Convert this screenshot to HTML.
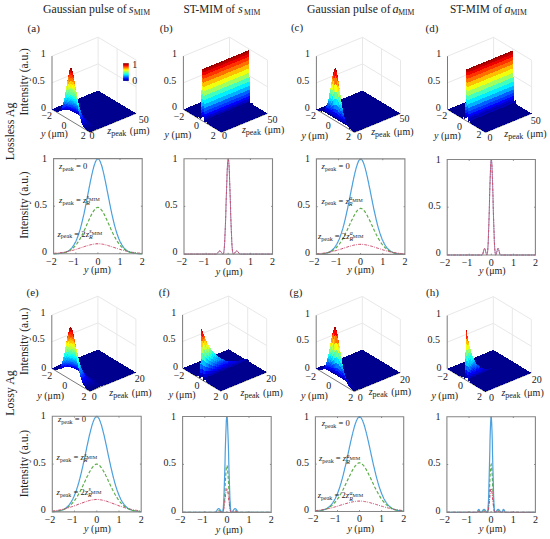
<!DOCTYPE html><html><head><meta charset="utf-8"><style>html,body{margin:0;padding:0;background:#fff}svg{display:block}</style></head><body><svg xmlns="http://www.w3.org/2000/svg" width="550" height="539" viewBox="0 0 550 539" font-family='"Liberation Serif", serif' fill="#222"><rect width="550" height="539" fill="#fff"/><defs><filter id="bl" x="-5%" y="-5%" width="110%" height="110%"><feGaussianBlur stdDeviation="0.4"/></filter></defs><path d="M52 82.8L98.1 63.9" stroke="#e8e8e8" stroke-width="1.0" fill="none"/><path d="M98.1 63.9L136.1 86.8" stroke="#e8e8e8" stroke-width="1.0" fill="none"/><path d="M52 56.1L98.1 37.2" stroke="#e8e8e8" stroke-width="1.0" fill="none"/><path d="M98.1 37.2L136.1 60.1" stroke="#e8e8e8" stroke-width="1.0" fill="none"/><path d="M98.1 90.5L98.1 37.2" stroke="#e8e8e8" stroke-width="1.0" fill="none"/><path d="M117.1 102L117.1 48.7" stroke="#e8e8e8" stroke-width="1.0" fill="none"/><path d="M136.1 113.4L136.1 60.1" stroke="#e8e8e8" stroke-width="1.0" fill="none"/><path d="M52 109.4L52 56.1" stroke="#7a7a7a" stroke-width="1.0" fill="none"/><path d="M52 109.4L90 132.3" stroke="#7a7a7a" stroke-width="1.0" fill="none"/><path d="M90 132.3L136.1 113.4" stroke="#7a7a7a" stroke-width="1.0" fill="none"/><g shape-rendering="crispEdges" filter="url(#bl)" transform="translate(.013 .017)"><path fill="#00008f" d="M63.1 104.9 101.1 127.8 136.1 113.4 98.1 90.5Z"/><path fill="#00008f" d="M63.1 104.7l1.9 1.2 2.8 1.6.7.5.7.4.8.4 1.4.8.7.5 2.8 1.6.8.5 2.1 1.2.7.5 2.1 1.2.8.5 2.1 1.2.7.5 1.4.8.7.5.8.4.7.5 1.4.8.7.5 1.4.8.7.5.8.4.7.5 1.4.8.7.5 1.4.8.7.5.8.4.7.5 1.9 1.1-.3.1-1.9-1.2-1.4-.8-.8-.5-.7-.4-.7-.5-1.4-.8-.7-.5-.7-.4-.7-.5-.8-.4-.7-.4-.7-.5-.7-.4-.7-.5-1.4-.8-.7-.5-.8-.4-.7-.4-.7-.5-1.4-.8-.7-.5-1.4-.8-.8-.5-2.1-1.2-.7-.5-2.1-1.2-.8-.4-.7-.5-3.5-2-.7-.5-.8-.4-2.8-1.6-.7-.5-1.9-1.1zM62.8 104.8l1.9 1.1.7.5 2.8 1.6.8.4.7.5 3.5 2 .7.5.8.4 2.1 1.2.7.5 2.1 1.2.8.5 1.4.8.7.5 1.4.8.7.5.7.4.8.4.7.5 1.4.8.7.5.7.4.7.5.7.4.8.4.7.5.7.4.7.5 1.4.8.7.5.7.4.8.5 1.4.8 1.9 1.2-.3.1-1.9-1.2-.7-.4-.7-.5-1.4-.8-.8-.5-.7-.4-.7-.5-.7-.4-.7-.5-.7-.4-.7-.5-.7-.4-.8-.4-.7-.5-.7-.4-.7-.5-.7-.4-.7-.5-1.4-.8-.8-.5-1.4-.8-.7-.5-2.1-1.2-.7-.5-.8-.4-2.1-1.2-.7-.5-2.1-1.2-.8-.4-1.4-.8-.7-.5-2.8-1.6-.8-.4-.7-.4-.7-.5-.7-.4-1.9-1.1zM62.5 104.9l1.9 1.1.7.4.7.5.7.4.8.4 2.8 1.6.7.5 1.4.8.8.4 2.1 1.2.7.5 2.1 1.2.8.4.7.5 2.1 1.2.7.5 1.4.8.8.5 1.4.8.7.5.7.4.7.5.7.4.7.5.8.4.7.4.7.5.7.4.7.5.7.4.7.5.7.4.8.5 1.4.8.7.5.7.4 1.9 1.2-.3.1-1.9-1.2-.7-.4-.7-.5-.7-.4-.7-.5-.7-.4-.7-.5-.8-.4-.7-.5-.7-.4-.7-.5-.7-.4-.7-.5-.7-.4-.7-.5-.8-.4-.7-.5-1.4-.8-.7-.5-.7-.4-.7-.5-.7-.4-.8-.4-.7-.5-2.1-1.2-.7-.5-1.4-.8-.8-.4-1.4-.8-.7-.5-2.8-1.6-.8-.4-3.5-2-.7-.5-.7-.4-.8-.4-.7-.4-1.9-1.1zM62.2 105l1.9 1.1.7.4.8.4.7.4.7.5 3.5 2 .8.4 2.8 1.6.7.5 1.4.8.8.4 1.4.8.7.5 2.1 1.2.7.5.8.4.7.4.7.5.7.4.7.5 1.4.8.7.5.8.4.7.5.7.4.7.5.7.4.7.5.7.4.7.5.8.4.7.5.7.4.7.5.7.4.7.5.7.4 1.9 1.2-.2.1-1.9-1.2-.8-.5-.7-.4-.7-.5-.7-.4-.7-.5-.7-.4-.7-.5-.7-.4-.8-.5-.7-.4-.7-.5-.7-.4-1.4-1-.7-.4-.7-.5-.8-.4-.7-.5-1.4-.8-.7-.5-.7-.4-.7-.5-.7-.4-.8-.4-.7-.4-.7-.5-3.5-2-.8-.4-1.4-.8-.7-.5-2.8-1.6-.8-.4-4.9-2.8-1.9-1.1zM62 105.1l1.9 1.1 4.9 2.8.8.4 2.8 1.6.7.5 1.4.8.8.4 3.5 2 .7.5.7.4-.2-.1-.7-.4-.8-.4-3.5-2-.7-.5-.7-.4-.8-.4-.7-.3-4.2-2.4-.8-.4-3.5-2-1.9-1.1z"/><path fill="#00009f" d="M81 116l.7.4-.3 0-.7-.4-.7-.5z"/><path fill="#00008f" d="M81.7 116.4l.7.5.7.4.7.5 1.4.8.7.5.8.4.7.5.7.4 1.4 1 .7.4.7.5.7.4.8.5.7.4.7.5.7.4.7.5.7.4.7.5.7.4.8.5 1.9 1.2-.3.1-1.9-1.2-.7-.5-.7-.4-.8-.5-.7-.5-.7-.4-.7-.5-.7-.4-1.4-1-.7-.4-.8-.5-.7-.4-1.4-1-.7-.4-.7-.5-.7-.4-.7-.5-.8-.4-.7-.5-.7-.4-.7-.5-.7-.4zM61.7 105.2l1.9 1.1 3.5 2 .8.4 4.2 2.4.7.3.8.4.7.4-.3 0-2.1-1.2-.8-.3-4.9-2.8-.8-.4-2.1-1.2-1.9-1z"/><path fill="#00009f" d="M74.3 112.2l.7.5 3.5 2 .8.4.7.4.7.5 1.4.8.7.5.7.4.7.5.8.4.7.5.7.4.7.5-.3-.1-.7-.4-.7-.5-.7-.4-1.4-1-.8-.4-.7-.4-.7-.5-1.4-.8-.7-.5-1.4-.8-.8-.4-2.8-1.6z"/><path fill="#00008f" d="M87.1 120l.7.4 1.4 1 .7.4.8.5.7.4 1.4 1 .7.4.7.5.7.4.7.5.8.5.7.4.7.5 1.9 1.2-.3.1-1.9-1.2-1.4-1-.7-.4-.7-.5-.8-.5-.7-.4-1.4-1-.7-.4-2.1-1.5-.8-.4-1.4-1zM61.4 105.3l1.9 1 2.1 1.2.8.4 4.9 2.8-.2-.1-.7-.3-.8-.4-2.1-1.2-.7-.3-2.1-1.2-.8-.4-.7-.4-1.9-1z"/><path fill="#00009f" d="M71.1 110.7l.8.3 4.9 2.8.8.4 1.4.8.7.5 1.4.8.7.5.7.4.8.4 1.4 1 .7.4.7.5.7.4 1.4 1 .8.4.7.5-.3 0-1.4-1-.7-.4-.8-.5-1.4-1-.7-.4-1.4-1-.7-.4-.7-.5-.8-.4-.7-.4-.7-.5-3.5-2-.8-.4-1.4-.8-.7-.3-2.1-1.2z"/><path fill="#00008f" d="M89.7 121.8l1.4 1 .7.4 1.4 1 .7.4.8.5.7.5.7.4 1.4 1 1.9 1.2-.3.1-1.9-1.3-.7-.4-1.4-1-.7-.4-1.4-1-.8-.5-.7-.5-.7-.4-1.4-1zM61.1 105.4l1.9 1 .7.4.8.4 2.1 1.2.7.3 2.1 1.2-.2 0-.7-.4-.8-.4-.7-.3-1.4-.8-.7-.3-2.1-1.2-1.9-1z"/><path fill="#00009f" d="M69.4 109.9l.8.4.7.3 2.1 1.2.7.3 1.4.8.8.4 3.5 2 .7.5.7.4.8.4.7.5.7.4 1.4 1 .7.4 1.4 1 .8.5.7.4 2.8 2-.3 0-4.9-3.5-.8-.5-.7-.5-.7-.4-1.4-1-.7-.4-.7-.5-.7-.4-.8-.4-4.9-2.8-.8-.3-1.4-.8-.7-.3-1.4-.8-.7-.3z"/><path fill="#00008f" d="M90.8 122.8l.7.4.7.5.8.5 1.4 1 .7.4 1.4 1 .7.4 1.9 1.3-.2.1-1.9-1.3-.8-.5-.7-.4-4.2-3-.8-.4zM60.9 105.5l1.9 1 2.1 1.2.7.3 1.4.8.7.3-.2.1-.8-.4-.7-.4-.7-.3-1.4-.8-.7-.3-.7-.4-1.9-1z"/><path fill="#00009f" d="M67.7 109.1l.8.4.7.4.7.3 1.4.8.7.3 1.4.8.8.3 2.1 1.2-.3-.2-.7-.4-.7-.3-1.4-.8-.8-.3-.7-.4-.7-.3-.7-.4-1.4-.6-.7-.4-.7-.3z"/><path fill="#0000af" d="M76 113.4l2.1 1.2.8.4 1.4.8.7.5.7.4 1.4 1 .3.2-1.4-1-.7-.4-.7-.5-.7-.4-.8-.4-2.8-1.6z"/><path fill="#00009f" d="M83.4 117.9l.7.4.7.5.8.5 4.9 3.5.8.4.7.5-.3.1-.7-.6-.7-.5-.8-.5-4.9-3.5-.8-.5-.7-.5z"/><path fill="#00008f" d="M92 123.7l3.5 2.5.7.4.8.5 1.9 1.3-.3.1-1.9-1.3-.7-.5-.8-.5-.7-.5-.7-.4-2.1-1.5zM60.6 105.6l1.9 1 .7.4.7.3 1.4.8.7.3.7.4-.2 0-.7-.3-.8-.4-.7-.3-.7-.4-.7-.3-.7-.4-1.9-1z"/><path fill="#00009f" d="M66.7 108.8l.8.4.7.3.7.4 1.4.6.7.4.7.3.7.4.8.3-.3-.1-.7-.3-.7-.4-.8-.3-1.4-.6-.7-.4-1.4-.6-.7-.4z"/><path fill="#0000af" d="M72.9 111.8l.7.3.7.4.7.3.7.4.7.3.8.4 2.1 1.2.7.5.7.4 1.4 1 .8.5 2.8 2 .3.2-1.4-1-.8-.5-2.1-1.5-.7-.4-.7-.5-1.4-.8-.8-.4-2.8-1.6-.7-.3-1.4-.8z"/><path fill="#00009f" d="M86 119.7l3.5 2.5.8.5.7.5.7.6.7.5-.3 0-.7-.5-.7-.6-1.4-1-.7-.6-.8-.5-.7-.5-.7-.6-.7-.5z"/><path fill="#00008f" d="M92.4 124.3l1.4 1 .7.4.7.5.8.5.7.5 1.9 1.3-.3.1-1.9-1.3-2.1-1.5-.8-.5-1.4-1zM60.3 105.7l1.9 1 .7.4.7.3.7.4.7.3.8.4-.3 0-.7-.3-.7-.4-.8-.3-.7-.4-.7-.3-1.9-1z"/><path fill="#00009f" d="M65.8 108.5l.7.3.7.4 1.4.6.7.4 1.4.6.8.3-.3-.1-1.4-.6-.8-.3-2.1-.9-.7-.4-.7-.3z"/><path fill="#0000af" d="M71.2 111l2.8 1.2.7.4.8.3.7.3 1.4.8.3.3-.7-.4-.8-.4-.7-.3-.7-.4-.7-.3-.7-.4-1.4-.6-.7-.4z"/><path fill="#0000bf" d="M77.6 114l2.1 1.2.7.5.3.3-.7-.4-.7-.5-1.4-.8z"/><path fill="#0000af" d="M80.4 115.7l.8.5 2.8 2 .7.6.7.5.7.6.8.5.2.2-.7-.6-3.5-2.5-.8-.5-1.4-1z"/><path fill="#00009f" d="M87.1 120.6l.7.5.8.5.7.6 1.4 1 .7.6 1.4 1-.2 0-.8-.5-.7-.5-.7-.6-.7-.5-.7-.6-.7-.5-1.4-1.2z"/><path fill="#00008f" d="M92.8 124.8l.7.5.8.5 2.1 1.5 1.9 1.3-.3.1-1.9-1.3-2.8-2-.7-.6zM60 105.8l1.9 1 .7.3.7.4.8.3.7.4-.3 0-1.4-.6-.7-.4-.8-.3-1.9-1z"/><path fill="#00009f" d="M64.8 108.2l1.4.6.7.4 2.1.9.8.3-.3-.1-1.4-.6-.8-.2-2.1-.9-.7-.4z"/><path fill="#0000af" d="M69.5 110.3l.7.3.7.2 2.1.9.8.3.2.2-4.2-1.8z"/><path fill="#0000bf" d="M73.8 112l.7.2.7.4 1.4.6 2.1 1.2.8.4 2.8 2 1.4 1.2.3.2-2.8-2-.8-.5-.7-.5-3.5-2-.7-.3-.8-.3-.7-.4z"/><path fill="#0000af" d="M84 118.2l.7.6.7.5.7.6.8.5 1.4 1.2-.3-.1-2.8-2.4-.8-.6-.7-.5z"/><path fill="#00009f" d="M88.3 121.6l.7.5.7.6.7.5.7.6.7.5.8.5.7.6-.3 0-.7-.5-.7-.6-.7-.5-.8-.6-.7-.6-.7-.5-.7-.6z"/><path fill="#00008f" d="M93.3 125.4l2.8 2 1.9 1.3-.3.1-1.9-1.3-1.4-1-.7-.6-.7-.5zM59.7 105.9l1.9 1 .8.3.7.4 1.4.6-.3.1-1.4-.6-.7-.4-.7-.3-1.9-1z"/><path fill="#00009f" d="M64.5 108.2l.7.4 2.1.9.8.2.7.3-.3 0-1.4-.6-.7-.2-.8-.3-1.4-.6z"/><path fill="#0000af" d="M68.5 110l1.4.4.7.3.7.2.3.2-.7-.3-.7-.2-1.4-.6z"/><path fill="#0000bf" d="M71.3 110.9l.8.2.7.3.7.2 2.1.9.3.4-.7-.3-.7-.4-.7-.2-.8-.3-1.4-.6z"/><path fill="#0000cf" d="M75.6 112.5l1.4.6.8.4 1.4.8 1.4 1 .7.6.3.4-2.1-1.5-.8-.4-2.1-1.2-.7-.3z"/><path fill="#0000bf" d="M81.3 115.9l.7.6.7.5.8.6.7.6.7.7.7.6.3.2-.7-.6-.8-.6-.7-.5-1.4-1.2-.7-.5z"/><path fill="#0000af" d="M85.9 119.7l2.8 2.4-.3-.1-.7-.6-.7-.7-1.4-1.2z"/><path fill="#00009f" d="M88.7 122.1l.7.5.7.6.8.6.7.5.7.6.7.5-.3.1-.7-.6-.7-.5-2.1-1.8-.8-.6z"/><path fill="#00008f" d="M93 125.4l.7.5.7.6 1.4 1 1.9 1.3-.2.1-1.9-1.3-.7-.5-.8-.5-.7-.6-.7-.5zM59.5 106l1.9 1 .7.3.7.4.7.3-.3.1-.7-.3-.7-.4-.7-.3-1.9-1z"/><path fill="#00009f" d="M63.5 108l2.1.9.8.3.7.2.7.3-.3 0-.7-.3-.7-.2-.7-.3-.7-.2-.8-.3-.7-.3z"/><path fill="#0000af" d="M67.5 109.7l2.1.6.8.2.2.2-.7-.3-1.4-.4-.7-.3z"/><path fill="#0000bf" d="M70.4 110.5l.7.2.7.1 1.4.4.3.4-.7-.2-.7-.3-.8-.2-.7-.2z"/><path fill="#0000cf" d="M73.2 111.2l.7.3.7.2.7.3.8.2.7.4.2.5-3.5-1.5z"/><path fill="#0000df" d="M76.8 112.6l.7.3.7.4 1.4 1 .3.5-.7-.5-1.4-.8-.8-.4z"/><path fill="#0000cf" d="M79.6 114.3l.7.5.7.6.8.6.7.6 1 1-.8-.6-.7-.5-1.4-1.2-.7-.5z"/><path fill="#0000bf" d="M83.2 117.3l.7.6.7.7.7.6.7.7.3.2-1.4-1.2-.7-.7-.7-.6z"/><path fill="#0000af" d="M86.3 120.1l.7.6.7.7.7.6.8.6-.3-.1-.7-.6-.7-.7-.8-.6-.7-.7z"/><path fill="#00009f" d="M89.2 122.6l2.1 1.8.7.5.7.6.7.5-.2.1-.8-.6-.7-.5-2.1-1.8-.7-.7z"/><path fill="#00008f" d="M93.4 126l.7.6.8.5.7.5 1.9 1.3-.3.1-1.9-1.3-1.4-1-.7-.6zM59.2 106.1l1.9 1 .7.3.7.4.7.3-.2.1-.8-.3-.7-.3-.7-.4-1.9-.9z"/><path fill="#00009f" d="M63.2 108.1l.7.3.8.3.7.2.7.3.7.2-.3 0-1.4-.4-.7-.3-.7-.2-.7-.3z"/><path fill="#0000af" d="M66.5 109.4l1.4.4.8.1.7.2.2.2-2.1-.6-.7-.3z"/><path fill="#0000bf" d="M69.4 110.1l.7.1.7.2.7.1.3.3-.7-.1-.7-.2-.8-.2z"/><path fill="#0000cf" d="M71.5 110.5l.7.2.7.1.7.2.3.5-.7-.3-1.4-.4z"/><path fill="#0000df" d="M73.6 111l.8.2 1.4.4.7.3.7.4.7.3 1.4 1 .8.6.7.6.7.7.7.6.3.5-.7-.6-.8-.6-.7-.6-2.1-1.5-.7-.4-.7-.3-.7-.4-.8-.2-.7-.3-.7-.2z"/><path fill="#0000cf" d="M82.2 116.1l2.1 2.1.3.4-.7-.7-.7-.6-.7-.7z"/><path fill="#0000bf" d="M84.6 118.6l.7.6.5.5-.8-.7-.7-.8z"/><path fill="#0000af" d="M86.7 120.6l.8.6.7.7.7.6.7.7-.3 0z"/><path fill="#00009f" d="M89.6 123.2l2.1 1.8.7.5.8.6-.3.1-1.4-1.2-.8-.6-1.4-1.2z"/><path fill="#00008f" d="M93.2 126.1l.7.6 1.4 1 1.9 1.3-.3.2-1.9-1.4-1.4-1-.7-.6zM58.9 106.3l1.9.9.7.4.7.3.8.3-.3.1-1.4-.6-.8-.4-1.9-.9z"/><path fill="#00009f" d="M63 108.2l.7.3.7.2.7.3.7.2-.3 0-1.4-.4-.7-.3-.7-.2z"/><path fill="#0000af" d="M65.8 109.2l2.1.6.8.1-.3-.1-1.4-.2-.8-.2-.7-.2z"/><path fill="#0000bf" d="M68.4 109.8l1.4.2.3.2-.7-.1-.7-.2z"/><path fill="#0000cf" d="M69.8 110l.7.1.7 0 .7.1.3.5-.7-.2-.7-.1-.7-.2z"/><path fill="#0000df" d="M71.9 110.2l.8.1 1.4.2.3.7-.8-.2-.7-.2-.7-.1z"/><path fill="#0000ef" d="M74.1 110.5l1.4.4 1.4.6.7.4.8.4 2.1 1.8.7.7.3.7-.7-.7-.7-.6-.8-.6-1.4-1-.7-.3-.7-.4-.7-.3-1.4-.4z"/><path fill="#0000df" d="M81.2 114.8l.7.8.7.7.7.8.3.4-1.4-1.4-.7-.6z"/><path fill="#0000cf" d="M83.3 117.1l.8.8.7.8 1 1-.8-.7-.7-.8-.7-.7z"/><path fill="#0000bf" d="M87.2 121.1l-.3-.1-1.4-1.6z"/><path fill="#0000af" d="M87.2 121.1l2.1 2.1.7.6-.2 0-.8-.7-2.1-2.1z"/><path fill="#00009f" d="M90 123.8l.7.6.8.6 1.4 1.2-.3.1-2.1-1.8-.7-.7z"/><path fill="#00008f" d="M92.9 126.2l.7.6 1.4 1 1.9 1.4-.3.1-1.9-1.3-.7-.6-.7-.5-.7-.6zM58.6 106.4l1.9.9.8.4 1.4.6-.3.1-2.1-.9-1.9-1z"/><path fill="#00009f" d="M62.7 108.3l.7.2.7.3 1.4.4-.3.1-1.4-.4-.7-.3-.7-.2z"/><path fill="#0000af" d="M65.5 109.2l.7.2.8.2.7.1-.3-.1-1.4-.2-.8-.1z"/><path fill="#0000bf" d="M67.4 109.6l.7.1.7 0 .3.2-1.4-.2z"/><path fill="#0000cf" d="M68.8 109.7l1.4 0 .3.4-1.4-.2z"/><path fill="#0000df" d="M70.2 109.7l1.5 0 .7.1.3.5-.8-.1-.7-.1-.7 0z"/><path fill="#0000ef" d="M72.4 109.8l.7 0 .7.1.3.6-1.4-.2z"/><path fill="#0000ff" d="M73.8 109.9l1.4.2.7.2.7.3.3.9-1.4-.6-1.4-.4z"/><path fill="#0010ff" d="M76.6 110.6l.8.4.7.5.3.8-.8-.4-.7-.4z"/><path fill="#0000ff" d="M78.1 111.5l.7.5 2.1 2.1.3.7-.7-.7-2.1-1.8z"/><path fill="#0000ef" d="M80.9 114.1l.7.8.7.9.3.5-.7-.7-.7-.8z"/><path fill="#0000df" d="M82.3 115.8l.8.8.7.9.7.8.3.4-.7-.8-.8-.8-.7-.8z"/><path fill="#0000cf" d="M84.8 118.7l.7.7.7.8-.3-.2-.7-.8-.7-.9z"/><path fill="#0000bf" d="M86.2 120.2l.7.8.7.7-.3-.1-1.4-1.6z"/><path fill="#0000af" d="M87.6 121.7l1.4 1.4.8.7-.3.1-.7-.8-.8-.7-.7-.8z"/><path fill="#00009f" d="M89.8 123.8l.7.7 2.1 1.8-.3.1-1.4-1.2-.7-.7-.7-.6z"/><path fill="#00008f" d="M92.6 126.3l.7.6.7.5.7.6 1.9 1.3-.2.1-1.9-1.3-.8-.5-1.4-1.2zM58.4 106.5l1.9 1 2.1.9-.3.1-2.1-.9-1.9-.9z"/><path fill="#00009f" d="M62.4 108.4l.7.2.7.3 1.4.4-.2 0-.7-.2-.8-.1-.7-.2-.7-.3z"/><path fill="#0000af" d="M65.2 109.3l.8.1.7.1-.3 0-1.4-.2z"/><path fill="#0000bf" d="M68.5 109.5l.3.2-.7 0-1.4-.2z"/><path fill="#0000cf" d="M68.5 109.5l.7 0 .3.2-.7 0z"/><path fill="#0000df" d="M69.2 109.5l.8-.1.7-.1.2.4-1.4 0z"/><path fill="#0000ef" d="M70.7 109.3l1.4-.2.3.7-.7-.1-.8 0z"/><path fill="#0000ff" d="M72.1 109.1l1.4 0 .3.8-.7-.1-.7 0z"/><path fill="#0010ff" d="M73.5 109.1l.7 0 .7.1.8.2.2.9-.7-.2-1.4-.2z"/><path fill="#0020ff" d="M75.7 109.4l.7.2.7.4.7.5.7.6.3.9-1.4-1-.8-.4-.7-.3z"/><path fill="#0010ff" d="M78.5 111.1l1.4 1.4.7.9.3.7-2.1-2.1z"/><path fill="#0000ff" d="M80.6 113.4l.8.8.7 1 .2.6-.7-.9-.7-.8z"/><path fill="#0000ef" d="M82.1 115.2l1.4 1.8.3.5-.7-.9-.8-.8z"/><path fill="#0000df" d="M83.8 117.5l.7.8.7.9-.3-.3-.7-.9-.7-1z"/><path fill="#0000cf" d="M85.2 119.2l.7.8-.3-.2-.7-.9z"/><path fill="#0000bf" d="M85.9 120l2.1 2.4-.2 0-.7-.9-.8-.8-.7-.9z"/><path fill="#0000af" d="M88 122.4l.8.7.7.8-.3 0-.7-.8-.7-.7z"/><path fill="#00009f" d="M89.5 123.9l.7.6.7.7 1.4 1.2-.3.1-1.4-1.2-1.4-1.4z"/><path fill="#00008f" d="M92.3 126.4l1.4 1.2.8.5 1.9 1.3-.3.2-1.9-1.4-.7-.5-.7-.6-.8-.6zM58.1 106.7l1.9.9 2.1.9-.3.1-.7-.2-1.4-.6-1.9-1z"/><path fill="#00009f" d="M62.1 108.5l.7.3.7.2.8.1.7.2-.3.1-.7-.2-.7-.1-.7-.2-.8-.3z"/><path fill="#0000af" d="M65 109.3l1.4.2-.3 0-.7-.1-.7 0z"/><path fill="#0000bf" d="M66.8 109.5l.7-.1.3.1z"/><path fill="#0000cf" d="M67.5 109.4l.8-.1.7-.1.2.3-1.4 0z"/><path fill="#0000df" d="M69 109.2l.7-.2.3.4-.8.1z"/><path fill="#0000ef" d="M69.7 109l.7-.2.7-.1.3.5-1.4.2z"/><path fill="#0000ff" d="M71.1 108.7l.7-.2.3.6-.7.1z"/><path fill="#0010ff" d="M71.8 108.5l.7-.2.7-.1.3.9-1.4 0z"/><path fill="#0020ff" d="M73.2 108.2l.8-.1.7.1.2 1-.7-.1-.7 0z"/><path fill="#0030ff" d="M74.7 108.2l.7.1.7.2.7.3.7.5 1.4 1.4.3 1.1-.7-.7-.7-.6-.7-.5-.7-.4-.7-.2-.8-.2z"/><path fill="#0020ff" d="M78.9 110.7l.8.9.7.9.2.9-.7-.9-.7-.7z"/><path fill="#0010ff" d="M80.4 112.5l1.4 2 .3.7-.7-1-.8-.8z"/><path fill="#0000ff" d="M81.8 114.5l.7 1 .3.6-.7-.9z"/><path fill="#0000ef" d="M82.5 115.5l.7 1.1.7 1 .3.4-.7-1-.7-.9z"/><path fill="#0000df" d="M84.2 118l.7.9-.3-.3-.7-1z"/><path fill="#0000cf" d="M84.9 118.9l1.4 1.8-.2-.1-.7-1-.8-1z"/><path fill="#0000bf" d="M86.3 120.7l.8.8.7.9-.3-.1-.7-.8-.7-.9z"/><path fill="#0000af" d="M87.8 122.4l.7.7.7.8-.3.1-.7-.8-.7-.9z"/><path fill="#00009f" d="M89.2 123.9l1.4 1.4 1.4 1.2-.2.2-.7-.7-.8-.6-1.4-1.4z"/><path fill="#00008f" d="M92 126.5l.8.6.7.6.7.5 1.9 1.4-.3.1-1.9-1.3-.7-.6-.7-.5-.7-.6zM57.8 106.8l1.9 1 1.4.6.7.2-.2.2-.7-.3-.8-.3-.7-.3-1.9-1z"/><path fill="#00009f" d="M61.8 108.6l.8.3.7.2.7.1-.3.1-.7-.1-1.4-.4z"/><path fill="#0000af" d="M64 109.2l.7.2.7 0 .7.1-1 0-1.4-.2z"/><path fill="#0000bf" d="M65.8 109.5l.8-.1.2.1z"/><path fill="#0000cf" d="M66.6 109.4l.7-.1.7-.2.3.2-.8.1-.7.1z"/><path fill="#0000df" d="M68 109.1l.7-.2.3.3-.7.1z"/><path fill="#0000ef" d="M68.7 108.9l1.4-.6.3.5-1.4.4z"/><path fill="#0000ff" d="M70.1 108.3l.7-.3.3.7-.7.1z"/><path fill="#0010ff" d="M70.8 108l.7-.3.3.8-.7.2z"/><path fill="#0020ff" d="M71.5 107.7l.8-.2.2.8-.7.2z"/><path fill="#0030ff" d="M72.3 107.5l.7-.3.7-.1.3 1-.8.1-.7.1z"/><path fill="#0040ff" d="M73.7 107.1l.7-.1.7 0 .3 1.3-1.4-.2z"/><path fill="#0050ff" d="M75.1 107l.7.2.7.3.7.6.8.7.2 1.2-.7-.7-.7-.5-.7-.3-.7-.2z"/><path fill="#0040ff" d="M78 108.8l.7.8.7.9.3 1.1-.8-.9-.7-.7z"/><path fill="#0030ff" d="M79.4 110.5l.7 1 .7 1.1.3.9-.7-1-.7-.9z"/><path fill="#0020ff" d="M80.8 112.6l.7 1.2.3.7-.7-1z"/><path fill="#0010ff" d="M81.5 113.8l.7 1.1.3.6-.7-1z"/><path fill="#0000ff" d="M82.2 114.9l.7 1.2.3.5-.7-1.1z"/><path fill="#0000ef" d="M82.9 116.1l.8 1.1.7 1.1.2.3-1.4-2z"/><path fill="#0000df" d="M84.6 118.6l.8 1-.3-.2-.7-1.1z"/><path fill="#0000cf" d="M85.4 119.6l.7 1 .7.9-.3-.1-1.4-2z"/><path fill="#0000bf" d="M86.8 121.5l.7.8-.3 0-.7-.9z"/><path fill="#0000af" d="M87.5 122.3l.7.9.7.8.7.7-.2.1-.8-.8-.7-.8-.7-.9z"/><path fill="#00009f" d="M89.6 124.7l.7.7.8.6.7.7-.3.1-.7-.6-1.4-1.4z"/><path fill="#00008f" d="M91.8 126.7l.7.6.7.5.7.6 1.9 1.3-.3.1-1.9-1.3-.7-.5-1.4-1.2zM57.5 106.9l1.9 1 .7.3.8.3.7.3-.3.1-.7-.2-.7-.3-.7-.4-1.9-.9z"/><path fill="#00009f" d="M61.6 108.8l1.4.4.7.1-.3.1-.7-.1-1.4-.4z"/><path fill="#0000af" d="M63.7 109.3l1.4.2-1 0-.7-.1z"/><path fill="#0000bf" d="M65.6 109.5l.7-.2.3.1-.8.1z"/><path fill="#0000cf" d="M66.3 109.3l.7-.2.3.2-.7.1z"/><path fill="#0000df" d="M67 109.1l.7-.2.7-.3.3.3-1.4.4z"/><path fill="#0000ef" d="M68.4 108.6l.7-.4.3.4-.7.3z"/><path fill="#0000ff" d="M69.1 108.2l.7-.4.3.5-.7.3z"/><path fill="#0010ff" d="M69.8 107.8l.8-.4.2.6-.7.3z"/><path fill="#0020ff" d="M70.6 107.4l.7-.4.2.7-.7.3z"/><path fill="#0030ff" d="M71.3 107l.7-.4.3.9-.8.2z"/><path fill="#0040ff" d="M72 106.6l.7-.4.3 1-.7.3z"/><path fill="#0050ff" d="M72.7 106.2l.7-.3.7-.2.3 1.3-1.4.2z"/><path fill="#0060ff" d="M74.1 105.7l.7 0 .7.1.3 1.4-.7-.2-.7 0z"/><path fill="#0070ff" d="M75.5 105.8l.8.3.7.5.2 1.5-.7-.6-.7-.3z"/><path fill="#0060ff" d="M77 106.6l.7.8.7.9.3 1.3-.7-.8-.8-.7z"/><path fill="#0050ff" d="M78.4 108.3l.7 1 .7 1.2.3 1-.7-1-.7-.9z"/><path fill="#0040ff" d="M79.8 110.5l.7 1.2.3.9-.7-1.1z"/><path fill="#0030ff" d="M80.5 111.7l.7 1.3.3.8-.7-1.2z"/><path fill="#0020ff" d="M81.2 113l.8 1.3.2.6-.7-1.1z"/><path fill="#0010ff" d="M82 114.3l.7 1.2.2.6-.7-1.2z"/><path fill="#0000ff" d="M82.7 115.5l.7 1.3.3.4-.8-1.1z"/><path fill="#0000ef" d="M83.7 117.2l.7 1.1-.3-.3-.7-1.2z"/><path fill="#0000df" d="M84.4 118.3l.7 1.1.7 1-.3-.1-.7-1.1-.7-1.2z"/><path fill="#0000cf" d="M85.8 120.4l.7 1-.3 0-.7-1.1z"/><path fill="#0000bf" d="M86.5 121.4l1.4 1.8-.2.1-.8-1-.7-.9z"/><path fill="#0000af" d="M87.9 123.2l.7.8.8.8-.3.1-1.4-1.6z"/><path fill="#00009f" d="M89.4 124.8l1.4 1.4.7.6-.3.1-.7-.6-1.4-1.4z"/><path fill="#00008f" d="M91.5 126.8l1.4 1.2.7.5 1.9 1.3-.2.2-1.9-1.3-.8-.6-1.4-1.2zM57.3 107.1l1.9.9.7.4.7.3.7.2-.3.2-2.1-.9-1.9-1z"/><path fill="#00009f" d="M61.3 108.9l1.4.4.7.1-.2.2-.8-.2-.7-.1-.7-.2z"/><path fill="#0000af" d="M63.4 109.4l.7.1.8 0-.3.1-1.4 0z"/><path fill="#0000bf" d="M64.6 109.6l.7-.1.7-.2.3 0-.7.2-.7 0z"/><path fill="#0000cf" d="M66 109.3l.7-.3.3.1-.7.2z"/><path fill="#0000df" d="M66.7 109l.7-.3.3.2-.7.2z"/><path fill="#0000ef" d="M67.4 108.7l.7-.4.3.3-.7.3z"/><path fill="#0000ff" d="M68.1 108.3l.8-.5.2.4-.7.4z"/><path fill="#0010ff" d="M68.9 107.8l.7-.5.2.5-.7.4z"/><path fill="#0020ff" d="M69.6 107.3l.7-.6.3.7-.8.4z"/><path fill="#0030ff" d="M70.3 106.7l.7-.6.3.9-.7.4z"/><path fill="#0040ff" d="M71 106.1l.7-.5.3 1-.7.4z"/><path fill="#0050ff" d="M71.7 105.6l.7-.5.3 1.1-.7.4z"/><path fill="#0060ff" d="M72.4 105.1l.7-.5.3 1.3-.7.3z"/><path fill="#0070ff" d="M73.1 104.6l.7-.3.3 1.4-.7.2z"/><path fill="#0080ff" d="M73.8 104.3l.8-.1.7 0 .2 1.6-.7-.1-.7 0z"/><path fill="#008fff" d="M75.3 104.2l.7.3.7.6.3 1.5-.7-.5-.8-.3z"/><path fill="#0080ff" d="M76.7 105.1l.7.8.7 1 .3 1.4-.7-.9-.7-.8z"/><path fill="#0070ff" d="M78.1 106.9l.7 1.2.3 1.2-.7-1z"/><path fill="#0060ff" d="M78.8 108.1l.7 1.3.3 1.1-.7-1.2z"/><path fill="#0050ff" d="M79.5 109.4l.8 1.3.2 1-.7-1.2z"/><path fill="#0040ff" d="M80.3 110.7l.7 1.4.2.9-.7-1.3z"/><path fill="#0030ff" d="M81 112.1l.7 1.5.3.7-.8-1.3z"/><path fill="#0020ff" d="M81.7 113.6l.7 1.4.3.5-.7-1.2z"/><path fill="#0010ff" d="M82.7 115.5l.7 1.3-.3-.4-.7-1.4z"/><path fill="#0000ff" d="M83.4 116.8l.7 1.2-.3-.3-.7-1.3z"/><path fill="#0000ef" d="M84.1 118l.7 1.2-.3-.2-.7-1.3z"/><path fill="#0000df" d="M84.8 119.2l.7 1.1-.3-.1-.7-1.2z"/><path fill="#0000cf" d="M85.5 120.3l.7 1.1-.2-.1-.8-1.1z"/><path fill="#0000bf" d="M86.2 121.4l.7.9.8 1-.3 0-1.4-2z"/><path fill="#0000af" d="M87.7 123.3l1.4 1.6-.3.1-.7-.8-.7-.9z"/><path fill="#00009f" d="M89.1 124.9l1.4 1.4.7.6-.3.2-.7-.6-.7-.7-.7-.8z"/><path fill="#00008f" d="M91.2 126.9l1.4 1.2.8.6 1.9 1.3-.3.1-1.9-1.3-.7-.5-.7-.6-.8-.6zM57 107.2l1.9 1 2.1.9.7.2-.2.1-.8-.2-.7-.2-.7-.3-.7-.4-1.9-.9z"/><path fill="#00009f" d="M61.7 109.3l.7.1.8.2-.3.1-.7-.1-.7-.2z"/><path fill="#0000af" d="M63.2 109.6l1.1 0-.7.1-.7 0z"/><path fill="#0000bf" d="M64.3 109.6l.7-.1.7-.2.3 0-.7.2-.7.1z"/><path fill="#0000cf" d="M65.7 109.3l.7-.4.3.1-.7.3z"/><path fill="#0000df" d="M66.4 108.9l.8-.4.2.2-.7.3z"/><path fill="#0000ef" d="M67.2 108.5l.7-.5.2.3-.7.4z"/><path fill="#0000ff" d="M67.9 108l.7-.6.3.4-.8.5z"/><path fill="#0020ff" d="M68.6 107.4l.7-.7.3.6-.7.5z"/><path fill="#0030ff" d="M69.3 106.7l.7-.7.3.7-.7.6z"/><path fill="#0040ff" d="M70 106l.7-.8.3.9-.7.6z"/><path fill="#0050ff" d="M70.7 105.2l.7-.7.3 1.1-.7.5z"/><path fill="#0070ff" d="M71.4 104.5l.7-.7.3 1.3-.7.5z"/><path fill="#0080ff" d="M72.1 103.8l.8-.5.2 1.3-.7.5z"/><path fill="#008fff" d="M72.9 103.3l.7-.5.2 1.5-.7.3z"/><path fill="#009fff" d="M73.6 102.8l.7-.2.7-.1.3 1.7-.7 0-.8.1z"/><path fill="#00afff" d="M75 102.5l.7.3.7.6.3 1.7-.7-.6-.7-.3z"/><path fill="#009fff" d="M76.4 103.4l.7.9.7 1.1.3 1.5-.7-1-.7-.8z"/><path fill="#008fff" d="M77.8 105.4l.8 1.3.2 1.4-.7-1.2z"/><path fill="#0080ff" d="M78.6 106.7l.7 1.4.2 1.3-.7-1.3z"/><path fill="#0070ff" d="M79.3 108.1l.7 1.6.3 1-.8-1.3z"/><path fill="#0050ff" d="M80 109.7l.7 1.5.3.9-.7-1.4z"/><path fill="#0040ff" d="M80.7 111.2l.7 1.6.3.8-.7-1.5z"/><path fill="#0030ff" d="M81.4 112.8l.7 1.6-.4-.8z"/><path fill="#0020ff" d="M83.1 116.4l-.3-.5-.7-1.5z"/><path fill="#0000ff" d="M83.1 116.4l.7 1.3-.3-.3-.7-1.5z"/><path fill="#0000ef" d="M83.8 117.7l.7 1.3-.2-.2-.8-1.4z"/><path fill="#0000df" d="M84.5 119l.7 1.2-.2-.1-.7-1.3z"/><path fill="#0000cf" d="M85.2 120.2l.8 1.1-.3 0-.7-1.2z"/><path fill="#0000bf" d="M86 121.3l1.4 2-.3.1-.7-1-.7-1.1z"/><path fill="#0000af" d="M87.4 123.3l.7.9.7.8-.3.1-.7-.8-.7-.9z"/><path fill="#00009f" d="M88.8 125l.7.8.7.7-.2.1-.8-.7-.7-.8z"/><path fill="#00008f" d="M90.2 126.5l.7.6.8.6.7.6.7.5 1.9 1.3-.3.2-1.9-1.4-.7-.5-2.1-1.8zM56.7 107.4l1.9.9.7.4.7.3.7.2.8.2-.3.2-.7-.2-.7-.3-.8-.3-.7-.3-1.9-1z"/><path fill="#00009f" d="M61.5 109.4l.7.2.7.1-.3.1-1.4-.2z"/><path fill="#0000af" d="M62.9 109.7l.7 0 .7-.1-.3.1-.7.1-.7 0z"/><path fill="#0000bf" d="M64 109.7l.7-.2.3 0-.7.1z"/><path fill="#0000cf" d="M64.7 109.5l.8-.3.7-.4.2.1-.7.4-.7.2z"/><path fill="#0000df" d="M66.2 108.8l.7-.5.3.2-.8.4z"/><path fill="#0000ff" d="M66.9 108.3l.7-.6.3.3-.7.5z"/><path fill="#0010ff" d="M67.6 107.7l.7-.8.3.5-.7.6z"/><path fill="#0020ff" d="M68.3 106.9l.7-.8.3.6-.7.7z"/><path fill="#0040ff" d="M69 106.1l.7-.9.3.8-.7.7z"/><path fill="#0050ff" d="M69.7 105.2l.7-.9.3.9-.7.8z"/><path fill="#0070ff" d="M70.4 104.3l.8-.9.2 1.1-.7.7z"/><path fill="#0080ff" d="M71.2 103.4l.7-.9.2 1.3-.7.7z"/><path fill="#009fff" d="M71.9 102.5l.7-.7.3 1.5-.8.5z"/><path fill="#00afff" d="M72.6 101.8l.7-.6.3 1.6-.7.5z"/><path fill="#00bfff" d="M73.3 101.2l.7-.4.3 1.8-.7.2z"/><path fill="#00cfff" d="M74 100.8l.7-.1.7.2.7.6.8 1 .2 1.8-.7-.9-.7-.6-.7-.3-.7.1z"/><path fill="#00bfff" d="M76.9 102.5l.7 1.2.2 1.7-.7-1.1z"/><path fill="#00afff" d="M77.6 103.7l.7 1.5.3 1.5-.8-1.3z"/><path fill="#009fff" d="M78.3 105.2l.7 1.6.3 1.3-.7-1.4z"/><path fill="#0080ff" d="M79 106.8l.7 1.7.3 1.2-.7-1.6z"/><path fill="#0070ff" d="M79.7 108.5l.7 1.8.3.9-.7-1.5z"/><path fill="#0050ff" d="M80.4 110.3l.7 1.8.3.7-.7-1.6z"/><path fill="#0040ff" d="M81.4 112.8l.7 1.6-.3-.6-.7-1.7z"/><path fill="#0020ff" d="M82.1 114.4l.7 1.5-.2-.4-.8-1.7z"/><path fill="#0010ff" d="M82.8 115.9l.7 1.5-.2-.3-.7-1.6z"/><path fill="#0000ff" d="M83.5 117.4l.8 1.4-.3-.2-.7-1.5z"/><path fill="#0000df" d="M84.3 118.8l.7 1.3-.3-.1-.7-1.4z"/><path fill="#0000cf" d="M85 120.1l.7 1.2.7 1.1-.3 0-.7-1.1-.7-1.3z"/><path fill="#0000bf" d="M86.4 122.4l.7 1-.3.1-.7-1.1z"/><path fill="#0000af" d="M87.1 123.4l.7.9.7.8-.2.2-.8-.9-.7-.9z"/><path fill="#00009f" d="M88.5 125.1l.7.8.8.7-.3.1-1.4-1.4z"/><path fill="#00008f" d="M90 126.6l2.1 1.8.7.5 1.9 1.4-.3.1-1.9-1.3-.7-.5-1.4-1.2-.7-.7zM56.4 107.5l1.9 1 .7.3.8.3.7.3.7.2-.3.1-.7-.2-1.4-.6-.8-.3-1.9-1z"/><path fill="#00009f" d="M61.2 109.6l1.4.2-.3.1-.7 0-.7-.2z"/><path fill="#0000af" d="M62.6 109.8l.7 0 .7-.1-.3.1-.7.1-.7 0z"/><path fill="#0000bf" d="M64 109.7l.7-.2-.2.1-.8.2z"/><path fill="#0000cf" d="M64.5 109.6l.7-.4.3 0-.8.3z"/><path fill="#0000df" d="M65.2 109.2l.7-.5.3.1-.7.4z"/><path fill="#0000ef" d="M65.9 108.7l.7-.6.3.2-.7.5z"/><path fill="#0000ff" d="M66.6 108.1l.7-.8.3.4-.7.6z"/><path fill="#0010ff" d="M67.3 107.3l.7-.8.3.4-.7.8z"/><path fill="#0030ff" d="M68 106.5l.7-1 .3.6-.7.8z"/><path fill="#0050ff" d="M68.7 105.5l.7-1.1.3.8-.7.9z"/><path fill="#0060ff" d="M69.4 104.4l.8-1.1.2 1-.7.9z"/><path fill="#0080ff" d="M70.2 103.3l.7-1.1.3 1.2-.8.9z"/><path fill="#009fff" d="M70.9 102.2l.7-1.1.3 1.4-.7.9z"/><path fill="#00afff" d="M71.6 101.1l.7-.9.3 1.6-.7.7z"/><path fill="#00cfff" d="M72.3 100.2l.7-.8.3 1.8-.7.6z"/><path fill="#00dfff" d="M73 99.4l.7-.5.3 1.9-.7.4z"/><path fill="#00efff" d="M73.7 98.9l.7-.2.7.2.8.6.7 1.1.3 1.9-.8-1-.7-.6-.7-.2-.7.1z"/><path fill="#00dfff" d="M76.6 100.6l.7 1.4.3 1.7-.7-1.2z"/><path fill="#00cfff" d="M77.3 102l.7 1.6.3 1.6-.7-1.5z"/><path fill="#00afff" d="M78 103.6l.7 1.8.3 1.4-.7-1.6z"/><path fill="#009fff" d="M78.7 105.4l.7 1.9.3 1.2-.7-1.7z"/><path fill="#0080ff" d="M79.4 107.3l.7 2 .3 1-.7-1.8z"/><path fill="#0060ff" d="M80.1 109.3l.7 2 .3.8-.7-1.8z"/><path fill="#0050ff" d="M80.8 111.3l.8 1.9.2.6-.7-1.7z"/><path fill="#0030ff" d="M81.8 113.8l.8 1.7-.3-.5-.7-1.8z"/><path fill="#0010ff" d="M82.6 115.5l.7 1.6-.3-.3-.7-1.8z"/><path fill="#0000ff" d="M83.3 117.1l.7 1.5-.3-.2-.7-1.6z"/><path fill="#0000ef" d="M84 118.6l.7 1.4-.3-.1-.7-1.5z"/><path fill="#0000df" d="M84.7 120l.7 1.3-.3-.1-.7-1.3z"/><path fill="#0000cf" d="M85.4 121.3l.7 1.1-.3.1-.7-1.3z"/><path fill="#0000bf" d="M86.1 122.4l.7 1.1-.3 0-.7-1z"/><path fill="#0000af" d="M86.8 123.5l.7.9.8.9-.3.1-.7-.9-.8-1z"/><path fill="#00009f" d="M88.3 125.3l1.4 1.4-.3.2-.7-.7-.7-.8z"/><path fill="#00008f" d="M89.7 126.7l.7.7 1.4 1.2.7.5 1.9 1.3-.3.1-1.9-1.3-.7-.5-2.1-1.8zM56.1 107.6l1.9 1 .8.3 1.4.6.7.2-.3.2-.7-.2-1.4-.6-.7-.4-1.9-1z"/><path fill="#00009f" d="M60.9 109.7l.7.2.7 0-.3.2-1.4-.2z"/><path fill="#0000af" d="M62.3 109.9l.7 0 .7-.1-.2.1-.7.1-.8.1z"/><path fill="#0000bf" d="M63.5 109.9l.7-.3.3 0-.8.2z"/><path fill="#0000cf" d="M64.2 109.6l.7-.4.3 0-.7.4z"/><path fill="#0000df" d="M64.9 109.2l.7-.6.3.1-.7.5z"/><path fill="#0000ef" d="M65.6 108.6l.7-.7.3.2-.7.6z"/><path fill="#0010ff" d="M66.3 107.9l.7-.9.3.3-.7.8z"/><path fill="#0020ff" d="M67 107l.7-1 .3.5-.7.8z"/><path fill="#0040ff" d="M67.7 106l.8-1.2.2.7-.7 1z"/><path fill="#0060ff" d="M68.5 104.8l.7-1.2.2.8-.7 1.1z"/><path fill="#0080ff" d="M69.2 103.6l.7-1.3.3 1-.8 1.1z"/><path fill="#009fff" d="M69.9 102.3l.7-1.4.3 1.3-.7 1.1z"/><path fill="#00bfff" d="M70.6 100.9l.7-1.3.3 1.5-.7 1.1z"/><path fill="#00cfff" d="M71.3 99.6l.7-1.1.3 1.7-.7.9z"/><path fill="#00efff" d="M72 98.5l.7-1 .3 1.9-.7.8z"/><path fill="#00ffff" d="M72.7 97.5l.7-.6.3 2-.7.5z"/><path fill="#10ffef" d="M73.4 96.9l.8-.3.2 2.1-.7.2z"/><path fill="#20ffdf" d="M74.2 96.6l.7.1.7.7.3 2.1-.8-.6-.7-.2z"/><path fill="#10ffef" d="M75.6 97.4l.7 1.2.3 2-.7-1.1z"/><path fill="#00ffff" d="M76.3 98.6l.7 1.5.3 1.9-.7-1.4z"/><path fill="#00efff" d="M77 100.1l.7 1.8.3 1.7-.7-1.6z"/><path fill="#00cfff" d="M77.7 101.9l.7 2 .3 1.5-.7-1.8z"/><path fill="#00bfff" d="M78.4 103.9l.7 2.2.3 1.2-.7-1.9z"/><path fill="#009fff" d="M79.1 106.1l.8 2.2.2 1-.7-2z"/><path fill="#0080ff" d="M79.9 108.3l.7 2.1.2.9-.7-2z"/><path fill="#0060ff" d="M80.6 110.4l.7 2.2.3.6-.8-1.9z"/><path fill="#0040ff" d="M81.6 113.2l.7 1.8-.3-.4-.7-2z"/><path fill="#0020ff" d="M82.3 115l.7 1.8-.3-.3-.7-1.9z"/><path fill="#0010ff" d="M83 116.8l.7 1.6-.3-.2-.7-1.7z"/><path fill="#0000ef" d="M83.7 118.4l.7 1.5-.3-.1-.7-1.6z"/><path fill="#0000df" d="M84.4 119.9l.7 1.3-.3 0-.7-1.4z"/><path fill="#0000cf" d="M85.1 121.2l.7 1.3-.2 0-.8-1.3z"/><path fill="#0000bf" d="M85.8 122.5l.7 1-.2.1-.7-1.1z"/><path fill="#0000af" d="M86.5 123.5l.8 1 .7.9-.3.1-.7-.9-.7-1z"/><path fill="#00009f" d="M88 125.4l.7.8.7.7-.3.1-.7-.7-.7-.8z"/><path fill="#00008f" d="M89.4 126.9l2.1 1.8.7.5 1.9 1.3-.2.1-1.9-1.2-.7-.6-.8-.5-.7-.6-.7-.7zM55.9 107.7l1.9 1 .7.4 1.4.6.7.2-.3.1-.7-.2-2.1-.9-1.9-1z"/><path fill="#00009f" d="M60.6 109.9l1.4.2-.2.1-.7 0-.8-.2z"/><path fill="#0000af" d="M62 110.1l.8-.1.7-.1-.3.1-.7.2-.7 0z"/><path fill="#0000bf" d="M63.2 110l.7-.3.3-.1-.7.3z"/><path fill="#0000cf" d="M63.9 109.7l.7-.5.3 0-.7.4z"/><path fill="#0000df" d="M64.6 109.2l.7-.6.3 0-.7.6z"/><path fill="#0000ef" d="M65.3 108.6l.7-.9.3.2-.7.7z"/><path fill="#0010ff" d="M66 107.7l.8-1 .2.3-.7.9z"/><path fill="#0030ff" d="M66.8 106.7l.7-1.2.2.5-.7 1z"/><path fill="#0050ff" d="M67.5 105.5l.7-1.3.3.6-.8 1.2z"/><path fill="#0070ff" d="M68.2 104.2l.7-1.5.3.9-.7 1.2z"/><path fill="#008fff" d="M68.9 102.7l.7-1.5.3 1.1-.7 1.3z"/><path fill="#00afff" d="M69.6 101.2l.7-1.6.3 1.3-.7 1.4z"/><path fill="#00cfff" d="M70.3 99.6l.7-1.5.3 1.5-.7 1.3z"/><path fill="#00efff" d="M71 98.1l.7-1.4.3 1.8-.7 1.1z"/><path fill="#10ffef" d="M71.7 96.7l.8-1.1.2 1.9-.7 1z"/><path fill="#30ffcf" d="M72.5 95.6l.7-.9.2 2.2-.7.6z"/><path fill="#40ffbf" d="M73.2 94.7l.7-.4.3 2.3-.8.3z"/><path fill="#50ffaf" d="M73.9 94.3l.7.1.7.8.3 2.2-.7-.7-.7-.1z"/><path fill="#40ffbf" d="M75.3 95.2l.7 1.2.3 2.2-.7-1.2z"/><path fill="#30ffcf" d="M76 96.4l.7 1.7.3 2-.7-1.5z"/><path fill="#10ffef" d="M76.7 98.1l.7 2.1.3 1.7-.7-1.8z"/><path fill="#00efff" d="M77.4 100.2l.8 2.2.2 1.5-.7-2z"/><path fill="#00cfff" d="M78.2 102.4l.7 2.4.2 1.3-.7-2.2z"/><path fill="#00afff" d="M78.9 104.8l.7 2.4.3 1.1-.8-2.2z"/><path fill="#008fff" d="M79.9 108.3l.7 2.1-.3-.8-.7-2.4z"/><path fill="#0070ff" d="M80.6 110.4l.7 2.2-.3-.7-.7-2.3z"/><path fill="#0050ff" d="M81.3 112.6l.7 2-.3-.5-.7-2.2z"/><path fill="#0030ff" d="M82 114.6l.7 1.9-.3-.3-.7-2.1z"/><path fill="#0010ff" d="M82.7 116.5l.7 1.7-.3-.2-.7-1.8z"/><path fill="#0000ef" d="M83.4 118.2l.7 1.6-.2-.1-.8-1.7z"/><path fill="#0000df" d="M84.1 119.8l.7 1.4-.2 0-.7-1.5z"/><path fill="#0000cf" d="M84.8 121.2l.8 1.3-.3.1-.7-1.4z"/><path fill="#0000bf" d="M85.6 122.5l.7 1.1-.3.1-.7-1.1z"/><path fill="#0000af" d="M86.3 123.6l.7 1 .7.9-.3.2-.7-.9-.7-1.1z"/><path fill="#00009f" d="M87.7 125.5l.7.8.7.7-.3.2-.7-.7-.7-.8z"/><path fill="#00008f" d="M89.1 127l.7.7.7.6.8.5.7.6 1.9 1.2-.3.2-1.9-1.3-.7-.5-1.4-1.2-.8-.6zM55.6 107.9l1.9 1 2.1.9.7.2-.2.2-.7-.3-.8-.2-.7-.3-.7-.4-1.9-1z"/><path fill="#00009f" d="M60.3 110l.8.2.7 0-.3.1-.7 0-.7-.1z"/><path fill="#0000af" d="M61.8 110.2l.7 0 .7-.2-.3.1-.7.2-.7 0z"/><path fill="#0000bf" d="M62.9 110.1l.7-.4.3 0-.7.3z"/><path fill="#0000cf" d="M63.6 109.7l.7-.5.3 0-.7.5z"/><path fill="#0000df" d="M64.3 109.2l.8-.7.2.1-.7.6z"/><path fill="#0000ff" d="M65.1 108.5l.7-.9.2.1-.7.9z"/><path fill="#0010ff" d="M65.8 107.6l.7-1.2.3.3-.8 1z"/><path fill="#0030ff" d="M66.5 106.4l.7-1.3.3.4-.7 1.2z"/><path fill="#0050ff" d="M67.2 105.1l.7-1.5.3.6-.7 1.3z"/><path fill="#0080ff" d="M67.9 103.6l.7-1.7.3.8-.7 1.5z"/><path fill="#009fff" d="M68.6 101.9l.7-1.8.3 1.1-.7 1.5z"/><path fill="#00cfff" d="M69.3 100.1l.7-1.8.3 1.3-.7 1.6z"/><path fill="#00efff" d="M70 98.3l.8-1.8.2 1.6-.7 1.5z"/><path fill="#20ffdf" d="M70.8 96.5l.7-1.6.2 1.8-.7 1.4z"/><path fill="#40ffbf" d="M71.5 94.9l.7-1.4.3 2.1-.8 1.1z"/><path fill="#60ff9f" d="M72.2 93.5l.7-1 .3 2.2-.7.9z"/><path fill="#70ff8f" d="M72.9 92.5l.7-.6.3 2.4-.7.4z"/><path fill="#80ff80" d="M73.6 91.9l.7.1.7.8.3 2.4-.7-.8-.7-.1z"/><path fill="#70ff8f" d="M75 92.8l.7 1.4.3 2.2-.7-1.2z"/><path fill="#60ff9f" d="M75.7 94.2l.8 1.9.2 2-.7-1.7z"/><path fill="#40ffbf" d="M76.5 96.1l.7 2.2.2 1.9-.7-2.1z"/><path fill="#20ffdf" d="M77.2 98.3l.7 2.5.3 1.6-.8-2.2z"/><path fill="#00efff" d="M77.9 100.8l.7 2.6.3 1.4-.7-2.4z"/><path fill="#00cfff" d="M78.6 103.4l.7 2.7.3 1.1-.7-2.4z"/><path fill="#009fff" d="M79.6 107.2l.7 2.4-.3-.9-.7-2.6z"/><path fill="#0080ff" d="M80.3 109.6l.7 2.3-.3-.6-.7-2.6z"/><path fill="#0050ff" d="M81 111.9l.7 2.2-.3-.4-.7-2.4z"/><path fill="#0030ff" d="M81.7 114.1l.7 2.1-.2-.3-.8-2.2z"/><path fill="#0010ff" d="M82.4 116.2l.7 1.8-.2-.1-.7-2z"/><path fill="#0000ff" d="M83.1 118l.8 1.7-.3 0-.7-1.8z"/><path fill="#0000df" d="M83.9 119.7l.7 1.5-.3 0-.7-1.5z"/><path fill="#0000cf" d="M84.6 121.2l.7 1.4-.3 0-.7-1.4z"/><path fill="#0000bf" d="M85.3 122.6l.7 1.1-.3.1-.7-1.2z"/><path fill="#0000af" d="M86 123.7l.7 1.1.7.9-.3.1-.7-.9-.7-1.1z"/><path fill="#00009f" d="M87.4 125.7l.7.8.7.7-.2.1-1.5-1.5z"/><path fill="#00008f" d="M88.8 127.2l.8.6 1.4 1.2.7.5 1.9 1.3-.3.1-1.9-1.3-1.4-1-.7-.6-.7-.7zM55.3 108l1.9 1 .7.4.7.3.8.2.7.3-.3.1-.7-.2-1.4-.6-.8-.4-1.9-1z"/><path fill="#00009f" d="M60.1 110.2l.7.1 1.4 0-.3.1-.7.1-1.4-.2z"/><path fill="#0000af" d="M62.2 110.3l.7-.2-.3.1-.7.2z"/><path fill="#0000bf" d="M62.6 110.2l1-.5-.7.4z"/><path fill="#0000cf" d="M63.4 109.8l.7-.6.2 0-.7.5z"/><path fill="#0000df" d="M64.1 109.2l.7-.8.3.1-.8.7z"/><path fill="#0000ff" d="M64.8 108.4l.7-1 .3.2-.7.9z"/><path fill="#0020ff" d="M65.5 107.4l.7-1.3.3.3-.7 1.2z"/><path fill="#0040ff" d="M66.2 106.1l.7-1.5.3.5-.7 1.3z"/><path fill="#0060ff" d="M66.9 104.6l.7-1.7.3.7-.7 1.5z"/><path fill="#008fff" d="M67.6 102.9l.7-1.9.3.9-.7 1.7z"/><path fill="#00bfff" d="M68.3 101l.8-2 .2 1.1-.7 1.8z"/><path fill="#00dfff" d="M69.1 99l.7-2.1.2 1.4-.7 1.8z"/><path fill="#10ffef" d="M69.8 96.9l.7-2 .3 1.6-.8 1.8z"/><path fill="#40ffbf" d="M70.5 94.9l.7-1.9.3 1.9-.7 1.6z"/><path fill="#60ff9f" d="M71.2 93l.7-1.6.3 2.1-.7 1.4z"/><path fill="#80ff80" d="M71.9 91.4l.7-1.2.3 2.3-.7 1z"/><path fill="#9fff60" d="M72.6 90.2l.7-.7.3 2.4-.7.6z"/><path fill="#afff50" d="M73.3 89.5l.7 0 .8.9.2 2.4-.7-.8-.7-.1z"/><path fill="#9fff60" d="M74.8 90.4l.7 1.5.2 2.3-.7-1.4z"/><path fill="#80ff80" d="M75.5 91.9l.7 2.1.3 2.1-.8-1.9z"/><path fill="#60ff9f" d="M76.2 94l.7 2.4.3 1.9-.7-2.2z"/><path fill="#40ffbf" d="M76.9 96.4l.7 2.8.3 1.6-.7-2.5z"/><path fill="#10ffef" d="M77.6 99.2l.7 2.8.3 1.4-.7-2.6z"/><path fill="#00dfff" d="M78.3 102l.7 3 .3 1.1-.7-2.7z"/><path fill="#00bfff" d="M79.3 106.1l.7 2.6-.3-.8-.7-2.9z"/><path fill="#008fff" d="M80 108.7l.7 2.6-.2-.7-.8-2.7z"/><path fill="#0060ff" d="M80.7 111.3l.7 2.4-.2-.5-.7-2.6z"/><path fill="#0040ff" d="M81.4 113.7l.8 2.2-.3-.3-.7-2.4z"/><path fill="#0020ff" d="M82.2 115.9l.7 2-.3-.2-.7-2.1z"/><path fill="#0000ff" d="M82.9 117.9l.7 1.8-.3-.1-.7-1.9z"/><path fill="#0000df" d="M83.6 119.7l.7 1.5-.3 0-.7-1.6z"/><path fill="#0000cf" d="M84.3 121.2l.7 1.4-.3.1-.7-1.5z"/><path fill="#0000bf" d="M85 122.6l.7 1.2-.3.1-.7-1.2z"/><path fill="#0000af" d="M85.7 123.8l.7 1.1-.2.1-.8-1.1z"/><path fill="#00009f" d="M86.4 124.9l.7.9 1.5 1.5-.3.2-.7-.7-1.4-1.8z"/><path fill="#00008f" d="M88.6 127.3l.7.7.7.6 1.4 1 1.9 1.3-.3.1-1.9-1.3-1.4-1-1.4-1.2zM55 108.1l1.9 1 .8.4 1.4.6.7.2-.3.1-.7-.2-2.1-.9-1.9-1.1z"/><path fill="#00009f" d="M59.8 110.3l1.4.2.7-.1-.2.1-.8.1-.7 0-.7-.2z"/><path fill="#0000af" d="M61.9 110.4l.7-.2-.2.1-.7.2z"/><path fill="#0000bf" d="M62.4 110.3l.7-.4.3-.1z"/><path fill="#0000cf" d="M63.1 109.9l.7-.7.3 0-.7.6z"/><path fill="#0000ef" d="M63.8 109.2l.7-.9.3.1-.7.8z"/><path fill="#0000ff" d="M64.5 108.3l.7-1.1.3.2-.7 1z"/><path fill="#0020ff" d="M65.2 107.2l.7-1.4.3.3-.7 1.3z"/><path fill="#0040ff" d="M65.9 105.8l.7-1.7.3.5-.7 1.5z"/><path fill="#0070ff" d="M66.6 104.1l.8-1.9.2.7-.7 1.7z"/><path fill="#009fff" d="M67.4 102.2l.7-2.1.2.9-.7 1.9z"/><path fill="#00cfff" d="M68.1 100.1l.7-2.3.3 1.2-.8 2z"/><path fill="#00ffff" d="M68.8 97.8l.7-2.3.3 1.4-.7 2.1z"/><path fill="#30ffcf" d="M69.5 95.5l.7-2.3.3 1.7-.7 2z"/><path fill="#60ff9f" d="M70.2 93.2l.7-2.2.3 2-.7 1.9z"/><path fill="#8fff70" d="M70.9 91l.7-1.8.3 2.2-.7 1.6z"/><path fill="#afff50" d="M71.6 89.2l.7-1.4.3 2.4-.7 1.2z"/><path fill="#cfff30" d="M72.3 87.8l.8-.8.2 2.5-.7.7z"/><path fill="#dfff20" d="M73.1 87l.7-.1.7.9.3 2.6-.8-.9-.7 0z"/><path fill="#cfff30" d="M74.5 87.8l.7 1.7.3 2.4-.7-1.5z"/><path fill="#afff50" d="M75.2 89.5l.7 2.3.3 2.2-.7-2.1z"/><path fill="#8fff70" d="M75.9 91.8l.7 2.7.3 1.9-.7-2.4z"/><path fill="#60ff9f" d="M76.6 94.5l.7 3 .3 1.7-.7-2.8z"/><path fill="#30ffcf" d="M77.3 97.5l.7 3.1.3 1.4-.7-2.8z"/><path fill="#00ffff" d="M78 100.6l.8 3.2.2 1.2-.7-3z"/><path fill="#00cfff" d="M78.8 103.8l.7 3.2.2.9-.7-2.9z"/><path fill="#009fff" d="M79.7 107.9l.8 2.7-.3-.6-.7-3z"/><path fill="#0070ff" d="M80.5 110.6l.7 2.6-.3-.5-.7-2.7z"/><path fill="#0040ff" d="M81.2 113.2l.7 2.4-.3-.3-.7-2.6z"/><path fill="#0020ff" d="M81.9 115.6l.7 2.1-.3-.2-.7-2.2z"/><path fill="#0000ff" d="M82.6 117.7l.7 1.9-.3-.1-.7-2z"/><path fill="#0000ef" d="M83.3 119.6l.7 1.6-.3 0-.7-1.7z"/><path fill="#0000cf" d="M84 121.2l.7 1.5-.2 0-.8-1.5z"/><path fill="#0000bf" d="M84.7 122.7l.7 1.2-.2.1-.7-1.3z"/><path fill="#0000af" d="M85.4 123.9l.8 1.1-.3.1-.7-1.1z"/><path fill="#00009f" d="M86.2 125l1.4 1.8.7.7-.3.1-.7-.7-.7-.8-.7-1z"/><path fill="#00008f" d="M88.3 127.5l1.4 1.2 1.4 1 1.9 1.3-.2.1-1.9-1.2-.7-.5-.8-.6-1.4-1.2zM54.8 108.2l1.9 1.1 2.1.9.7.2-.3.2-.7-.3-.7-.2-.7-.4-.7-.3-1.9-1.1z"/><path fill="#00009f" d="M59.5 110.4l.7.2.7 0 .8-.1-.3.1-.7.1-.7 0-.8-.1z"/><path fill="#0000af" d="M61.7 110.5l.7-.2-.3.1-.7.2z"/><path fill="#0000bf" d="M62.1 110.4l.7-.5.3 0-.7.4z"/><path fill="#0000cf" d="M62.8 109.9l.7-.7.3 0-.7.7z"/><path fill="#0000ef" d="M63.5 109.2l.7-.9.3 0-.7.9z"/><path fill="#0010ff" d="M64.2 108.3l.7-1.3.3.2-.7 1.1z"/><path fill="#0030ff" d="M64.9 107l.8-1.5.2.3-.7 1.4z"/><path fill="#0050ff" d="M65.7 105.5l.7-1.8.2.4-.7 1.7z"/><path fill="#0080ff" d="M66.4 103.7l.7-2.1.3.6-.8 1.9z"/><path fill="#00afff" d="M67.1 101.6l.7-2.4.3.9-.7 2.1z"/><path fill="#00dfff" d="M67.8 99.2l.7-2.5.3 1.1-.7 2.3z"/><path fill="#20ffdf" d="M68.5 96.7l.7-2.6.3 1.4-.7 2.3z"/><path fill="#50ffaf" d="M69.2 94.1l.7-2.6.3 1.7-.7 2.3z"/><path fill="#80ff80" d="M69.9 91.5l.7-2.4.3 1.9-.7 2.2z"/><path fill="#bfff40" d="M70.6 89.1l.8-2.1.2 2.2-.7 1.8z"/><path fill="#dfff20" d="M71.4 87l.7-1.6.2 2.4-.7 1.4z"/><path fill="#ffff00" d="M72.1 85.4l.7-1 .3 2.6-.8.8z"/><path fill="#ffef00" d="M72.8 84.4l.7-.1.7 1 .3 2.5-.7-.9-.7.1z"/><path fill="#ffff00" d="M74.2 85.3l.7 1.8.3 2.4-.7-1.7z"/><path fill="#dfff20" d="M74.9 87.1l.7 2.5.3 2.2-.7-2.3z"/><path fill="#bfff40" d="M75.6 89.6l.7 2.9.3 2-.7-2.7z"/><path fill="#80ff80" d="M76.3 92.5l.8 3.3.2 1.7-.7-3z"/><path fill="#50ffaf" d="M77.1 95.8l.7 3.4.2 1.4-.7-3.1z"/><path fill="#20ffdf" d="M77.8 99.2l.7 3.5.3 1.1-.8-3.2z"/><path fill="#00dfff" d="M78.8 103.8l.7 3.2-.3-.9-.7-3.4z"/><path fill="#00afff" d="M79.5 107l.7 3-.3-.7-.7-3.2z"/><path fill="#0080ff" d="M80.2 110l.7 2.7-.3-.4-.7-3z"/><path fill="#0050ff" d="M80.9 112.7l.7 2.6-.3-.4-.7-2.6z"/><path fill="#0030ff" d="M81.6 115.3l.7 2.2-.3-.2-.7-2.4z"/><path fill="#0010ff" d="M82.3 117.5l.7 2-.2-.1-.8-2.1z"/><path fill="#0000ef" d="M83 119.5l.7 1.7-.2 0-.7-1.8z"/><path fill="#0000cf" d="M83.7 121.2l.8 1.5-.3.1-.7-1.6z"/><path fill="#0000bf" d="M84.5 122.7l.7 1.3-.3.1-.7-1.3z"/><path fill="#0000af" d="M85.2 124l.7 1.1-.3.1-.7-1.1z"/><path fill="#00009f" d="M85.9 125.1l.7 1 .7.8.7.7-.3.1-.7-.7-.7-.8-.7-1z"/><path fill="#00008f" d="M88 127.6l1.4 1.2.8.6.7.5 1.9 1.2-.3.1-1.9-1.2-1.4-1-.7-.6-.8-.7zM54.5 108.3l1.9 1.1.7.3.7.4.7.2.7.3.8.1-.3.1-.7-.1-.7-.2-.8-.3-.7-.3-.7-.4-1.9-1z"/><path fill="#00009f" d="M60 110.7l.7 0 .7-.1-.3.1-.7.1-.7 0z"/><path fill="#0000af" d="M61.1 110.7l.7-.3.3 0-.7.2z"/><path fill="#0000bf" d="M61.8 110.4l.7-.5.3 0-.7.5z"/><path fill="#0000cf" d="M62.5 109.9l.7-.7.3 0-.7.7z"/><path fill="#0000ef" d="M63.2 109.2l.8-1 .2.1-.7.9z"/><path fill="#0010ff" d="M64 108.2l.7-1.4.2.2-.7 1.3z"/><path fill="#0030ff" d="M64.7 106.8l.7-1.6.3.3-.8 1.5z"/><path fill="#0060ff" d="M65.4 105.2l.7-2 .3.5-.7 1.8z"/><path fill="#008fff" d="M66.1 103.2l.7-2.3.3.7-.7 2.1z"/><path fill="#00bfff" d="M66.8 100.9l.7-2.6.3.9-.7 2.4z"/><path fill="#00ffff" d="M67.5 98.3l.7-2.8.3 1.2-.7 2.5z"/><path fill="#30ffcf" d="M68.2 95.5l.7-2.9.3 1.5-.7 2.6z"/><path fill="#70ff8f" d="M68.9 92.6l.8-2.8.2 1.7-.7 2.6z"/><path fill="#afff50" d="M69.7 89.8l.7-2.7.2 2-.7 2.4z"/><path fill="#dfff20" d="M70.4 87.1l.7-2.3.3 2.2-.8 2.1z"/><path fill="#ffef00" d="M71.1 84.8l.7-1.8.3 2.4-.7 1.6z"/><path fill="#ffcf00" d="M71.8 83l.7-1.1.3 2.5-.7 1z"/><path fill="#ffbf00" d="M72.5 81.9l.7-.2.7 1.1.3 2.5-.7-1-.7.1z"/><path fill="#ffcf00" d="M73.9 82.8l.7 1.9.3 2.4-.7-1.8z"/><path fill="#ffef00" d="M74.6 84.7l.8 2.7.2 2.2-.7-2.5z"/><path fill="#dfff20" d="M75.4 87.4l.7 3.2.2 1.9-.7-2.9z"/><path fill="#afff50" d="M76.1 90.6l.7 3.5.3 1.7-.8-3.3z"/><path fill="#70ff8f" d="M76.8 94.1l.7 3.7.3 1.4-.7-3.4z"/><path fill="#30ffcf" d="M77.8 99.2l.7 3.5-.3-1.2-.7-3.7z"/><path fill="#00ffff" d="M78.5 102.7l.7 3.4-.3-.9-.7-3.7z"/><path fill="#00bfff" d="M79.2 106.1l.7 3.2-.3-.7-.7-3.4z"/><path fill="#008fff" d="M79.9 109.3l.7 3-.3-.5-.7-3.2z"/><path fill="#0060ff" d="M80.6 112.3l.7 2.6-.2-.3-.8-2.8z"/><path fill="#0030ff" d="M81.3 114.9l.7 2.4-.2-.2-.7-2.5z"/><path fill="#0010ff" d="M82 117.3l.8 2.1-.3-.1-.7-2.2z"/><path fill="#0000ef" d="M82.8 119.4l.7 1.8-.3 0-.7-1.9z"/><path fill="#0000cf" d="M83.5 121.2l.7 1.6-.3 0-.7-1.6z"/><path fill="#0000bf" d="M84.2 122.8l.7 1.3-.3.1-.7-1.4z"/><path fill="#0000af" d="M84.9 124.1l.7 1.1-.3.1-.7-1.1z"/><path fill="#00009f" d="M85.6 125.2l.7 1 .7.8-.2.1-.8-.8-.7-1z"/><path fill="#00008f" d="M87 127l.7.7.8.7.7.6 1.4 1 1.9 1.2-.3.2-1.9-1.3-1.4-1-1.4-1.2-.7-.8zM54.2 108.5l1.9 1 .7.4.7.3.8.3.7.2.7.1-.3.1-.7-.1-.7-.2-.7-.3-.8-.3-.7-.4-1.9-1z"/><path fill="#00009f" d="M59.7 110.8l.7 0 .7-.1-.3.1-.7.1-.7 0z"/><path fill="#0000af" d="M60.8 110.8l.7-.3.3-.1-.7.3z"/><path fill="#0000bf" d="M61.5 110.5l.7-.5.3-.1-.7.5z"/><path fill="#0000df" d="M62.2 110l.8-.8.2 0-.7.7z"/><path fill="#0000ef" d="M63 109.2l.7-1.1.3.1-.8 1z"/><path fill="#0010ff" d="M63.7 108.1l.7-1.4.3.1-.7 1.4z"/><path fill="#0040ff" d="M64.4 106.7l.7-1.8.3.3-.7 1.6z"/><path fill="#0060ff" d="M65.1 104.9l.7-2.2.3.5-.7 2z"/><path fill="#009fff" d="M65.8 102.7l.7-2.5.3.7-.7 2.3z"/><path fill="#00cfff" d="M66.5 100.2l.7-2.8.3.9-.7 2.6z"/><path fill="#10ffef" d="M67.2 97.4l.7-3 .3 1.1-.7 2.8z"/><path fill="#50ffaf" d="M67.9 94.4l.8-3.1.2 1.3-.7 2.9z"/><path fill="#8fff70" d="M68.7 91.3l.7-3.2.3 1.7-.8 2.8z"/><path fill="#cfff30" d="M69.4 88.1l.7-2.9.3 1.9-.7 2.7z"/><path fill="#ffef00" d="M70.1 85.2l.7-2.6.3 2.2-.7 2.3z"/><path fill="#ffbf00" d="M70.8 82.6l.7-2 .3 2.4-.7 1.8z"/><path fill="#ff9f00" d="M71.5 80.6l.7-1.2.3 2.5-.7 1.1z"/><path fill="#ff8000" d="M72.2 79.4l.7-.2.7 1.1.3 2.5-.7-1.1-.7.2z"/><path fill="#ff9f00" d="M73.6 80.3l.8 2 .2 2.4-.7-1.9z"/><path fill="#ffbf00" d="M74.4 82.3l.7 2.9.3 2.2-.8-2.7z"/><path fill="#ffef00" d="M75.1 85.2l.7 3.4.3 2-.7-3.2z"/><path fill="#cfff30" d="M75.8 88.6l.7 3.8.3 1.7-.7-3.5z"/><path fill="#8fff70" d="M76.8 94.1l.7 3.7-.3-1.4-.7-4z"/><path fill="#50ffaf" d="M77.5 97.8l.7 3.7-.3-1.1-.7-4z"/><path fill="#10ffef" d="M78.2 101.5l.7 3.7-.3-.9-.7-3.9z"/><path fill="#00cfff" d="M78.9 105.2l.7 3.4-.3-.6-.7-3.7z"/><path fill="#009fff" d="M79.6 108.6l.7 3.2-.2-.5-.8-3.3z"/><path fill="#0060ff" d="M80.3 111.8l.8 2.8-.3-.3-.7-3z"/><path fill="#0040ff" d="M81.1 114.6l.7 2.5-.3-.1-.7-2.7z"/><path fill="#0010ff" d="M81.8 117.1l.7 2.2-.3-.1-.7-2.2z"/><path fill="#0000ef" d="M82.5 119.3l.7 1.9-.3 0-.7-2z"/><path fill="#0000df" d="M83.2 121.2l.7 1.6-.3.1-.7-1.7z"/><path fill="#0000bf" d="M83.9 122.8l.7 1.4-.3 0-.7-1.3z"/><path fill="#0000af" d="M84.6 124.2l.7 1.1-.3.1-.7-1.2z"/><path fill="#00009f" d="M85.3 125.3l.7 1 .8.8-.3.1-.7-.8-.8-1z"/><path fill="#00008f" d="M86.8 127.1l.7.8 1.4 1.2 1.4 1 1.9 1.3-.3.1-1.9-1.3-1.4-1-1.4-1.2-.7-.8zM53.9 108.6l1.9 1 .7.4.8.3.7.3.7.2.7.1-.3.1-.7-.1-.7-.2-1.4-.6-.7-.4-1.9-1z"/><path fill="#00009f" d="M59.4 110.9l.7 0-.3.1-.7 0z"/><path fill="#0000af" d="M60.1 110.9l.7-.1.7-.3-.2.1-.8.3-.7.1z"/><path fill="#0000bf" d="M61.3 110.6l.7-.6.2 0-.7.5z"/><path fill="#0000df" d="M62 110l.7-.8.3 0-.8.8z"/><path fill="#0000ef" d="M62.7 109.2l.7-1.2.3.1-.7 1.1z"/><path fill="#0010ff" d="M63.4 108l.7-1.5.3.2-.7 1.4z"/><path fill="#0040ff" d="M64.1 106.5l.7-1.9.3.3-.7 1.8z"/><path fill="#0070ff" d="M64.8 104.6l.7-2.3.3.4-.7 2.2z"/><path fill="#009fff" d="M65.5 102.3l.7-2.7.3.6-.7 2.5z"/><path fill="#00dfff" d="M66.2 99.6l.8-3 .2.8-.7 2.8z"/><path fill="#20ffdf" d="M67 96.6l.7-3.3.2 1.1-.7 3z"/><path fill="#70ff8f" d="M67.7 93.3l.7-3.4.3 1.4-.8 3.1z"/><path fill="#afff50" d="M68.4 89.9l.7-3.4.3 1.6-.7 3.2z"/><path fill="#efff10" d="M69.1 86.5l.7-3.2.3 1.9-.7 2.9z"/><path fill="#ffcf00" d="M69.8 83.3l.7-2.8.3 2.1-.7 2.6z"/><path fill="#ff8f00" d="M70.5 80.5l.7-2.1.3 2.2-.7 2z"/><path fill="#ff7000" d="M71.2 78.4l.7-1.4.3 2.4-.7 1.2z"/><path fill="#ff5000" d="M71.9 77l.8-.3.7 1.2.2 2.4-.7-1.1-.7.2z"/><path fill="#ff7000" d="M73.4 77.9l.7 2.2.3 2.2-.8-2z"/><path fill="#ff8f00" d="M74.1 80.1l.7 3 .3 2.1-.7-2.9z"/><path fill="#ffcf00" d="M74.8 83.1l.7 3.7.3 1.8-.7-3.4z"/><path fill="#efff10" d="M75.5 86.8l.7 4 .3 1.6-.7-3.8z"/><path fill="#afff50" d="M76.5 92.4l.7 4-.3-1.3-.7-4.3z"/><path fill="#70ff8f" d="M77.2 96.4l.7 4-.3-1.1-.7-4.2z"/><path fill="#20ffdf" d="M77.9 100.4l.7 3.9-.2-.9-.8-4.1z"/><path fill="#00dfff" d="M78.6 104.3l.7 3.7-.2-.7-.7-3.9z"/><path fill="#009fff" d="M79.3 108l.8 3.3-.3-.5-.7-3.5z"/><path fill="#0070ff" d="M80.1 111.3l.7 3-.3-.3-.7-3.2z"/><path fill="#0040ff" d="M80.8 114.3l.7 2.7-.3-.2-.7-2.8z"/><path fill="#0010ff" d="M81.5 117l.7 2.2-.3 0-.7-2.4z"/><path fill="#0000ef" d="M82.2 119.2l.7 2-.3 0-.7-2z"/><path fill="#0000df" d="M82.9 121.2l.7 1.7-.3 0-.7-1.7z"/><path fill="#0000bf" d="M83.6 122.9l.7 1.3-.2.1-.8-1.4z"/><path fill="#0000af" d="M84.3 124.2l.7 1.2.8 1-.3.1-.7-1-.7-1.2z"/><path fill="#00009f" d="M85.8 126.4l.7.8-.3.2-.7-.9z"/><path fill="#00008f" d="M86.5 127.2l.7.8 1.4 1.2 1.4 1 1.9 1.3-.2.1-1.9-1.2-.8-.5-2.1-1.8-.7-.7zM53.7 108.7l1.9 1 .7.4 1.4.6.7.2.7.1-.3.1-.7-.1-.7-.2-2.1-.9-1.9-1.1z"/><path fill="#00009f" d="M59.1 111l.7 0-.2.1-.8 0z"/><path fill="#0000af" d="M59.6 111.1l.7-.1.7-.4.3 0-.8.3-.7.1z"/><path fill="#0000bf" d="M61 110.6l.7-.6.3 0-.7.6z"/><path fill="#0000df" d="M61.7 110l.7-.9.3.1-.7.8z"/><path fill="#0000ff" d="M62.4 109.1l.7-1.2.3.1-.7 1.2z"/><path fill="#0020ff" d="M63.1 107.9l.7-1.6.3.2-.7 1.5z"/><path fill="#0040ff" d="M63.8 106.3l.7-2 .3.3-.7 1.9z"/><path fill="#0080ff" d="M64.5 104.3l.8-2.5.2.5-.7 2.3z"/><path fill="#00afff" d="M65.3 101.8l.7-2.8.2.6-.7 2.7z"/><path fill="#00efff" d="M66 99l.7-3.2.3.8-.8 3z"/><path fill="#40ffbf" d="M66.7 95.8l.7-3.5.3 1-.7 3.3z"/><path fill="#80ff80" d="M67.4 92.3l.7-3.7.3 1.3-.7 3.4z"/><path fill="#cfff30" d="M68.1 88.6l.7-3.6.3 1.5-.7 3.4z"/><path fill="#ffdf00" d="M68.8 85l.7-3.4.3 1.7-.7 3.2z"/><path fill="#ff9f00" d="M69.5 81.6l.7-3 .3 1.9-.7 2.8z"/><path fill="#ff7000" d="M70.2 78.6l.8-2.4.2 2.2-.7 2.1z"/><path fill="#ff4000" d="M71 76.2l.7-1.5.2 2.3-.7 1.4z"/><path fill="#ff2000" d="M71.7 74.7l.7-.3.7 1.2.3 2.3-.7-1.2-.8.3z"/><path fill="#ff4000" d="M73.1 75.6l.7 2.3.3 2.2-.7-2.2z"/><path fill="#ff7000" d="M73.8 77.9l.7 3.3.3 1.9-.7-3z"/><path fill="#ff9f00" d="M74.5 81.2l.7 3.8.3 1.8-.7-3.7z"/><path fill="#ffdf00" d="M75.5 86.8l.7 4-.3-1.5-.7-4.3z"/><path fill="#cfff30" d="M76.2 90.8l.7 4.3-.2-1.3-.8-4.5z"/><path fill="#80ff80" d="M76.9 95.1l.7 4.2-.2-1-.7-4.5z"/><path fill="#40ffbf" d="M77.6 99.3l.8 4.1-.3-.8-.7-4.3z"/><path fill="#00efff" d="M78.4 103.4l.7 3.9-.3-.6-.7-4.1z"/><path fill="#00afff" d="M79.1 107.3l.7 3.5-.3-.4-.7-3.7z"/><path fill="#0080ff" d="M79.8 110.8l.7 3.2-.3-.3-.7-3.3z"/><path fill="#0040ff" d="M80.5 114l.7 2.8-.3-.2-.7-2.9z"/><path fill="#0020ff" d="M81.2 116.8l.7 2.4-.3-.1-.7-2.5z"/><path fill="#0000ff" d="M81.9 119.2l.7 2-.2-.1-.8-2z"/><path fill="#0000df" d="M82.6 121.2l.7 1.7-.2 0-.7-1.8z"/><path fill="#0000bf" d="M83.3 122.9l.8 1.4-.3.1-.7-1.5z"/><path fill="#0000af" d="M84.1 124.3l.7 1.2.7 1-.3.1-.7-1-.7-1.2z"/><path fill="#00009f" d="M85.5 126.5l.7.9-.3.1-.7-.9z"/><path fill="#00008f" d="M86.2 127.4l.7.7 2.1 1.8.8.5 1.9 1.2-.3.1-1.9-1.2-.7-.5-.7-.6-.8-.5-1.4-1.4zM53.4 108.8l1.9 1.1 2.1.9.7.2.7.1-.2.1-.7-.1-.8-.2-.7-.2-.7-.4-.7-.3-1.9-1.1z"/><path fill="#00009f" d="M58.8 111.1l.8 0-.3.1-.7 0z"/><path fill="#0000af" d="M59.3 111.2l.7-.1.7-.4.3-.1-.7.4-.7.1z"/><path fill="#0000cf" d="M60.7 110.7l.7-.7.3 0-.7.6z"/><path fill="#0000df" d="M61.4 110l.7-.9.3 0-.7.9z"/><path fill="#0000ff" d="M62.1 109.1l.7-1.3.3.1-.7 1.2z"/><path fill="#0020ff" d="M62.8 107.8l.8-1.7.2.2-.7 1.6z"/><path fill="#0050ff" d="M63.6 106.1l.7-2.1.2.3-.7 2z"/><path fill="#0080ff" d="M64.3 104l.7-2.6.3.4-.8 2.5z"/><path fill="#00bfff" d="M65 101.4l.7-3 .3.6-.7 2.8z"/><path fill="#00ffff" d="M65.7 98.4l.7-3.4.3.8-.7 3.2z"/><path fill="#50ffaf" d="M66.4 95l.7-3.7.3 1-.7 3.5z"/><path fill="#9fff60" d="M67.1 91.3l.7-3.8.3 1.1-.7 3.7z"/><path fill="#efff10" d="M67.8 87.5l.7-3.9.3 1.4-.7 3.6z"/><path fill="#ffbf00" d="M68.5 83.6l.8-3.6.2 1.6-.7 3.4z"/><path fill="#ff8000" d="M69.3 80l.7-3.2.2 1.8-.7 3z"/><path fill="#ff4000" d="M70 76.8l.7-2.5.3 1.9-.8 2.4z"/><path fill="#ff1000" d="M70.7 74.3l.7-1.6.3 2-.7 1.5z"/><path fill="#ff0000" d="M71.4 72.7l.7-.4.7 1.2.3 2.1-.7-1.2-.7.3z"/><path fill="#ff1000" d="M72.8 73.5l.7 2.5.3 1.9-.7-2.3z"/><path fill="#ff4000" d="M73.5 76l.7 3.4.3 1.8-.7-3.3z"/><path fill="#ff8000" d="M74.2 79.4l.8 4 .2 1.6-.7-3.8z"/><path fill="#ffbf00" d="M75 83.4l.7 4.5.2 1.4-.7-4.3z"/><path fill="#efff10" d="M75.9 89.3l.8 4.5-.3-1.2-.7-4.7z"/><path fill="#9fff60" d="M76.7 93.8l.7 4.5-.3-1-.7-4.7z"/><path fill="#50ffaf" d="M77.4 98.3l.7 4.3-.3-.7-.7-4.6z"/><path fill="#00ffff" d="M78.1 102.6l.7 4.1-.3-.6-.7-4.2z"/><path fill="#00bfff" d="M78.8 106.7l.7 3.7-.3-.4-.7-3.9z"/><path fill="#0080ff" d="M79.5 110.4l.7 3.3-.3-.3-.7-3.4z"/><path fill="#0050ff" d="M80.2 113.7l.7 2.9-.2-.2-.8-3z"/><path fill="#0020ff" d="M80.9 116.6l.7 2.5-.2-.1-.7-2.6z"/><path fill="#0000ff" d="M81.6 119.1l.8 2-.3 0-.7-2.1z"/><path fill="#0000df" d="M82.4 121.1l.7 1.8-.3 0-.7-1.8z"/><path fill="#0000cf" d="M83.1 122.9l.7 1.5-.3 0-.7-1.5z"/><path fill="#0000af" d="M83.8 124.4l.7 1.2.7 1-.3.1-.7-1-.7-1.3z"/><path fill="#00009f" d="M85.2 126.6l.7.9-.3.1-.7-.9z"/><path fill="#00008f" d="M85.9 127.5l1.4 1.4.8.5.7.6.7.5 1.9 1.2-.3.1-1.9-1.2-.7-.5-.7-.6-.7-.5-.7-.7-.8-.7zM53.1 108.9l1.9 1.1.7.3.7.4.7.2.8.2-.3.1-1.4-.4-.8-.4-.7-.3-1.9-1.1z"/><path fill="#00009f" d="M57.9 111.1l.7.1.7 0-.3.1-.7 0-.7-.1z"/><path fill="#0000af" d="M59 111.3l.7-.2.7-.4.3 0-.7.4-.7.1z"/><path fill="#0000cf" d="M60.4 110.7l.7-.6.3-.1-.7.7z"/><path fill="#0000df" d="M61.1 110.1l.8-1 .2 0-.7.9z"/><path fill="#0000ff" d="M61.9 109.1l.7-1.4.2.1-.7 1.3z"/><path fill="#0020ff" d="M62.6 107.7l.7-1.8.3.2-.8 1.7z"/><path fill="#0050ff" d="M63.3 105.9l.7-2.2.3.3-.7 2.1z"/><path fill="#008fff" d="M64 103.7l.7-2.7.3.4-.7 2.6z"/><path fill="#00cfff" d="M64.7 101l.7-3.1.3.5-.7 3z"/><path fill="#10ffef" d="M65.4 97.9l.7-3.6.3.7-.7 3.4z"/><path fill="#60ff9f" d="M66.1 94.3l.7-3.8.3.8-.7 3.7z"/><path fill="#afff50" d="M66.8 90.5l.8-4.1.2 1.1-.7 3.8z"/><path fill="#ffff00" d="M67.6 86.4l.7-4 .2 1.2-.7 3.9z"/><path fill="#ffaf00" d="M68.3 82.4l.7-3.8.3 1.4-.8 3.6z"/><path fill="#ff6000" d="M69 78.6l.7-3.4.3 1.6-.7 3.2z"/><path fill="#ff2000" d="M69.7 75.2l.7-2.6.3 1.7-.7 2.5z"/><path fill="#ef0000" d="M70.4 72.6l.7-1.7.3 1.8-.7 1.6z"/><path fill="#cf0000" d="M71.1 70.9l.7-.4.7 1.2.3 1.8-.7-1.2-.7.4z"/><path fill="#ef0000" d="M72.5 71.7l.8 2.6.2 1.7-.7-2.5z"/><path fill="#ff2000" d="M73.3 74.3l.7 3.5.2 1.6-.7-3.4z"/><path fill="#ff6000" d="M74 77.8l.7 4.2.3 1.4-.8-4z"/><path fill="#ffaf00" d="M75 83.4l.7 4.5-.3-1.2-.7-4.7z"/><path fill="#ffff00" d="M75.7 87.9l.7 4.7-.3-1-.7-4.9z"/><path fill="#afff50" d="M76.4 92.6l.7 4.7-.3-.8-.7-4.9z"/><path fill="#60ff9f" d="M77.1 97.3l.7 4.6-.3-.7-.7-4.7z"/><path fill="#10ffef" d="M77.8 101.9l.7 4.2-.3-.5-.7-4.4z"/><path fill="#00cfff" d="M78.5 106.1l.7 3.9-.2-.4-.8-4z"/><path fill="#008fff" d="M79.2 110l.7 3.4-.2-.2-.7-3.6z"/><path fill="#0050ff" d="M79.9 113.4l.8 3-.3-.2-.7-3z"/><path fill="#0020ff" d="M80.7 116.4l.7 2.6-.3-.1-.7-2.7z"/><path fill="#0000ff" d="M81.4 119l.7 2.1-.3 0-.7-2.2z"/><path fill="#0000df" d="M82.1 121.1l.7 1.8-.3 0-.7-1.8z"/><path fill="#0000cf" d="M82.8 122.9l.7 1.5-.3.1-.7-1.6z"/><path fill="#0000af" d="M83.5 124.4l.7 1.3.7 1-.2.1-.8-1.1-.7-1.2z"/><path fill="#00009f" d="M84.9 126.7l.7.9.8.7-.3.1-.7-.7-.7-.9z"/><path fill="#00008f" d="M86.4 128.3l.7.7.7.5.7.6.7.5 1.9 1.2-.3.1-1.9-1.2-1.4-1-.7-.6-.7-.7zM52.8 109l1.9 1.1.7.3.8.4 1.4.4-.3.1-1.4-.4-.7-.3-.7-.4-1.9-1.1z"/><path fill="#00009f" d="M57.6 111.2l.7.1.7 0-.3.1-.7 0-.7-.1z"/><path fill="#0000af" d="M59 111.3l.7-.2-.3.1-.7.2z"/><path fill="#0000bf" d="M59.4 111.2l1-.5-.7.4z"/><path fill="#0000cf" d="M60.2 110.8l.7-.7.2 0-.7.6z"/><path fill="#0000df" d="M60.9 110.1l.7-1 .3 0-.8 1z"/><path fill="#0000ff" d="M61.6 109.1l.7-1.5.3.1-.7 1.4z"/><path fill="#0030ff" d="M62.3 107.6l.7-1.8.3.1-.7 1.8z"/><path fill="#0060ff" d="M63 105.8l.7-2.3.3.2-.7 2.2z"/><path fill="#008fff" d="M63.7 103.5l.7-2.8.3.3-.7 2.7z"/><path fill="#00cfff" d="M64.4 100.7l.7-3.2.3.4-.7 3.1z"/><path fill="#20ffdf" d="M65.1 97.5l.8-3.7.2.5-.7 3.6z"/><path fill="#70ff8f" d="M65.9 93.8l.7-4 .2.7-.7 3.8z"/><path fill="#bfff40" d="M66.6 89.8l.7-4.2.3.8-.8 4.1z"/><path fill="#ffdf00" d="M67.3 85.6l.7-4.2.3 1-.7 4z"/><path fill="#ff8f00" d="M68 81.4l.7-3.9.3 1.1-.7 3.8z"/><path fill="#ff4000" d="M68.7 77.5l.7-3.6.3 1.3-.7 3.4z"/><path fill="#ff0000" d="M69.4 73.9l.7-2.7.3 1.4-.7 2.6z"/><path fill="#cf0000" d="M70.1 71.2l.7-1.8.3 1.5-.7 1.7z"/><path fill="#af0000" d="M70.8 69.4l.8-.4.7 1.3.2 1.4-.7-1.2-.7.4z"/><path fill="#cf0000" d="M72.3 70.3l.7 2.6.3 1.4-.8-2.6z"/><path fill="#ff0000" d="M73.3 74.3l.7 3.5-.3-1.3-.7-3.6z"/><path fill="#ff4000" d="M74 77.8l.7 4.2-.3-1.1-.7-4.4z"/><path fill="#ff8f00" d="M74.7 82l.7 4.7-.3-1-.7-4.8z"/><path fill="#ffdf00" d="M75.4 86.7l.7 4.9-.3-.8-.7-5.1z"/><path fill="#bfff40" d="M76.1 91.6l.7 4.9-.3-.7-.7-5z"/><path fill="#70ff8f" d="M76.8 96.5l.7 4.7-.2-.5-.8-4.9z"/><path fill="#20ffdf" d="M77.5 101.2l.7 4.4-.2-.4-.7-4.5z"/><path fill="#00cfff" d="M78.2 105.6l.8 4-.3-.3-.7-4.1z"/><path fill="#008fff" d="M79 109.6l.7 3.6-.3-.2-.7-3.7z"/><path fill="#0060ff" d="M79.7 113.2l.7 3-.3-.1-.7-3.1z"/><path fill="#0030ff" d="M80.4 116.2l.7 2.7-.3-.1-.7-2.7z"/><path fill="#0000ff" d="M81.1 118.9l.7 2.2-.3 0-.7-2.3z"/><path fill="#0000df" d="M81.8 121.1l.7 1.8-.3.1-.7-1.9z"/><path fill="#0000cf" d="M82.5 122.9l.7 1.6-.2 0-.8-1.5z"/><path fill="#0000bf" d="M83.2 124.5l.7 1.2-.2.1-.7-1.3z"/><path fill="#0000af" d="M83.9 125.7l.8 1.1-.3.1-.7-1.1z"/><path fill="#00009f" d="M84.7 126.8l.7.9.7.7-.3.1-.7-.7-.7-.9z"/><path fill="#00008f" d="M86.1 128.4l.7.7.7.6 1.4 1 1.9 1.2-.2.1-1.9-1.2-.8-.5-.7-.5-.7-.6-.7-.7zM52.6 109.1l1.9 1.1.7.4.7.3 1.4.4-.3.1-.7-.1-1.4-.6-.7-.4-1.9-1z"/><path fill="#00009f" d="M57.3 111.3l.7.1.7 0-.2.1-.8 0-.7-.1z"/><path fill="#0000af" d="M58.7 111.4l.7-.2-.2.1-.7.2z"/><path fill="#0000bf" d="M59.2 111.3l.7-.5.3 0z"/><path fill="#0000cf" d="M59.9 110.8l.7-.7.3 0-.7.7z"/><path fill="#0000df" d="M60.6 110.1l.7-1 .3 0-.7 1z"/><path fill="#0000ff" d="M61.3 109.1l.7-1.5.3 0-.7 1.5z"/><path fill="#0030ff" d="M62 107.6l.7-1.9.3.1-.7 1.8z"/><path fill="#0060ff" d="M62.7 105.7l.7-2.3.3.1-.7 2.3z"/><path fill="#008fff" d="M63.4 103.4l.8-2.9.2.2-.7 2.8z"/><path fill="#00dfff" d="M64.2 100.5l.7-3.3.2.3-.7 3.2z"/><path fill="#20ffdf" d="M64.9 97.2l.7-3.8.3.4-.8 3.7z"/><path fill="#80ff80" d="M65.6 93.4l.7-4.1.3.5-.7 4z"/><path fill="#cfff30" d="M66.3 89.3l.7-4.3.3.6-.7 4.2z"/><path fill="#ffcf00" d="M67 85l.7-4.3.3.7-.7 4.2z"/><path fill="#ff8000" d="M67.7 80.7l.7-4 .3.8-.7 3.9z"/><path fill="#ff3000" d="M68.4 76.7l.7-3.6.3.8-.7 3.6z"/><path fill="#df0000" d="M69.1 73.1l.8-2.9.2 1-.7 2.7z"/><path fill="#af0000" d="M69.9 70.2l.7-1.8.2 1-.7 1.8z"/><path fill="#8f0000" d="M70.6 68.4l.7-.4.7 1.3.3 1-.7-1.3-.8.4z"/><path fill="#af0000" d="M72.3 70.3l.7 2.6-.3-1-.7-2.6z"/><path fill="#df0000" d="M73 72.9l.7 3.6-.3-.9-.7-3.7z"/><path fill="#ff3000" d="M73.7 76.5l.7 4.4-.3-.8-.7-4.5z"/><path fill="#ff8000" d="M74.4 80.9l.7 4.8-.3-.7-.7-4.9z"/><path fill="#ffcf00" d="M75.1 85.7l.7 5.1-.2-.6-.8-5.2z"/><path fill="#cfff30" d="M75.8 90.8l.7 5-.2-.5-.7-5.1z"/><path fill="#80ff80" d="M76.5 95.8l.8 4.9-.3-.4-.7-5z"/><path fill="#20ffdf" d="M77.3 100.7l.7 4.5-.3-.3-.7-4.6z"/><path fill="#00dfff" d="M78 105.2l.7 4.1-.3-.2-.7-4.2z"/><path fill="#008fff" d="M78.7 109.3l.7 3.7-.3-.2-.7-3.7z"/><path fill="#0060ff" d="M79.4 113l.7 3.1-.3-.1-.7-3.2z"/><path fill="#0030ff" d="M80.1 116.1l.7 2.7-.3 0-.7-2.8z"/><path fill="#0000ff" d="M80.8 118.8l.7 2.3-.2 0-.8-2.3z"/><path fill="#0000df" d="M81.5 121.1l.7 1.9-.2 0-.7-1.9z"/><path fill="#0000cf" d="M82.2 123l.8 1.5-.3.1-.7-1.6z"/><path fill="#0000bf" d="M83 124.5l.7 1.3-.3.1-.7-1.3z"/><path fill="#0000af" d="M83.7 125.8l.7 1.1-.3.1-.7-1.1z"/><path fill="#00009f" d="M84.4 126.9l.7.9.7.7-.3.1-.7-.7-.7-.9z"/><path fill="#00008f" d="M85.8 128.5l.7.7.7.6.7.5.8.5 1.9 1.2-.3.2-1.9-1.3-1.4-1-.8-.6-.7-.7zM52.3 109.3l1.9 1 .7.4 1.4.6.7.1-.2.2-.8-.2-1.4-.6-.7-.4-1.9-1z"/><path fill="#00009f" d="M57 111.4l.7.1.8 0-.3.1-1.4 0z"/><path fill="#0000af" d="M58.5 111.5l.7-.2-.3.1-.7.2z"/><path fill="#0000bf" d="M58.9 111.4l.7-.5.3-.1-.7.5z"/><path fill="#0000cf" d="M59.6 110.9l.7-.7.3-.1-.7.7z"/><path fill="#0000df" d="M60.3 110.2l.7-1.1.3 0-.7 1z"/><path fill="#0000ff" d="M61 109.1l.7-1.4.3-.1-.7 1.5z"/><path fill="#0030ff" d="M61.7 107.7l.7-1.9.3-.1-.7 1.9z"/><path fill="#0060ff" d="M62.4 105.8l.8-2.4.2 0-.7 2.3z"/><path fill="#009fff" d="M63.2 103.4l.7-2.9.3 0-.8 2.9z"/><path fill="#00dfff" d="M63.9 100.5l.7-3.4.3.1-.7 3.3z"/><path fill="#30ffcf" d="M64.6 97.1l.7-3.8.3.1-.7 3.8z"/><path fill="#80ff80" d="M65.3 93.3l.7-4.1.3.1-.7 4.1z"/><path fill="#dfff20" d="M66 89.2l.7-4.4.3.2-.7 4.3z"/><path fill="#ffcf00" d="M66.7 84.8l.7-4.3.3.2-.7 4.3z"/><path fill="#ff7000" d="M67.4 80.5l.8-4.1.2.3-.7 4z"/><path fill="#ff2000" d="M68.2 76.4l.7-3.7.2.4-.7 3.6z"/><path fill="#df0000" d="M68.9 72.7l.7-2.9.3.4-.8 2.9z"/><path fill="#9f0000" d="M69.6 69.8l.7-1.8.3.4-.7 1.8z"/><path fill="#800000" d="M70.3 68l.7-.4.7 1.3.3.4-.7-1.3-.7.4z"/><path fill="#9f0000" d="M72 69.3l.7 2.6-.3-.3-.7-2.7z"/><path fill="#df0000" d="M72.7 71.9l.7 3.7-.3-.3-.7-3.7z"/><path fill="#ff2000" d="M73.4 75.6l.7 4.5-.3-.3-.7-4.5z"/><path fill="#ff7000" d="M74.1 80.1l.7 4.9-.2-.2-.8-5z"/><path fill="#ffcf00" d="M74.8 85l.8 5.2-.3-.2-.7-5.2z"/><path fill="#dfff20" d="M75.6 90.2l.7 5.1-.3-.1-.7-5.2z"/><path fill="#80ff80" d="M76.3 95.3l.7 5-.3-.1-.7-5z"/><path fill="#30ffcf" d="M77 100.3l.7 4.6-.3-.1-.7-4.6z"/><path fill="#00dfff" d="M77.7 104.9l.7 4.2-.3 0-.7-4.3z"/><path fill="#009fff" d="M78.4 109.1l.7 3.7-.3 0-.7-3.7z"/><path fill="#0060ff" d="M79.1 112.8l.7 3.2-.2.1-.8-3.3z"/><path fill="#0030ff" d="M79.8 116l.7 2.8-.2 0-.7-2.7z"/><path fill="#0000ff" d="M80.5 118.8l.8 2.3-.3.1-.7-2.4z"/><path fill="#0000df" d="M81.3 121.1l.7 1.9-.3.1-.7-1.9z"/><path fill="#0000cf" d="M82 123l.7 1.6-.3.1-.7-1.6z"/><path fill="#0000bf" d="M82.7 124.6l.7 1.3-.3.1-.7-1.3z"/><path fill="#0000af" d="M83.4 125.9l.7 1.1-.3.1-.7-1.1z"/><path fill="#00009f" d="M84.1 127l.7.9.7.7-.3.1-.7-.7-.7-.9z"/><path fill="#00008f" d="M85.5 128.6l.7.7.8.6 1.4 1 1.9 1.3-.3.1-1.9-1.3-1.4-1-.7-.6-.8-.7z"/></g><path d="M183.4 82.8L229.5 63.9" stroke="#e8e8e8" stroke-width="1.0" fill="none"/><path d="M229.5 63.9L267.5 86.8" stroke="#e8e8e8" stroke-width="1.0" fill="none"/><path d="M183.4 56.1L229.5 37.2" stroke="#e8e8e8" stroke-width="1.0" fill="none"/><path d="M229.5 37.2L267.5 60.1" stroke="#e8e8e8" stroke-width="1.0" fill="none"/><path d="M229.5 90.5L229.5 37.2" stroke="#e8e8e8" stroke-width="1.0" fill="none"/><path d="M248.5 102L248.5 48.7" stroke="#e8e8e8" stroke-width="1.0" fill="none"/><path d="M267.5 113.4L267.5 60.1" stroke="#e8e8e8" stroke-width="1.0" fill="none"/><path d="M183.4 109.4L183.4 56.1" stroke="#7a7a7a" stroke-width="1.0" fill="none"/><path d="M183.4 109.4L221.4 132.3" stroke="#7a7a7a" stroke-width="1.0" fill="none"/><path d="M221.4 132.3L267.5 113.4" stroke="#7a7a7a" stroke-width="1.0" fill="none"/><g shape-rendering="crispEdges" filter="url(#bl)" transform="translate(.013 .017)"><path fill="#00008f" d="M229.5 90.5l12.3 7.4.7.4.6.4.7.1.6-.7.7.1.6 1.4.6 1 .1 0 .2-.4.1-.9-46.1 18.9-.1.9-.2.4-.1 0-.6-1-.6-1.4-.7-.1-.6.7-.7-.1-1.2-.8-12.4-7.4z"/><path fill="#0000af" d="M200.6 118.2l.1-1.2 46.1-18.9-.1 1.2z"/><path fill="#0000cf" d="M200.7 117l.1-1.8 46.1-18.9-.1 1.8z"/><path fill="#0000ff" d="M200.8 115.2l.1-2.3 46.1-18.9-.1 2.3z"/><path fill="#0030ff" d="M200.9 112.9l.1-2.8 46.1-18.9-.1 2.8z"/><path fill="#0060ff" d="M201 110.1l.1-3.3 46.1-18.9-.1 3.3z"/><path fill="#00afff" d="M201.1 106.8l.1-3.6 46.1-18.9-.1 3.6z"/><path fill="#00efff" d="M201.2 103.2l.1-4.1 46.1-18.9-.1 4.1z"/><path fill="#40ffbf" d="M201.3 99.1l.1-4.2 46.1-18.9-.1 4.2z"/><path fill="#9fff60" d="M201.4 94.9l.1-4.3 46.1-18.9-.1 4.3z"/><path fill="#efff10" d="M201.5 90.6l.1-4.3 46.1-18.9-.1 4.3z"/><path fill="#ffbf00" d="M201.6 86.3l.2-4.1 46.1-18.9-.2 4.1z"/><path fill="#ff7000" d="M201.8 82.2l.1-3.8 46.1-18.9-.1 3.8z"/><path fill="#ff3000" d="M201.9 78.4l.1-3.3 46.1-18.9-.1 3.3z"/><path fill="#ef0000" d="M202 75.1l.1-2.7 46.1-18.9-.1 2.7z"/><path fill="#bf0000" d="M202.1 72.4l.1-2 46.1-18.9-.1 2z"/><path fill="#9f0000" d="M202.2 70.4l.1-1.2 46.1-18.9-.1 1.2z"/><path fill="#8f0000" d="M248.4 50.3l.1-.3.1.5-46.1 18.9-.1-.5-.1.3z"/><path fill="#9f0000" d="M248.6 50.5l.1 1.3-46.1 18.9-.1-1.3z"/><path fill="#bf0000" d="M248.7 51.8l.1 2.1-46.1 18.9-.1-2.1z"/><path fill="#ef0000" d="M248.8 53.9l.1 2.8-46.1 18.9-.1-2.8z"/><path fill="#ff3000" d="M248.9 56.7l.1 3.5-46.1 18.9-.1-3.5z"/><path fill="#ff7000" d="M249 60.2l.1 3.8-46.1 18.9-.1-3.8z"/><path fill="#ffbf00" d="M249.1 64l.2 4.3-46.1 18.9-.2-4.3z"/><path fill="#efff10" d="M249.3 68.3l.1 4.4-46.1 18.9-.1-4.4z"/><path fill="#9fff60" d="M249.4 72.7l.1 4.5-46.1 18.9-.1-4.5z"/><path fill="#40ffbf" d="M249.5 77.2l.1 4.3-46.1 18.9-.1-4.3z"/><path fill="#00efff" d="M249.6 81.5l.1 4.2-46.1 18.9-.1-4.2z"/><path fill="#00afff" d="M249.7 85.7l.1 3.8-46.1 18.9-.1-3.8z"/><path fill="#0060ff" d="M249.8 89.5l.1 3.4-46.1 18.9-.1-3.4z"/><path fill="#0030ff" d="M249.9 92.9l.1 2.9-46.1 18.9-.1-2.9z"/><path fill="#0000ff" d="M250 95.8l.1 2.4-46.1 18.9-.1-2.4z"/><path fill="#0000cf" d="M250.1 98.2l.1 2-46.1 18.9-.1-2z"/><path fill="#0000af" d="M250.2 100.2l.1 1.4-46.1 18.9-.1-1.4z"/><path fill="#00008f" d="M250.3 101.6l.1.9.2.5.1.3.3-.1.4-.3.3-.4.3-.1-46.1 18.9-.3.1-.3.4-.4.3-.3.1-.1-.3-.2-.5-.1-.9z"/><path fill="#00009f" d="M252 102.4l.4.3-46.1 18.9-.4-.3z"/><path fill="#00008f" d="M252.4 102.7l.3.6.4.9.3.6.4.3.3.2.4.2.3.2.4.3 12.3 7.4-46.1 18.9-12.4-7.4-.3-.3-.3-.2-.4-.2-.3-.2-.4-.3-.3-.6-.4-.9-.3-.6z"/></g><path d="M316.4 82.8L362.5 63.9" stroke="#e8e8e8" stroke-width="1.0" fill="none"/><path d="M362.5 63.9L400.5 86.8" stroke="#e8e8e8" stroke-width="1.0" fill="none"/><path d="M316.4 56.2L362.5 37.3" stroke="#e8e8e8" stroke-width="1.0" fill="none"/><path d="M362.5 37.3L400.5 60.2" stroke="#e8e8e8" stroke-width="1.0" fill="none"/><path d="M362.5 90.6L362.5 37.3" stroke="#e8e8e8" stroke-width="1.0" fill="none"/><path d="M381.5 102.1L381.5 48.8" stroke="#e8e8e8" stroke-width="1.0" fill="none"/><path d="M400.5 113.5L400.5 60.2" stroke="#e8e8e8" stroke-width="1.0" fill="none"/><path d="M316.4 109.5L316.4 56.2" stroke="#7a7a7a" stroke-width="1.0" fill="none"/><path d="M316.4 109.5L354.4 132.4" stroke="#7a7a7a" stroke-width="1.0" fill="none"/><path d="M354.4 132.4L400.5 113.5" stroke="#7a7a7a" stroke-width="1.0" fill="none"/><g shape-rendering="crispEdges" filter="url(#bl)" transform="translate(.013 .017)"><path fill="#00008f" d="M318.6 108.6 356.6 131.5 400.5 113.5 362.5 90.6Z"/><path fill="#00008f" d="M318.6 108.5l1.9 1.1.7.5 2.8 1.6.7.5.7.4.8.4.7.4.7.5 2.8 1.6.7.5.8.4 1.4.8.7.5 2.1 1.2.7.5.8.4.7.4.7.5 1.4.8.7.5 1.4.8.8.5 1.4.8.7.5 1.4.8.7.5.7.4.8.4.7.5.7.4.7.5 1.4.8.7.5.7.4.8.4 1.9 1.2-.2 0-1.9-1.2-.7-.4-.7-.5-.7-.4-.8-.5-1.4-.8-.7-.5-.7-.4-.7-.5-.7-.4-.7-.5-.8-.4-.7-.5-1.4-.8-.7-.5-.7-.4-.7-.5-.7-.4-.8-.4-.7-.5-1.4-.8-.7-.5-1.4-.8-.7-.5-.8-.4-2.1-1.2-.7-.5-2.1-1.2-.8-.4-1.4-.8-.7-.5-2.8-1.6-.8-.4-.7-.4-.7-.5-1.4-.8-1.9-1.1zM318.2 108.5l1.9 1.1.8.4 4.9 2.8.8.4 4.9 2.8.8.4 4.2 2.4.7.5.8.4.7.4.7.5.7.4.7.5.7.4.7.5.7.4.8.5.7.4 1.4 1 .7.4 1.4 1 .7.4.8.5.7.4 1.4 1 .7.4.7.5.7.4.7.5 1.9 1.2.2 0-1.9-1.2-.7-.4-.7-.5-.7-.4-.8-.5-1.4-.8-.7-.5-.7-.4-.7-.5-.7-.4-.7-.5-.8-.4-.7-.5-1.4-.8-.7-.5-.7-.4-.7-.5-.7-.4-.8-.4-.7-.5-1.4-.8-.7-.5-1.4-.8-.7-.5-.8-.4-2.1-1.2-.7-.5-2.1-1.2-.8-.4-1.4-.8-.7-.5-2.8-1.6-.8-.4-.7-.4-.7-.5-1.4-.8-1.9-1.1zM318.1 108.5l1.9 1 2.8 1.6.8.3 1.4.8.7.3 1.4.8.7.3.2.4-1.4-.8-.8-.4-4.9-2.8-.8-.4-1.9-1.1z"/><path fill="#00009f" d="M327.8 113.6l.7.4.8.4.7.3 1.4.8.7.3 2.1 1.2.8.4 2.1 1.2.7.5.7.4.7.5.7.4.8.5 1.4 1 .7.4 2.8 2 .8.5.1.3-.7-.4-1.4-1-.7-.4-.8-.5-.7-.4-.7-.5-.7-.4-.7-.5-.7-.4-.7-.5-.7-.4-.8-.4-.7-.5-4.2-2.4-.8-.4-3.5-2z"/><path fill="#00008f" d="M346.4 124.8l4.2 3 .7.4.8.5 2.1 1.5 1.9 1.2.1 0-1.9-1.2-.7-.5-.7-.4-.7-.5-.7-.4-1.4-1-.7-.4-.8-.5-.7-.4-1.4-1zM318.1 108.5l1.9 1 2.8 1.6.8.3.7.4-.2-.2-.7-.3-.7-.4-.7-.3-.7-.4-.8-.3-.7-.4-1.9-1z"/><path fill="#00009f" d="M324.1 111.6l2.1.9.8.4 3.5 1.5.2.7-.7-.4-.7-.3-.8-.4-.7-.4-.7-.3-1.4-.8-.7-.3-.7-.4z"/><path fill="#0000af" d="M330.5 114.4l1.4.6.8.3.7.4.7.3.7.4.7.3.7.4.7.5.7.4.8.5.7.4.7.5.7.6 1.4 1 .7.6.7.5.2.7-.7-.5-.7-.4-1.4-1-.8-.5-.7-.4-.7-.5-.7-.4-.7-.5-2.1-1.2-.8-.4-2.1-1.2-.7-.3-.7-.4z"/><path fill="#00009f" d="M343.3 122.1l.8.6.7.5.7.6.7.5.7.6.7.5.7.6.7.5.8.5.1.3-3.5-2.5-.8-.5-2.1-1.5z"/><path fill="#00008f" d="M349.9 127.3l.7.5.7.4.8.5 2.1 1.5 1.9 1.2-.2 0-1.9-1.3-3.5-2.5-.7-.6zM317.9 108.5l1.9 1 .7.4.8.3.7.4.7.3-.2-.1-2.8-1.2-1.9-1z"/><path fill="#00009f" d="M322.5 110.8l.7.3.8.3.7.2.7.3.7.2.1.4-2.8-1.2-.7-.4z"/><path fill="#0000af" d="M326.1 112.1l2.8.8.8.2.1 1-2.8-1.2-.8-.4z"/><path fill="#0000bf" d="M329.7 113.1l1.4.4.7.3 1.4.4.7.3.2 1.5-.7-.3-.7-.4-.8-.3-2.1-.9z"/><path fill="#0000cf" d="M333.9 114.5l.7.3.8.3 2.1 1.2.7.5.7.6.7.5.2 1.5-.7-.5-.7-.4-.8-.5-.7-.4-.7-.5-.7-.4-.7-.3-.7-.4z"/><path fill="#0000bf" d="M339.6 117.9l.7.6.8.6.7.7.7.6.7.7.7.6.2 1-.8-.6-.7-.5-.7-.6-1.4-1-.7-.6z"/><path fill="#0000af" d="M343.9 121.7l.7.7.7.6.7.7.8.7.7.6.1.4-.7-.5-.7-.6-.7-.5-.7-.6-.7-.5z"/><path fill="#00009f" d="M347.5 125l3.5 3 .2.1-.7-.5-.7-.6-.8-.5-.7-.5-.7-.6z"/><path fill="#00008f" d="M351.2 128.1l2.8 2 1.9 1.3-.1.1-1.9-1.3-.7-.6-.7-.5-.8-.5-.7-.6zM317.8 108.6l1.9 1 2.1.9-.1 0-.7-.2-.8-.3-.7-.4-1.9-.9z"/><path fill="#00009f" d="M321.7 110.5l.7.3 2.1.6.2.2-.7-.2-.8-.3-1.4-.6z"/><path fill="#0000af" d="M324.5 111.4l.7.1.7.2.8.1.1.5-1.4-.4-.7-.3z"/><path fill="#0000bf" d="M326.7 111.8l.7 0 .7.1.7 0 .1 1-2.1-.6z"/><path fill="#0000cf" d="M328.8 111.9l.7 0 .7.1.7 0 .2 1.5-1.4-.4-.8-.2z"/><path fill="#0000df" d="M330.9 112l.7 0 .8.1.7 0 .1 2.1-1.4-.4-.7-.3z"/><path fill="#0000ef" d="M333.1 112.1l.7.2.7.1.7.3.7.2.7.4.7.5.8.6.7.6 1.4 1.4.1 2.1-.7-.6-.7-.5-.7-.6-.7-.5-2.1-1.2-.8-.3-1.4-.6z"/><path fill="#0000df" d="M340.2 116.4l2.1 2.4.2 1.6-.7-.6-.7-.7-.8-.6z"/><path fill="#0000cf" d="M342.3 118.8l.7.9.8.8.7.9.1 1-.7-.7-.7-.6-.7-.7z"/><path fill="#0000bf" d="M344.5 121.4l2.1 2.4.2.6-.8-.7-.7-.7-.7-.6z"/><path fill="#0000af" d="M346.6 123.8l.7.7.7.8.9.9-2.1-1.8z"/><path fill="#00009f" d="M348.9 126.2l2.8 2.4-.1 0-.7-.6-.7-.7-.7-.6-.8-.7z"/><path fill="#00008f" d="M351.7 128.6l.8.5.7.5.7.6 1.9 1.3-.2.1-1.9-1.4-.7-.5-.7-.6-.7-.5zM317.6 108.7l1.9.9.7.4.8.3.7.2-.2.1-.7-.2-1.4-.6-1.9-1z"/><path fill="#00009f" d="M321.7 110.5l.7.3 1.4.4-.1-.1-.8-.1-1.4-.4z"/><path fill="#0000af" d="M323.7 111.1l1.4.2.7-.1.1.5-.7-.2-.7-.1-.7-.2z"/><path fill="#0000bf" d="M325.8 111.2l.7 0 .7-.1.2.7-.7 0-.8-.1z"/><path fill="#0000cf" d="M327.2 111.1l.7-.2.2 1-.7-.1z"/><path fill="#0000df" d="M327.9 110.9l.7-.2.8-.2.1 1.4-1.4 0z"/><path fill="#0000ef" d="M329.4 110.5l.7-.3.7-.2.1 2-.7 0-.7-.1z"/><path fill="#0000ff" d="M330.8 110l.7-.3.1 2.3-.7 0z"/><path fill="#0010ff" d="M331.5 109.7l1.4-.4.2 2.8-.7 0-.8-.1z"/><path fill="#0020ff" d="M332.9 109.3l1.4-.2.2 3.3-.7-.1-.7-.2z"/><path fill="#0030ff" d="M334.3 109.1l.8.1.7.2.7.3.7.5.7.7.7.8.2 3.3-.7-.6-.8-.6-.7-.5-.7-.4-.7-.2-.7-.3z"/><path fill="#0020ff" d="M338.6 111.7l.7.9.7 1 .2 2.8-1.4-1.4z"/><path fill="#0010ff" d="M340 113.6l.8 1.1.7 1 .1 2.3-1.4-1.6z"/><path fill="#0000ff" d="M341.5 115.7l.7 1.2.1 1.9-.7-.8z"/><path fill="#0000ef" d="M342.2 116.9l1.4 2.2.2 1.4-.8-.8-.7-.9z"/><path fill="#0000df" d="M343.6 119.1l.7 1.1.7 1 .2 1-.7-.8-.7-.9z"/><path fill="#0000cf" d="M345 121.2l.7 1 .2.8-.7-.8z"/><path fill="#0000bf" d="M345.7 122.2l.8 1 .7.9.1.4-.7-.7-.7-.8z"/><path fill="#0000af" d="M347.2 124.1l.7.9 1.4 1.6.2.1-.8-.7-.7-.7-.7-.8z"/><path fill="#00009f" d="M349.5 126.7l.7.6.7.7.7.6-.2 0-.7-.6-1.4-1.4z"/><path fill="#00008f" d="M351.6 128.6l.7.5.7.6.7.5 1.9 1.4-.1.1-1.9-1.3-1.4-1.2-.8-.6zM317.5 108.8l1.9 1 1.4.6.7.2-.1.1-.8-.2-1.4-.6-1.9-.9z"/><path fill="#00009f" d="M321.5 110.6l1.4.4.8.1-.9 0-1.4-.4z"/><path fill="#0000af" d="M323.5 111.1l.7.1.7-.1.2.2-1.4-.2z"/><path fill="#0000bf" d="M324.9 111.1l1.4-.4.2.5-.7 0-.7.1z"/><path fill="#0000cf" d="M326.3 110.7l.8-.3.1.7-.7.1z"/><path fill="#0000df" d="M327.1 110.4l.7-.5.1 1-.7.2z"/><path fill="#0000ef" d="M327.8 109.9l.7-.5.1 1.3-.7.2z"/><path fill="#0000ff" d="M328.5 109.4l.7-.5.2 1.6-.8.2z"/><path fill="#0010ff" d="M329.2 108.9l.7-.7.2 2-.7.3z"/><path fill="#0020ff" d="M329.9 108.2l.7-.6.2 2.4-.7.2z"/><path fill="#0030ff" d="M330.6 107.6l.7-.7.2 2.8-.7.3z"/><path fill="#0040ff" d="M331.3 106.9l.7-.6.2 3.2-.7.2z"/><path fill="#0050ff" d="M332 106.3l.8-.6.1 3.6-.7.2z"/><path fill="#0060ff" d="M332.8 105.7l.7-.5.1 4-.7.1z"/><path fill="#0070ff" d="M333.5 105.2l.7-.4.1 4.3-.7.1z"/><path fill="#0080ff" d="M334.2 104.8l.7-.2.7 0 .7.3.7.6.7.8.8 1.1.1 4.3-.7-.8-.7-.7-.7-.5-.7-.3-.7-.2-.8-.1z"/><path fill="#0070ff" d="M338.5 107.4l.7 1.2.1 4-.7-.9z"/><path fill="#0060ff" d="M339.2 108.6l.7 1.4.1 3.6-.7-1z"/><path fill="#0050ff" d="M339.9 110l.7 1.4.2 3.3-.8-1.1z"/><path fill="#0040ff" d="M340.6 111.4l.7 1.5.2 2.8-.7-1z"/><path fill="#0030ff" d="M341.3 112.9l.7 1.6.2 2.4-.7-1.2z"/><path fill="#0020ff" d="M342 114.5l.7 1.5.2 2-.7-1.1z"/><path fill="#0010ff" d="M342.7 116l.7 1.5.2 1.6-.7-1.1z"/><path fill="#0000ff" d="M343.4 117.5l.8 1.4.1 1.3-.7-1.1z"/><path fill="#0000ef" d="M344.2 118.9l.7 1.3.1 1-.7-1z"/><path fill="#0000df" d="M344.9 120.2l.7 1.3.1.7-.7-1z"/><path fill="#0000cf" d="M345.6 121.5l.7 1.2.2.5-.8-1z"/><path fill="#0000bf" d="M346.3 122.7l.7 1.1.7 1 .2.2-1.4-1.8z"/><path fill="#0000af" d="M347.9 125l1.4 1.6-.2 0-.7-.8-.7-1z"/><path fill="#00009f" d="M349.3 126.6l1.4 1.4.7.6-.1.2-2.2-2.2z"/><path fill="#00008f" d="M351.4 128.6l.8.6 1.4 1.2 1.9 1.3-.2.2-1.9-1.4-.7-.5-1.4-1.2zM317.3 109l1.9.9 1.4.6.8.2-.2.2-.7-.2-1.4-.6-1.9-1z"/><path fill="#00009f" d="M321.4 110.7l1.4.4.7 0-.2.1-.7 0-.7-.1-.7-.2z"/><path fill="#0000af" d="M323.3 111.2l.8 0 .7-.2.1.1-.7.1-.7-.1z"/><path fill="#0000bf" d="M324.8 111l.7-.3.1.2-.7.2z"/><path fill="#0000cf" d="M325.5 110.7l.7-.4.1.4-.7.2z"/><path fill="#0000df" d="M326.2 110.3l.7-.6.2.7-.8.3z"/><path fill="#0000ef" d="M326.9 109.7l.7-.7.2.9-.7.5z"/><path fill="#0000ff" d="M327.6 109l.7-.9.2 1.3-.7.5z"/><path fill="#0020ff" d="M328.3 108.1l.7-1 .2 1.8-.7.5z"/><path fill="#0030ff" d="M329 107.1l.8-1 .1 2.1-.7.7z"/><path fill="#0050ff" d="M329.8 106.1l.7-1.2.1 2.7-.7.6z"/><path fill="#0060ff" d="M330.5 104.9l.7-1.2.1 3.2-.7.7z"/><path fill="#0080ff" d="M331.2 103.7l.7-1.2.1 3.8-.7.6z"/><path fill="#009fff" d="M331.9 102.5l.7-1.2.2 4.4-.8.6z"/><path fill="#00afff" d="M332.6 101.3l.7-1 .2 4.9-.7.5z"/><path fill="#00cfff" d="M333.3 100.3l.7-.8.2 5.3-.7.4z"/><path fill="#00dfff" d="M334 99.5l.7-.6.8-.3.1 6-.7 0-.7.2z"/><path fill="#00efff" d="M335.5 98.6l.7.2.7.7.1 6-.7-.6-.7-.3z"/><path fill="#00dfff" d="M336.9 99.5l.7 1.1.7 1.4.2 5.4-.8-1.1-.7-.8z"/><path fill="#00cfff" d="M338.3 102l.7 1.7.2 4.9-.7-1.2z"/><path fill="#00afff" d="M339 103.7l.7 1.9.2 4.4-.7-1.4z"/><path fill="#009fff" d="M339.7 105.6l.7 2 .2 3.8-.7-1.4z"/><path fill="#0080ff" d="M340.4 107.6l.8 2.1.1 3.2-.7-1.5z"/><path fill="#0060ff" d="M341.2 109.7l.7 2.1.1 2.7-.7-1.6z"/><path fill="#0050ff" d="M341.9 111.8l.7 2 .1 2.2-.7-1.5z"/><path fill="#0030ff" d="M342.6 113.8l.7 1.9.1 1.8-.7-1.5z"/><path fill="#0020ff" d="M343.3 115.7l.7 1.9.2 1.3-.8-1.4z"/><path fill="#0000ff" d="M344 117.6l.7 1.7.2.9-.7-1.3z"/><path fill="#0000ef" d="M344.7 119.3l.7 1.6.2.6-.7-1.3z"/><path fill="#0000df" d="M345.4 120.9l.9 1.8-.7-1.2z"/><path fill="#0000cf" d="M346.1 122.3l.8 1.3.1.2-.7-1.1z"/><path fill="#0000bf" d="M346.9 123.6l.7 1.1.1.1-.7-1z"/><path fill="#0000af" d="M347.7 124.8l.7 1 .7.8-.1.1-.7-.9-.7-1.1z"/><path fill="#00009f" d="M349.1 126.6l2.2 2.2-.2.1-.7-.6-1.4-1.6z"/><path fill="#00008f" d="M351.3 128.8l1.4 1.2.7.5 1.9 1.4-.1.1-1.9-1.3-.7-.6-.8-.5-.7-.7zM317.2 109.1l1.9 1 1.4.6 1.4.4-.1.1-.7-.2-.8-.2-1.4-.6-1.9-1z"/><path fill="#00009f" d="M321.9 111.1l.7.1.7 0-.1.1-.7 0-.7-.1z"/><path fill="#0000af" d="M323.3 111.2l.6 0-.7.1z"/><path fill="#0000bf" d="M323.9 111.2l.7-.3.7-.4.2.2-.7.3-.7.2z"/><path fill="#0000cf" d="M325.3 110.5l.7-.6.2.4-.7.4z"/><path fill="#0000ef" d="M326 109.9l.8-.8.1.6-.7.6z"/><path fill="#0000ff" d="M326.8 109.1l.7-1 .1.9-.7.7z"/><path fill="#0020ff" d="M327.5 108.1l.7-1.3.1 1.3-.7.9z"/><path fill="#0040ff" d="M328.2 106.8l.7-1.4.1 1.7-.7 1z"/><path fill="#0060ff" d="M328.9 105.4l.7-1.7.2 2.4-.8 1z"/><path fill="#0080ff" d="M329.6 103.7l.7-1.8.2 3-.7 1.2z"/><path fill="#009fff" d="M330.3 101.9l.7-1.8.2 3.6-.7 1.2z"/><path fill="#00cfff" d="M331 100.1l.7-1.9.2 4.3-.7 1.2z"/><path fill="#00efff" d="M331.7 98.2l.8-1.9.1 5-.7 1.2z"/><path fill="#10ffef" d="M332.5 96.3l.7-1.6.1 5.6-.7 1z"/><path fill="#30ffcf" d="M333.2 94.7l.7-1.5.1 6.3-.7.8z"/><path fill="#50ffaf" d="M333.9 93.2l.7-1 .1 6.7-.7.6z"/><path fill="#60ff9f" d="M334.6 92.2l.7-.6.2 7-.8.3z"/><path fill="#70ff8f" d="M335.3 91.6l.7 0 .7.9.2 7-.7-.7-.7-.2z"/><path fill="#60ff9f" d="M336.7 92.5l.7 1.4.2 6.7-.7-1.1z"/><path fill="#50ffaf" d="M337.4 93.9l.8 1.9.1 6.2-.7-1.4z"/><path fill="#30ffcf" d="M338.2 95.8l.7 2.3.1 5.6-.7-1.7z"/><path fill="#10ffef" d="M338.9 98.1l.7 2.5.1 5-.7-1.9z"/><path fill="#00efff" d="M339.6 100.6l.7 2.7.1 4.3-.7-2z"/><path fill="#00cfff" d="M340.3 103.3l.7 2.8.2 3.6-.8-2.1z"/><path fill="#009fff" d="M341 106.1l.7 2.7.2 3-.7-2.1z"/><path fill="#0080ff" d="M341.7 108.8l.7 2.7.2 2.3-.7-2z"/><path fill="#0060ff" d="M342.4 111.5l.7 2.5.2 1.7-.7-1.9z"/><path fill="#0040ff" d="M343.1 114l.8 2.3.1 1.3-.7-1.9z"/><path fill="#0020ff" d="M343.9 116.3l.7 2.1.1.9-.7-1.7z"/><path fill="#0000ff" d="M344.6 118.4l.7 1.8.1.7-.7-1.6z"/><path fill="#0000ef" d="M345.3 120.2l.7 1.7.1.4-.7-1.4z"/><path fill="#0000cf" d="M346 121.9l.7 1.5.2.2-.8-1.3z"/><path fill="#0000bf" d="M346.9 123.6l1.4 2.2-.2 0-.7-1.1-.7-1.3z"/><path fill="#0000af" d="M348.3 125.8l.7.9-.2.1-.7-1z"/><path fill="#00009f" d="M349 126.7l1.4 1.6-.1.1-.7-.8-.8-.8z"/><path fill="#00008f" d="M350.4 128.3l.7.6.7.7.8.5.7.6 1.9 1.3-.2.1-1.9-1.3-.7-.5-1.4-1.2-.7-.7zM317 109.2l1.9 1 1.4.6.8.2.7.2-.2.1-.7-.1-2.1-.9-1.9-1z"/><path fill="#00009f" d="M321.8 111.2l.7.1.7 0-.2.1-.7 0-.7-.1z"/><path fill="#0000af" d="M323.2 111.3l.7-.1-.2 0-.7.2z"/><path fill="#0000bf" d="M323.7 111.2l.8-.3.1 0-.7.3z"/><path fill="#0000cf" d="M324.5 110.9l.7-.6.1.2-.7.4z"/><path fill="#0000df" d="M325.2 110.3l.7-.8.1.4-.7.6z"/><path fill="#0000ef" d="M325.9 109.5l.7-1 .2.6-.8.8z"/><path fill="#0010ff" d="M326.6 108.5l.7-1.4.2 1-.7 1z"/><path fill="#0030ff" d="M327.3 107.1l.7-1.6.2 1.3-.7 1.3z"/><path fill="#0060ff" d="M328 105.5l.7-1.9.2 1.8-.7 1.4z"/><path fill="#0080ff" d="M328.7 103.6l.7-2.2.2 2.3-.7 1.7z"/><path fill="#00afff" d="M329.4 101.4l.8-2.5.1 3-.7 1.8z"/><path fill="#00dfff" d="M330.2 98.9l.7-2.6.1 3.8-.7 1.8z"/><path fill="#20ffdf" d="M330.9 96.3l.7-2.6.1 4.5-.7 1.9z"/><path fill="#50ffaf" d="M331.6 93.7l.7-2.6.2 5.2-.8 1.9z"/><path fill="#80ff80" d="M332.3 91.1l.7-2.5.2 6.1-.7 1.6z"/><path fill="#afff50" d="M333 88.6l.7-2 .2 6.6-.7 1.5z"/><path fill="#cfff30" d="M333.7 86.6l.7-1.6.2 7.2-.7 1z"/><path fill="#efff10" d="M334.4 85l.7-1 .2 7.6-.7.6z"/><path fill="#ffff00" d="M335.1 84l.8-.1.7 1 .1 7.6-.7-.9-.7 0z"/><path fill="#efff10" d="M336.6 84.9l.7 1.8.1 7.2-.7-1.4z"/><path fill="#cfff30" d="M337.3 86.7l.7 2.4.2 6.7-.8-1.9z"/><path fill="#afff50" d="M338 89.1l.7 3 .2 6-.7-2.3z"/><path fill="#80ff80" d="M338.7 92.1l.7 3.3.2 5.2-.7-2.5z"/><path fill="#50ffaf" d="M339.4 95.4l.7 3.4.2 4.5-.7-2.7z"/><path fill="#20ffdf" d="M340.1 98.8l.7 3.5.2 3.8-.7-2.8z"/><path fill="#00dfff" d="M340.8 102.3l.8 3.5.1 3-.7-2.7z"/><path fill="#00afff" d="M341.6 105.8l.7 3.3.1 2.4-.7-2.7z"/><path fill="#0080ff" d="M342.3 109.1l.7 3 .1 1.9-.7-2.5z"/><path fill="#0060ff" d="M343 112.1l.7 2.8.2 1.4-.8-2.3z"/><path fill="#0030ff" d="M343.7 114.9l.7 2.5.2 1-.7-2.1z"/><path fill="#0010ff" d="M344.4 117.4l.7 2.2.2.6-.7-1.8z"/><path fill="#0000ef" d="M345.3 120.2l.7 1.7-.2-.3-.7-2z"/><path fill="#0000df" d="M346 121.9l.7 1.5-.2-.2-.7-1.6z"/><path fill="#0000cf" d="M346.7 123.4l.7 1.3-.1-.1-.8-1.4z"/><path fill="#0000bf" d="M347.4 124.7l.7 1.1-.1 0-.7-1.2z"/><path fill="#0000af" d="M348.1 125.8l.7 1-.1.1-.7-1.1z"/><path fill="#00009f" d="M348.8 126.8l.8.8.7.8-.2.1-1.4-1.6z"/><path fill="#00008f" d="M350.3 128.4l.7.7 1.4 1.2.7.5 1.9 1.3-.1.1-1.9-1.3-.8-.5-1.4-1.2-.7-.7zM316.9 109.3l1.9 1 2.1.9.7.1-.1.1-.8-.2-.7-.2-1.4-.6-1.9-1.1z"/><path fill="#00009f" d="M321.6 111.3l.7.1.6 0-.7.1-.7-.1z"/><path fill="#0000af" d="M322.9 111.4l.7-.2.1 0-.7.2z"/><path fill="#0000bf" d="M323.6 111.2l.7-.4.2.1-.8.3z"/><path fill="#0000cf" d="M324.3 110.8l.7-.7.2.2-.7.6z"/><path fill="#0000df" d="M325 110.1l.7-1 .2.4-.7.8z"/><path fill="#0000ff" d="M325.7 109.1l.7-1.2.2.6-.7 1z"/><path fill="#0020ff" d="M326.4 107.9l.8-1.7.1.9-.7 1.4z"/><path fill="#0050ff" d="M327.2 106.2l.7-2 .1 1.3-.7 1.6z"/><path fill="#0080ff" d="M327.9 104.2l.7-2.4.1 1.8-.7 1.9z"/><path fill="#00afff" d="M328.6 101.8l.7-2.7.1 2.3-.7 2.2z"/><path fill="#00dfff" d="M329.3 99.1l.7-3.1.2 2.9-.8 2.5z"/><path fill="#20ffdf" d="M330 96l.7-3.3.2 3.6-.7 2.6z"/><path fill="#70ff8f" d="M330.7 92.7l.7-3.4.2 4.4-.7 2.6z"/><path fill="#afff50" d="M331.4 89.3l.7-3.3.2 5.1-.7 2.6z"/><path fill="#efff10" d="M332.1 86l.8-3.1.1 5.7-.7 2.5z"/><path fill="#ffdf00" d="M332.9 82.9l.7-2.8.1 6.5-.7 2z"/><path fill="#ffaf00" d="M333.6 80.1l.7-2.1.1 7-.7 1.6z"/><path fill="#ff8000" d="M334.3 78l.7-1.3.1 7.3-.7 1z"/><path fill="#ff7000" d="M335 76.7l.7-.3.7 1.1.2 7.4-.7-1-.8.1z"/><path fill="#ff8000" d="M336.4 77.5l.7 2.2.2 7-.7-1.8z"/><path fill="#ffaf00" d="M337.1 79.7l.7 3 .2 6.4-.7-2.4z"/><path fill="#ffdf00" d="M337.8 82.7l.8 3.6.1 5.8-.7-3z"/><path fill="#efff10" d="M338.6 86.3l.7 4 .1 5.1-.7-3.3z"/><path fill="#afff50" d="M339.3 90.3l.7 4.2.1 4.3-.7-3.4z"/><path fill="#70ff8f" d="M340 94.5l.7 4.2.1 3.6-.7-3.5z"/><path fill="#20ffdf" d="M340.7 98.7l.7 4.2.2 2.9-.8-3.5z"/><path fill="#00dfff" d="M341.4 102.9l.7 3.9.2 2.3-.7-3.3z"/><path fill="#00afff" d="M342.1 106.8l.7 3.6.2 1.7-.7-3z"/><path fill="#0080ff" d="M342.8 110.4l.7 3.2.2 1.3-.7-2.8z"/><path fill="#0050ff" d="M343.5 113.6l.8 2.9.1.9-.7-2.5z"/><path fill="#0020ff" d="M344.3 116.5l.7 2.5.1.6-.7-2.2z"/><path fill="#0000ff" d="M345 119l.7 2.2.1.4-.7-2z"/><path fill="#0000df" d="M345.7 121.2l.7 1.8.1.2-.7-1.6z"/><path fill="#0000cf" d="M346.5 123.2l.8 1.4-.2-.1-.7-1.5z"/><path fill="#0000bf" d="M347.3 124.6l.7 1.2-.2 0-.7-1.3z"/><path fill="#0000af" d="M348 125.8l.7 1.1-.2 0-.7-1.1z"/><path fill="#00009f" d="M348.7 126.9l1.4 1.6-.1.1-.8-.8-.7-.9z"/><path fill="#00008f" d="M350.1 128.5l.7.7 1.4 1.2.8.5 1.9 1.3-.2 0-1.9-1.2-.7-.6-.7-.5-.7-.6-.7-.7zM316.7 109.3l1.9 1.1 1.4.6.7.2.8.2-.2 0-.7-.1-.7-.2-.7-.3-.7-.4-1.9-1z"/><path fill="#00009f" d="M321.3 111.4l.7.1.7-.1.2 0-.7.1-.7-.1z"/><path fill="#0000af" d="M322.7 111.4l.7-.3.2.1-.7.2z"/><path fill="#0000bf" d="M323.4 111.1l.8-.5.1.2-.7.4z"/><path fill="#0000cf" d="M324.2 110.6l.7-.8.1.3-.7.7z"/><path fill="#0000ef" d="M324.9 109.8l.7-1.1.1.4-.7 1z"/><path fill="#0010ff" d="M325.6 108.7l.7-1.4.1.6-.7 1.2z"/><path fill="#0030ff" d="M326.3 107.3l.7-1.9.2.8-.8 1.7z"/><path fill="#0060ff" d="M327 105.4l.7-2.3.2 1.1-.7 2z"/><path fill="#008fff" d="M327.7 103.1l.7-2.8.2 1.5-.7 2.4z"/><path fill="#00cfff" d="M328.4 100.3l.7-3.2.2 2-.7 2.7z"/><path fill="#10ffef" d="M329.1 97.1l.8-3.5.1 2.4-.7 3.1z"/><path fill="#60ff9f" d="M329.9 93.6l.7-3.8.1 2.9-.7 3.3z"/><path fill="#afff50" d="M330.6 89.8l.7-4 .1 3.5-.7 3.4z"/><path fill="#ffff00" d="M331.3 85.8l.7-3.9.1 4.1-.7 3.3z"/><path fill="#ffaf00" d="M332 81.9l.7-3.7.2 4.7-.8 3.1z"/><path fill="#ff7000" d="M332.7 78.2l.7-3.3.2 5.2-.7 2.8z"/><path fill="#ff3000" d="M333.4 74.9l.7-2.5.2 5.6-.7 2.1z"/><path fill="#ff1000" d="M334.1 72.4l.7-1.6.2 5.9-.7 1.3z"/><path fill="#ef0000" d="M334.8 70.8l.8-.4.7 1.3.1 5.8-.7-1.1-.7.3z"/><path fill="#ff1000" d="M336.3 71.7l.7 2.4.1 5.6-.7-2.2z"/><path fill="#ff3000" d="M337 74.1l.7 3.4.1 5.2-.7-3z"/><path fill="#ff7000" d="M337.7 77.5l.7 4.1.2 4.7-.8-3.6z"/><path fill="#ffaf00" d="M338.4 81.6l.7 4.6.2 4.1-.7-4z"/><path fill="#ffff00" d="M339.1 86.2l.7 4.8.2 3.5-.7-4.2z"/><path fill="#afff50" d="M339.8 91l.7 4.8.2 2.9-.7-4.2z"/><path fill="#60ff9f" d="M340.5 95.8l.8 4.6.1 2.5-.7-4.2z"/><path fill="#10ffef" d="M341.3 100.4l.7 4.5.1 1.9-.7-3.9z"/><path fill="#00cfff" d="M342 104.9l.7 4 .1 1.5-.7-3.6z"/><path fill="#008fff" d="M342.7 108.9l.7 3.6.1 1.1-.7-3.2z"/><path fill="#0060ff" d="M343.4 112.5l.7 3.2.2.8-.8-2.9z"/><path fill="#0030ff" d="M344.3 116.5l.7 2.5-.2-.6-.7-2.7z"/><path fill="#0010ff" d="M345 119l.7 2.2-.2-.4-.7-2.4z"/><path fill="#0000ef" d="M345.7 121.2l.7 1.8-.2-.3-.7-1.9z"/><path fill="#0000cf" d="M346.4 123l.7 1.5-.1-.1-.8-1.7z"/><path fill="#0000bf" d="M347.1 124.5l.7 1.3-.1-.1-.7-1.3z"/><path fill="#0000af" d="M347.8 125.8l.7 1.1-.1 0-.7-1.2z"/><path fill="#00009f" d="M348.5 126.9l.7.9.8.8-.2 0-.7-.8-.7-.9z"/><path fill="#00008f" d="M350 128.6l.7.7.7.6.7.5.7.6 1.9 1.2-.1.1-1.9-1.3-.8-.5-1.4-1.2-.7-.7zM316.6 109.4l1.9 1 .7.4.7.3.7.2.7.1-.1.1-.8-.2-.7-.2-1.4-.6-1.9-1z"/><path fill="#00009f" d="M321.3 111.4l.7.1.7-.1-.1 0-.7.1-.7 0z"/><path fill="#0000af" d="M322.6 111.4l.7-.3.1 0-.7.3z"/><path fill="#0000bf" d="M323.3 111.1l.7-.6.2.1-.8.5z"/><path fill="#0000cf" d="M324 110.5l.7-.8.2.1-.7.8z"/><path fill="#0000ef" d="M324.7 109.7l.7-1.2.2.2-.7 1.1z"/><path fill="#0010ff" d="M325.4 108.5l.7-1.5.2.3-.7 1.4z"/><path fill="#0040ff" d="M326.1 107l.7-2.1.2.5-.7 1.9z"/><path fill="#0070ff" d="M326.8 104.9l.8-2.4.1.6-.7 2.3z"/><path fill="#00afff" d="M327.6 102.5l.7-3 .1.8-.7 2.8z"/><path fill="#00efff" d="M328.3 99.5l.7-3.3.1.9-.7 3.2z"/><path fill="#30ffcf" d="M329 96.2l.7-3.8.2 1.2-.8 3.5z"/><path fill="#8fff70" d="M329.7 92.4l.7-4.1.2 1.5-.7 3.8z"/><path fill="#dfff20" d="M330.4 88.3l.7-4.2.2 1.7-.7 4z"/><path fill="#ffcf00" d="M331.1 84.1l.7-4.2.2 2-.7 3.9z"/><path fill="#ff7000" d="M331.8 79.9l.7-3.9.2 2.2-.7 3.7z"/><path fill="#ff3000" d="M332.5 76l.8-3.5.1 2.4-.7 3.3z"/><path fill="#ef0000" d="M333.3 72.5l.7-2.7.1 2.6-.7 2.5z"/><path fill="#af0000" d="M334 69.8l.7-1.7.1 2.7-.7 1.6z"/><path fill="#9f0000" d="M334.7 68.1l.7-.5.7 1.3.2 2.8-.7-1.3-.8.4z"/><path fill="#af0000" d="M336.1 68.9l.7 2.6.2 2.6-.7-2.4z"/><path fill="#ef0000" d="M336.8 71.5l.7 3.6.2 2.4-.7-3.4z"/><path fill="#ff3000" d="M337.5 75.1l.7 4.3.2 2.2-.7-4.1z"/><path fill="#ff7000" d="M338.2 79.4l.8 4.8.1 2-.7-4.6z"/><path fill="#ffcf00" d="M339 84.2l.7 5.1.1 1.7-.7-4.8z"/><path fill="#dfff20" d="M339.7 89.3l.7 5 .1 1.5-.7-4.8z"/><path fill="#8fff70" d="M340.4 94.3l.7 5 .2 1.1-.8-4.6z"/><path fill="#30ffcf" d="M341.3 100.4l.7 4.5-.2-1-.7-4.6z"/><path fill="#00efff" d="M342 104.9l.7 4-.2-.8-.7-4.2z"/><path fill="#00afff" d="M342.7 108.9l.7 3.6-.2-.6-.7-3.8z"/><path fill="#0070ff" d="M343.4 112.5l.7 3.2-.1-.4-.8-3.4z"/><path fill="#0040ff" d="M344.1 115.7l.7 2.7-.1-.3z"/><path fill="#0010ff" d="M344.8 118.4l.7 2.4-.1-.3-.7-2.4z"/><path fill="#0000ef" d="M345.5 120.8l.7 1.9-.1-.1z"/><path fill="#0000cf" d="M346.2 122.7l.8 1.7-.2-.1-.7-1.7z"/><path fill="#0000bf" d="M347 124.4l.7 1.3-.2 0-.7-1.4z"/><path fill="#0000af" d="M347.7 125.7l.7 1.2-.2-.1-.7-1.1z"/><path fill="#00009f" d="M348.4 126.9l.7.9.7.8-.2.1-.7-.9-.7-1z"/><path fill="#00008f" d="M349.8 128.6l.7.7 1.4 1.2.8.5 1.9 1.3-.2.1-1.9-1.3-.7-.5-1.4-1.2-.8-.7z"/></g><path d="M447.5 82.8L493.6 63.9" stroke="#e8e8e8" stroke-width="1.0" fill="none"/><path d="M493.6 63.9L531.6 86.8" stroke="#e8e8e8" stroke-width="1.0" fill="none"/><path d="M447.5 56.2L493.6 37.3" stroke="#e8e8e8" stroke-width="1.0" fill="none"/><path d="M493.6 37.3L531.6 60.2" stroke="#e8e8e8" stroke-width="1.0" fill="none"/><path d="M493.6 90.6L493.6 37.3" stroke="#e8e8e8" stroke-width="1.0" fill="none"/><path d="M512.6 102.1L512.6 48.8" stroke="#e8e8e8" stroke-width="1.0" fill="none"/><path d="M531.6 113.5L531.6 60.2" stroke="#e8e8e8" stroke-width="1.0" fill="none"/><path d="M447.5 109.5L447.5 56.2" stroke="#7a7a7a" stroke-width="1.0" fill="none"/><path d="M447.5 109.5L485.5 132.4" stroke="#7a7a7a" stroke-width="1.0" fill="none"/><path d="M485.5 132.4L531.6 113.5" stroke="#7a7a7a" stroke-width="1.0" fill="none"/><g shape-rendering="crispEdges" filter="url(#bl)" transform="translate(.013 .017)"><path fill="#00008f" d="M493.6 90.6l12.4 7.4.6.5 2.1 1.2.6-2.2-46.1 18.9-.6 2.2-2.1-1.2-.7-.5-12.3-7.4z"/><path fill="#0000bf" d="M509.3 97.5l.7.3-46.1 18.9-.7-.3z"/><path fill="#00008f" d="M510 97.8l.7 3.1.1-.1.1-.4.1-.8-46.1 18.9-.1.8-.1.4-.1.1-.7-3.1z"/><path fill="#0000af" d="M464.9 118.5l.1-1.3 46.1-18.9-.1 1.3z"/><path fill="#0000cf" d="M465 117.2l.1-1.8 46.1-18.9-.1 1.8z"/><path fill="#0000ff" d="M465.1 115.4l.1-2.3 46.1-18.9-.1 2.3z"/><path fill="#0030ff" d="M465.2 113.1l.1-2.8 46.1-18.9-.1 2.8z"/><path fill="#0060ff" d="M465.3 110.3l.1-3.3 46.1-18.9-.1 3.3z"/><path fill="#00afff" d="M465.4 107l.1-3.7 46.1-18.9-.1 3.7z"/><path fill="#00efff" d="M465.5 103.3l.1-4 46-18.9 0 4z"/><path fill="#40ffbf" d="M465.6 99.3l0-4.2 46.1-18.9-.1 4.2z"/><path fill="#9fff60" d="M465.6 95.1l.1-4.4 46.1-18.9-.1 4.4z"/><path fill="#efff10" d="M465.7 90.7l.1-4.3 46.1-18.9-.1 4.3z"/><path fill="#ffbf00" d="M465.8 86.4l.1-4.1 46.1-18.9-.1 4.1z"/><path fill="#ff7000" d="M465.9 82.3l.1-3.8 46.1-18.9-.1 3.8z"/><path fill="#ff3000" d="M466 78.5l.1-3.3 46.1-18.9-.1 3.3z"/><path fill="#ef0000" d="M466.1 75.2l.1-2.7 46.1-18.9-.1 2.7z"/><path fill="#bf0000" d="M466.2 72.5l.1-1.9 46.1-18.9-.1 1.9z"/><path fill="#9f0000" d="M466.3 70.6l.1-1.2 46.1-18.9-.1 1.2z"/><path fill="#8f0000" d="M512.5 50.5l.1-.4.1.5-46.1 18.9-.1-.5-.1.4z"/><path fill="#9f0000" d="M512.7 50.6l.1 1.3-46.1 18.9-.1-1.3z"/><path fill="#bf0000" d="M512.8 51.9l.1 2.1-46.1 18.9-.1-2.1z"/><path fill="#ef0000" d="M512.9 54l.1 2.8-46.1 18.9-.1-2.8z"/><path fill="#ff3000" d="M513 56.8l.1 3.4-46.1 18.9-.1-3.4z"/><path fill="#ff7000" d="M513.1 60.2l.1 3.9-46.1 18.9-.1-3.9z"/><path fill="#ffbf00" d="M513.2 64.1l.1 4.2-46.1 18.9-.1-4.2z"/><path fill="#efff10" d="M513.3 68.3l.1 4.4-46.1 18.9-.1-4.4z"/><path fill="#9fff60" d="M513.4 72.7l.1 4.5-46.1 18.9-.1-4.5z"/><path fill="#40ffbf" d="M513.5 77.2l.1 4.4-46.2 18.9 0-4.4z"/><path fill="#00efff" d="M513.6 81.6l0 4.1-46.1 18.9-.1-4.1z"/><path fill="#00afff" d="M513.6 85.7l.1 3.8-46.1 18.9-.1-3.8z"/><path fill="#0060ff" d="M513.7 89.5l.1 3.4-46.1 18.9-.1-3.4z"/><path fill="#0030ff" d="M513.8 92.9l.1 2.9-46.1 18.9-.1-2.9z"/><path fill="#0000ff" d="M513.9 95.8l.1 2.4-46.1 18.9-.1-2.4z"/><path fill="#0000cf" d="M514 98.2l.1 1.9-46.1 18.9-.1-1.9z"/><path fill="#0000af" d="M514.1 100.1l.1 1.4-46.1 18.9-.1-1.4z"/><path fill="#00008f" d="M514.2 101.5l.1 1 .1.5.1.2.4-.8-46.1 18.9-.4.8-.1-.2-.1-.5-.1-1z"/><path fill="#0000af" d="M468.8 121.3l.3-1.7 46.1-18.9-.3 1.7z"/><path fill="#0000bf" d="M515.2 100.7l.4-.4.4 1.7-46.1 18.9-.4-1.7-.4.4z"/><path fill="#00008f" d="M516 102l.3 2 .4.5.4.2.3.3.8.4.3.2.4.2.3.3 12.4 7.4-46.1 18.9-12.3-7.4-.4-.3-.4-.2-.3-.2-.8-.4-.3-.3-.4-.2-.4-.5-.3-2z"/></g><path d="M51.8 341.8L97.9 322.9" stroke="#e8e8e8" stroke-width="1.0" fill="none"/><path d="M97.9 322.9L135.9 345.8" stroke="#e8e8e8" stroke-width="1.0" fill="none"/><path d="M51.8 315.1L97.9 296.2" stroke="#e8e8e8" stroke-width="1.0" fill="none"/><path d="M97.9 296.2L135.9 319.1" stroke="#e8e8e8" stroke-width="1.0" fill="none"/><path d="M97.9 349.5L97.9 296.2" stroke="#e8e8e8" stroke-width="1.0" fill="none"/><path d="M116.9 360.9L116.9 307.6" stroke="#e8e8e8" stroke-width="1.0" fill="none"/><path d="M135.9 372.4L135.9 319.1" stroke="#e8e8e8" stroke-width="1.0" fill="none"/><path d="M51.8 368.4L51.8 315.1" stroke="#7a7a7a" stroke-width="1.0" fill="none"/><path d="M51.8 368.4L89.8 391.3" stroke="#7a7a7a" stroke-width="1.0" fill="none"/><path d="M89.8 391.3L135.9 372.4" stroke="#7a7a7a" stroke-width="1.0" fill="none"/><g shape-rendering="crispEdges" filter="url(#bl)" transform="translate(.013 .017)"><path fill="#00008f" d="M66 362.6 104 385.5 135.9 372.4 97.9 349.5Z"/><path fill="#00008f" d="M66 362.3l1.9 1.1 3.5 2 .8.4 1.4.8.7.5 2.8 1.6.8.4.7.4.7.5 2.8 1.6.7.5.8.4 1.4.8.7.5 1.4.8.7.5.7.4.8.4.7.5.7.4.7.5.7.4.7.5 1.4.8.8.5.7.4.7.5.7.4.7.5.7.4.7.5.7.4.8.5.7.4.7.5 1.9 1.2-.4.1-1.9-1.2-.7-.5-.7-.4-.7-.5-.7-.4-.7-.5-.7-.4-.8-.5-.7-.4-1.4-1-.7-.4-.7-.5-1.4-.8-.8-.5-.7-.4-.7-.5-.7-.4-.7-.5-1.4-.8-.7-.5-.8-.4-.7-.4-.7-.5-2.1-1.2-.7-.5-.7-.4-.8-.4-2.8-1.6-.7-.5-1.4-.8-.8-.4-4.9-2.8-.8-.4-.7-.4-1.9-1.1zM65.6 362.4l1.9 1.1.7.4.8.4 4.9 2.8.8.4 1.4.8.7.5 2.8 1.6-.3 0-2.1-1.2-.8-.4-4.9-2.8-.8-.4-3.5-2-1.9-1.1z"/><path fill="#00009f" d="M79.6 370.4l.8.4.7.4.7.5 2.1 1.2.7.5.7.4.8.4.7.5 1.4.8.7.5.7.4-.3 0-.7-.4-.8-.5-1.4-.8-.7-.5-1.4-.8-.7-.5-.7-.4-.8-.4-.7-.4-.7-.5-1.4-.8z"/><path fill="#00008f" d="M89.6 376.4l.7.5.7.4.8.5 1.4.8.7.5.7.4 1.4 1 .7.4.8.5.7.4.7.5.7.4.7.5.7.4.7.5 1.9 1.2-.3.1-1.9-1.2-1.4-1-.8-.4-.7-.5-.7-.4-.7-.5-.7-.4-1.4-1-.7-.4-.8-.5-.7-.4-.7-.5-.7-.4-.7-.5-.7-.4-.7-.5zM65.3 362.5l1.9 1.1 3.5 2 .8.4 3.5 2-.3 0-1.4-.8-.8-.4-4.9-2.8-.8-.4-1.9-1z"/><path fill="#00009f" d="M75 368l1.4.8.8.4 3.5 2 .7.5.7.4.8.4.7.4.7.5 1.4.8.7.5 1.4.8.8.5.7.4.7.5.7.4.7.5.7.4.7.5.7.4-.3.1-1.4-1-.7-.4-.7-.5-.8-.4-.7-.5-.7-.4-.7-.5-.7-.4-.7-.5-1.4-.8-.8-.5-2.1-1.2-.7-.5-2.1-1.2-.8-.4-3.5-2z"/><path fill="#00008f" d="M93.5 379.1l.8.5.7.4 1.4 1 .7.4.7.5.7.4.7.5.8.4 1.4 1 1.9 1.2-.4.1-1.9-1.2-1.4-1-.7-.4-1.4-1-.7-.4-.7-.5-.8-.4-1.4-1-.7-.4zM64.9 362.6l1.9 1 .8.4 4.9 2.8-.3 0-.7-.3-1.4-.8-.8-.4-2.8-1.6-1.9-1z"/><path fill="#00009f" d="M72.5 366.8l.8.4 4.9 2.8.8.4 2.1 1.2.7.5 2.1 1.2.8.5 1.4.8.7.5.7.4.7.5.7.4.7.5.8.4.7.5.7.4 1.4 1 .7.4 1.4 1-.3 0-1.4-1-.7-.4-.8-.5-.7-.5-.7-.4-.7-.5-.7-.4-1.4-1-.7-.4-.8-.5-.7-.4-.7-.5-1.4-.8-.7-.5-1.4-.8-.8-.4-4.9-2.8-.8-.4-2.8-1.6z"/><path fill="#00008f" d="M95.3 380.6l.8.4.7.5.7.4 1.4 1 .7.4 1.4 1 1.9 1.2-.3.1-1.9-1.3-.7-.4-1.4-1-.8-.4-1.4-1-.7-.4-.7-.5zM64.6 362.7l1.9 1 2.8 1.6.8.4.7.4-.4 0-.7-.4-.7-.3-2.1-1.2-.8-.4-1.9-1z"/><path fill="#00009f" d="M70.8 366.1l.7.4.7.3 2.8 1.6.8.4 4.9 2.8.8.4 1.4.8.7.5 1.4.8.7.5.7.4.8.5.7.4 1.4 1 .7.4.7.5.7.4.7.5.8.5.7.4 2.1 1.5.7.4-.3.1-.7-.5-.8-.5-.7-.5-.7-.4-2.8-2-.7-.4-.8-.5-.7-.5-.7-.4-.7-.5-.7-.4-.7-.5-.7-.4-.7-.5-.8-.4-1.4-.8-.7-.5-2.8-1.6-.8-.4-.7-.4-.7-.3-2.8-1.6-.7-.3-.8-.4-1.4-.8z"/><path fill="#00008f" d="M96.4 381.5l1.4 1 .8.4 1.4 1 .7.4 1.9 1.3-.4.1-1.9-1.3-.7-.4-2.1-1.5-.7-.4-.7-.5zM64.2 362.8l1.9 1 .8.4 2.1 1.2-.3 0-.8-.4-.7-.3-1.4-.8-1.9-1z"/><path fill="#00009f" d="M69 365.4l.7.3 2.1 1.2.8.4.7.3 2.8 1.6.7.3.7.4.8.4 2.8 1.6.7.5-.3-.2-1.4-.8-.8-.4-.7-.4-.7-.3-2.8-1.6-.7-.3-.8-.4-.7-.4-.7-.3-1.4-.8-.7-.3-1.4-.8z"/><path fill="#0000af" d="M81.8 372.4l1.4.8.8.4.7.5-.4-.1-.7-.5-1.4-.8-.7-.5z"/><path fill="#00009f" d="M84.7 374.1l.7.4.7.5.7.4.7.5.7.4.7.5.8.5.7.4 2.8 2 .7.4.7.5.8.5 1.4 1 .7.4-.3.1-.8-.5-2.8-2-.7-.4-1.4-1-.8-.5-2.1-1.5-.7-.4-1.4-1-.7-.4-.8-.5-.7-.4z"/><path fill="#00008f" d="M97.5 382.5l2.1 1.5.7.4 1.9 1.3-.3.1-1.9-1.3-.7-.4-2.1-1.5zM63.9 362.9l1.9 1 1.4.8.7.3-.3.1-.7-.3-1.4-.8-1.9-1z"/><path fill="#00009f" d="M67.9 365l.8.4 1.4.8.7.3 1.4.8.7.3.7.4.8.4.7.3 1.4.8-.4-.1-.7-.4-.7-.3-.7-.4-.7-.3-.7-.4-.7-.3-.7-.4-.8-.4-.7-.3-.7-.4-.7-.3-.7-.4z"/><path fill="#0000af" d="M76.5 369.5l1.4.8.7.3.7.4.8.4 1.4.8.7.5 1.4.8.7.5.7.4.8.5.7.4 1.4 1 .7.4.7.5-.3-.1-.7-.5-.8-.4-2.1-1.5-.7-.4-.7-.5-.7-.4-.7-.5-.8-.4-4.2-2.4-.7-.3-.8-.4z"/><path fill="#00009f" d="M89.3 377.2l1.4 1 .8.5 1.4 1 .7.4 2.8 2 .8.5.7.5-.4 0-.7-.4-1.4-1-.7-.6-.7-.5-.8-.5-4.2-3z"/><path fill="#00008f" d="M97.9 383.1l1.4 1 .7.4 1.9 1.3-.3.1-1.9-1.3-.8-.5-1.4-1zM63.6 363l1.9 1 1.4.8-.4 0-.7-.3-.7-.4-1.9-1z"/><path fill="#00009f" d="M66.9 364.8l.7.3.7.4.7.3.7.4.7.3.8.4.7.4.7.3.7.4.7.3-.3 0-.8-.4-.7-.3-.7-.4-1.4-.6-.7-.4-.7-.3-.7-.4-.8-.3-.7-.4z"/><path fill="#0000af" d="M74 368.3l.7.4.7.3.7.4.8.4.7.3 4.2 2.4.8.4.7.5.7.4.7.5.7.4 2.1 1.5.8.4 2.8 2-.3 0-.8-.5-.7-.6-3.5-2.5-.7-.4-.8-.5-.7-.5-.7-.4-.7-.5-2.8-1.6-.8-.4-.7-.3-.7-.4-.7-.3-.7-.4-.7-.3-.7-.4-.7-.3z"/><path fill="#00009f" d="M91.1 378.6l2.1 1.5.8.5.7.5.7.6 1.4 1 .7.4.7.5-.3.1-1.4-1-.8-.5-1.4-1-.7-.6-2.8-2z"/><path fill="#00008f" d="M98.2 383.6l.7.5.8.5 1.9 1.3-.4.1-1.9-1.3-1.4-1zM63.2 363.1l1.9 1 .7.4-.3.1-.7-.4-1.9-.9z"/><path fill="#00009f" d="M65.8 364.5l.7.3.7.4.8.3.7.4.7.3.7.4 1.4.6.7.4-.3-.1-2.1-.9-.8-.3-.7-.4-1.4-.6-.7-.4-.7-.3z"/><path fill="#0000af" d="M72.2 367.6l.7.3.8.4.7.3.7.4.7.3.7.4.7.3.7.4.7.3.4.2-.7-.4-.7-.3-.7-.4-1.4-.6-.8-.4-2.1-.9-.7-.4z"/><path fill="#0000bf" d="M79 370.9l1.4.8.8.4 1.4.8 1.4 1 .7.4.4.3-.8-.5-.7-.5-.7-.4-.7-.5-2.8-1.6z"/><path fill="#0000af" d="M85.1 374.6l.7.4 3.5 2.5.7.6.8.5 1.4 1-.4 0-.7-.6-1.4-1-.7-.6-2.1-1.5-.8-.6-1.4-1z"/><path fill="#00009f" d="M92.2 379.6l1.4 1 .7.6 1.4 1 .8.5 2.1 1.5-.3.1-.8-.5-1.4-1-.7-.6-1.4-1-.7-.6-.7-.5-.8-.5z"/><path fill="#00008f" d="M98.6 384.2l.7.5 1.9 1.3-.3.2-1.9-1.4-.7-.5zM62.9 363.3l1.9.9-.4.1-1.9-.9z"/><path fill="#00009f" d="M64.8 364.2l.7.4.7.3.7.4 1.4.6.7.4.8.3.7.3-.4 0-2.8-1.2-.7-.4-.8-.3-.7-.3-.7-.4z"/><path fill="#0000af" d="M70.5 366.9l1.4.6.7.4 2.1.9.8.4.7.3-.4-.2-3.5-1.5-.8-.3-1.4-.6z"/><path fill="#0000bf" d="M75.8 369.3l.7.3.7.4.8.3.7.4.7.3 2.1 1.2.7.5.7.4.8.5 2.8 2 .7.6.4.2-.7-.5-.8-.6-1.4-1-.7-.4-1.4-1-1.4-.8-.8-.4-2.1-1.2-.7-.3-.7-.4-.7-.3z"/><path fill="#0000af" d="M87.6 376.4l1.4 1 .7.6 1.4 1 .7.6.8.5.7.5-.4 0-.7-.5-.7-.6-.7-.5-1.4-1.2-.8-.5-.7-.6-.7-.5z"/><path fill="#00009f" d="M93.3 380.6l.7.6 1.4 1 .7.6 1.4 1 .8.5.7.5-.4.1-2.1-1.5-.7-.6-.7-.5-.8-.6-.7-.5-.7-.6z"/><path fill="#00008f" d="M99 384.8l1.9 1.4-.4.1-1.9-1.4zM62.5 363.4l1.9.9-.3.1-1.9-.9z"/><path fill="#00009f" d="M64.4 364.3l.7.4.7.3.8.3.7.4 2.1.9-.3 0-.8-.3-3.5-1.5-.7-.4z"/><path fill="#0000af" d="M69.4 366.6l2.1.9.8.3 1.4.6-.4-.2-.7-.2-1.4-.6-.7-.2-1.4-.6z"/><path fill="#0000bf" d="M73.3 368.2l.7.3.8.3 3.5 1.5.4.4-.7-.4-.8-.3-.7-.4-2.8-1.2z"/><path fill="#0000cf" d="M78.3 370.3l1.4.8.8.4 1.4.8 2.1 1.5.4.3-.7-.5-.8-.5-.7-.4-.7-.5-2.1-1.2-.7-.3z"/><path fill="#0000bf" d="M84.4 374.1l2.1 1.5.7.6.7.5.7.6.8.5-.4-.1-1.4-1.2-.7-.5-.7-.6-.8-.6-1.4-1z"/><path fill="#0000af" d="M89.4 377.8l1.4 1.2.7.5.7.6.7.5.7.6-.3 0-1.4-1.2-.8-.5-2.1-1.8z"/><path fill="#00009f" d="M93.6 381.2l.7.5.8.6.7.5.7.6 2.1 1.5-.3.2-.7-.6-.8-.5-.7-.6-.7-.5-.7-.6-.7-.5-.7-.6z"/><path fill="#00008f" d="M98.6 384.9l1.9 1.4-.3.1-1.9-1.3zM62.2 363.5l1.9.9-.4.2-1.9-.9z"/><path fill="#00009f" d="M64.1 364.4l.7.4 3.5 1.5-.3 0-.7-.2-2.1-.9-.8-.3-.7-.3z"/><path fill="#0000af" d="M68.3 366.3l.8.3 1.4.6.7.2.7.3-.3-.1-.7-.2-.8-.3-.7-.2-1.4-.6z"/><path fill="#0000bf" d="M71.6 367.6l.7.2.7.3.7.2.7.3.7.2.4.3-.7-.3-.8-.3-.7-.3-.7-.2-.7-.3z"/><path fill="#0000cf" d="M75.1 368.8l.7.3.8.3 2.1.9 2.8 1.6.8.5 1.4 1 .7.6.7.5 1.4 1.2.4.3-.7-.6-.8-.6-3.5-2.5-1.4-.8-.8-.4-1.4-.8-2.8-1.2z"/><path fill="#0000bf" d="M86.9 376l.7.5 2.8 2.4-.3-.1-.7-.7-1.4-1.2-.8-.6-.7-.6z"/><path fill="#0000af" d="M90.4 378.9l.7.6.8.5 2.1 1.8-.3 0-.8-.6-2.8-2.4z"/><path fill="#00009f" d="M94 381.8l.7.5.7.6.7.5.7.6.8.5.7.6-.4.1-.7-.6-.7-.5-.7-.6-.7-.5-1.4-1.2z"/><path fill="#00008f" d="M98.3 385.1l1.9 1.3-.4.2-1.9-1.4zM61.8 363.7l1.9.9-.3.1-1.9-.9z"/><path fill="#00009f" d="M63.7 364.6l.7.3.8.3 2.1.9.7.2-.3.1-.8-.3-.7-.2-2.8-1.2z"/><path fill="#0000af" d="M68 366.3l1.4.6.7.2.8.3-.4-.1-.7-.2-.7-.3-1.4-.4z"/><path fill="#0000bf" d="M70.5 367.3l2.1.6.8.2.3.2-.7-.2-.7-.3-1.4-.4z"/><path fill="#0000cf" d="M73.4 368.1l1.4.4.7.3.7.2.7.3.4.4-.7-.3-.8-.3-.7-.3-.7-.2-.7-.3z"/><path fill="#0000df" d="M76.9 369.3l1.4.6.8.3 2.1 1.2.7.5.7.6.7.5.7.6.4.4-.7-.6-1.4-1-.8-.5-2.8-1.6-1.4-.6z"/><path fill="#0000cf" d="M84 373.6l.8.6 1.4 1.2.7.7.7.6.4.2-.8-.6-2.1-1.8-.7-.5z"/><path fill="#0000bf" d="M88 376.9l1.4 1.2.7.7.7.6-.3-.1-.8-.6-.7-.7-.7-.6-.7-.7z"/><path fill="#0000af" d="M90.8 379.4l2.1 1.8.8.6-.4 0-1.4-1.2-.7-.7-.7-.6z"/><path fill="#00009f" d="M93.7 381.8l1.4 1.2.7.5.7.6.7.5.7.6-.3.1-.7-.5-.7-.6-.8-.6-2.1-1.8z"/><path fill="#00008f" d="M97.9 385.2l1.9 1.4-.3.1-1.9-1.4zM61.5 363.8l1.9.9-.4.1-1.9-.8z"/><path fill="#00009f" d="M63.4 364.7l2.8 1.2.7.2-.3.1-.7-.2-1.4-.6-.8-.3-.7-.3z"/><path fill="#0000af" d="M66.9 366.1l.8.3 1.4.4.7.3-.4-.1-2.8-.8z"/><path fill="#0000bf" d="M70.2 367.2l.7.2.7.1.7.2.3.2-2.8-.8z"/><path fill="#0000cf" d="M72.3 367.7l.7.2.7.1.7.2.4.3-1.4-.4-.8-.2z"/><path fill="#0000df" d="M74.4 368.2l.7.2.8.2.7.2 1.4.6.3.5-2.1-.9-.7-.2-.7-.3z"/><path fill="#0000ef" d="M78 369.4l1.4.6.7.4.7.5.8.5.7.6.3.5-.7-.6-.7-.5-2.1-1.2-.8-.3z"/><path fill="#0000df" d="M82.3 372l.7.5.7.6.7.7.7.6.7.7.4.3-1.4-1.2-.8-.6-.7-.6-.7-.5z"/><path fill="#0000cf" d="M86.2 375.4l.7.7.7.6.4.4-.7-.6-.8-.7-.7-.7z"/><path fill="#0000bf" d="M88.3 377.4l.7.6.7.7.8.6.7.6-.4 0z"/><path fill="#0000af" d="M91.2 379.9l.7.7 2.1 1.8-.3.1-.7-.6-.8-.7-.7-.6-.7-.7z"/><path fill="#00009f" d="M94 382.4l1.4 1.2.8.6.7.6.7.5-.4.2-3.5-3z"/><path fill="#00008f" d="M97.6 385.3l1.9 1.4-.4.2-1.9-1.4zM61.1 364l1.9.8-.3.2-1.9-.8z"/><path fill="#00009f" d="M63 364.8l.7.3.8.3 1.4.6.7.2-.3.1-.8-.2-.7-.3-.7-.2-1.4-.6z"/><path fill="#0000af" d="M66.6 366.2l2.1.6-.3 0-.7-.1-1.4-.4z"/><path fill="#0000bf" d="M68.7 366.8l.7.2.8.2.7.2-.4-.2-1.4-.2-.7-.2z"/><path fill="#0000cf" d="M70.5 367.2l.7.2.8.1.7.1.3.3-1.4-.4-.7-.1z"/><path fill="#0000df" d="M72.7 367.6l1.4.2.7.2.3.4-1.4-.4-.7-.1z"/><path fill="#0000ef" d="M74.8 368l.7.1 1.4.4.8.3.7.3.3.6-2.1-.9-.7-.2-.8-.2z"/><path fill="#0000ff" d="M78.4 369.1l.7.3.7.4 1.4 1 .4.6-.8-.5-.7-.5-.7-.4-.7-.3z"/><path fill="#0000ef" d="M81.2 370.8l1.4 1.2.8.6 1.4 1.4.3.4-.7-.6-.7-.7-.7-.6-.7-.5-.7-.6z"/><path fill="#0000df" d="M84.8 374l1.4 1.4.7.8.4.3-.8-.7-1.4-1.4z"/><path fill="#0000cf" d="M87.3 376.5l.7.6 1.4 1.4-.3-.1-.8-.7-.7-.8-.7-.7z"/><path fill="#0000bf" d="M89.4 378.5l2.1 2.1-.3 0-.7-.7-.7-.8-.7-.7z"/><path fill="#0000af" d="M91.5 380.6l.7.6.8.7.7.6-.4.1-.7-.7-.7-.6-.7-.7z"/><path fill="#00009f" d="M93.7 382.5l3.5 3-.3.1-.7-.6-.7-.5-.7-.7-.8-.6-.7-.6z"/><path fill="#00008f" d="M97.2 385.5l1.9 1.4-.3.2-1.9-1.5zM60.8 364.2l1.9.8-.4.2-1.9-.9z"/><path fill="#00009f" d="M62.7 365l1.4.6.7.2.7.3.8.2-.4.1-.7-.2-.7-.3-.7-.2-.7-.3-.8-.2z"/><path fill="#0000af" d="M66.3 366.3l1.4.4.7.1-.4 0-.7-.1-.7-.2-.7-.1z"/><path fill="#0000bf" d="M68 366.8l.8.1 1.4.2.3.1-1.4-.2-.7-.2z"/><path fill="#0000cf" d="M70.2 367.1l.7.1.7 0 .4.3-.8-.1-.7-.2z"/><path fill="#0000df" d="M71.6 367.2l1.4.2.7 0 .4.4-2.1-.3z"/><path fill="#0000ef" d="M73.7 367.4l.8.1.7.1.3.5-.7-.1-.7-.2z"/><path fill="#0000ff" d="M75.2 367.6l.7.2.7.1.7.2.7.3.4.7-.7-.3-.8-.3-1.4-.4z"/><path fill="#0010ff" d="M78 368.4l.7.3.7.4.8.5.7.5.3.7-1.4-1-.7-.4-.7-.3z"/><path fill="#0000ff" d="M80.9 370.1l.7.6 2.1 2.1.4.5-.7-.7-.8-.6-1.4-1.2z"/><path fill="#0000ef" d="M83.7 372.8l.7.7.7.8-1-1z"/><path fill="#0000df" d="M86.2 375.4l.7.8.7.7-.3-.2-1.4-1.6z"/><path fill="#0000cf" d="M87.6 376.9l.7.8.8.7-.4-.1-1.4-1.6z"/><path fill="#0000bf" d="M89.1 378.4l.7.7.7.8.7.7-.4 0-.7-.8-.7-.7-.7-.8z"/><path fill="#0000af" d="M91.2 380.6l.7.7.7.6.7.7-.3.1-1.4-1.4-.8-.7z"/><path fill="#00009f" d="M93.3 382.6l.7.6.8.6.7.7.7.5.7.6-.4.2-2.1-1.8-.7-.7-.7-.6z"/><path fill="#00008f" d="M96.9 385.6l1.9 1.5-.4.1-1.9-1.4zM60.4 364.3l1.9.9-.3.1-1.9-.8z"/><path fill="#00009f" d="M62.3 365.2l.8.2.7.3.7.2.7.3-.4.1-1.4-.4-1.4-.6z"/><path fill="#0000af" d="M65.2 366.2l.7.2.7.1.7.2-.3 0-1.4-.2-.8-.2z"/><path fill="#0000bf" d="M67.3 366.7l.7.1.8.1.7.1-.4 0-2.1-.3z"/><path fill="#0000cf" d="M70.5 367l.4.2-1.4-.2z"/><path fill="#0000df" d="M70.5 367l1.5 0 .3.3-.7-.1-.7 0z"/><path fill="#0000ef" d="M72 367l1.4 0 .3.4-.7 0-.7-.1z"/><path fill="#0000ff" d="M73.4 367l1.4 0 .7.1.4.7-.7-.2-.7-.1-.8-.1z"/><path fill="#0010ff" d="M75.5 367.1l.7.1.8.2.7.2.3.8-.7-.3-.7-.2-.7-.1z"/><path fill="#0020ff" d="M77.7 367.6l.7.3.7.4 1.4 1 .4.8-.7-.5-.8-.5-.7-.4-.7-.3z"/><path fill="#0010ff" d="M80.5 369.3l1.4 1.4.8.7.3.7-1.4-1.4-.7-.6z"/><path fill="#0000ff" d="M82.7 371.4l1.4 1.6.7.9.3.4-.7-.8-1.4-1.4z"/><path fill="#0000ef" d="M85.1 374.3l.8.8.7.8-.4-.3-.7-.9-.7-.8z"/><path fill="#0000df" d="M86.6 375.9l1.4 1.6-.4-.2-.7-.9-.7-.8z"/><path fill="#0000cf" d="M88 377.5l1.4 1.6-.3-.1-.7-.9-.8-.8z"/><path fill="#0000bf" d="M89.4 379.1l.7.7.7.8.8.7-.4 0-.7-.7-1.4-1.6z"/><path fill="#0000af" d="M91.6 381.3l1.4 1.4.7.6-.4.2-1.4-1.4-.7-.8z"/><path fill="#00009f" d="M93.7 383.3l.7.7 2.1 1.8-.3.1-.7-.5-.7-.7-.7-.6-.8-.6z"/><path fill="#00008f" d="M96.5 385.8l1.9 1.4-.3.2-1.9-1.5zM60.1 364.5l1.9.8-.3.2-1.9-.8z"/><path fill="#00009f" d="M62 365.3l1.4.6 1.4.4-.3.1-2.1-.6-.7-.3z"/><path fill="#0000af" d="M64.8 366.3l.8.2 1.4.2-.4.1-1.4-.2-.7-.2z"/><path fill="#0000bf" d="M67 366.7l1.4.2-.3 0-.7-.1-.8 0z"/><path fill="#0000cf" d="M68.8 366.9l.7-.1.3.2-.7 0-.7-.1z"/><path fill="#0000df" d="M69.5 366.8l.7 0 .7-.1.4.3-1.5 0z"/><path fill="#0000ef" d="M70.9 366.7l.7 0 .7-.1.4.4-1.4 0z"/><path fill="#0000ff" d="M72.3 366.6l.8-.1.7-.1.3.6-1.4 0z"/><path fill="#0010ff" d="M73.8 366.4l1.4 0 .3.7-.7-.1-.7 0z"/><path fill="#0020ff" d="M75.2 366.4l1.4.2.4.8-.8-.2-.7-.1z"/><path fill="#0030ff" d="M76.6 366.6l1.4.4.8.4.7.5.7.6.7.7.3.8-.7-.7-1.4-1-.7-.4-.7-.3-.7-.2z"/><path fill="#0020ff" d="M80.9 369.2l.7.7.7.8.4.7-.8-.7-.7-.7z"/><path fill="#0010ff" d="M82.3 370.7l1.4 1.8.4.5-1.4-1.6z"/><path fill="#0000ff" d="M83.7 372.5l.8.9.7.9.3.4-.7-.8-.7-.9z"/><path fill="#0000ef" d="M85.5 374.7l.7.9.7.8-.3-.2-.7-1-.7-.9z"/><path fill="#0000df" d="M86.9 376.4l.7.9.8.8-.4-.1-1.4-1.8z"/><path fill="#0000cf" d="M88.4 378.1l.7.9.7.8-.4 0-1.4-1.8z"/><path fill="#0000bf" d="M89.8 379.8l.7.8.7.7-.3.1-.7-.8-.8-.8z"/><path fill="#0000af" d="M91.2 381.3l.7.8 1.4 1.4-.3.1-1.4-1.4-.7-.8z"/><path fill="#00009f" d="M93.3 383.5l.8.6.7.6.7.7.7.5-.3.2-.8-.6-1.4-1.2-.7-.7z"/><path fill="#00008f" d="M96.2 385.9l1.9 1.5-.3.2-1.9-1.5zM59.8 364.7l1.9.8-.4.2-1.9-.8z"/><path fill="#00009f" d="M61.7 365.5l.7.3 2.1.6-.3.2-.8-.2-.7-.2-.7-.3-.7-.2z"/><path fill="#0000af" d="M64.5 366.4l.7.2 1.4.2-.3.1-2.1-.3z"/><path fill="#0000bf" d="M66.6 366.8l.8 0 .7.1-1.8 0z"/><path fill="#0000cf" d="M67.7 366.9l1.4-.2.4.1-.7.1z"/><path fill="#0000df" d="M69.1 366.7l.8-.1.3.2-.7 0z"/><path fill="#0000ef" d="M69.9 366.6l.7-.1.7-.2.3.4-.7 0-.7.1z"/><path fill="#0000ff" d="M71.3 366.3l.7-.2.3.5-.7.1z"/><path fill="#0010ff" d="M72 366.1l.7-.1.7-.2.4.6-.7.1-.8.1z"/><path fill="#0020ff" d="M73.4 365.8l1.4-.2.4.8-1.4 0z"/><path fill="#0030ff" d="M74.8 365.6l.8 0 .7.1.3.9-1.4-.2z"/><path fill="#0040ff" d="M76.3 365.7l.7.1.7.2.7.4.7.5.7.6.7.7.4 1-.7-.7-.7-.6-.7-.5-.8-.4-1.4-.4z"/><path fill="#0030ff" d="M80.5 368.2l.8.9.7.8.3.8-.7-.8-.7-.7z"/><path fill="#0020ff" d="M82 369.9l.7 1 .7.9.3.7-1.4-1.8z"/><path fill="#0010ff" d="M83.4 371.8l.7 1 .7 1.1.4.4-.7-.9-.8-.9z"/><path fill="#0000ff" d="M85.2 374.3l.7.9-.4-.3-.7-1z"/><path fill="#0000ef" d="M85.9 375.2l.7 1 .7.9-.3-.2-.8-1-.7-1z"/><path fill="#0000df" d="M87.3 377.1l.7.9-.3-.1-.7-1z"/><path fill="#0000cf" d="M88 378l1.4 1.8-.3-.1-1.4-1.8z"/><path fill="#0000bf" d="M89.4 379.8l.8.8.7.8-.4.1-1.4-1.8z"/><path fill="#0000af" d="M90.9 381.4l.7.8 1.4 1.4-.3.1-.8-.7-.7-.7-.7-.8z"/><path fill="#00009f" d="M93 383.6l.7.7 1.4 1.2.8.6-.4.2-1.4-1.2-1.4-1.4z"/><path fill="#00008f" d="M95.9 386.1l1.9 1.5-.4.2-1.9-1.5zM59.4 364.9l1.9.8.7.2-.3.2-.7-.2-1.9-.9z"/><path fill="#00009f" d="M62 365.9l.7.3.7.2.8.2-.4.1-.7-.1-.7-.2-.7-.3z"/><path fill="#0000af" d="M64.2 366.6l2.1.3-1.1 0-1.4-.2z"/><path fill="#0000bf" d="M67.7 366.9l-.7 0-.7 0z"/><path fill="#0000cf" d="M67.4 366.9l.7-.2.3.1-.7.1z"/><path fill="#0000df" d="M68.1 366.7l.7-.1.7-.2.4.2-.8.1-.7.1z"/><path fill="#0000ef" d="M69.5 366.4l.7-.2.4.3-.7.1z"/><path fill="#0000ff" d="M70.2 366.2l.7-.3.4.4-.7.2z"/><path fill="#0010ff" d="M70.9 365.9l.7-.2.8-.3.3.6-.7.1-.7.2z"/><path fill="#0020ff" d="M72.4 365.4l.7-.2.3.6-.7.2z"/><path fill="#0030ff" d="M73.1 365.2l.7-.2.3.7-.7.1z"/><path fill="#0040ff" d="M73.8 365l.7-.2.7-.1.4.9-.8 0-.7.1z"/><path fill="#0050ff" d="M75.2 364.7l1.4 0 .7.2.4 1.1-.7-.2-1.4-.2z"/><path fill="#0060ff" d="M77.3 364.9l.8.4.7.5.3 1.1-.7-.5-.7-.4z"/><path fill="#0050ff" d="M78.8 365.8l1.4 1.4.7.9.4 1-.8-.9-.7-.7-.7-.6z"/><path fill="#0040ff" d="M80.9 368.1l1.4 2 .4.8-.7-1-.7-.8z"/><path fill="#0030ff" d="M82.3 370.1l.7 1.1.4.6-.7-.9z"/><path fill="#0020ff" d="M83 371.2l.8 1.1.3.5-.7-1z"/><path fill="#0010ff" d="M83.8 372.3l1.4 2.2.3.4-.7-1-.7-1.1z"/><path fill="#0000ff" d="M85.5 374.9l.7 1-.3-.3-.7-1.1z"/><path fill="#0000ef" d="M86.2 375.9l.8 1-.4-.2-.7-1.1z"/><path fill="#0000df" d="M87 376.9l.7 1 .7.9-.4 0-.7-1.1-.7-1z"/><path fill="#0000cf" d="M88.4 378.8l.7.9-.4 0-.7-.9z"/><path fill="#0000bf" d="M89.1 379.7l1.4 1.8-.3 0-.7-.8-.8-1z"/><path fill="#0000af" d="M90.5 381.5l.7.8.7.7.8.7-.4.2-.7-.7-.7-.8-.7-.9z"/><path fill="#00009f" d="M92.7 383.7l1.4 1.4.7.6-.4.2-.7-.6-1.4-1.4z"/><path fill="#00008f" d="M94.8 385.7l.7.6 1.9 1.5-.3.1-1.9-1.4-.8-.6zM59.1 365l1.9.9.7.2-.4.2-.7-.2-1.9-.9z"/><path fill="#00009f" d="M61.7 366.1l.7.3.7.2.7.1-.3.2-.7-.2-.8-.2-.7-.2z"/><path fill="#0000af" d="M63.8 366.7l1.4.2.7 0-.3.1-1.4 0-.7-.1z"/><path fill="#0000bf" d="M65.9 366.9l.8 0-.4.1-.7 0z"/><path fill="#0000cf" d="M66.3 367l.7-.1.7-.2.4 0-.7.2-.7 0z"/><path fill="#0000df" d="M67.7 366.7l.8-.2.3.1-.7.1z"/><path fill="#0000ef" d="M68.5 366.5l.7-.3.3.2-.7.2z"/><path fill="#0000ff" d="M69.2 366.2l.7-.3.7-.4.3.4-.7.3-.7.2z"/><path fill="#0010ff" d="M70.6 365.5l.7-.3.3.5-.7.2z"/><path fill="#0020ff" d="M71.3 365.2l.7-.4.4.6-.8.3z"/><path fill="#0030ff" d="M72 364.8l.7-.3.4.7-.7.2z"/><path fill="#0040ff" d="M72.7 364.5l.7-.4.4.9-.7.2z"/><path fill="#0050ff" d="M73.4 364.1l.8-.2.7-.2.3 1-.7.1-.7.2z"/><path fill="#0060ff" d="M74.9 363.7l.7-.1.3 1.1-.7 0z"/><path fill="#0070ff" d="M75.6 363.6l.7 0 .7.1.7.3.7.6 1.5 1.5.3 1.1-1.4-1.4-.7-.5-.8-.4-.7-.2-.7 0z"/><path fill="#0060ff" d="M79.9 366.1l.7 1 .3 1-.7-.9z"/><path fill="#0050ff" d="M80.6 367.1l1.4 2.2.3.8-1.4-2z"/><path fill="#0040ff" d="M82 369.3l.7 1.2.3.7-.7-1.1z"/><path fill="#0030ff" d="M82.7 370.5l.7 1.2.4.6-.8-1.1z"/><path fill="#0020ff" d="M83.8 372.3l.7 1.1-.4-.5-.7-1.2z"/><path fill="#0010ff" d="M84.5 373.4l.7 1.1-.4-.4-.7-1.2z"/><path fill="#0000ff" d="M85.2 374.5l1.4 2.2-.3-.2-.7-1.2-.8-1.2z"/><path fill="#0000ef" d="M86.6 376.7l.7 1-.3-.1-.7-1.1z"/><path fill="#0000df" d="M87.3 377.7l.7 1.1-.3-.1-.7-1.1z"/><path fill="#0000cf" d="M88 378.8l.7.9.8 1-.4 0-1.4-2z"/><path fill="#0000bf" d="M89.5 380.7l.7.8-.4.1-.7-.9z"/><path fill="#0000af" d="M90.2 381.5l.7.9.7.8.7.7-.3.2-.7-.8-.8-.8-.7-.9z"/><path fill="#00009f" d="M92.3 383.9l1.4 1.4.7.6-.3.2-.7-.7-.7-.6-.7-.7z"/><path fill="#00008f" d="M94.4 385.9l.8.6 1.9 1.4-.4.2-1.9-1.4-.7-.6zM58.7 365.2l1.9.9.7.2-.3.2-.7-.3-1.9-.8z"/><path fill="#00009f" d="M61.3 366.3l.7.2.8.2.7.2-.4.2-2.1-.6z"/><path fill="#0000af" d="M63.5 366.9l.7.1 1.4 0-.3.1-.8.1-.7-.1-.7 0z"/><path fill="#0000bf" d="M65.6 367l.4 0-.7.1z"/><path fill="#0000cf" d="M66 367l.7-.1.7-.3.3.1-.7.2-.7.1z"/><path fill="#0000df" d="M67.4 366.6l.7-.3.4.2-.8.2z"/><path fill="#0000ef" d="M68.1 366.3l.7-.3.4.2-.7.3z"/><path fill="#0000ff" d="M68.8 366l.7-.4.4.3-.7.3z"/><path fill="#0010ff" d="M69.5 365.6l.7-.5.4.4-.7.4z"/><path fill="#0020ff" d="M70.2 365.1l.8-.4.3.5-.7.3z"/><path fill="#0030ff" d="M71 364.7l.7-.5.3.6-.7.4z"/><path fill="#0040ff" d="M71.7 364.2l.7-.5.3.8-.7.3z"/><path fill="#0050ff" d="M72.4 363.7l.7-.5.3.9-.7.4z"/><path fill="#0060ff" d="M73.1 363.2l.7-.3.4 1-.8.2z"/><path fill="#0070ff" d="M73.8 362.9l.7-.3.4 1.1-.7.2z"/><path fill="#0080ff" d="M74.5 362.6l.7-.2.7-.1.4 1.3-.7 0-.7.1z"/><path fill="#008fff" d="M75.9 362.3l.8.1.7.3.7.6.7.7.3 1.3-.7-.7-.7-.6-.7-.3-.7-.1z"/><path fill="#0080ff" d="M78.8 364l.7.9.7 1.1.4 1.1-.7-1-.8-.8z"/><path fill="#0070ff" d="M80.2 366l.7 1.2.4 1-.7-1.1z"/><path fill="#0060ff" d="M80.9 367.2l.7 1.2.4.9-.7-1.1z"/><path fill="#0050ff" d="M81.6 368.4l.8 1.3.3.8-.7-1.2z"/><path fill="#0040ff" d="M82.4 369.7l.7 1.3.3.7-.7-1.2z"/><path fill="#0030ff" d="M83.1 371l.7 1.4.3.5-.7-1.2z"/><path fill="#0020ff" d="M84.1 372.9l.7 1.2-.3-.4-.7-1.3z"/><path fill="#0010ff" d="M84.8 374.1l.8 1.2-.4-.3-.7-1.3z"/><path fill="#0000ff" d="M85.6 375.3l.7 1.2-.4-.2-.7-1.3z"/><path fill="#0000ef" d="M86.3 376.5l.7 1.1-.4-.1-.7-1.2z"/><path fill="#0000df" d="M87 377.6l.7 1.1-.4 0-.7-1.2z"/><path fill="#0000cf" d="M87.7 378.7l1.4 2-.3.1-.7-1-.8-1.1z"/><path fill="#0000bf" d="M89.1 380.7l.7.9-.3.1-.7-.9z"/><path fill="#0000af" d="M89.8 381.6l.7.9.8.8.7.8-.4.1-.7-.7-1.4-1.8z"/><path fill="#00009f" d="M92 384.1l.7.7.7.6.7.7-.3.2-.8-.7-.7-.6-.7-.8z"/><path fill="#00008f" d="M94.1 386.1l.7.6 1.9 1.4-.3.2-1.9-1.5-.7-.5zM58.4 365.4l1.9.8.7.3-.4.2-.7-.3-1.9-.8z"/><path fill="#00009f" d="M61 366.5l2.1.6-.3.1-.7-.1-.8-.2-.7-.2z"/><path fill="#0000af" d="M63.1 367.1l.7 0 .7.1.8-.1-.4.2-1.4 0-.7-.1z"/><path fill="#0000bf" d="M65.3 367.1l.7-.1-.4.1-.7.2z"/><path fill="#0000cf" d="M65.6 367.1l.7-.2.4 0-.7.1z"/><path fill="#0000df" d="M66.3 366.9l.7-.3.8-.4.3.1-1.4.6z"/><path fill="#0000ef" d="M67.8 366.2l.7-.4.3.2-.7.3z"/><path fill="#0000ff" d="M68.5 365.8l.7-.5.3.3-.7.4z"/><path fill="#0020ff" d="M69.2 365.3l.7-.6.3.4-.7.5z"/><path fill="#0030ff" d="M69.9 364.7l.7-.6.4.6-.8.4z"/><path fill="#0040ff" d="M70.6 364.1l.7-.6.4.7-.7.5z"/><path fill="#0050ff" d="M71.3 363.5l.7-.6.4.8-.7.5z"/><path fill="#0060ff" d="M72 362.9l.7-.6.4.9-.7.5z"/><path fill="#0070ff" d="M72.7 362.3l.8-.5.3 1.1-.7.3z"/><path fill="#0080ff" d="M73.5 361.8l.7-.4.3 1.2-.7.3z"/><path fill="#008fff" d="M74.2 361.4l.7-.3.3 1.3-.7.2z"/><path fill="#009fff" d="M74.9 361.1l.7-.2.7.1.4 1.4-.8-.1-.7.1z"/><path fill="#00afff" d="M76.3 361l.7.2.7.6.4 1.5-.7-.6-.7-.3z"/><path fill="#009fff" d="M77.7 361.8l.7.8.8 1 .3 1.3-.7-.9-.7-.7z"/><path fill="#008fff" d="M79.2 363.6l.7 1.2.3 1.2-.7-1.1z"/><path fill="#0080ff" d="M79.9 364.8l.7 1.3.3 1.1-.7-1.2z"/><path fill="#0070ff" d="M80.6 366.1l.7 1.4.3.9-.7-1.2z"/><path fill="#0060ff" d="M81.3 367.5l1.1 2.2-.8-1.3z"/><path fill="#0050ff" d="M82.4 369.7l.7 1.3-.4-.6-.7-1.5z"/><path fill="#0040ff" d="M83.1 371l.7 1.4-.4-.6-.7-1.4z"/><path fill="#0030ff" d="M83.8 372.4l.7 1.3-.4-.4-.7-1.5z"/><path fill="#0020ff" d="M84.5 373.7l.7 1.3-.3-.3-.8-1.4z"/><path fill="#0000ff" d="M85.2 375l.7 1.3-.3-.2-.7-1.4z"/><path fill="#0000ef" d="M85.9 376.3l.7 1.2-.3-.1-.7-1.3z"/><path fill="#0000df" d="M86.6 377.5l.7 1.2.8 1.1-.4 0-1.4-2.4z"/><path fill="#0000cf" d="M88.1 379.8l.7 1-.4.1-.7-1.1z"/><path fill="#0000bf" d="M88.8 380.8l.7.9-.4.2-.7-1z"/><path fill="#0000af" d="M89.5 381.7l1.4 1.8.7.7-.3.2-.7-.8-.8-.8-.7-.9z"/><path fill="#00009f" d="M91.6 384.2l.7.8.7.6.8.7-.4.1-.7-.6-1.4-1.4z"/><path fill="#00008f" d="M93.8 386.3l.7.5 1.9 1.5-.4.2-1.9-1.5-.7-.6zM58 365.6l1.9.8.7.3.7.2-.3.2-.7-.2-.7-.3-1.9-.9z"/><path fill="#00009f" d="M61.3 366.9l.8.2 1.4.2-.4.2-1.4-.2-.7-.2z"/><path fill="#0000af" d="M63.5 367.3l.7 0-.3.2-.8 0z"/><path fill="#0000bf" d="M64.2 367.3l.7 0 .7-.2-.3.1-.7.2-.7.1z"/><path fill="#0000cf" d="M65.3 367.2l.7-.3.3 0-.7.2z"/><path fill="#0000df" d="M66 366.9l.7-.3.3 0-.7.3z"/><path fill="#0000ef" d="M66.7 366.6l.7-.5.4.1-.8.4z"/><path fill="#0000ff" d="M67.4 366.1l.7-.5.4.2-.7.4z"/><path fill="#0010ff" d="M68.1 365.6l.7-.6.4.3-.7.5z"/><path fill="#0020ff" d="M68.8 365l.8-.7.3.4-.7.6z"/><path fill="#0030ff" d="M69.6 364.3l.7-.7.3.5-.7.6z"/><path fill="#0050ff" d="M70.3 363.6l.7-.8.3.7-.7.6z"/><path fill="#0060ff" d="M71 362.8l.7-.8.3.9-.7.6z"/><path fill="#0070ff" d="M71.7 362l.7-.7.3 1-.7.6z"/><path fill="#008fff" d="M72.4 361.3l.7-.7.4 1.2-.8.5z"/><path fill="#009fff" d="M73.1 360.6l.7-.5.4 1.3-.7.4z"/><path fill="#00afff" d="M73.8 360.1l.7-.5.4 1.5-.7.3z"/><path fill="#00bfff" d="M74.5 359.6l.8-.2.7 0 .3 1.6-.7-.1-.7.2z"/><path fill="#00cfff" d="M76 359.4l.7.2.7.6.3 1.6-.7-.6-.7-.2z"/><path fill="#00bfff" d="M77.4 360.2l.7.9.7 1.1.4 1.4-.8-1-.7-.8z"/><path fill="#00afff" d="M78.8 362.2l.7 1.3.4 1.3-.7-1.2z"/><path fill="#009fff" d="M79.5 363.5l.7 1.4.4 1.2-.7-1.3z"/><path fill="#008fff" d="M80.2 364.9l.8 1.5.3 1.1-.7-1.4z"/><path fill="#0070ff" d="M81 366.4l.7 1.6.3.9-.7-1.4z"/><path fill="#0060ff" d="M81.7 368l.7 1.7.3.7-.7-1.5z"/><path fill="#0050ff" d="M82.7 370.4l.7 1.4-.3-.5-.7-1.6z"/><path fill="#0030ff" d="M83.4 371.8l.7 1.5-.3-.4-.7-1.6z"/><path fill="#0020ff" d="M84.1 373.3l.8 1.4-.4-.3-.7-1.5z"/><path fill="#0010ff" d="M84.9 374.7l.7 1.4-.4-.2-.7-1.5z"/><path fill="#0000ff" d="M85.6 376.1l.7 1.3-.4-.1-.7-1.4z"/><path fill="#0000ef" d="M86.3 377.4l.7 1.2-.3 0-.8-1.3z"/><path fill="#0000df" d="M87 378.6l.7 1.2-.3 0-.7-1.2z"/><path fill="#0000cf" d="M87.7 379.8l.7 1.1-.3 0-.7-1.1z"/><path fill="#0000bf" d="M88.4 380.9l.7 1 .7.9-.3.1-.7-.9-.7-1.1z"/><path fill="#0000af" d="M89.8 382.8l.8.8-.4.2-.7-.9z"/><path fill="#00009f" d="M90.6 383.6l.7.8 1.4 1.4-.3.2-.8-.7-.7-.7-.7-.8z"/><path fill="#00008f" d="M92.7 385.8l1.4 1.2 1.9 1.5-.3.1-1.9-1.4-1.4-1.2zM57.7 365.7l1.9.9.7.3.7.2-.3.2-.8-.2-.7-.3-1.9-.9z"/><path fill="#00009f" d="M61 367.1l.7.2 1.4.2-.3.2-1.4-.2-.7-.2z"/><path fill="#0000af" d="M63.1 367.5l.8 0-.4.1-.7.1z"/><path fill="#0000bf" d="M63.9 367.5l.7-.1.7-.2-.4.1-.7.2-.7.1z"/><path fill="#0000cf" d="M64.9 367.3l.7-.3.4-.1-.7.3z"/><path fill="#0000df" d="M65.6 367l.8-.4.3 0-.7.3z"/><path fill="#0000ef" d="M66.4 366.6l.7-.6.3.1-.7.5z"/><path fill="#0000ff" d="M67.1 366l.7-.6.3.2-.7.5z"/><path fill="#0010ff" d="M67.8 365.4l.7-.7.3.3-.7.6z"/><path fill="#0030ff" d="M68.5 364.7l.7-.8.4.4-.8.7z"/><path fill="#0040ff" d="M69.2 363.9l.7-.9.4.6-.7.7z"/><path fill="#0060ff" d="M69.9 363l.7-.9.4.7-.7.8z"/><path fill="#0070ff" d="M70.6 362.1l.7-1 .4.9-.7.8z"/><path fill="#008fff" d="M71.3 361.1l.8-.9.3 1.1-.7.7z"/><path fill="#009fff" d="M72.1 360.2l.7-.8.3 1.2-.7.7z"/><path fill="#00bfff" d="M72.8 359.4l.7-.7.3 1.4-.7.5z"/><path fill="#00cfff" d="M73.5 358.7l.7-.6.3 1.5-.7.5z"/><path fill="#00dfff" d="M74.2 358.1l.7-.3.7-.1.4 1.7-.7 0-.8.2z"/><path fill="#00efff" d="M75.6 357.7l.7.2.7.7.4 1.6-.7-.6-.7-.2z"/><path fill="#00dfff" d="M77 358.6l.8.9.7 1.2.3 1.5-.7-1.1-.7-.9z"/><path fill="#00cfff" d="M78.5 360.7l.7 1.4.3 1.4-.7-1.3z"/><path fill="#00bfff" d="M79.2 362.1l.7 1.6.3 1.2-.7-1.4z"/><path fill="#009fff" d="M79.9 363.7l.7 1.7.4 1-.8-1.5z"/><path fill="#008fff" d="M80.6 365.4l.7 1.7.4.9-.7-1.6z"/><path fill="#0070ff" d="M81.7 368l.7 1.7-.4-.8-.7-1.8z"/><path fill="#0060ff" d="M82.4 369.7l.7 1.6-.4-.6-.7-1.8z"/><path fill="#0040ff" d="M83.1 371.3l.7 1.6-.3-.5-.8-1.7z"/><path fill="#0030ff" d="M83.8 372.9l.7 1.5-.3-.3-.7-1.7z"/><path fill="#0010ff" d="M84.5 374.4l.7 1.5-.3-.2-.7-1.6z"/><path fill="#0000ff" d="M85.2 375.9l.7 1.4-.3-.1-.7-1.5z"/><path fill="#0000ef" d="M85.9 377.3l.8 1.3-.4 0-.7-1.4z"/><path fill="#0000df" d="M86.7 378.6l.7 1.2-.4.1-.7-1.3z"/><path fill="#0000cf" d="M87.4 379.8l.7 1.1-.4.1-.7-1.1z"/><path fill="#0000bf" d="M88.1 380.9l.7 1.1.7.9-.3.2-.8-1-.7-1.1z"/><path fill="#0000af" d="M89.5 382.9l.7.9-.3.2-.7-.9z"/><path fill="#00009f" d="M90.2 383.8l.7.8.7.7.8.7-.4.2-1.4-1.4-.7-.8z"/><path fill="#00008f" d="M92.4 386l1.4 1.2 1.9 1.4-.4.2-1.9-1.4-1.4-1.2zM57.3 365.9l1.9.9.7.3.8.2-.4.2-.7-.2-.7-.3-1.9-.9z"/><path fill="#00009f" d="M60.7 367.3l.7.2 1.4.2-.4.1-.7 0-.7-.1-.7-.2z"/><path fill="#0000af" d="M62.8 367.7l1.4-.2-.3.1-.7.2-.8 0z"/><path fill="#0000bf" d="M64.2 367.5l.7-.2-.3.1-.7.2z"/><path fill="#0000cf" d="M64.6 367.4l.7-.4.3 0-.7.3z"/><path fill="#0000df" d="M65.3 367l.7-.4.4 0-.8.4z"/><path fill="#0000ef" d="M66 366.6l.7-.7.4.1-.7.6z"/><path fill="#0000ff" d="M66.7 365.9l.7-.7.4.2-.7.6z"/><path fill="#0020ff" d="M67.4 365.2l.7-.8.4.3-.7.7z"/><path fill="#0030ff" d="M68.1 364.4l.8-1 .3.5-.7.8z"/><path fill="#0050ff" d="M68.9 363.4l.7-1 .3.6-.7.9z"/><path fill="#0070ff" d="M69.6 362.4l.7-1.1.3.8-.7.9z"/><path fill="#0080ff" d="M70.3 361.3l.7-1.1.3.9-.7 1z"/><path fill="#009fff" d="M71 360.2l.7-1.1.4 1.1-.8.9z"/><path fill="#00bfff" d="M71.7 359.1l.7-1 .4 1.3-.7.8z"/><path fill="#00cfff" d="M72.4 358.1l.7-.9.4 1.5-.7.7z"/><path fill="#00efff" d="M73.1 357.2l.7-.7.4 1.6-.7.6z"/><path fill="#00ffff" d="M73.8 356.5l.8-.4.3 1.7-.7.3z"/><path fill="#10ffef" d="M74.6 356.1l.7-.2.7.2.7.7.7 1 .4 1.7-.8-.9-.7-.7-.7-.2-.7.1z"/><path fill="#00ffff" d="M77.4 357.8l.7 1.3.4 1.6-.7-1.2z"/><path fill="#00efff" d="M78.1 359.1l.7 1.6.4 1.4-.7-1.4z"/><path fill="#00cfff" d="M78.8 360.7l.7 1.7.4 1.3-.7-1.6z"/><path fill="#00bfff" d="M79.5 362.4l.8 1.9.3 1.1-.7-1.7z"/><path fill="#009fff" d="M80.3 364.3l.7 1.9.3.9-.7-1.7z"/><path fill="#0080ff" d="M81.3 367.1l.7 1.8-.3-.7-.7-2z"/><path fill="#0070ff" d="M82 368.9l.7 1.8-.3-.6-.7-1.9z"/><path fill="#0050ff" d="M82.7 370.7l.8 1.7-.4-.4-.7-1.9z"/><path fill="#0030ff" d="M83.5 372.4l.7 1.7-.4-.3-.7-1.8z"/><path fill="#0020ff" d="M84.2 374.1l.7 1.6-.4-.2-.7-1.7z"/><path fill="#0000ff" d="M84.9 375.7l.7 1.5-.4-.1-.7-1.6z"/><path fill="#0000ef" d="M85.6 377.2l.7 1.4-.3 0-.8-1.5z"/><path fill="#0000df" d="M86.3 378.6l.7 1.3-.3 0-.7-1.3z"/><path fill="#0000cf" d="M87 379.9l.7 1.1-.3.1-.7-1.2z"/><path fill="#0000bf" d="M87.7 381l.7 1.1-.3.1-.7-1.1z"/><path fill="#0000af" d="M88.4 382.1l.8 1 .7.9-.4.1-.7-.9-.7-1z"/><path fill="#00009f" d="M89.9 384l.7.8 1.4 1.4-.3.2-.8-.7-.7-.7-.7-.9z"/><path fill="#00008f" d="M92 386.2l1.4 1.2 1.9 1.4-.3.2-1.9-1.4-1.4-1.2zM57 366.1l1.9.9.7.3.7.2-.3.2-.7-.3-.8-.3-1.9-.9z"/><path fill="#00009f" d="M60.3 367.5l.7.2.7.1.7 0-.3.2-.7 0-.7-.2-.7-.1z"/><path fill="#0000af" d="M62.4 367.8l.8 0 .7-.2-.4.2-1.4.2z"/><path fill="#0000bf" d="M63.9 367.6l.7-.2-.4.1-.7.3z"/><path fill="#0000cf" d="M64.2 367.5l.8-.4.3-.1-.7.4z"/><path fill="#0000df" d="M65 367.1l.7-.6.3.1-.7.4z"/><path fill="#0000ef" d="M65.7 366.5l.7-.7.3.1-.7.7z"/><path fill="#0010ff" d="M66.4 365.8l.7-.8.3.2-.7.7z"/><path fill="#0020ff" d="M67.1 365l.7-1 .3.4-.7.8z"/><path fill="#0040ff" d="M67.8 364l.7-1.1.4.5-.8 1z"/><path fill="#0060ff" d="M68.5 362.9l.7-1.1.4.6-.7 1z"/><path fill="#0080ff" d="M69.2 361.8l.7-1.3.4.8-.7 1.1z"/><path fill="#009fff" d="M69.9 360.5l.8-1.3.3 1-.7 1.1z"/><path fill="#00bfff" d="M70.7 359.2l.7-1.3.3 1.2-.7 1.1z"/><path fill="#00cfff" d="M71.4 357.9l.7-1.2.3 1.4-.7 1z"/><path fill="#00efff" d="M72.1 356.7l.7-1 .3 1.5-.7.9z"/><path fill="#10ffef" d="M72.8 355.7l.7-.9.3 1.7-.7.7z"/><path fill="#20ffdf" d="M73.5 354.8l.7-.5.4 1.8-.8.4z"/><path fill="#30ffcf" d="M74.2 354.3l.7-.3.4 1.9-.7.2z"/><path fill="#40ffbf" d="M74.9 354l.7.2.8.7.3 1.9-.7-.7-.7-.2z"/><path fill="#30ffcf" d="M76.4 354.9l.7 1.1.3 1.8-.7-1z"/><path fill="#20ffdf" d="M77.1 356l.7 1.4.3 1.7-.7-1.3z"/><path fill="#10ffef" d="M77.8 357.4l.7 1.7.3 1.6-.7-1.6z"/><path fill="#00efff" d="M78.5 359.1l.7 1.9.3 1.4-.7-1.7z"/><path fill="#00cfff" d="M79.2 361l1.1 3.3-.8-1.9z"/><path fill="#00bfff" d="M80.3 364.3l.7 1.9-.4-1z"/><path fill="#009fff" d="M81 366.2l.7 2-.4-.8-.7-2.2z"/><path fill="#0080ff" d="M81.7 368.2l.7 1.9-.3-.6-.8-2.1z"/><path fill="#0060ff" d="M82.4 370.1l.7 1.9-.3-.5-.7-2z"/><path fill="#0040ff" d="M83.1 372l.7 1.8-.3-.3-.7-2z"/><path fill="#0020ff" d="M83.8 373.8l.7 1.7-.3-.2-.7-1.8z"/><path fill="#0010ff" d="M84.5 375.5l.7 1.6-.3-.1-.7-1.7z"/><path fill="#0000ef" d="M85.2 377.1l.8 1.5-.4 0-.7-1.6z"/><path fill="#0000df" d="M86 378.6l.7 1.3-.4.1-.7-1.4z"/><path fill="#0000cf" d="M86.7 379.9l.7 1.2-.4.1-.7-1.2z"/><path fill="#0000bf" d="M87.4 381.1l.7 1.1-.3.2-.8-1.2z"/><path fill="#0000af" d="M88.1 382.2l.7 1 .7.9-.3.2-.7-.9-.7-1z"/><path fill="#00009f" d="M89.5 384.1l.7.9.7.7.8.7-.4.2-.7-.7-1.4-1.6z"/><path fill="#00008f" d="M91.7 386.4l1.4 1.2 1.9 1.4-.4.1-1.9-1.3-1.4-1.2zM56.6 366.2l1.9.9.8.3.7.3-.4.1-.7-.2-.7-.3-1.9-.9z"/><path fill="#00009f" d="M60 367.7l.7.1.7.2.7 0-.3.2-.8-.1-.7-.1-.7-.2z"/><path fill="#0000af" d="M62.1 368l1.4-.2-.3.1-.7.2-.7.1z"/><path fill="#0000bf" d="M63.2 367.9l.7-.3.3-.1-.7.3z"/><path fill="#0000cf" d="M63.9 367.6l.7-.5.4 0-.8.4z"/><path fill="#0000df" d="M64.6 367.1l.7-.6.4 0-.7.6z"/><path fill="#0000ff" d="M65.3 366.5l.7-.7.4 0-.7.7z"/><path fill="#0010ff" d="M66 365.8l.7-1 .4.2-.7.8z"/><path fill="#0030ff" d="M66.7 364.8l.8-1.1.3.3-.7 1z"/><path fill="#0050ff" d="M67.5 363.7l.7-1.2.3.4-.7 1.1z"/><path fill="#0070ff" d="M68.2 362.5l.7-1.4.3.7-.7 1.1z"/><path fill="#008fff" d="M68.9 361.1l.7-1.4.3.8-.7 1.3z"/><path fill="#00afff" d="M69.6 359.7l.7-1.5.4 1-.8 1.3z"/><path fill="#00cfff" d="M70.3 358.2l.7-1.5.4 1.2-.7 1.3z"/><path fill="#00efff" d="M71 356.7l.7-1.4.4 1.4-.7 1.2z"/><path fill="#10ffef" d="M71.7 355.3l.7-1.2.4 1.6-.7 1z"/><path fill="#30ffcf" d="M72.4 354.1l.8-1 .3 1.7-.7.9z"/><path fill="#40ffbf" d="M73.2 353.1l.7-.8.3 2-.7.5z"/><path fill="#50ffaf" d="M73.9 352.3l.7-.3.3 2-.7.3z"/><path fill="#60ff9f" d="M74.6 352l.7.1.7.7.4 2.1-.8-.7-.7-.2z"/><path fill="#50ffaf" d="M76 352.8l.7 1.2.4 2-.7-1.1z"/><path fill="#40ffbf" d="M76.7 354l.7 1.6.4 1.8-.7-1.4z"/><path fill="#30ffcf" d="M77.4 355.6l.7 1.9.4 1.6-.7-1.7z"/><path fill="#10ffef" d="M78.1 357.5l.8 2.1.3 1.4-.7-1.9z"/><path fill="#00efff" d="M78.9 359.6l.7 2.3.3 1.2-.7-2.1z"/><path fill="#00cfff" d="M79.6 361.9l.7 2.3.3 1-.7-2.1z"/><path fill="#00afff" d="M80.6 365.2l.7 2.2-.3-.9-.7-2.3z"/><path fill="#008fff" d="M81.3 367.4l.8 2.1-.4-.7-.7-2.3z"/><path fill="#0070ff" d="M82.1 369.5l.7 2-.4-.4-.7-2.3z"/><path fill="#0050ff" d="M82.8 371.5l.7 2-.4-.3-.7-2.1z"/><path fill="#0030ff" d="M83.5 373.5l.7 1.8-.4-.2-.7-1.9z"/><path fill="#0010ff" d="M84.2 375.3l.7 1.7-.3-.1-.8-1.8z"/><path fill="#0000ff" d="M84.9 377l.7 1.6-.3 0-.7-1.7z"/><path fill="#0000df" d="M85.6 378.6l.7 1.4-.3 0-.7-1.4z"/><path fill="#0000cf" d="M86.3 380l.7 1.2-.3.1-.7-1.3z"/><path fill="#0000bf" d="M87 381.2l.8 1.2-.4.1-.7-1.2z"/><path fill="#0000af" d="M87.8 382.4l.7 1 .7.9-.4.2-.7-.9-.7-1.1z"/><path fill="#00009f" d="M89.2 384.3l1.4 1.6.7.7-.3.1-.7-.6-.8-.8-.7-.8z"/><path fill="#00008f" d="M91.3 386.6l1.4 1.2 1.9 1.3-.3.2-1.9-1.4-.7-.5-.7-.7zM56.3 366.4l1.9.9.7.3 1.4.4-.3.2-1.4-.4-.8-.3-1.9-.9z"/><path fill="#00009f" d="M60.3 368l.7.1.8.1-.4.1-.7 0-.7-.1z"/><path fill="#0000af" d="M61.8 368.2l.7-.1.7-.2-.4.1-.7.3-.7 0z"/><path fill="#0000bf" d="M62.8 368l.7-.3.4-.1-.7.3z"/><path fill="#0000cf" d="M63.5 367.7l.8-.5.3-.1-.7.5z"/><path fill="#0000ef" d="M64.3 367.2l.7-.7.3 0-.7.6z"/><path fill="#0000ff" d="M65 366.5l.7-.8.3.1-.7.7z"/><path fill="#0020ff" d="M65.7 365.7l.7-1.1.3.2-.7 1z"/><path fill="#0030ff" d="M66.4 364.6l.7-1.2.4.3-.8 1.1z"/><path fill="#0050ff" d="M67.1 363.4l.7-1.4.4.5-.7 1.2z"/><path fill="#0070ff" d="M67.8 362l.7-1.5.4.6-.7 1.4z"/><path fill="#009fff" d="M68.5 360.5l.7-1.7.4.9-.7 1.4z"/><path fill="#00bfff" d="M69.2 358.8l.8-1.7.3 1.1-.7 1.5z"/><path fill="#00efff" d="M70 357.1l.7-1.7.3 1.3-.7 1.5z"/><path fill="#10ffef" d="M70.7 355.4l.7-1.6.3 1.5-.7 1.4z"/><path fill="#30ffcf" d="M71.4 353.8l.7-1.4.3 1.7-.7 1.2z"/><path fill="#50ffaf" d="M72.1 352.4l.7-1.2.4 1.9-.8 1z"/><path fill="#70ff8f" d="M72.8 351.2l.7-.9.4 2-.7.8z"/><path fill="#80ff80" d="M73.5 350.3l.7-.4.4 2.1-.7.3z"/><path fill="#8fff70" d="M74.2 349.9l.7.1.8.7.3 2.1-.7-.7-.7-.1z"/><path fill="#80ff80" d="M75.7 350.7l.7 1.3.3 2-.7-1.2z"/><path fill="#70ff8f" d="M76.4 352l.7 1.8.3 1.8-.7-1.6z"/><path fill="#50ffaf" d="M77.1 353.8l.7 2 .3 1.7-.7-1.9z"/><path fill="#30ffcf" d="M77.8 355.8l.7 2.3.4 1.5-.8-2.1z"/><path fill="#10ffef" d="M78.5 358.1l.7 2.5.4 1.3-.7-2.3z"/><path fill="#00efff" d="M79.6 361.9l.7 2.3-.4-1.1-.7-2.5z"/><path fill="#00bfff" d="M80.3 364.2l.7 2.3-.4-.8-.7-2.6z"/><path fill="#009fff" d="M81 366.5l.7 2.3-.3-.6-.8-2.5z"/><path fill="#0070ff" d="M81.7 368.8l.7 2.3-.3-.5-.7-2.4z"/><path fill="#0050ff" d="M82.4 371.1l.7 2.1-.3-.4-.7-2.2z"/><path fill="#0030ff" d="M83.1 373.2l.7 1.9-.3-.2-.7-2.1z"/><path fill="#0020ff" d="M83.8 375.1l.8 1.8-.4-.1-.7-1.9z"/><path fill="#0000ff" d="M84.6 376.9l.7 1.7-.4-.1-.7-1.7z"/><path fill="#0000ef" d="M85.3 378.6l.7 1.4-.4.1-.7-1.6z"/><path fill="#0000cf" d="M86 380l.7 1.3-.4.1-.7-1.3z"/><path fill="#0000bf" d="M86.7 381.3l.7 1.2-.3.1-.8-1.2z"/><path fill="#0000af" d="M87.4 382.5l.7 1.1.7.9-.3.2-.7-1-.7-1.1z"/><path fill="#00009f" d="M88.8 384.5l.7.8.8.8-.4.1-.7-.7-.7-.8z"/><path fill="#00008f" d="M90.3 386.1l.7.6.7.7.7.5 1.9 1.4-.4.2-1.9-1.4-1.4-1.2-.7-.7zM55.9 366.6l1.9.9.8.3 1.4.4-.4.2-.7-.2-.7-.3-.7-.2-1.9-1z"/><path fill="#00009f" d="M60 368.2l.7.1.7 0-.3.2-.7 0-.8-.1z"/><path fill="#0000af" d="M61.4 368.3l.7 0 .7-.3-.3.2-.7.2-.7.1z"/><path fill="#0000bf" d="M62.5 368.2l.7-.4.3-.1-.7.3z"/><path fill="#0000cf" d="M63.2 367.8l.7-.6.4 0-.8.5z"/><path fill="#0000ef" d="M63.9 367.2l.7-.7.4 0-.7.7z"/><path fill="#0000ff" d="M64.6 366.5l.7-.9.4.1-.7.8z"/><path fill="#0020ff" d="M65.3 365.6l.8-1.2.3.2-.7 1.1z"/><path fill="#0040ff" d="M66.1 364.4l.7-1.4.3.4-.7 1.2z"/><path fill="#0060ff" d="M66.8 363l.7-1.5.3.5-.7 1.4z"/><path fill="#0080ff" d="M67.5 361.5l.7-1.7.3.7-.7 1.5z"/><path fill="#00afff" d="M68.2 359.8l.7-1.9.3.9-.7 1.7z"/><path fill="#00dfff" d="M68.9 357.9l.7-1.9.4 1.1-.8 1.7z"/><path fill="#00ffff" d="M69.6 356l.7-1.9.4 1.3-.7 1.7z"/><path fill="#30ffcf" d="M70.3 354.1l.7-1.8.4 1.5-.7 1.6z"/><path fill="#50ffaf" d="M71 352.3l.8-1.7.3 1.8-.7 1.4z"/><path fill="#80ff80" d="M71.8 350.6l.7-1.4.3 2-.7 1.2z"/><path fill="#8fff70" d="M72.5 349.2l.7-1 .3 2.1-.7.9z"/><path fill="#afff50" d="M73.2 348.2l.7-.5.3 2.2-.7.4z"/><path fill="#bfff40" d="M73.9 347.7l.7 0 .7.8.4 2.2-.8-.7-.7-.1z"/><path fill="#afff50" d="M75.3 348.5l.7 1.4.4 2.1-.7-1.3z"/><path fill="#8fff70" d="M76 349.9l.7 1.9.4 2-.7-1.8z"/><path fill="#80ff80" d="M76.7 351.8l.8 2.3.3 1.7-.7-2z"/><path fill="#50ffaf" d="M77.5 354.1l.7 2.5.3 1.5-.7-2.3z"/><path fill="#30ffcf" d="M78.2 356.6l.7 2.7.3 1.3-.7-2.5z"/><path fill="#00ffff" d="M78.9 359.3l.7 2.7.3 1.1-.7-2.5z"/><path fill="#00dfff" d="M79.9 363.1l.7 2.6-.3-.9-.7-2.8z"/><path fill="#00afff" d="M80.6 365.7l.8 2.5-.4-.7-.7-2.7z"/><path fill="#0080ff" d="M81.4 368.2l.7 2.4-.4-.5-.7-2.6z"/><path fill="#0060ff" d="M82.1 370.6l.7 2.2-.4-.3-.7-2.4z"/><path fill="#0040ff" d="M82.8 372.8l.7 2.1-.3-.2-.8-2.2z"/><path fill="#0020ff" d="M83.5 374.9l.7 1.9-.3-.1-.7-2z"/><path fill="#0000ff" d="M84.2 376.8l.7 1.7-.3 0-.7-1.8z"/><path fill="#0000ef" d="M84.9 378.5l.7 1.6-.3 0-.7-1.6z"/><path fill="#0000cf" d="M85.6 380.1l.7 1.3-.3.1-.7-1.4z"/><path fill="#0000bf" d="M86.3 381.4l.8 1.2-.4.2-.7-1.3z"/><path fill="#0000af" d="M87.1 382.6l.7 1.1.7 1-.4.1-.7-.9-.7-1.1z"/><path fill="#00009f" d="M88.5 384.7l.7.8.7.7-.3.2-.7-.7-.8-.9z"/><path fill="#00008f" d="M89.9 386.2l.7.7 1.4 1.2 1.9 1.4-.3.1-1.9-1.3-1.4-1.2-.7-.7zM55.6 366.7l1.9 1 .7.2.7.3.7.2-.3.1-.7-.1-1.4-.6-1.9-.9z"/><path fill="#00009f" d="M59.6 368.4l.8.1.7 0-.4.2-1.4-.2z"/><path fill="#0000af" d="M61.1 368.5l.7-.1.7-.2-.4.1-1.4.4z"/><path fill="#0000bf" d="M62.1 368.3l.8-.4.3-.1-.7.4z"/><path fill="#0000cf" d="M62.9 367.9l.7-.6.3-.1-.7.6z"/><path fill="#0000ef" d="M63.6 367.3l.7-.8.3 0-.7.7z"/><path fill="#0000ff" d="M64.3 366.5l.7-1.1.3.2-.7.9z"/><path fill="#0020ff" d="M65 365.4l.7-1.2.4.2-.8 1.2z"/><path fill="#0040ff" d="M65.7 364.2l.7-1.5.4.3-.7 1.4z"/><path fill="#0070ff" d="M66.4 362.7l.7-1.7.4.5-.7 1.5z"/><path fill="#008fff" d="M67.1 361l.7-1.9.4.7-.7 1.7z"/><path fill="#00bfff" d="M67.8 359.1l.8-2.1.3.9-.7 1.9z"/><path fill="#00efff" d="M68.6 357l.7-2.1.3 1.1-.7 1.9z"/><path fill="#20ffdf" d="M69.3 354.9l.7-2.1.3 1.3-.7 1.9z"/><path fill="#50ffaf" d="M70 352.8l.7-2.1.3 1.6-.7 1.8z"/><path fill="#70ff8f" d="M70.7 350.7l.7-1.9.4 1.8-.8 1.7z"/><path fill="#9fff60" d="M71.4 348.8l.7-1.5.4 1.9-.7 1.4z"/><path fill="#bfff40" d="M72.1 347.3l.7-1.2.4 2.1-.7 1z"/><path fill="#dfff20" d="M72.8 346.1l.7-.7.8 0 .7.9.7 1.5.3 2.1-.7-1.4-.7-.8-.7 0-.7.5z"/><path fill="#bfff40" d="M75.7 347.8l.7 2 .3 2-.7-1.9z"/><path fill="#9fff60" d="M76.4 349.8l.7 2.5.4 1.8-.8-2.3z"/><path fill="#70ff8f" d="M77.1 352.3l.7 2.7.4 1.6-.7-2.5z"/><path fill="#50ffaf" d="M78.2 356.6l.7 2.7-.4-1.4-.7-2.9z"/><path fill="#20ffdf" d="M78.9 359.3l.7 2.7-.4-1.1-.7-3z"/><path fill="#00efff" d="M79.6 362l.7 2.8-.3-.9-.8-3z"/><path fill="#00bfff" d="M80.3 364.8l.7 2.7-.3-.7-.7-2.9z"/><path fill="#008fff" d="M81 367.5l.7 2.6-.3-.5-.7-2.8z"/><path fill="#0070ff" d="M81.7 370.1l.7 2.4-.3-.4-.7-2.5z"/><path fill="#0040ff" d="M82.4 372.5l.8 2.2-.4-.2-.7-2.4z"/><path fill="#0020ff" d="M83.2 374.7l.7 2-.4-.1-.7-2.1z"/><path fill="#0000ff" d="M83.9 376.7l.7 1.8-.4 0-.7-1.9z"/><path fill="#0000ef" d="M84.6 378.5l.7 1.6-.4.1-.7-1.7z"/><path fill="#0000cf" d="M85.3 380.1l.7 1.4-.3.1-.8-1.4z"/><path fill="#0000bf" d="M86 381.5l.7 1.3-.3.1-.7-1.3z"/><path fill="#0000af" d="M86.7 382.8l.7 1.1.7.9-.3.2-.7-1-.7-1.1z"/><path fill="#00009f" d="M88.1 384.8l.8.9.7.7-.4.2-1.4-1.6z"/><path fill="#00008f" d="M89.6 386.4l.7.7 1.4 1.2 1.9 1.3-.3.2-1.9-1.4-.8-.5-.7-.7-.7-.6zM55.3 366.9l1.9.9 1.4.6.7.1-.4.2-1.4-.4-.7-.3-1.9-1z"/><path fill="#00009f" d="M59.3 368.5l1.4.2-.3.1-.7 0-.8-.1z"/><path fill="#0000af" d="M60.7 368.7l.7-.2-.3.2-.7.1z"/><path fill="#0000bf" d="M61.1 368.7l.7-.3.7-.4.4-.1-.8.4-.7.2z"/><path fill="#0000df" d="M62.5 368l.7-.7.4 0-.7.6z"/><path fill="#0000ef" d="M63.2 367.3l.7-.9.4.1-.7.8z"/><path fill="#0010ff" d="M63.9 366.4l.7-1.1.4.1-.7 1.1z"/><path fill="#0030ff" d="M64.6 365.3l.8-1.4.3.3-.7 1.2z"/><path fill="#0050ff" d="M65.4 363.9l.7-1.6.3.4-.7 1.5z"/><path fill="#0070ff" d="M66.1 362.3l.7-1.8.3.5-.7 1.7z"/><path fill="#009fff" d="M66.8 360.5l.7-2.1.3.7-.7 1.9z"/><path fill="#00cfff" d="M67.5 358.4l.7-2.3.4.9-.8 2.1z"/><path fill="#00ffff" d="M68.2 356.1l.7-2.3.4 1.1-.7 2.1z"/><path fill="#40ffbf" d="M68.9 353.8l.7-2.4.4 1.4-.7 2.1z"/><path fill="#70ff8f" d="M69.6 351.4l.7-2.3.4 1.6-.7 2.1z"/><path fill="#9fff60" d="M70.3 349.1l.8-2.1.3 1.8-.7 1.9z"/><path fill="#bfff40" d="M71.1 347l.7-1.8.3 2.1-.7 1.5z"/><path fill="#efff10" d="M71.8 345.2l.7-1.3.3 2.2-.7 1.2z"/><path fill="#ffff00" d="M72.5 343.9l.7-.8.3 2.3-.7.7z"/><path fill="#ffef00" d="M73.2 343.1l.7 0 .7.9.4 2.3-.7-.9-.8 0z"/><path fill="#ffff00" d="M74.6 344l.7 1.6.4 2.2-.7-1.5z"/><path fill="#efff10" d="M75.3 345.6l.7 2.2.4 2-.7-2z"/><path fill="#bfff40" d="M76 347.8l.8 2.6.3 1.9-.7-2.5z"/><path fill="#9fff60" d="M76.8 350.4l.7 3 .3 1.6-.7-2.7z"/><path fill="#70ff8f" d="M77.5 353.4l.7 3.1.3 1.4-.7-2.9z"/><path fill="#40ffbf" d="M78.5 357.9l.7 3-.3-1.1-.7-3.3z"/><path fill="#00ffff" d="M79.2 360.9l.8 3-.4-.9-.7-3.2z"/><path fill="#00cfff" d="M80 363.9l.7 2.9-.4-.7-.7-3.1z"/><path fill="#009fff" d="M80.7 366.8l.7 2.8-.4-.6-.7-2.9z"/><path fill="#0070ff" d="M81.4 369.6l.7 2.5-.4-.3-.7-2.8z"/><path fill="#0050ff" d="M82.1 372.1l.7 2.4-.3-.2-.8-2.5z"/><path fill="#0030ff" d="M82.8 374.5l.7 2.1-.3-.1-.7-2.2z"/><path fill="#0010ff" d="M83.5 376.6l.7 1.9-.3 0-.7-2z"/><path fill="#0000ef" d="M84.2 378.5l.7 1.7-.3 0-.7-1.7z"/><path fill="#0000df" d="M84.9 380.2l.8 1.4-.4.1-.7-1.5z"/><path fill="#0000bf" d="M85.7 381.6l.7 1.3.7 1.1-.4.1-.7-1.1-.7-1.3z"/><path fill="#0000af" d="M87.1 384l.7 1-.4.1-.7-1z"/><path fill="#00009f" d="M87.8 385l1.4 1.6-.3.1-.7-.7-.8-.9z"/><path fill="#00008f" d="M89.2 386.6l.7.6.7.7.8.5 1.9 1.4-.4.1-1.9-1.3-1.4-1.2-.7-.7zM54.9 367l1.9 1 .7.3 1.4.4-.3.1-.7-.1-1.4-.6-1.9-.9z"/><path fill="#00009f" d="M58.9 368.7l.8.1.7 0-.4.1-.7 0-.7-.1z"/><path fill="#0000af" d="M60.4 368.8l.7-.1-.4.1-.7.1z"/><path fill="#0000bf" d="M60.7 368.8l.8-.3.3-.1-.7.3z"/><path fill="#0000cf" d="M61.5 368.5l.7-.5.3 0-.7.4z"/><path fill="#0000df" d="M62.2 368l.7-.7.3 0-.7.7z"/><path fill="#0000ef" d="M62.9 367.3l.7-.9.3 0-.7.9z"/><path fill="#0010ff" d="M63.6 366.4l.7-1.2.3.1-.7 1.1z"/><path fill="#0030ff" d="M64.3 365.2l.7-1.5.4.2-.8 1.4z"/><path fill="#0050ff" d="M65 363.7l.7-1.8.4.4-.7 1.6z"/><path fill="#0080ff" d="M65.7 361.9l.7-2 .4.6-.7 1.8z"/><path fill="#00afff" d="M66.4 359.9l.8-2.3.3.8-.7 2.1z"/><path fill="#00dfff" d="M67.2 357.6l.7-2.4.3.9-.7 2.3z"/><path fill="#20ffdf" d="M67.9 355.2l.7-2.6.3 1.2-.7 2.3z"/><path fill="#50ffaf" d="M68.6 352.6l.7-2.6.3 1.4-.7 2.4z"/><path fill="#8fff70" d="M69.3 350l.7-2.5.3 1.6-.7 2.3z"/><path fill="#bfff40" d="M70 347.5l.7-2.3.4 1.8-.8 2.1z"/><path fill="#efff10" d="M70.7 345.2l.7-2 .4 2-.7 1.8z"/><path fill="#ffef00" d="M71.4 343.2l.7-1.5.4 2.2-.7 1.3z"/><path fill="#ffcf00" d="M72.1 341.7l.8-.9.3 2.3-.7.8z"/><path fill="#ffbf00" d="M72.9 340.8l.7-.1.7 1 .3 2.3-.7-.9-.7 0z"/><path fill="#ffcf00" d="M74.3 341.7l.7 1.7.3 2.2-.7-1.6z"/><path fill="#ffef00" d="M75 343.4l.7 2.4.3 2-.7-2.2z"/><path fill="#efff10" d="M75.7 345.8l.7 2.8.4 1.8-.8-2.6z"/><path fill="#bfff40" d="M76.8 350.4l.7 3-.4-1.6-.7-3.2z"/><path fill="#8fff70" d="M77.5 353.4l.7 3.1-.4-1.3-.7-3.4z"/><path fill="#50ffaf" d="M78.2 356.5l.7 3.3-.3-1.2-.8-3.4z"/><path fill="#20ffdf" d="M78.9 359.8l.7 3.2-.3-.9-.7-3.5z"/><path fill="#00dfff" d="M79.6 363l.7 3.1-.3-.7-.7-3.3z"/><path fill="#00afff" d="M80.3 366.1l.7 2.9-.3-.5-.7-3.1z"/><path fill="#0080ff" d="M81 369l.7 2.8-.3-.4-.7-2.9z"/><path fill="#0050ff" d="M81.7 371.8l.8 2.5-.4-.3-.7-2.6z"/><path fill="#0030ff" d="M82.5 374.3l.7 2.2-.4-.2-.7-2.3z"/><path fill="#0010ff" d="M83.2 376.5l.7 2-.4-.1-.7-2.1z"/><path fill="#0000ef" d="M83.9 378.5l.7 1.7-.3 0-.8-1.8z"/><path fill="#0000df" d="M84.6 380.2l.7 1.5-.3.1-.7-1.6z"/><path fill="#0000cf" d="M85.3 381.7l.7 1.3-.3.1-.7-1.3z"/><path fill="#0000bf" d="M86 383l.7 1.1-.3.2-.7-1.2z"/><path fill="#0000af" d="M86.7 384.1l.7 1-.3.2-.7-1z"/><path fill="#00009f" d="M87.4 385.1l.8.9.7.7-.4.2-1.4-1.6z"/><path fill="#00008f" d="M88.9 386.7l.7.7 1.4 1.2 1.9 1.3-.3.2-1.9-1.4-.7-.5-.8-.6-.7-.7zM54.6 367.2l1.9.9 1.4.6.7.1-.3.2-.8-.2-.7-.2-.7-.3-1.9-1z"/><path fill="#00009f" d="M58.6 368.8l.7.1.7 0-.3.2-.7 0-.7-.1z"/><path fill="#0000af" d="M60 368.9l.7-.1-.3.1-.7.2z"/><path fill="#0000bf" d="M60.4 368.9l.7-.3.4-.1-.8.3z"/><path fill="#0000cf" d="M61.1 368.6l.7-.5.4-.1-.7.5z"/><path fill="#0000df" d="M61.8 368.1l.7-.8.4 0-.7.7z"/><path fill="#0000ef" d="M62.5 367.3l.7-1 .4.1-.7.9z"/><path fill="#0010ff" d="M63.2 366.3l.8-1.3.3.2-.7 1.2z"/><path fill="#0030ff" d="M64 365l.7-1.6.3.3-.7 1.5z"/><path fill="#0060ff" d="M64.7 363.4l.7-1.8.3.3-.7 1.8z"/><path fill="#008fff" d="M65.4 361.6l.7-2.2.3.5-.7 2z"/><path fill="#00bfff" d="M66.1 359.4l.7-2.5.4.7-.8 2.3z"/><path fill="#00efff" d="M66.8 356.9l.7-2.6.4.9-.7 2.4z"/><path fill="#30ffcf" d="M67.5 354.3l.7-2.8.4 1.1-.7 2.6z"/><path fill="#70ff8f" d="M68.2 351.5l.7-2.9.4 1.4-.7 2.6z"/><path fill="#afff50" d="M68.9 348.6l.8-2.7.3 1.6-.7 2.5z"/><path fill="#dfff20" d="M69.7 345.9l.7-2.6.3 1.9-.7 2.3z"/><path fill="#ffef00" d="M70.4 343.3l.7-2.2.3 2.1-.7 2z"/><path fill="#ffbf00" d="M71.1 341.1l.7-1.6.3 2.2-.7 1.5z"/><path fill="#ff9f00" d="M71.8 339.5l.7-1 .4 2.3-.8.9z"/><path fill="#ff8f00" d="M72.5 338.5l.7-.1.7 1 .4 2.3-.7-1-.7.1z"/><path fill="#ff9f00" d="M73.9 339.4l.7 1.8.4 2.2-.7-1.7z"/><path fill="#ffbf00" d="M74.6 341.2l.8 2.5.3 2.1-.7-2.4z"/><path fill="#ffef00" d="M75.4 343.7l.7 3 .3 1.9-.7-2.8z"/><path fill="#dfff20" d="M76.1 346.7l.7 3.4.3 1.7-.7-3.2z"/><path fill="#afff50" d="M76.8 350.1l.7 3.7.3 1.4-.7-3.4z"/><path fill="#70ff8f" d="M77.8 355.2l.8 3.4-.4-1.1-.7-3.7z"/><path fill="#30ffcf" d="M78.6 358.6l.7 3.5-.4-1-.7-3.6z"/><path fill="#00efff" d="M79.3 362.1l.7 3.3-.4-.8-.7-3.5z"/><path fill="#00bfff" d="M80 365.4l.7 3.1-.4-.5-.7-3.4z"/><path fill="#008fff" d="M80.7 368.5l.7 2.9-.3-.4-.8-3z"/><path fill="#0060ff" d="M81.4 371.4l.7 2.6-.3-.2-.7-2.8z"/><path fill="#0030ff" d="M82.1 374l.7 2.3-.3-.1-.7-2.4z"/><path fill="#0010ff" d="M82.8 376.3l.7 2.1-.3-.1-.7-2.1z"/><path fill="#0000ef" d="M83.5 378.4l.8 1.8-.4 0-.7-1.9z"/><path fill="#0000df" d="M84.3 380.2l.7 1.6-.4 0-.7-1.6z"/><path fill="#0000cf" d="M85 381.8l.7 1.3-.4.1-.7-1.4z"/><path fill="#0000bf" d="M85.7 383.1l.7 1.2-.4.1-.7-1.2z"/><path fill="#0000af" d="M86.4 384.3l.7 1-.3.1-.8-1z"/><path fill="#00009f" d="M87.1 385.3l1.4 1.6-.3.1-.7-.7-.7-.9z"/><path fill="#00008f" d="M88.5 386.9l.7.7.8.6.7.5 1.9 1.4-.4.1-1.9-1.3-1.4-1.2-.7-.7zM54.2 367.3l1.9 1 .7.3.7.2.8.2-.4.1-.7-.1-1.4-.6-1.9-.9z"/><path fill="#00009f" d="M58.3 369l.7.1.7 0-.4.1-.7 0-.7-.1z"/><path fill="#0000af" d="M59.3 369.2l.7-.2.4-.1-.7.2z"/><path fill="#0000bf" d="M60 369l.8-.3.3-.1-.7.3z"/><path fill="#0000cf" d="M60.8 368.7l.7-.6.3 0-.7.5z"/><path fill="#0000df" d="M61.5 368.1l.7-.8.3 0-.7.8z"/><path fill="#0000ff" d="M62.2 367.3l.7-1 .3 0-.7 1z"/><path fill="#0020ff" d="M62.9 366.3l.7-1.4.4.1-.8 1.3z"/><path fill="#0040ff" d="M63.6 364.9l.7-1.7.4.2-.7 1.6z"/><path fill="#0060ff" d="M64.3 363.2l.7-2 .4.4-.7 1.8z"/><path fill="#009fff" d="M65 361.2l.7-2.4.4.6-.7 2.2z"/><path fill="#00cfff" d="M65.7 358.8l.8-2.6.3.7-.7 2.5z"/><path fill="#10ffef" d="M66.5 356.2l.7-2.9.3 1-.7 2.6z"/><path fill="#50ffaf" d="M67.2 353.3l.7-3 .3 1.2-.7 2.8z"/><path fill="#8fff70" d="M67.9 350.3l.7-3.1.3 1.4-.7 2.9z"/><path fill="#cfff30" d="M68.6 347.2l.7-2.9.4 1.6-.8 2.7z"/><path fill="#ffff00" d="M69.3 344.3l.7-2.8.4 1.8-.7 2.6z"/><path fill="#ffbf00" d="M70 341.5l.7-2.4.4 2-.7 2.2z"/><path fill="#ff8f00" d="M70.7 339.1l.7-1.8.4 2.2-.7 1.6z"/><path fill="#ff7000" d="M71.4 337.3l.8-1.1.3 2.3-.7 1z"/><path fill="#ff6000" d="M72.2 336.2l.7-.1.7 1 .3 2.3-.7-1-.7.1z"/><path fill="#ff7000" d="M73.6 337.1l.7 1.9.3 2.2-.7-1.8z"/><path fill="#ff8f00" d="M74.3 339l.7 2.7.4 2-.8-2.5z"/><path fill="#ffbf00" d="M75 341.7l.7 3.2.4 1.8-.7-3z"/><path fill="#ffff00" d="M76.1 346.7l.7 3.4-.4-1.5-.7-3.7z"/><path fill="#cfff30" d="M76.8 350.1l.7 3.7-.4-1.4-.7-3.8z"/><path fill="#8fff70" d="M77.5 353.8l.7 3.7-.3-1.2-.8-3.9z"/><path fill="#50ffaf" d="M78.2 357.5l.7 3.6-.3-.9-.7-3.9z"/><path fill="#10ffef" d="M78.9 361.1l.7 3.5-.3-.7-.7-3.7z"/><path fill="#00cfff" d="M79.6 364.6l.7 3.4-.3-.6-.7-3.5z"/><path fill="#009fff" d="M80.3 368l.8 3-.4-.4-.7-3.2z"/><path fill="#0060ff" d="M81.1 371l.7 2.8-.4-.3-.7-2.9z"/><path fill="#0040ff" d="M81.8 373.8l.7 2.4-.4-.2-.7-2.5z"/><path fill="#0020ff" d="M82.5 376.2l.7 2.1-.4 0-.7-2.3z"/><path fill="#0000ff" d="M83.2 378.3l.7 1.9-.3 0-.8-1.9z"/><path fill="#0000df" d="M83.9 380.2l.7 1.6-.3.1-.7-1.7z"/><path fill="#0000cf" d="M84.6 381.8l.7 1.4-.3.1-.7-1.4z"/><path fill="#0000bf" d="M85.3 383.2l.7 1.2-.3.1-.7-1.2z"/><path fill="#0000af" d="M86 384.4l.8 1-.4.1-.7-1z"/><path fill="#00009f" d="M86.8 385.4l.7.9.7.7-.4.2-.7-.8-.7-.9z"/><path fill="#00008f" d="M88.2 387l.7.7 1.4 1.2 1.9 1.3-.3.2-1.9-1.4-.7-.5-.8-.7-.7-.6zM53.9 367.5l1.9.9 1.4.6.7.1-.3.2-.7-.2-.8-.2-.7-.3-1.9-1z"/><path fill="#00009f" d="M57.9 369.1l.7.1.7 0-.3.1-1.4 0z"/><path fill="#0000af" d="M59.3 369.2l.7-.2-.3.1-.7.2z"/><path fill="#0000bf" d="M59.7 369.1l.7-.4.4 0-.8.3z"/><path fill="#0000cf" d="M60.4 368.7l.7-.5.4-.1-.7.6z"/><path fill="#0000df" d="M61.1 368.2l.7-.9.4 0-.7.8z"/><path fill="#0000ff" d="M61.8 367.3l.8-1.1.3.1-.7 1z"/><path fill="#0020ff" d="M62.6 366.2l.7-1.5.3.2-.7 1.4z"/><path fill="#0040ff" d="M63.3 364.7l.7-1.8.3.3-.7 1.7z"/><path fill="#0070ff" d="M64 362.9l.7-2.1.3.4-.7 2z"/><path fill="#009fff" d="M64.7 360.8l.7-2.5.3.5-.7 2.4z"/><path fill="#00dfff" d="M65.4 358.3l.7-2.8.4.7-.8 2.6z"/><path fill="#20ffdf" d="M66.1 355.5l.7-3.1.4.9-.7 2.9z"/><path fill="#60ff9f" d="M66.8 352.4l.7-3.2.4 1.1-.7 3z"/><path fill="#9fff60" d="M67.5 349.2l.8-3.3.3 1.3-.7 3.1z"/><path fill="#efff10" d="M68.3 345.9l.7-3.2.3 1.6-.7 2.9z"/><path fill="#ffcf00" d="M69 342.7l.7-2.9.3 1.7-.7 2.8z"/><path fill="#ff9f00" d="M69.7 339.8l.7-2.6.3 1.9-.7 2.4z"/><path fill="#ff7000" d="M70.4 337.2l.7-2 .3 2.1-.7 1.8z"/><path fill="#ff4000" d="M71.1 335.2l.7-1.2.4 2.2-.8 1.1z"/><path fill="#ff3000" d="M71.8 334l.7-.2.7 1.1.4 2.2-.7-1-.7.1z"/><path fill="#ff4000" d="M73.2 334.9l.8 2.1.3 2-.7-1.9z"/><path fill="#ff7000" d="M74 337l.7 2.8.3 1.9-.7-2.7z"/><path fill="#ff9f00" d="M74.7 339.8l.7 3.4.3 1.7-.7-3.2z"/><path fill="#ffcf00" d="M75.4 343.2l.7 3.8.3 1.6-.7-3.7z"/><path fill="#efff10" d="M76.4 348.6l.7 3.8-.3-1.3-.7-4.1z"/><path fill="#9fff60" d="M77.1 352.4l.8 3.9-.4-1.1-.7-4.1z"/><path fill="#60ff9f" d="M77.9 356.3l.7 3.9-.4-.9-.7-4.1z"/><path fill="#20ffdf" d="M78.6 360.2l.7 3.7-.4-.7-.7-3.9z"/><path fill="#00dfff" d="M79.3 363.9l.7 3.5-.3-.5-.8-3.7z"/><path fill="#009fff" d="M80 367.4l.7 3.2-.3-.4-.7-3.3z"/><path fill="#0070ff" d="M80.7 370.6l.7 2.9-.3-.3-.7-3z"/><path fill="#0040ff" d="M81.4 373.5l.7 2.5-.3-.1-.7-2.7z"/><path fill="#0020ff" d="M82.1 376l.7 2.3-.3-.1-.7-2.3z"/><path fill="#0000ff" d="M82.8 378.3l.8 1.9-.4 0-.7-2z"/><path fill="#0000df" d="M83.6 380.2l.7 1.7-.4 0-.7-1.7z"/><path fill="#0000cf" d="M84.3 381.9l.7 1.4-.4 0-.7-1.4z"/><path fill="#0000bf" d="M85 383.3l.7 1.2-.3.1-.8-1.3z"/><path fill="#0000af" d="M85.7 384.5l.7 1-.3.1-.7-1z"/><path fill="#00009f" d="M86.4 385.5l.7.9.7.8-.3.1-.7-.8-.7-.9z"/><path fill="#00008f" d="M87.8 387.2l.7.6.8.7.7.5 1.9 1.4-.4.1-1.9-1.3-1.4-1.2-.7-.7zM53.5 367.6l1.9 1 .7.3.8.2.7.2-.4.1-1.4-.4-.7-.3-1.9-1z"/><path fill="#00009f" d="M57.6 369.3l1.4 0-.4.1-.7.1-.7-.1z"/><path fill="#0000af" d="M59 369.3l.7-.2-.3.1z"/><path fill="#0000bf" d="M59.4 369.2l.7-.4.3-.1-.7.4z"/><path fill="#0000cf" d="M60.1 368.8l.7-.6.3 0-.7.5z"/><path fill="#0000df" d="M60.8 368.2l.7-.9.3 0-.7.9z"/><path fill="#0000ff" d="M61.5 367.3l.7-1.2.4.1-.8 1.1z"/><path fill="#0020ff" d="M62.2 366.1l.7-1.6.4.2-.7 1.5z"/><path fill="#0050ff" d="M62.9 364.5l.7-1.8.4.2-.7 1.8z"/><path fill="#0080ff" d="M63.6 362.7l.7-2.3.4.4-.7 2.1z"/><path fill="#00afff" d="M64.3 360.4l.8-2.7.3.6-.7 2.5z"/><path fill="#00efff" d="M65.1 357.7l.7-2.9.3.7-.7 2.8z"/><path fill="#30ffcf" d="M65.8 354.8l.7-3.2.3.8-.7 3.1z"/><path fill="#70ff8f" d="M66.5 351.6l.7-3.5.3 1.1-.7 3.2z"/><path fill="#bfff40" d="M67.2 348.1l.7-3.4.4 1.2-.8 3.3z"/><path fill="#ffff00" d="M67.9 344.7l.7-3.4.4 1.4-.7 3.2z"/><path fill="#ffaf00" d="M68.6 341.3l.7-3.2.4 1.7-.7 2.9z"/><path fill="#ff7000" d="M69.3 338.1l.7-2.7.4 1.8-.7 2.6z"/><path fill="#ff4000" d="M70 335.4l.8-2.1.3 1.9-.7 2z"/><path fill="#ff2000" d="M70.8 333.3l.7-1.3.3 2-.7 1.2z"/><path fill="#ff0000" d="M71.5 332l.7-.2.7 1.1.3 2-.7-1.1-.7.2z"/><path fill="#ff2000" d="M72.9 332.9l.7 2.1.4 2-.8-2.1z"/><path fill="#ff4000" d="M73.6 335l.7 3 .4 1.8-.7-2.8z"/><path fill="#ff7000" d="M74.7 339.8l.7 3.4-.4-1.6-.7-3.6z"/><path fill="#ffaf00" d="M75.4 343.2l.7 3.8-.4-1.4-.7-4z"/><path fill="#ffff00" d="M76.1 347l.7 4.1-.3-1.3-.8-4.2z"/><path fill="#bfff40" d="M76.8 351.1l.7 4.1-.3-1-.7-4.4z"/><path fill="#70ff8f" d="M77.5 355.2l.7 4.1-.3-.9-.7-4.2z"/><path fill="#30ffcf" d="M78.2 359.3l.7 3.9-.3-.7-.7-4.1z"/><path fill="#00efff" d="M78.9 363.2l.8 3.7-.4-.6-.7-3.8z"/><path fill="#00afff" d="M79.7 366.9l.7 3.3-.4-.4-.7-3.5z"/><path fill="#0080ff" d="M80.4 370.2l.7 3-.4-.2-.7-3.2z"/><path fill="#0050ff" d="M81.1 373.2l.7 2.7-.4-.2-.7-2.7z"/><path fill="#0020ff" d="M81.8 375.9l.7 2.3-.3-.1-.8-2.4z"/><path fill="#0000ff" d="M82.5 378.2l.7 2-.3 0-.7-2.1z"/><path fill="#0000df" d="M83.2 380.2l.7 1.7-.3 0-.7-1.7z"/><path fill="#0000cf" d="M83.9 381.9l.7 1.4-.3.1-.7-1.5z"/><path fill="#0000bf" d="M84.6 383.3l.8 1.3-.4.1-.7-1.3z"/><path fill="#0000af" d="M85.4 384.6l.7 1-.4.1-.7-1z"/><path fill="#00009f" d="M86.1 385.6l.7.9.7.8-.4.1-.7-.8-.7-.9z"/><path fill="#00008f" d="M87.5 387.3l.7.7 1.4 1.2 1.9 1.3-.3.1-1.9-1.3-1.4-1.2-.8-.7zM53.2 367.7l1.9 1 .7.3 1.4.4-.3.1-.7-.1-.8-.3-.7-.3-1.9-.9z"/><path fill="#00009f" d="M57.2 369.4l.7.1.7-.1-.3.1-.7.1-.7-.1z"/><path fill="#0000af" d="M58.6 369.4l.4-.1-.7.2z"/><path fill="#0000bf" d="M59 369.3l.7-.4.4-.1-.7.4z"/><path fill="#0000cf" d="M59.7 368.9l.7-.7.4 0-.7.6z"/><path fill="#0000df" d="M60.4 368.2l.7-.9.4 0-.7.9z"/><path fill="#0000ff" d="M61.1 367.3l.8-1.3.3.1-.7 1.2z"/><path fill="#0020ff" d="M61.9 366l.7-1.6.3.1-.7 1.6z"/><path fill="#0050ff" d="M62.6 364.4l.7-2 .3.3-.7 1.8z"/><path fill="#0080ff" d="M63.3 362.4l.7-2.4.3.4-.7 2.3z"/><path fill="#00bfff" d="M64 360l.7-2.7.4.4-.8 2.7z"/><path fill="#00ffff" d="M64.7 357.3l.7-3.1.4.6-.7 2.9z"/><path fill="#40ffbf" d="M65.4 354.2l.7-3.4.4.8-.7 3.2z"/><path fill="#8fff70" d="M66.1 350.8l.7-3.6.4.9-.7 3.5z"/><path fill="#cfff30" d="M66.8 347.2l.8-3.7.3 1.2-.7 3.4z"/><path fill="#ffdf00" d="M67.6 343.5l.7-3.6.3 1.4-.7 3.4z"/><path fill="#ff8f00" d="M68.3 339.9l.7-3.3.3 1.5-.7 3.2z"/><path fill="#ff5000" d="M69 336.6l.7-2.8.3 1.6-.7 2.7z"/><path fill="#ff2000" d="M69.7 333.8l.7-2.3.4 1.8-.8 2.1z"/><path fill="#ef0000" d="M70.4 331.5l.7-1.3.4 1.8-.7 1.3z"/><path fill="#df0000" d="M71.1 330.2l.7-.3.7 1.1.4 1.9-.7-1.1-.7.2z"/><path fill="#ef0000" d="M72.5 331l.8 2.3.3 1.7-.7-2.1z"/><path fill="#ff2000" d="M73.3 333.3l.7 3 .3 1.7-.7-3z"/><path fill="#ff5000" d="M74 336.3l.7 3.8.3 1.5-.7-3.6z"/><path fill="#ff8f00" d="M75 341.6l.7 4-.3-1.4-.7-4.1z"/><path fill="#ffdf00" d="M75.7 345.6l.8 4.2-.4-1.1-.7-4.5z"/><path fill="#cfff30" d="M76.5 349.8l.7 4.4-.4-1-.7-4.5z"/><path fill="#8fff70" d="M77.2 354.2l.7 4.2-.4-.8-.7-4.4z"/><path fill="#40ffbf" d="M77.9 358.4l.7 4.1-.4-.6-.7-4.3z"/><path fill="#00ffff" d="M78.6 362.5l.7 3.8-.3-.4-.8-4z"/><path fill="#00bfff" d="M79.3 366.3l.7 3.5-.3-.3-.7-3.6z"/><path fill="#0080ff" d="M80 369.8l.7 3.2-.3-.3-.7-3.2z"/><path fill="#0050ff" d="M80.7 373l.7 2.7-.3-.1-.7-2.9z"/><path fill="#0020ff" d="M81.4 375.7l.8 2.4-.4-.1-.7-2.4z"/><path fill="#0000ff" d="M82.2 378.1l.7 2.1-.4-.1-.7-2.1z"/><path fill="#0000df" d="M82.9 380.2l.7 1.7-.4 0-.7-1.8z"/><path fill="#0000cf" d="M83.6 381.9l.7 1.5-.4.1-.7-1.6z"/><path fill="#0000bf" d="M84.3 383.4l.7 1.3-.3 0-.8-1.2z"/><path fill="#0000af" d="M85 384.7l.7 1-.3.1-.7-1.1z"/><path fill="#00009f" d="M85.7 385.7l.7.9.7.8-.3.2-.7-.8-.7-1z"/><path fill="#00008f" d="M87.1 387.4l.8.7 1.4 1.2 1.9 1.3-.4.2-1.9-1.4-.7-.5-.7-.6-.7-.7zM52.8 367.9l1.9.9.7.3.8.3.7.1-.4.1-.7-.1-.7-.2-.7-.3-1.9-1z"/><path fill="#00009f" d="M56.9 369.5l.7.1.7-.1-.3.1-.8.1-.7-.1z"/><path fill="#0000af" d="M58.3 369.5l.7-.2-.3.1-.7.2z"/><path fill="#0000bf" d="M58.7 369.4l.7-.5.3 0-.7.4z"/><path fill="#0000cf" d="M59.4 368.9l.7-.7.3 0-.7.7z"/><path fill="#0000ef" d="M60.1 368.2l.7-.9.3 0-.7.9z"/><path fill="#0000ff" d="M60.8 367.3l.7-1.4.4.1-.8 1.3z"/><path fill="#0030ff" d="M61.5 365.9l.7-1.6.4.1-.7 1.6z"/><path fill="#0050ff" d="M62.2 364.3l.7-2.1.4.2-.7 2z"/><path fill="#008fff" d="M62.9 362.2l.8-2.5.3.3-.7 2.4z"/><path fill="#00bfff" d="M63.7 359.7l.7-2.9.3.5-.7 2.7z"/><path fill="#00ffff" d="M64.4 356.8l.7-3.2.3.6-.7 3.1z"/><path fill="#50ffaf" d="M65.1 353.6l.7-3.5.3.7-.7 3.4z"/><path fill="#9fff60" d="M65.8 350.1l.7-3.7.3.8-.7 3.6z"/><path fill="#efff10" d="M66.5 346.4l.7-3.9.4 1-.8 3.7z"/><path fill="#ffbf00" d="M67.2 342.5l.7-3.7.4 1.1-.7 3.6z"/><path fill="#ff8000" d="M67.9 338.8l.7-3.4.4 1.2-.7 3.3z"/><path fill="#ff3000" d="M68.6 335.4l.8-3 .3 1.4-.7 2.8z"/><path fill="#ff0000" d="M69.4 332.4l.7-2.4.3 1.5-.7 2.3z"/><path fill="#cf0000" d="M70.1 330l.7-1.4.3 1.6-.7 1.3z"/><path fill="#af0000" d="M70.8 328.6l.7-.3.7 1.2.3 1.5-.7-1.1-.7.3z"/><path fill="#cf0000" d="M72.2 329.5l.7 2.3.4 1.5-.8-2.3z"/><path fill="#ff0000" d="M73.3 333.3l.7 3-.4-1.4-.7-3.1z"/><path fill="#ff3000" d="M74 336.3l.7 3.8-.4-1.3-.7-3.9z"/><path fill="#ff8000" d="M74.7 340.1l.7 4.1-.3-1.1-.8-4.3z"/><path fill="#ffbf00" d="M75.4 344.2l.7 4.5-.3-1-.7-4.6z"/><path fill="#efff10" d="M76.1 348.7l.7 4.5-.3-.8-.7-4.7z"/><path fill="#9fff60" d="M76.8 353.2l.7 4.4-.3-.6-.7-4.6z"/><path fill="#50ffaf" d="M77.5 357.6l.7 4.3-.3-.6-.7-4.3z"/><path fill="#00ffff" d="M78.2 361.9l.8 4-.4-.5-.7-4.1z"/><path fill="#00bfff" d="M79 365.9l.7 3.6-.4-.3-.7-3.8z"/><path fill="#008fff" d="M79.7 369.5l.7 3.2-.4-.2-.7-3.3z"/><path fill="#0050ff" d="M80.4 372.7l.7 2.9-.3-.2-.8-2.9z"/><path fill="#0030ff" d="M81.1 375.6l.7 2.4-.3 0-.7-2.6z"/><path fill="#0000ff" d="M81.8 378l.7 2.1-.3 0-.7-2.1z"/><path fill="#0000ef" d="M82.5 380.1l.7 1.8-.3.1-.7-1.9z"/><path fill="#0000cf" d="M83.2 381.9l.7 1.6-.3 0-.7-1.5z"/><path fill="#0000bf" d="M83.9 383.5l.8 1.2-.4.1-.7-1.3z"/><path fill="#0000af" d="M84.7 384.7l.7 1.1-.4.1-.7-1.1z"/><path fill="#00009f" d="M85.4 385.8l.7 1 .7.8-.3.1-.8-.8-.7-1z"/><path fill="#00008f" d="M86.8 387.6l.7.7.7.6.7.5 1.9 1.4-.3.1-1.9-1.3-1.4-1.2-.7-.7zM52.5 368l1.9 1 .7.3.7.2.7.1-.3.2-1.4-.4-.8-.3-1.9-.9z"/><path fill="#00009f" d="M56.5 369.6l.7.1.8-.1-.4.1-.7.1-.7 0z"/><path fill="#0000af" d="M57.6 369.7l.7-.2.4-.1-.7.2z"/><path fill="#0000bf" d="M58.3 369.5l.7-.5.4-.1-.7.5z"/><path fill="#0000cf" d="M59 369l.7-.7.4-.1-.7.7z"/><path fill="#0000ef" d="M59.7 368.3l.8-1 .3 0-.7.9z"/><path fill="#0010ff" d="M60.5 367.3l.7-1.4.3 0-.7 1.4z"/><path fill="#0030ff" d="M61.2 365.9l.7-1.7.3.1-.7 1.6z"/><path fill="#0060ff" d="M61.9 364.2l.7-2.2.3.2-.7 2.1z"/><path fill="#008fff" d="M62.6 362l.7-2.5.4.2-.8 2.5z"/><path fill="#00cfff" d="M63.3 359.5l.7-3 .4.3-.7 2.9z"/><path fill="#10ffef" d="M64 356.5l.7-3.3.4.4-.7 3.2z"/><path fill="#60ff9f" d="M64.7 353.2l.7-3.6.4.5-.7 3.5z"/><path fill="#afff50" d="M65.4 349.6l.8-3.9.3.7-.7 3.7z"/><path fill="#ffff00" d="M66.2 345.7l.7-3.9.3.7-.7 3.9z"/><path fill="#ffaf00" d="M66.9 341.8l.7-3.8.3.8-.7 3.7z"/><path fill="#ff6000" d="M67.6 338l.7-3.6.3 1-.7 3.4z"/><path fill="#ff2000" d="M68.3 334.4l.7-3.1.4 1.1-.8 3z"/><path fill="#df0000" d="M69 331.3l.7-2.4.4 1.1-.7 2.4z"/><path fill="#af0000" d="M69.7 328.9l.7-1.5.4 1.2-.7 1.4z"/><path fill="#9f0000" d="M70.4 327.4l.7-.3.8 1.2.3 1.2-.7-1.2-.7.3z"/><path fill="#af0000" d="M71.9 328.3l.7 2.3.3 1.2-.7-2.3z"/><path fill="#df0000" d="M72.9 331.8l.7 3.1-.3-1-.7-3.3z"/><path fill="#ff2000" d="M73.6 334.9l.7 3.9-.3-1-.7-3.9z"/><path fill="#ff6000" d="M74.3 338.8l.8 4.3-.4-.8-.7-4.5z"/><path fill="#ffaf00" d="M75.1 343.1l.7 4.6-.4-.7-.7-4.7z"/><path fill="#ffff00" d="M75.8 347.7l.7 4.7-.4-.7-.7-4.7z"/><path fill="#afff50" d="M76.5 352.4l.7 4.6-.4-.6-.7-4.7z"/><path fill="#60ff9f" d="M77.2 357l.7 4.3-.3-.4-.8-4.5z"/><path fill="#10ffef" d="M77.9 361.3l.7 4.1-.3-.3-.7-4.2z"/><path fill="#00cfff" d="M78.6 365.4l.7 3.8-.3-.3-.7-3.8z"/><path fill="#008fff" d="M79.3 369.2l.7 3.3-.3-.2-.7-3.4z"/><path fill="#0060ff" d="M80 372.5l.8 2.9-.4-.1-.7-3z"/><path fill="#0030ff" d="M80.8 375.4l.7 2.6-.4-.1-.7-2.6z"/><path fill="#0010ff" d="M81.5 378l.7 2.1-.4 0-.7-2.2z"/><path fill="#0000ef" d="M82.2 380.1l.7 1.9-.4 0-.7-1.9z"/><path fill="#0000cf" d="M82.9 382l.7 1.5-.3.1-.8-1.6z"/><path fill="#0000bf" d="M83.6 383.5l.7 1.3-.3.1-.7-1.3z"/><path fill="#0000af" d="M84.3 384.8l.7 1.1-.3.1-.7-1.1z"/><path fill="#00009f" d="M85 385.9l.7 1 .8.8-.4.1-.7-.8-.7-1z"/><path fill="#00008f" d="M86.5 387.7l.7.7 1.4 1.2 1.9 1.3-.4.2-1.9-1.4-1.4-1.2-.7-.7zM52.1 368.2l1.9.9.8.3 1.4.4-.4.1-.7-.1-1.4-.6-1.9-.9z"/><path fill="#00009f" d="M56.2 369.8l.7 0 .7-.1-.3.1-.7.1-.8 0z"/><path fill="#0000af" d="M57.6 369.7l.7-.2-.3.1-.7.2z"/><path fill="#0000bf" d="M58 369.6l.7-.5.3-.1-.7.5z"/><path fill="#0000cf" d="M58.7 369.1l.7-.7.3-.1-.7.7z"/><path fill="#0000ef" d="M59.4 368.4l.7-1.1.4 0-.8 1z"/><path fill="#0010ff" d="M60.1 367.3l.7-1.4.4 0-.7 1.4z"/><path fill="#0030ff" d="M60.8 365.9l.7-1.7.4 0-.7 1.7z"/><path fill="#0060ff" d="M61.5 364.2l.7-2.2.4 0-.7 2.2z"/><path fill="#008fff" d="M62.2 362l.8-2.6.3.1-.7 2.5z"/><path fill="#00cfff" d="M63 359.4l.7-3 .3.1-.7 3z"/><path fill="#20ffdf" d="M63.7 356.4l.7-3.3.3.1-.7 3.3z"/><path fill="#60ff9f" d="M64.4 353.1l.7-3.7.3.2-.7 3.6z"/><path fill="#afff50" d="M65.1 349.4l.7-3.9.4.2-.8 3.9z"/><path fill="#ffef00" d="M65.8 345.5l.7-4 .4.3-.7 3.9z"/><path fill="#ff9f00" d="M66.5 341.5l.7-3.9.4.4-.7 3.8z"/><path fill="#ff5000" d="M67.2 337.6l.7-3.6.4.4-.7 3.6z"/><path fill="#ff1000" d="M67.9 334l.8-3.2.3.5-.7 3.1z"/><path fill="#cf0000" d="M68.7 330.8l.7-2.4.3.5-.7 2.4z"/><path fill="#9f0000" d="M69.4 328.4l.7-1.5.3.5-.7 1.5z"/><path fill="#800000" d="M70.1 326.9l.7-.4.7 1.2-.4-.6-.7.3z"/><path fill="#9f0000" d="M71.9 328.3l.7 2.3-.4-.5-.7-2.4z"/><path fill="#cf0000" d="M72.6 330.6l.7 3.3-.4-.5-.7-3.3z"/><path fill="#ff1000" d="M73.3 333.9l.7 3.9-.4-.4-.7-4z"/><path fill="#ff5000" d="M74 337.8l.7 4.5-.3-.4-.8-4.5z"/><path fill="#ff9f00" d="M74.7 342.3l.7 4.7-.3-.4-.7-4.7z"/><path fill="#ffef00" d="M75.4 347l.7 4.7-.3-.2-.7-4.9z"/><path fill="#afff50" d="M76.1 351.7l.7 4.7-.3-.2-.7-4.7z"/><path fill="#60ff9f" d="M76.8 356.4l.8 4.5-.4-.1-.7-4.6z"/><path fill="#20ffdf" d="M77.6 360.9l.7 4.2-.4-.1-.7-4.2z"/><path fill="#00cfff" d="M78.3 365.1l.7 3.8-.4 0-.7-3.9z"/><path fill="#008fff" d="M79 368.9l.7 3.4-.3 0-.8-3.4z"/><path fill="#0060ff" d="M79.7 372.3l.7 3-.3.1-.7-3.1z"/><path fill="#0030ff" d="M80.4 375.3l.7 2.6-.3.1-.7-2.6z"/><path fill="#0010ff" d="M81.1 377.9l.7 2.2-.3.1-.7-2.2z"/><path fill="#0000ef" d="M81.8 380.1l.7 1.9-.3.1-.7-1.9z"/><path fill="#0000cf" d="M82.5 382l.8 1.6-.4.1-.7-1.6z"/><path fill="#0000bf" d="M83.3 383.6l.7 1.3-.4.1-.7-1.3z"/><path fill="#0000af" d="M84 384.9l.7 1.1-.4.2-.7-1.2z"/><path fill="#00009f" d="M84.7 386l.7 1 .7.8-.3.1-.8-.8-.7-.9z"/><path fill="#00008f" d="M86.1 387.8l.7.7 1.4 1.2 1.9 1.4-.3.1-1.9-1.3-.7-.6-1.4-1.4z"/></g><path d="M182.6 341.6L228.7 322.7" stroke="#e8e8e8" stroke-width="1.0" fill="none"/><path d="M228.7 322.7L266.7 345.6" stroke="#e8e8e8" stroke-width="1.0" fill="none"/><path d="M182.6 314.9L228.7 296" stroke="#e8e8e8" stroke-width="1.0" fill="none"/><path d="M228.7 296L266.7 318.9" stroke="#e8e8e8" stroke-width="1.0" fill="none"/><path d="M228.7 349.3L228.7 296" stroke="#e8e8e8" stroke-width="1.0" fill="none"/><path d="M247.7 360.8L247.7 307.4" stroke="#e8e8e8" stroke-width="1.0" fill="none"/><path d="M266.7 372.2L266.7 318.9" stroke="#e8e8e8" stroke-width="1.0" fill="none"/><path d="M182.6 368.2L182.6 314.9" stroke="#7a7a7a" stroke-width="1.0" fill="none"/><path d="M182.6 368.2L220.6 391.1" stroke="#7a7a7a" stroke-width="1.0" fill="none"/><path d="M220.6 391.1L266.7 372.2" stroke="#7a7a7a" stroke-width="1.0" fill="none"/><g shape-rendering="crispEdges" filter="url(#bl)" transform="translate(.013 .017)"><path fill="#00008f" d="M228.7 349.3l12.3 7.4.7.5.7.4.7.3.7.4.6.4.7.5.7.4.1.1.4 0 .2-.1.3-.3.1-.2.1-.1-2.7.8-.1.2-.2.3-.1.2-.1.1-.2.1-.1.1-.3 0-.1-.1-.7-.4-.7-.5-.6-.4-.7-.3-2.1-1.2-12.3-7.5z"/><path fill="#00009f" d="M244.3 359.8l.2-.2 2.7-.8-.2.2z"/><path fill="#0000af" d="M247.2 358.8l.2-.2.3 0 .3.3.2.6-2.7.7-.2-.6-.3-.3-.3 0-.1.1-.1.2z"/><path fill="#00009f" d="M248.2 359.5l.2.3-2.7.8-.2-.4z"/><path fill="#00008f" d="M248.4 359.8l.1.3.1.4.2.3.1.3.2.2.2.4.2.1.1.1.4.2.3.2.8.4.3.2.4.3.4.2.3.2.4.3.4.2.3.2.4.2.4.3 12.3 7.4-2.7 1.1-12.4-7.4-.3-.3-.8-.4-.3-.2-.4-.2-.3-.3-.4-.2-.4-.3-.3-.2-.8-.4-.3-.2-.4-.2-.1-.1-.2-.1-.2-.4-.2-.3-.1-.3-.2-.4-.2-.8zM226 350.4l12.3 7.5 2.1 1.2.7.3.6.4.7.5.7.4.1.1.3 0 .1-.1.2-.1.1-.1.1-.2.2-.3-2.7.8-.1.3-.2.3-.2.4-.2.1-.2 0-.2-.1-.7-.4-.6-.5-1.4-.8-.7-.3-.6-.4-.7-.5-12.4-7.4z"/><path fill="#00009f" d="M241.5 360.8l.1-.2 2.7-.8-.1.2z"/><path fill="#0000af" d="M241.6 360.6l.2-.3.1-.2 2.7-.7-.1.2-.2.2z"/><path fill="#0000bf" d="M244.6 359.4l.1-.1.3 0 .3.3.1.3-2.7.7-.1-.4-.1-.2-.2-.1-.1-.1-.3.3z"/><path fill="#0000af" d="M245.4 359.9l.1.3.2.4-2.7.8-.1-.5-.2-.3z"/><path fill="#00009f" d="M245.7 360.6l.1.4-2.7.8-.1-.4z"/><path fill="#00008f" d="M245.8 361l.1.4.2.4.1.3.2.3.2.4.2.1.1.1.4.2.3.2.8.4.3.2.4.3.4.2.3.3.4.2.3.2.8.4.3.3 12.4 7.4-2.7 1.1-12.3-7.4-.4-.3-.4-.2-.3-.2-.4-.2-.3-.3-.4-.2-.4-.3-.3-.2-.8-.4-.3-.2-.8-.4-.4-.4-.1-.3-.2-.3-.2-.8-.2-.5zM223.3 351.5l12.4 7.4.7.5.6.4.7.3 1.4.8.6.5.7.4.2.1.2 0 .2-.1.2-.4.2-.3.1-.3-2.6.8-.1.4-.2.3-.1.3-.4.4-.2-.1-.1 0-1.4-1-.6-.4-.7-.3-1.4-.8-.6-.4-12.4-7.4z"/><path fill="#0000af" d="M238.9 361.6l.1-.4.2-.3 2.6-.6-.2.3-.1.2z"/><path fill="#0000bf" d="M239.2 360.9l.1-.3.1-.2.2-.1 2.6-.5-.3.3-.1.2z"/><path fill="#0000cf" d="M242.2 359.8l.1.1.2.1-2.7.5-.1-.2-.1 0z"/><path fill="#0000bf" d="M242.5 360l.1.2.1.4.2.3-2.7.7-.1-.5-.1-.4-.2-.2z"/><path fill="#0000af" d="M242.9 360.9l.1.5.1.4-2.6.8-.1-.5-.2-.5z"/><path fill="#00008f" d="M243.1 361.8l.2.5.2.8.2.3.1.3.4.4.8.4.3.2.8.4.3.2.4.3.4.2.3.3.4.2.3.2.4.2.4.3 12.3 7.4-2.6 1.1-12.3-7.5-.8-.4-.3-.2-.4-.2-.4-.3-.3-.2-.8-.6-.3-.2-.4-.2-.4-.1-.3-.2-.4-.2-.3-.3-.1-.2-.1-.3-.2-.4-.1-.4-.1-.5-.2-.5zM220.7 352.6l12.4 7.4.6.4 1.4.8.7.3.6.4 1.4 1 .1 0 .2.1.4-.4.1-.3.2-.3-2.6.7-.2.4-.1.4-.1.2-.3.3-.1 0-.2-.1-.7-.4-.6-.5-.7-.4-.7-.3-1.4-.8-.6-.4-12.4-7.5z"/><path fill="#0000af" d="M236.2 362.7l.1-.4.1-.5 2.6-.6-.2.8z"/><path fill="#0000bf" d="M236.4 361.8l.2-.4.1-.3 2.6-.5-.1.3-.2.3z"/><path fill="#0000cf" d="M239.3 360.6l.1-.2.2-.1.1 0 .1.2.2.2.1.4-2.6.4-.1-.4-.1-.3-.2-.1-.1 0-.2.1-.1.3z"/><path fill="#0000bf" d="M240.1 361.1l.1.5.2.5-2.6.6-.1-.6-.2-.6z"/><path fill="#0000af" d="M240.4 362.1l.1.5.2.5-2.6.8-.2-.6-.1-.6z"/><path fill="#00008f" d="M240.7 363.1l.1.5.1.4.2.4.1.3.1.2.3.3.4.2.3.2.4.1.4.2.3.2.8.6.3.2.4.3.4.2.3.2.8.4 12.3 7.5-2.6 1-12.3-7.4-.8-.4-.3-.3-.8-.4-.3-.3-.4-.3-.4-.2-.3-.3-.4-.1-.4-.2-.3-.2-.4-.2-.1-.1-.2-.1-.2-.6-.2-.5-.2-1zM218.1 353.6l12.4 7.5.6.4 1.4.8.7.3.7.4.6.5.7.4.2.1.1 0 .3-.3.1-.2.1-.4-2.5.8-.2.4-.1.4-.1.2-.2.1-.2 0-1.4-1-.7-.4-.6-.3-2.1-1.2-12.3-7.4z"/><path fill="#0000af" d="M233.5 363.9l.1-.5.2-.5 2.5-.6-.1.4-.2.4z"/><path fill="#0000bf" d="M233.8 362.9l.1-.6 2.5-.5-.1.5z"/><path fill="#0000cf" d="M233.9 362.3l.1-.5.2-.4 2.5-.3-.1.3-.2.4z"/><path fill="#0000df" d="M236.7 361.1l.1-.3.2-.1.1 0 .2.1.1.3.1.4-2.5.4-.2-.5-.1-.4-.1-.1-.2 0-.1.1-.1.4z"/><path fill="#0000cf" d="M237.5 361.5l.2.6.1.6-2.6.4-.2-1.2z"/><path fill="#0000bf" d="M237.8 362.7l.1.6-2.5.6-.2-.8z"/><path fill="#0000af" d="M237.9 363.3l.2.6.1.5-2.5.8-.2-.6-.1-.7z"/><path fill="#00008f" d="M238.2 364.4l.1.5.2.5.2.6.2.1.1.1.4.2.3.2.4.2.4.1.3.3.4.2.4.3.3.3.8.4.3.3.8.4 12.3 7.4-2.5 1.1-12.4-7.5-.3-.2-.8-.4-.3-.2-.8-.6-.3-.3-.8-.4-.3-.2-.4-.2-.4-.1-.3-.2-.2-.1-.1-.2-.1-.3-.2-.4-.1-.5-.1-.6zM215.6 354.7l12.3 7.4 2.1 1.2.6.3.7.4 1.4 1 .2 0 .2-.1.1-.2.1-.4.2-.4-2.5.8-.1.5-.2.4-.1.3-.2.1-.1.1-.1-.1-1.4-1-.7-.4-.6-.3-.7-.3-.7-.4-.7-.5-12.3-7.4z"/><path fill="#0000af" d="M231 364.7l.1-.7 2.5-.6-.1.5z"/><path fill="#0000bf" d="M231.1 364l.2-.6 2.5-.5-.2.5z"/><path fill="#0000cf" d="M231.3 363.4l.1-.7.1-.6 2.5-.3-.1.5-.1.6z"/><path fill="#0000df" d="M231.5 362.1l.2-.6 2.5-.1-.2.4z"/><path fill="#0000ef" d="M234.2 361.4l.1-.4.1-.1.2 0 .1.1.1.4.2.5-2.5.1-.2-.5-.1-.4-.1-.2-.2 0-.1.2-.1.4z"/><path fill="#0000df" d="M235 361.9l.1.6-2.5.2-.1-.7z"/><path fill="#0000cf" d="M235.1 362.5l.1.6.2.8-2.5.5-.1-.9-.2-.8z"/><path fill="#0000bf" d="M235.4 363.9l.1.7-2.5.6-.1-.8z"/><path fill="#0000af" d="M235.5 364.6l.2.6-2.5.8-.2-.8z"/><path fill="#00008f" d="M235.7 365.2l.1.6.1.5.2.4.1.3.1.2.2.1.3.2.4.1.4.2.3.2.8.4.3.3.8.6.3.2.8.4.3.2 12.4 7.5-2.5 1-12.4-7.4-.3-.3-.8-.4-.3-.2-.4-.3-.4-.2-.3-.4-.4-.2-.4-.3-.3-.1-.4-.2-.4-.1-.3-.2-.2-.1-.1-.2-.1-.3-.2-.5-.2-1.2zM213.1 355.7l12.3 7.4.7.5.7.4.7.3.6.3.7.4 1.4 1 .1.1.1-.1.2-.1.1-.3.2-.4-2.5.7-.1.5-.3.6-.1.1-.2-.1-.7-.5-.6-.6-.7-.4-.7-.2-.7-.3-.7-.4-.6-.4-12.4-7.5z"/><path fill="#0000af" d="M228.4 365.9l.1-.6.2-.7 2.4-.6-.1.7-.1.5z"/><path fill="#0000bf" d="M228.7 364.6l.1-.8 2.5-.4-.2.6z"/><path fill="#0000cf" d="M228.8 363.8l.1-.8 2.5-.3-.1.7z"/><path fill="#0000df" d="M228.9 363l.2-.8 2.4-.1-.1.6z"/><path fill="#0000ef" d="M229.1 362.2l.1-.7 2.5 0-.2.6z"/><path fill="#0000ff" d="M229.2 361.5l.1-.4.2-.3 2.4.1-.1.2-.1.4z"/><path fill="#0010ff" d="M231.9 360.9l.2 0 .1.2-2.4-.2-.2-.2-.1.1z"/><path fill="#0000ff" d="M232.2 361.1l.1.4.2.5-2.5 0-.1-.6-.1-.5z"/><path fill="#0000ef" d="M232.5 362l.1.7-2.4.2-.2-.9z"/><path fill="#0000df" d="M232.6 362.7l.2.8-2.5.3-.1-.9z"/><path fill="#0000cf" d="M232.8 363.5l.1.9-2.5.4-.1-1z"/><path fill="#0000bf" d="M232.9 364.4l.1.8-2.4.5-.2-.9z"/><path fill="#0000af" d="M233 365.2l.2.8.1.6-2.5.8-.1-.8-.1-.9z"/><path fill="#00008f" d="M233.3 366.6l.1.6.2.5.1.3.1.2.2.1.3.2.4.1.4.2.3.1.4.3.4.2.3.4.4.2.4.3.3.2.8.4.3.3 12.4 7.4-2.5 1-12.3-7.4-.4-.3-.4-.2-.3-.2-.4-.2-.4-.3-.3-.3-.8-.6-.3-.2-.4-.2-.3-.1-.4-.1-.4-.2-.3-.3-.1-.4-.1-.5-.2-.7zM210.6 356.7l12.4 7.5.6.4.7.4.7.3.7.2.7.4.6.6.7.5.2.1.1-.1.3-.6.1-.5-2.4.8-.1.6-.3.6-.1.1-.2 0-.7-.5-.6-.6-.7-.4-.7-.2-.7-.3-.7-.5-.6-.4-12.4-7.4z"/><path fill="#0000af" d="M226 366.7l.1-.8 2.4-.6-.1.6z"/><path fill="#0000bf" d="M226.1 365.9l.2-.9 2.4-.4-.2.7z"/><path fill="#0000cf" d="M226.3 365l.1-.9 2.4-.3-.1.8z"/><path fill="#0000df" d="M226.4 364.1l.1-1 2.4-.1-.1.8z"/><path fill="#0000ef" d="M226.5 363.1l.2-.9 2.4 0-.2.8z"/><path fill="#0000ff" d="M226.7 362.2l.1-.8 2.4.1-.1.7z"/><path fill="#0010ff" d="M226.8 361.4l.1-.6 2.4.3-.1.4z"/><path fill="#0020ff" d="M229.3 361.1l.2-.3.1-.1.2.2.1.5-2.4-.3-.1-.5-.2-.2-.1 0-.2.4z"/><path fill="#0010ff" d="M229.9 361.4l.1.6-2.4-.1-.1-.8z"/><path fill="#0000ff" d="M230 362l.2.9-2.4-.1-.2-.9z"/><path fill="#0000ef" d="M230.2 362.9l.1.9-2.4.1-.1-1.1z"/><path fill="#0000df" d="M230.3 363.8l.1 1-2.4.2-.1-1.1z"/><path fill="#0000cf" d="M230.4 364.8l.2.9-2.4.5-.2-1.2z"/><path fill="#0000bf" d="M230.6 365.7l.1.9-2.4.6-.1-1z"/><path fill="#0000af" d="M230.7 366.6l.1.8-2.4.7-.1-.9z"/><path fill="#00008f" d="M230.8 367.4l.2.7.1.5.1.4.3.3.4.2.4.1.3.1.4.2.3.2.8.6.3.3.4.3.4.2.3.2.4.2.4.3 12.3 7.4-2.4 1-12.3-7.4-.4-.3-.4-.2-.3-.2-.4-.2-.4-.3-.3-.3-.8-.6-.3-.3-.8-.2-.3-.1-.4-.2-.1-.1-.2-.3-.1-.4-.1-.6-.2-.8zM208.2 357.7l12.4 7.4.6.4.7.5.7.3.7.2.7.4.6.6.7.5.2 0 .1-.1.3-.6.1-.6-2.4.6-.1.7-.1.6-.2.3-.1.1-.1 0-1.4-1.2-.7-.4-.7-.2-.6-.3-1.4-.8-12.3-7.4z"/><path fill="#0000af" d="M223.6 367.3l.2-.9 2.3-.5-.1.8z"/><path fill="#0000cf" d="M223.8 366.4l.1-1 2.4-.4-.2.9z"/><path fill="#0000df" d="M223.9 365.4l.1-1.2 2.4-.1-.1.9z"/><path fill="#0000ef" d="M224 364.2l.2-1.2 2.3.1-.1 1z"/><path fill="#0010ff" d="M224.2 363l.1-1.1 2.4.3-.2.9z"/><path fill="#0020ff" d="M224.3 361.9l.2-.9 2.3.4-.1.8z"/><path fill="#0030ff" d="M224.5 361l.1-.7 2.3.5-.1.6z"/><path fill="#0040ff" d="M226.9 360.8l.2-.4.1 0 .2.2.1.5-2.4-.5-.1-.6-.1-.2-.2.1-.1.4z"/><path fill="#0030ff" d="M227.5 361.1l.1.8-2.3-.4-.2-.9z"/><path fill="#0020ff" d="M227.6 361.9l.2.9-2.4-.2-.1-1.1z"/><path fill="#0010ff" d="M227.8 362.8l.1 1.1-2.4 0-.1-1.3z"/><path fill="#0000ef" d="M227.9 363.9l.1 1.1-2.3.2-.2-1.3z"/><path fill="#0000df" d="M228 365l.2 1.2-2.4.3-.1-1.3z"/><path fill="#0000cf" d="M228.2 366.2l.1 1-2.4.5-.1-1.2z"/><path fill="#0000af" d="M228.3 367.2l.1.9-2.3.7-.2-1.1z"/><path fill="#00008f" d="M228.4 368.1l.2.8.1.6.1.4.2.3.1.1.4.2.3.1.8.2.3.3.8.6.3.3.4.3.4.2.3.2.4.2.4.3 12.3 7.4-2.3 1-12.4-7.5-.4-.2-.3-.2-.4-.2-.3-.3-.4-.2-.7-.7-.8-.6-.3-.1-.8-.2-.3-.1-.2-.2-.1-.3-.1-.4-.2-.7-.1-.9zM205.9 358.7l12.3 7.4 1.4.8.6.3.7.2.7.4 1.4 1.2.1 0 .1-.1.2-.3.1-.6-2.3.8-.1.6-.2.4-.1.1-.1 0-.7-.6-.7-.7-.7-.3-.6-.1-.7-.3-.7-.4-.7-.5-12.3-7.4z"/><path fill="#0000af" d="M221.2 368.8l.1-.9 2.3-.6-.1.7z"/><path fill="#0000bf" d="M221.3 367.9l.2-1.1 2.3-.4-.2.9z"/><path fill="#0000cf" d="M221.5 366.8l.1-1.2 2.3-.2-.1 1z"/><path fill="#0000ef" d="M221.6 365.6l.2-1.4 2.2 0-.1 1.2z"/><path fill="#0000ff" d="M221.8 364.2l.1-1.4 2.3.2-.2 1.2z"/><path fill="#0020ff" d="M221.9 362.8l.1-1.3 2.3.4-.1 1.1z"/><path fill="#0030ff" d="M222 361.5l.2-1.1 2.3.6-.2.9z"/><path fill="#0050ff" d="M222.2 360.4l.1-.8.1-.6 2.3.9-.1.4-.1.7z"/><path fill="#0060ff" d="M224.7 359.9l.2-.1.1.2-2.3-.8-.1-.3-.2.1z"/><path fill="#0050ff" d="M225 360l.1.6.2.9-2.3-.6-.2-1-.1-.7z"/><path fill="#0030ff" d="M225.3 361.5l.1 1.1-2.3-.4-.1-1.3z"/><path fill="#0020ff" d="M225.4 362.6l.1 1.3-2.3-.3-.1-1.4z"/><path fill="#0000ff" d="M225.5 363.9l.2 1.3-2.3 0-.2-1.6z"/><path fill="#0000ef" d="M225.7 365.2l.1 1.3-2.3.2-.1-1.5z"/><path fill="#0000cf" d="M225.8 366.5l.1 1.2-2.2.4-.2-1.4z"/><path fill="#0000bf" d="M225.9 367.7l.2 1.1-2.3.6-.1-1.3z"/><path fill="#0000af" d="M226.1 368.8l.1.9-2.3.7-.1-1z"/><path fill="#00008f" d="M226.2 369.7l.2.7.1.4.1.3.2.2.3.1.8.2.3.1.8.6.7.7.4.2.3.3.4.2.3.2.4.2 12.4 7.5-2.3.9-12.4-7.4-.4-.3-.3-.2-.4-.2-.3-.2-.8-.6-.3-.4-.4-.4-.4-.2-.3-.1-.4-.1-.4 0-.3-.2-.2-.2-.1-.3-.1-.5-.2-.8zM203.6 359.6l12.3 7.4.7.5.7.4.7.3.6.1.7.3.7.7.7.6.1 0 .1-.1.2-.4.1-.6-2.2.6-.3 1.2-.1.2-.2 0-.7-.6-.6-.7-.7-.4-.7 0-.7-.3-.6-.4-.7-.4-12.4-7.5z"/><path fill="#0000af" d="M219 369.4l.1-1 2.2-.5-.1.9z"/><path fill="#0000bf" d="M219.1 368.4l.1-1.3 2.3-.3-.2 1.1z"/><path fill="#0000df" d="M219.2 367.1l.2-1.4 2.2-.1-.1 1.2z"/><path fill="#0000ff" d="M219.4 365.7l.1-1.6 2.3.1-.2 1.4z"/><path fill="#0020ff" d="M219.5 364.1l.1-1.7 2.3.4-.1 1.4z"/><path fill="#0040ff" d="M219.6 362.4l.2-1.5 2.2.6-.1 1.3z"/><path fill="#0050ff" d="M219.8 360.9l.1-1.3 2.3.8-.2 1.1z"/><path fill="#0070ff" d="M219.9 359.6l.2-1 2.2 1-.1.8z"/><path fill="#0080ff" d="M222.3 359.6l.1-.6.2-.1.1.3.1.7-2.2-1-.1-.8-.2-.3-.1.2-.1.6z"/><path fill="#0070ff" d="M222.8 359.9l.2 1-2.3-.8-.1-1.2z"/><path fill="#0050ff" d="M223 360.9l.1 1.3-2.2-.6-.2-1.5z"/><path fill="#0040ff" d="M223.1 362.2l.1 1.4-2.2-.4-.1-1.6z"/><path fill="#0020ff" d="M223.2 363.6l.2 1.6-2.3-.2-.1-1.8z"/><path fill="#0000ff" d="M223.4 365.2l.1 1.5-2.2.1-.2-1.8z"/><path fill="#0000df" d="M223.5 366.7l.2 1.4-2.3.4-.1-1.7z"/><path fill="#0000bf" d="M223.7 368.1l.1 1.3-2.3.5-.1-1.4z"/><path fill="#0000af" d="M223.8 369.4l.1 1-2.2.7-.2-1.2z"/><path fill="#00008f" d="M223.9 370.4l.2.8.1.5.1.3.2.2.3.2.4 0 .4.1.3.1.4.2.4.4.3.4.8.6.3.2.4.2.3.2.4.3 12.4 7.4-2.3.9-12.3-7.4-.4-.2-.4-.3-.3-.2-.4-.2-.4-.3-.3-.3-.4-.5-.4-.3-.3-.3-.4-.1-.7 0-.4-.2-.1-.1-.1-.4-.2-.6-.1-.9zM201.3 360.5l12.4 7.5.7.4.6.4.7.3.7 0 .7.4.6.7.7.6.2 0 .1-.2.3-1.2-2.2.6-.2.9-.1.6-.1.2-.2 0-.6-.6-.7-.8-.7-.4-.7 0-.7-.2-.6-.4-.7-.4-12.4-7.5z"/><path fill="#0000af" d="M216.8 370l.1-1.1 2.2-.5-.1 1z"/><path fill="#0000cf" d="M216.9 368.9l.2-1.5 2.1-.3-.1 1.3z"/><path fill="#0000ef" d="M217.1 367.4l.1-1.8 2.2.1-.2 1.4z"/><path fill="#0010ff" d="M217.2 365.6l.1-1.9 2.2.4-.1 1.6z"/><path fill="#0030ff" d="M217.3 363.7l.2-1.9 2.1.6-.1 1.7z"/><path fill="#0050ff" d="M217.5 361.8l.1-1.8 2.2.9-.2 1.5z"/><path fill="#0070ff" d="M217.6 360l.1-1.5 2.2 1.1-.1 1.3z"/><path fill="#008fff" d="M217.7 358.5l.2-1.2 2.2 1.3-.2 1z"/><path fill="#009fff" d="M217.9 357.3l.1-.7 2.2 1.4-.1.6z"/><path fill="#00afff" d="M218 356.6l.1-.2.2.3 2.2 1.4-.2-.3-.1.2z"/><path fill="#009fff" d="M220.5 358.1l.1.8-2.2-1.3-.1-.9z"/><path fill="#008fff" d="M220.6 358.9l.1 1.2-2.2-1.1-.1-1.4z"/><path fill="#0070ff" d="M220.7 360.1l.2 1.5-2.2-.9-.2-1.7z"/><path fill="#0050ff" d="M220.9 361.6l.1 1.6-2.2-.6-.1-1.9z"/><path fill="#0030ff" d="M221 363.2l.1 1.8-2.1-.3-.2-2.1z"/><path fill="#0010ff" d="M221.1 365l.2 1.8-2.2 0-.1-2.1z"/><path fill="#0000ef" d="M221.3 366.8l.1 1.7-2.2.2-.1-1.9z"/><path fill="#0000cf" d="M221.4 368.5l.1 1.4-2.1.4-.2-1.6z"/><path fill="#0000af" d="M221.5 369.9l.2 1.2-2.2.6-.1-1.4z"/><path fill="#00008f" d="M221.7 371.1l.1.9.2.6.1.4.1.1.4.2.7 0 .4.1.3.3.4.3.4.5.3.3.4.3.4.2.3.2.4.3.4.2 12.3 7.4-2.2.9-12.3-7.4-.4-.2-.3-.3-.8-.4-1.1-1.1-.3-.4-.4-.3-1.1 0-.4-.2-.1-.2-.1-.4-.2-.7-.1-1zM199.1 361.4l12.4 7.5.7.4.6.4.7.2.7 0 .7.4.7.8.6.6.2 0 .1-.2.1-.6-2.1.7-.1.7-.1.3-.2 0-.7-.7-.6-.8-.7-.4-.7.1-.7-.3-.6-.4-.7-.4-12.4-7.4z"/><path fill="#00009f" d="M214.5 371.6l.2-1 2.1-.6-.2.9z"/><path fill="#0000bf" d="M214.7 370.6l.1-1.4 2.1-.3-.1 1.1z"/><path fill="#0000df" d="M214.8 369.2l.1-1.7 2.2-.1-.2 1.5z"/><path fill="#0000ff" d="M214.9 367.5l.2-2.1 2.1.2-.1 1.8z"/><path fill="#0020ff" d="M215.1 365.4l.1-2.2 2.1.5-.1 1.9z"/><path fill="#0050ff" d="M215.2 363.2l.1-2.2 2.2.8-.2 1.9z"/><path fill="#0070ff" d="M215.3 361l.2-2.1 2.1 1.1-.1 1.8z"/><path fill="#009fff" d="M215.5 358.9l.1-1.8 2.1 1.4-.1 1.5z"/><path fill="#00bfff" d="M215.6 357.1l.2-1.4 2.1 1.6-.2 1.2z"/><path fill="#00cfff" d="M215.8 355.7l.1-.8 2.1 1.7-.1.7z"/><path fill="#00dfff" d="M215.9 354.9l.1-.3.2.4 2.1 1.7-.2-.3-.1.2z"/><path fill="#00cfff" d="M218.3 356.7l.1.9-2.1-1.5-.1-1.1z"/><path fill="#00bfff" d="M218.4 357.6l.1 1.4-2.1-1.4-.1-1.5z"/><path fill="#009fff" d="M218.5 359l.2 1.7-2.1-1.1-.2-2z"/><path fill="#0070ff" d="M218.7 360.7l.1 1.9-2.1-.8-.1-2.2z"/><path fill="#0050ff" d="M218.8 362.6l.2 2.1-2.2-.5-.1-2.4z"/><path fill="#0020ff" d="M219 364.7l.1 2.1-2.1-.2-.2-2.4z"/><path fill="#0000ff" d="M219.1 366.8l.1 1.9-2.1.1-.1-2.2z"/><path fill="#0000df" d="M219.2 368.7l.2 1.6-2.2.4-.1-1.9z"/><path fill="#0000bf" d="M219.4 370.3l.1 1.4-2.1.5-.2-1.5z"/><path fill="#00009f" d="M219.5 371.7l.1 1-2.1.7-.1-1.2z"/><path fill="#00008f" d="M219.6 372.7l.2.7.1.4.1.2.4.2 1.1 0 .4.3.3.4 1.1 1.1.8.4.3.3.4.2 12.3 7.4-2.1.9-12.3-7.5-.8-.4-.3-.2-.4-.2-.4-.3-.3-.5-.4-.4-.3-.4-.4-.3-1.1 0-.4-.1-.1-.2-.1-.5-.2-.8zM197 362.3l12.4 7.4.7.4.6.4.7.3.7-.1.7.4.6.8.7.7.2 0 .1-.3.1-.7-2 .7-.2.7-.1.4-.1 0-.7-.7-.7-.9-.7-.3-.6.1-.7-.2-1.4-.8-12.3-7.5z"/><path fill="#0000af" d="M212.5 372.3l.1-1.2 2.1-.5-.2 1z"/><path fill="#0000bf" d="M212.6 371.1l.2-1.6 2-.3-.1 1.4z"/><path fill="#0000ef" d="M212.8 369.5l.1-2.1 2 .1-.1 1.7z"/><path fill="#0010ff" d="M212.9 367.4l.1-2.3 2.1.3-.2 2.1z"/><path fill="#0040ff" d="M213 365.1l.2-2.6 2 .7-.1 2.2z"/><path fill="#0070ff" d="M213.2 362.5l.1-2.5 2 1-.1 2.2z"/><path fill="#009fff" d="M213.3 360l.1-2.5 2.1 1.4-.2 2.1z"/><path fill="#00bfff" d="M213.4 357.5l.2-2 2 1.6-.1 1.8z"/><path fill="#00efff" d="M213.6 355.5l.1-1.7 2.1 1.9-.2 1.4z"/><path fill="#00ffff" d="M213.7 353.8l.1-.9 2.1 2-.1.8z"/><path fill="#10ffef" d="M213.8 352.9l.2-.3.1.4 2.1 2-.2-.4-.1.3z"/><path fill="#00ffff" d="M216.2 355l.1 1.1-2.1-1.9-.1-1.2z"/><path fill="#00efff" d="M216.3 356.1l.1 1.5-2-1.7-.2-1.7z"/><path fill="#00bfff" d="M216.4 357.6l.2 2-2.1-1.4-.1-2.3z"/><path fill="#009fff" d="M216.6 359.6l.1 2.2-2-1-.2-2.6z"/><path fill="#0070ff" d="M216.7 361.8l.1 2.4-2-.7-.1-2.7z"/><path fill="#0040ff" d="M216.8 364.2l.2 2.4-2.1-.4-.1-2.7z"/><path fill="#0010ff" d="M217 366.6l.1 2.2-2-.1-.2-2.5z"/><path fill="#0000ef" d="M217.1 368.8l.1 1.9-2 .2-.1-2.2z"/><path fill="#0000bf" d="M217.2 370.7l.2 1.5-2.1.5-.1-1.8z"/><path fill="#0000af" d="M217.4 372.2l.1 1.2-2 .7-.2-1.4z"/><path fill="#00008f" d="M217.5 373.4l.2.8.1.5.1.2.4.1 1.1 0 .4.3.3.4.4.4.3.5.4.3.4.2.3.2.8.4 12.3 7.5-2 .8-12.4-7.4-.3-.2-.4-.3-.4-.2-.3-.2-.4-.3-.4-.5-.3-.5-.4-.4-.4-.3-.3 0-.4.1-.4 0-.3-.1-.2-.2-.1-.5-.1-.9zM195 363.1l12.3 7.5 1.4.8.7.2.6-.1.7.3.7.9.7.7.1 0 .1-.4.2-.7-2 .6-.1.8-.2.5-.1 0-.7-.7-.7-1-.6-.3-.7.2-.7-.2-.7-.4-.6-.4-12.4-7.5z"/><path fill="#0000af" d="M210.5 372.9l.1-1.4 2-.4-.1 1.2z"/><path fill="#0000cf" d="M210.6 371.5l.2-1.9 2-.1-.2 1.6z"/><path fill="#0000ff" d="M210.8 369.6l.1-2.3 2 .1-.1 2.1z"/><path fill="#0020ff" d="M210.9 367.3l.2-2.7 1.9.5-.1 2.3z"/><path fill="#0060ff" d="M211.1 364.6l.1-2.9 2 .8-.2 2.6z"/><path fill="#008fff" d="M211.2 361.7l.1-3 2 1.3-.1 2.5z"/><path fill="#00bfff" d="M211.3 358.7l.2-2.8 1.9 1.6-.1 2.5z"/><path fill="#00efff" d="M211.5 355.9l.1-2.4 2 2-.2 2z"/><path fill="#20ffdf" d="M211.6 353.5l.1-1.9 2 2.2-.1 1.7z"/><path fill="#40ffbf" d="M211.7 351.6l.2-1.1 1.9 2.4-.1.9z"/><path fill="#50ffaf" d="M211.9 350.5l.1-.4.1.5 2 2.4-.1-.4-.2.3z"/><path fill="#40ffbf" d="M214.1 353l.1 1.2-1.9-2.2-.2-1.4z"/><path fill="#20ffdf" d="M214.2 354.2l.2 1.7-2-1.9-.1-2z"/><path fill="#00efff" d="M214.4 355.9l.1 2.3-2-1.6-.1-2.6z"/><path fill="#00bfff" d="M214.5 358.2l.2 2.6-2-1.3-.2-2.9z"/><path fill="#008fff" d="M214.7 360.8l.1 2.7-2-.9-.1-3.1z"/><path fill="#0060ff" d="M214.8 363.5l.1 2.7-1.9-.5-.2-3.1z"/><path fill="#0020ff" d="M214.9 366.2l.2 2.5-2-.1-.1-2.9z"/><path fill="#0000ff" d="M215.1 368.7l.1 2.2-2 .2-.1-2.5z"/><path fill="#0000cf" d="M215.2 370.9l.1 1.8-1.9.4-.2-2z"/><path fill="#0000af" d="M215.3 372.7l.2 1.4-2 .6-.1-1.6z"/><path fill="#00008f" d="M215.5 374.1l.1.9.1.5.2.2.3.1.4 0 .4-.1.3 0 .4.3.4.4.3.5.4.5.4.3.3.2.4.2.4.3.3.2 12.4 7.4-2 .8-12.3-7.4-.8-.4-.3-.3-.4-.2-.4-.3-.3-.5-.4-.6-.7-.7-.4 0-.4.1-.3.1-.4-.1-.1-.2-.2-.6-.1-1zM193 363.9l12.4 7.5.6.4.7.4.7.2.7-.2.6.3.7 1 .7.7.1 0 .2-.5.1-.8-1.9.5-.1 1-.1.5-.2.1-.7-.8-.6-1.1-.7-.3-.7.3-.7-.1-.7-.4-.6-.4-12.4-7.5z"/><path fill="#0000bf" d="M208.6 373.4l.2-1.6 1.8-.3-.1 1.4z"/><path fill="#0000df" d="M208.8 371.8l.1-2.1 1.9-.1-.2 1.9z"/><path fill="#0010ff" d="M208.9 369.7l.1-2.7 1.9.3-.1 2.3z"/><path fill="#0040ff" d="M209 367l.2-3.1 1.9.7-.2 2.7z"/><path fill="#0080ff" d="M209.2 363.9l.1-3.3 1.9 1.1-.1 2.9z"/><path fill="#00afff" d="M209.3 360.6l.1-3.4 1.9 1.5-.1 3z"/><path fill="#00efff" d="M209.4 357.2l.2-3.2 1.9 1.9-.2 2.8z"/><path fill="#30ffcf" d="M209.6 354l.1-2.8 1.9 2.3-.1 2.4z"/><path fill="#60ff9f" d="M209.7 351.2l.1-2.1 1.9 2.5-.1 1.9z"/><path fill="#80ff80" d="M209.8 349.1l.2-1.3 1.9 2.7-.2 1.1z"/><path fill="#8fff70" d="M210 347.8l.1-.4.2.5 1.8 2.7-.1-.5-.1.4z"/><path fill="#80ff80" d="M212.1 350.6l.2 1.4-1.9-2.6-.1-1.5z"/><path fill="#60ff9f" d="M212.3 352l.1 2-1.9-2.3-.1-2.3z"/><path fill="#30ffcf" d="M212.4 354l.1 2.6-1.8-1.9-.2-3z"/><path fill="#00efff" d="M212.5 356.6l.2 2.9-1.9-1.5-.1-3.3z"/><path fill="#00afff" d="M212.7 359.5l.1 3.1-1.9-1-.1-3.6z"/><path fill="#0080ff" d="M212.8 362.6l.2 3.1-1.9-.6-.2-3.5z"/><path fill="#0040ff" d="M213 365.7l.1 2.9-1.9-.3-.1-3.2z"/><path fill="#0010ff" d="M213.1 368.6l.1 2.5-1.9.1-.1-2.9z"/><path fill="#0000df" d="M213.2 371.1l.2 2-1.9.4-.2-2.3z"/><path fill="#0000bf" d="M213.4 373.1l.1 1.6-1.9.5-.1-1.7z"/><path fill="#00008f" d="M213.5 374.7l.1 1 .2.6.1.2.4.1.3-.1.4-.1.4 0 .7.7.4.6.3.5.4.3.4.2.3.3.8.4 12.3 7.4-1.9.8-12.3-7.4-.4-.3-.4-.2-.3-.2-.4-.2-.4-.3-.3-.6-.4-.6-.4-.5-.3-.2-.4 0-.4.2-.3.1-.4-.1-.1-.2-.2-.7-.1-1.2zM191.1 364.7l12.4 7.5.6.4.7.4.7.1.7-.3.7.3.6 1.1.7.8.2-.1.1-.5.1-1-1.8.5-.1 1.2-.1.5-.2.2-.7-.9-.6-1.2-.7-.3-.7.4-.7-.1-.7-.4-.6-.4-12.4-7.5z"/><path fill="#0000bf" d="M206.8 373.9l.2-1.8 1.8-.3-.2 1.6z"/><path fill="#0000df" d="M207 372.1l.1-2.4 1.8 0-.1 2.1z"/><path fill="#0020ff" d="M207.1 369.7l.1-3.1 1.8.4-.1 2.7z"/><path fill="#0050ff" d="M207.2 366.6l.2-3.5 1.8.8-.2 3.1z"/><path fill="#009fff" d="M207.4 363.1l.1-3.8 1.8 1.3-.1 3.3z"/><path fill="#00dfff" d="M207.5 359.3l.1-3.8 1.8 1.7-.1 3.4z"/><path fill="#20ffdf" d="M207.6 355.5l.2-3.7 1.8 2.2-.2 3.2z"/><path fill="#60ff9f" d="M207.8 351.8l.1-3.1 1.8 2.5-.1 2.8z"/><path fill="#9fff60" d="M207.9 348.7l.1-2.4 1.8 2.8-.1 2.1z"/><path fill="#bfff40" d="M208 346.3l.2-1.5 1.8 3-.2 1.3z"/><path fill="#cfff30" d="M208.2 344.8l.1-.5.2.6 1.8 3-.2-.5-.1.4z"/><path fill="#bfff40" d="M210.3 347.9l.1 1.5-1.8-2.8-.1-1.7z"/><path fill="#9fff60" d="M210.4 349.4l.1 2.3-1.8-2.5-.1-2.6z"/><path fill="#60ff9f" d="M210.5 351.7l.2 3-1.8-2.2-.2-3.3z"/><path fill="#20ffdf" d="M210.7 354.7l.1 3.3-1.8-1.7-.1-3.8z"/><path fill="#00dfff" d="M210.8 358l.1 3.6-1.8-1.3-.1-4z"/><path fill="#009fff" d="M210.9 361.6l.2 3.5-1.8-.8-.2-4z"/><path fill="#0050ff" d="M211.1 365.1l.1 3.2-1.8-.4-.1-3.6z"/><path fill="#0020ff" d="M211.2 368.3l.1 2.9-1.8-.1-.1-3.2z"/><path fill="#0000df" d="M211.3 371.2l.2 2.3-1.8.3-.2-2.7z"/><path fill="#0000bf" d="M211.5 373.5l.1 1.7-1.8.5-.1-1.9z"/><path fill="#00008f" d="M211.6 375.2l.1 1.2.2.7.1.2.4.1.3-.1.4-.2.4 0 .3.2.4.5.4.6.3.6.4.3.4.2.3.2.4.2.4.3 12.3 7.4-1.8.7-12.3-7.4-.8-.4-.3-.3-.4-.2-.4-.3-.3-.6-.4-.7-.4-.5-.3-.3-.4.1-.4.2-.3.2-.4-.1-.1-.2-.2-.8-.1-1.3zM189.3 365.4l12.4 7.5.6.4.7.4.7.1.7-.4.7.3.6 1.2.7.9.2-.2.1-.5.1-1.2-1.7.5-.1 1.3-.1.6-.2.1-.7-.9-.6-1.2-.7-.3-.7.5-.7-.1-.6-.4-.7-.4-12.4-7.5z"/><path fill="#0000bf" d="M205.1 374.4l.2-2.1 1.7-.2-.2 1.8z"/><path fill="#0000ef" d="M205.3 372.3l.1-2.7 1.7.1-.1 2.4z"/><path fill="#0030ff" d="M205.4 369.6l.1-3.5 1.7.5-.1 3.1z"/><path fill="#0070ff" d="M205.5 366.1l.2-3.9 1.7.9-.2 3.5z"/><path fill="#00bfff" d="M205.7 362.2l.1-4.3 1.7 1.4-.1 3.8z"/><path fill="#10ffef" d="M205.8 357.9l.1-4.4 1.7 2-.1 3.8z"/><path fill="#60ff9f" d="M205.9 353.5l.2-4.1 1.7 2.4-.2 3.7z"/><path fill="#9fff60" d="M206.1 349.4l.1-3.5 1.7 2.8-.1 3.1z"/><path fill="#dfff20" d="M206.2 345.9l.2-2.7 1.6 3.1-.1 2.4z"/><path fill="#ffff00" d="M206.4 343.2l.1-1.7 1.7 3.3-.2 1.5z"/><path fill="#ffdf00" d="M206.5 341.5l.1-.6.2.7 1.7 3.3-.2-.6-.1.5z"/><path fill="#ffff00" d="M208.5 344.9l.1 1.7-1.7-3.1-.1-1.9z"/><path fill="#dfff20" d="M208.6 346.6l.1 2.6-1.7-2.8-.1-2.9z"/><path fill="#9fff60" d="M208.7 349.2l.2 3.3-1.7-2.4-.2-3.7z"/><path fill="#60ff9f" d="M208.9 352.5l.1 3.8-1.7-1.9-.1-4.3z"/><path fill="#10ffef" d="M209 356.3l.1 4-1.7-1.4-.1-4.5z"/><path fill="#00bfff" d="M209.1 360.3l.2 4-1.7-1-.2-4.4z"/><path fill="#0070ff" d="M209.3 364.3l.1 3.6-1.7-.5-.1-4.1z"/><path fill="#0030ff" d="M209.4 367.9l.1 3.2-1.7-.1-.1-3.6z"/><path fill="#0000ef" d="M209.5 371.1l.2 2.7-1.7.2-.2-3z"/><path fill="#0000bf" d="M209.7 373.8l.1 1.9-1.7.4-.1-2.1z"/><path fill="#00008f" d="M209.8 375.7l.1 1.3.2.8.1.2.4.1.3-.2.4-.2.4-.1.3.3.4.5.4.7.3.6.4.3.4.2.3.3.8.4 12.3 7.4-1.7.7-12.3-7.4-.8-.4-.3-.3-.4-.2-.4-.3-.3-.7-.4-.7-.3-.6-.4-.2-.4.1-.3.3-.4.2-.4-.1-.1-.3-.1-.8-.2-1.5zM187.6 366.1l12.4 7.5.7.4.6.4.7.1.7-.5.7.3.6 1.2.7.9.2-.1.1-.6-1.6.5-.1.7-.1.2-.7-1-.7-1.4-.7-.2-.7.6-.6-.1-1.4-.8-12.3-7.4z"/><path fill="#0000af" d="M203.4 376.2l.2-1.5 1.5-.3-.1 1.3z"/><path fill="#0000cf" d="M203.6 374.7l.1-2.2 1.6-.2-.2 2.1z"/><path fill="#0000ff" d="M203.7 372.5l.1-3.1 1.6.2-.1 2.7z"/><path fill="#0040ff" d="M203.8 369.4l.2-3.9 1.5.6-.1 3.5z"/><path fill="#008fff" d="M204 365.5l.1-4.4 1.6 1.1-.2 3.9z"/><path fill="#00dfff" d="M204.1 361.1l.1-4.8 1.6 1.6-.1 4.3z"/><path fill="#40ffbf" d="M204.2 356.3l.2-4.8 1.5 2-.1 4.4z"/><path fill="#8fff70" d="M204.4 351.5l.1-4.6 1.6 2.5-.2 4.1z"/><path fill="#dfff20" d="M204.5 346.9l.2-4 1.5 3-.1 3.5z"/><path fill="#ffdf00" d="M204.7 342.9l.1-3 1.6 3.3-.2 2.7z"/><path fill="#ffaf00" d="M204.8 339.9l.1-1.9 1.6 3.5-.1 1.7z"/><path fill="#ff8f00" d="M204.9 338l.2-.6.1.7 1.6 3.5-.2-.7-.1.6z"/><path fill="#ffaf00" d="M206.8 341.6l.1 1.9-1.6-3.3-.1-2.1z"/><path fill="#ffdf00" d="M206.9 343.5l.1 2.9-1.5-3-.2-3.2z"/><path fill="#dfff20" d="M207 346.4l.2 3.7-1.6-2.6-.1-4.1z"/><path fill="#8fff70" d="M207.2 350.1l.1 4.3-1.6-2.1-.1-4.8z"/><path fill="#40ffbf" d="M207.3 354.4l.1 4.5-1.5-1.6-.2-5z"/><path fill="#00dfff" d="M207.4 358.9l.2 4.4-1.6-1.1-.1-4.9z"/><path fill="#008fff" d="M207.6 363.3l.1 4.1-1.6-.6-.1-4.6z"/><path fill="#0040ff" d="M207.7 367.4l.1 3.6-1.5-.2-.2-4z"/><path fill="#0000ff" d="M207.8 371l.2 3-1.6.1-.1-3.3z"/><path fill="#0000cf" d="M208 374l.1 2.1-1.5.4-.2-2.4z"/><path fill="#0000af" d="M208.1 376.1l.2 1.5-1.6.6-.1-1.7z"/><path fill="#00008f" d="M208.3 377.6l.1.8.1.3.4.1.4-.2.3-.3.4-.1.4.2.3.6.4.7.3.7.4.3.4.2.3.3.8.4 12.3 7.4-1.5.7-12.4-7.5-.4-.2-.3-.2-.8-.4-.3-.4-.4-.7-.3-.8-.4-.6-.4-.2-.3.1-.8.6-.3 0-.2-.3-.1-.9zM186.1 366.8l12.3 7.4 1.4.8.6.1.7-.6.7.2.7 1.4.7 1 .1-.2.1-.7-1.4.5-.1.8-.2.2-.6-1.1-.7-1.4-.7-.3-.7.7-.7 0-.6-.4-.7-.4-12.4-7.4z"/><path fill="#0000af" d="M202 376.7l.1-1.7 1.5-.3-.2 1.5z"/><path fill="#0000cf" d="M202.1 375l.2-2.5 1.4 0-.1 2.2z"/><path fill="#0010ff" d="M202.3 372.5l.1-3.4 1.4.3-.1 3.1z"/><path fill="#0050ff" d="M202.4 369.1l.2-4.2 1.4.6-.2 3.9z"/><path fill="#00afff" d="M202.6 364.9l.1-4.9 1.4 1.1-.1 4.4z"/><path fill="#00ffff" d="M202.7 360l.1-5.3 1.4 1.6-.1 4.8z"/><path fill="#70ff8f" d="M202.8 354.7l.2-5.4 1.4 2.2-.2 4.8z"/><path fill="#cfff30" d="M203 349.3l.1-5 1.4 2.6-.1 4.6z"/><path fill="#ffdf00" d="M203.1 344.3l.1-4.4 1.5 3-.2 4z"/><path fill="#ff8f00" d="M203.2 339.9l.2-3.4 1.4 3.4-.1 3z"/><path fill="#ff6000" d="M203.4 336.5l.1-2.1 1.4 3.6-.1 1.9z"/><path fill="#ff4000" d="M203.5 334.4l.1-.7.2.8 1.4 3.6-.1-.7-.2.6z"/><path fill="#ff6000" d="M205.2 338.1l.1 2.1-1.4-3.4-.1-2.3z"/><path fill="#ff8f00" d="M205.3 340.2l.2 3.2-1.5-3-.1-3.6z"/><path fill="#ffdf00" d="M205.5 343.4l.1 4.1-1.4-2.6-.2-4.5z"/><path fill="#cfff30" d="M205.6 347.5l.1 4.8-1.4-2.2-.1-5.2z"/><path fill="#70ff8f" d="M205.7 352.3l.2 5-1.4-1.6-.2-5.6z"/><path fill="#00ffff" d="M205.9 357.3l.1 4.9-1.4-1.1-.1-5.4z"/><path fill="#00afff" d="M206 362.2l.1 4.6-1.4-.6-.1-5.1z"/><path fill="#0050ff" d="M206.1 366.8l.2 4-1.4-.2-.2-4.4z"/><path fill="#0010ff" d="M206.3 370.8l.1 3.3-1.4.1-.1-3.6z"/><path fill="#0000cf" d="M206.4 374.1l.2 2.4-1.5.3-.1-2.6z"/><path fill="#0000af" d="M206.6 376.5l.1 1.7-1.4.4-.2-1.8z"/><path fill="#00008f" d="M206.7 378.2l.1.9.2.3.3 0 .8-.6.3-.1-1.4.4-.4.1-.3.4-.4.4-.4 0-.1-.4-.1-1z"/><path fill="#00009f" d="M208.4 378.7l.4.2-1.4.4-.4-.2z"/><path fill="#00008f" d="M208.8 378.9l.4.6.3.8.4.7.3.4.8.4.3.2.4.2 12.4 7.5-1.5.6-12.3-7.5-.4-.2-.3-.2-.4-.2-.4-.3-.3-.3-.8-1.6-.3-.7zM184.6 367.4l12.4 7.4.7.4.6.4.7 0 .7-.7-1.2.4-.7.8-.7 0-.6-.4-.7-.4-12.4-7.4z"/><path fill="#0000af" d="M199.7 374.9l.7.3-1.2.3-.7-.2z"/><path fill="#00008f" d="M200.4 375.2l.7 1.4.6 1.1.2-.2.1-.8-1.2.4-.1.9-.2.2-.6-1.2-.7-1.5z"/><path fill="#0000af" d="M200.8 377.1l.1-1.8 1.2-.3-.1 1.7z"/><path fill="#0000df" d="M200.9 375.3l.2-2.8 1.2 0-.2 2.5z"/><path fill="#0020ff" d="M201.1 372.5l.1-3.7 1.2.3-.1 3.4z"/><path fill="#0060ff" d="M201.2 368.8l.1-4.6 1.3.7-.2 4.2z"/><path fill="#00bfff" d="M201.3 364.2l.2-5.3 1.2 1.1-.1 4.9z"/><path fill="#30ffcf" d="M201.5 358.9l.1-5.8 1.2 1.6-.1 5.3z"/><path fill="#9fff60" d="M201.6 353.1l.2-5.8 1.2 2-.2 5.4z"/><path fill="#ffff00" d="M201.8 347.3l.1-5.5 1.2 2.5-.1 5z"/><path fill="#ff9f00" d="M201.9 341.8l.1-4.8 1.2 2.9-.1 4.4z"/><path fill="#ff5000" d="M202 337l.2-3.7 1.2 3.2-.2 3.4z"/><path fill="#ff1000" d="M202.2 333.3l.1-2.3 1.2 3.4-.1 2.1z"/><path fill="#ef0000" d="M202.3 331l.1-.8.2.9 1.2 3.4-.2-.8-.1.7z"/><path fill="#ff1000" d="M203.8 334.5l.1 2.3-1.2-3.2-.1-2.5z"/><path fill="#ff5000" d="M203.9 336.8l.1 3.6-1.2-2.9-.1-3.9z"/><path fill="#ff9f00" d="M204 340.4l.2 4.5-1.2-2.5-.2-4.9z"/><path fill="#ffff00" d="M204.2 344.9l.1 5.2-1.2-2-.1-5.7z"/><path fill="#9fff60" d="M204.3 350.1l.2 5.6-1.3-1.6-.1-6z"/><path fill="#30ffcf" d="M204.5 355.7l.1 5.4-1.2-1.1-.2-5.9z"/><path fill="#00bfff" d="M204.6 361.1l.1 5.1-1.2-.7-.1-5.5z"/><path fill="#0060ff" d="M204.7 366.2l.2 4.4-1.2-.3-.2-4.8z"/><path fill="#0020ff" d="M204.9 370.6l.1 3.6-1.2 0-.1-3.9z"/><path fill="#0000df" d="M205 374.2l.1 2.6-1.2.3-.1-2.9z"/><path fill="#0000af" d="M205.1 376.8l.2 1.8-1.2.4-.2-1.9z"/><path fill="#00008f" d="M205.3 378.6l.1 1 .1.4.4 0 .4-.4.3-.4-1.2.4-.3.5-.4.3-.4.1-.1-.4-.1-1.1z"/><path fill="#00009f" d="M205.4 379.6l.4-.2.8-.2z"/><path fill="#0000af" d="M207 379.1l.4.2-1.2.4-.4-.3z"/><path fill="#00008f" d="M207.4 379.3l.3.7.8 1.6.3.3.4.3.4.2.3.2.4.2 12.3 7.5-1.2.5-12.3-7.5-.8-.4-.3-.2-.4-.3-.3-.4-.4-.7-.4-.9-.3-.7zM183.4 367.9l12.4 7.4.7.4.6.4.7 0 .7-.8-.8.2-.7.9-.7.1-.7-.4-.6-.5-12.4-7.4z"/><path fill="#0000af" d="M198.5 375.3l.7.2-.9.2-.6-.2z"/><path fill="#00008f" d="M199.2 375.5l.7 1.5.6 1.2.2-.2.1-.9-.8.2-.2 1-.1.2-.7-1.2-.7-1.6z"/><path fill="#0000af" d="M200 377.3l.1-1.9.8-.1-.1 1.8z"/><path fill="#0000df" d="M200.1 375.4l.1-2.9.9 0-.2 2.8z"/><path fill="#0020ff" d="M200.2 372.5l.2-3.9.8.2-.1 3.7z"/><path fill="#0070ff" d="M200.4 368.6l.1-4.9.8.5-.1 4.6z"/><path fill="#00dfff" d="M200.5 363.7l.1-5.7.9.9-.2 5.3z"/><path fill="#50ffaf" d="M200.6 358l.2-6.1.8 1.2-.1 5.8z"/><path fill="#bfff40" d="M200.8 351.9l.1-6.2.9 1.6-.2 5.8z"/><path fill="#ffcf00" d="M200.9 345.7l.2-5.8.8 1.9-.1 5.5z"/><path fill="#ff6000" d="M201.1 339.9l.1-5.1.8 2.2-.1 4.8z"/><path fill="#ff1000" d="M201.2 334.8l.1-3.9.9 2.4-.2 3.7z"/><path fill="#cf0000" d="M201.3 330.9l.2-2.4.8 2.5-.1 2.3z"/><path fill="#af0000" d="M201.5 328.5l.1-.8.1.9.9 2.5-.2-.9-.1.8z"/><path fill="#cf0000" d="M202.6 331.1l.1 2.5-.8-2.4-.2-2.6z"/><path fill="#ff1000" d="M202.7 333.6l.1 3.9-.8-2.2-.1-4.1z"/><path fill="#ff6000" d="M202.8 337.5l.2 4.9-.9-1.9-.1-5.2z"/><path fill="#ffcf00" d="M203 342.4l.1 5.7-.8-1.5-.2-6.1z"/><path fill="#bfff40" d="M203.1 348.1l.1 6-.8-1.2-.1-6.3z"/><path fill="#50ffaf" d="M203.2 354.1l.2 5.9-.9-.8-.1-6.3z"/><path fill="#00dfff" d="M203.4 360l.1 5.5-.8-.5-.2-5.8z"/><path fill="#0070ff" d="M203.5 365.5l.2 4.8-.9-.3-.1-5z"/><path fill="#0020ff" d="M203.7 370.3l.1 3.9-.8 0-.2-4.2z"/><path fill="#0000df" d="M203.8 374.2l.1 2.9-.8.1-.1-3z"/><path fill="#0000af" d="M203.9 377.1l.2 1.9-.9.3-.1-2.1z"/><path fill="#00008f" d="M204.1 379l.1 1.1.1.4.4-.1.4-.3.3-.5-.8.3-.4.5-.3.4-.4 0-.1-.4-.2-1.1z"/><path fill="#0000af" d="M205.4 379.6l.4-.2.4.3.3.7-.8.2-.4-.7-.3-.3-.4.3z"/><path fill="#00008f" d="M206.5 380.4l.4.9.4.7.3.4.4.3.3.2.8.4 12.3 7.5-.8.3-12.4-7.4-.3-.3-.4-.2-.3-.2-.4-.2-.4-.4-.3-.8-.4-1z"/></g><path d="M316.2 342L362.3 323.1" stroke="#e8e8e8" stroke-width="1.0" fill="none"/><path d="M362.3 323.1L400.3 346" stroke="#e8e8e8" stroke-width="1.0" fill="none"/><path d="M316.2 315.3L362.3 296.4" stroke="#e8e8e8" stroke-width="1.0" fill="none"/><path d="M362.3 296.4L400.3 319.3" stroke="#e8e8e8" stroke-width="1.0" fill="none"/><path d="M362.3 349.7L362.3 296.4" stroke="#e8e8e8" stroke-width="1.0" fill="none"/><path d="M381.3 361.2L381.3 307.9" stroke="#e8e8e8" stroke-width="1.0" fill="none"/><path d="M400.3 372.6L400.3 319.3" stroke="#e8e8e8" stroke-width="1.0" fill="none"/><path d="M316.2 368.6L316.2 315.3" stroke="#7a7a7a" stroke-width="1.0" fill="none"/><path d="M316.2 368.6L354.2 391.5" stroke="#7a7a7a" stroke-width="1.0" fill="none"/><path d="M354.2 391.5L400.3 372.6" stroke="#7a7a7a" stroke-width="1.0" fill="none"/><g shape-rendering="crispEdges" filter="url(#bl)" transform="translate(.013 .017)"><path fill="#00008f" d="M321.6 366.4 359.6 389.3 400.3 372.6 362.3 349.7Z"/><path fill="#00008f" d="M321.6 366.3l1.9 1.1.7.4.7.5 2.1 1.2.8.5 2.1 1.2.7.5 2.1 1.2.8.4.7.5 1.4.8.7.5 2.1 1.2.8.5 2.1 1.2.7.5 1.4.8.7.5.8.4.7.4.7.5 1.4.8.7.5 1.4.8.8.5 1.4.8.7.5 1.4.8.7.5.7.4.8.5 1.4.8 1.9 1.2-.4.1-1.9-1.2-.7-.4-.7-.5-.7-.4-.8-.5-.7-.4-.7-.5-1.4-.8-.7-.5-.7-.4-.7-.5-.8-.4-.7-.4-.7-.5-.7-.4-.7-.5-1.4-.8-.7-.5-.8-.4-.7-.4-.7-.5-1.4-.8-.7-.5-1.4-.8-.8-.4-.7-.5-2.1-1.2-.7-.5-1.4-.8-.8-.4-1.4-.8-.7-.5-2.8-1.6-.8-.4-.7-.5-2.1-1.2-1.9-1.1zM321.2 366.4l1.9 1.1 2.1 1.2.7.5.8.4 2.8 1.6.7.5 1.4.8.8.4 1.4.8.7.5 2.1 1.2.7.5.8.4 1.4.8.7.5 1.4.8.7.5.7.4.8.4.7.5 1.4.8.7.5.7.4.7.5.7.4.8.4.7.5.7.4.7.5 1.4.8.7.5.7.4.8.5.7.4.7.5.7.4 1.9 1.2-.4 0-1.9-1.2-.7-.4-.7-.5-.7-.4-.7-.5-.8-.4-.7-.5-.7-.4-1.4-1-.7-.4-.7-.5-.7-.4-.8-.5-.7-.4-.7-.5-.7-.4-.7-.5-.7-.4-.7-.5-.7-.4-.8-.5-1.4-.8-.7-.5-2.1-1.2-.7-.5-.8-.4-4.9-2.8-.8-.4-4.9-2.8-.8-.5-2.1-1.2-1.9-1.1zM320.8 366.4l1.9 1.1 2.1 1.2.8.5 4.9 2.8-.3-.3-.7-.4-.8-.3-2.1-1.2-.7-.3-2.1-1.2-.8-.4-.7-.3-1.9-1.1z"/><path fill="#00009f" d="M330.2 371.7l1.4.8.7.3 2.1 1.2.8.4 4.2 2.4.7.5.8.4.7.4 1.4 1 .7.4 2.1 1.5.8.4 2.1 1.5.4.2-.7-.4-.8-.5-.7-.4-.7-.5-.7-.4-.7-.5-.7-.4-.7-.5-.7-.4-.8-.5-1.4-.8-.7-.5-2.1-1.2-.7-.5-.8-.4-4.9-2.8-.8-.4z"/><path fill="#00008f" d="M349.1 383.1l.7.5.7.4 1.4 1 .7.4.7.5.8.4.7.5.7.4.7.5.7.4 1.9 1.2-.4.1-1.9-1.2-2.1-1.5-.7-.4-1.4-1-.8-.5-1.4-1-.7-.4-.7-.5zM320.4 366.5l1.9 1.1.7.3.8.4 2.1 1.2-.4-.2-.7-.3-.7-.4-.7-.3-.7-.4-.8-.3-1.9-1z"/><path fill="#00009f" d="M325.5 369.3l.7.4 1.4.6.8.3.7.4 2.1.9.7.4.7.3.4.6-.7-.4-.7-.3-2.1-1.2-.8-.3-2.1-1.2-.7-.3z"/><path fill="#0000af" d="M332.6 372.6l.7.3.8.3.7.4.7.3 3.5 2 .8.4 1.4 1 .7.4 1.4 1 .7.6.7.5.8.5.3.7-2.1-1.5-.7-.4-1.4-1-.7-.4-.8-.4-.7-.5-4.2-2.4-.8-.4-1.4-.8z"/><path fill="#00009f" d="M345.5 380.3l.7.5.7.6.7.5.7.6 1.4 1 .7.6.8.5 1.4 1 .4.2-.7-.5-.8-.5-1.4-1-.7-.4-2.8-2-.8-.4z"/><path fill="#00008f" d="M353 385.8l.7.5.7.4 2.1 1.5 1.9 1.2-.4.1-1.9-1.3-2.8-2-.7-.6zM320 366.6l1.9 1 .8.3.7.4-.4 0-.7-.3-.7-.4-1.9-.9z"/><path fill="#00009f" d="M323 368.3l2.1.9.7.2.7.3.8.3.7.2.4.4-.8-.3-1.4-.6-.7-.4-.7-.3-.7-.4-.7-.3z"/><path fill="#0000af" d="M328 370.2l.7.2.7.3 2.1.6.4 1-.7-.4-2.1-.9-.7-.4z"/><path fill="#0000bf" d="M331.5 371.3l.7.3.8.2.7.3.7.2 2.1.9.4 1.5-1.4-.8-.7-.3-.7-.4-.8-.3-1.4-.6z"/><path fill="#0000cf" d="M336.5 373.2l.7.3.7.4.8.4 2.1 1.5.4 1.5-1.4-1-.8-.4-2.1-1.2z"/><path fill="#0000bf" d="M340.8 375.8l.7.5 2.1 1.8.8.6 1.4 1.2.4.9-.7-.5-.8-.5-.7-.5-.7-.6-1.4-1-.7-.4z"/><path fill="#0000af" d="M345.8 379.9l.7.7 1.4 1.2.7.7.7.6.4.4-1.4-1-.7-.6-.7-.5-.7-.6z"/><path fill="#00009f" d="M349.7 383.5l.7.6.8.5 1.4 1 .7.6 1.4 1-.4 0-.7-.6-.7-.5-2.8-2.4-.8-.6z"/><path fill="#00008f" d="M354.7 387.2l1.4 1 1.9 1.3-.3.1-1.9-1.3-.8-.6-.7-.5zM319.7 366.7l1.9.9.7.4-.4.1-.7-.3-1.9-.9z"/><path fill="#00009f" d="M322.3 368l2.8 1.2.7.2-.4-.2-.7-.1-.7-.3-.7-.2-.7-.3-.7-.2z"/><path fill="#0000af" d="M325.4 369.2l.8.2.7.2 1.4.2.4.6-1.4-.4-.8-.3-.7-.3z"/><path fill="#0000bf" d="M328.3 369.8l1.4.2.7 0 .4 1.1-1.4-.4-.7-.3z"/><path fill="#0000cf" d="M330.4 370l.7.1.8.1.7 0 .4 1.6-.8-.2-.7-.3-.7-.2z"/><path fill="#0000df" d="M332.6 370.2l2.1.3.4 2.1-.7-.3-.7-.2-.7-.3z"/><path fill="#0000ef" d="M334.7 370.5l1.4.4.7.3.8.3.7.4 1.4 1 .7.6.7.7.7.6.4 2.1-.7-.6-2.8-2-.8-.4-.7-.4-2.1-.9z"/><path fill="#0000df" d="M341.8 374.8l.7.8.8.7.7.8.4 1.6-.8-.6-1.4-1.2z"/><path fill="#0000cf" d="M344 377.1l2.1 2.4.4 1.1-.7-.7-1.4-1.2z"/><path fill="#0000bf" d="M346.1 379.5l.7.8.7.7.7.8.4.7-.7-.7-1.4-1.2z"/><path fill="#0000af" d="M348.2 381.8l2.9 2.9.4.2-1.4-1.2-.8-.6-.7-.6z"/><path fill="#00009f" d="M351.5 384.9l1.4 1.2.7.5.7.6.7.5-.3.1-.8-.6-2.1-1.8-.7-.7z"/><path fill="#00008f" d="M355 387.7l.8.6 1.9 1.3-.4.2-1.9-1.4-.7-.6zM319.3 366.9l1.9.9.7.3-.4.1-.7-.2-1.9-.9z"/><path fill="#00009f" d="M321.9 368.1l.7.2.7.3.7.2.7.3-.3-.1-.8-.1-1.4-.4-.7-.3z"/><path fill="#0000af" d="M324.4 369l1.4.2.7 0 .4.4-.7-.2-.8-.2-.7-.1z"/><path fill="#0000bf" d="M326.5 369.2l.7 0 .7-.1.4.7-1.4-.2z"/><path fill="#0000cf" d="M327.9 369.1l1.4-.2.4 1.1-1.4-.2z"/><path fill="#0000df" d="M329.3 368.9l.8-.2.3 1.3-.7 0z"/><path fill="#0000ef" d="M330.1 368.7l1.4-.4.4 1.9-.8-.1-.7-.1z"/><path fill="#0000ff" d="M331.5 368.3l.7-.2.7-.1.4 2.3-.7-.1-.7 0z"/><path fill="#0010ff" d="M332.9 368l.7-.2.7-.1.4 2.8-1.4-.2z"/><path fill="#0020ff" d="M334.3 367.7l1.5 0 .3 3.2-1.4-.4z"/><path fill="#0030ff" d="M335.8 367.7l.7.1.7.2.7.4.7.5.7.6.7.8.4 3.2-.7-.6-1.4-1-.7-.4-.8-.3-.7-.3z"/><path fill="#0020ff" d="M340 370.3l.7.8.8.9.3 2.8-.7-.6-.7-.7z"/><path fill="#0010ff" d="M341.5 372l1.4 2 .4 2.3-.8-.7-.7-.8z"/><path fill="#0000ff" d="M342.9 374l.7 1 .7 1.1.4 1.8-1.4-1.6z"/><path fill="#0000ef" d="M344.3 376.1l1.4 2 .4 1.4-1.4-1.6z"/><path fill="#0000df" d="M345.7 378.1l.7 1.1.4 1.1-.7-.8z"/><path fill="#0000cf" d="M346.4 379.2l.8 1 .7.9.3.7-.7-.8-.7-.7z"/><path fill="#0000bf" d="M347.9 381.1l1.4 1.8-1.1-1.1z"/><path fill="#0000af" d="M351.8 385.4l-.4-.1-.7-.7-.7-.8-.7-.9z"/><path fill="#00009f" d="M351.8 385.4l2.1 1.8.8.6-.4.2-.7-.6-.7-.7-.8-.7-.7-.7z"/><path fill="#00008f" d="M354.7 387.8l.7.6 1.9 1.4-.4.2-1.9-1.4-.7-.6zM318.9 367.1l1.9.9.7.2-.4.3-.7-.3-1.9-.8z"/><path fill="#00009f" d="M321.5 368.2l.7.3 1.4.4-.3.1-.8-.1-1.4-.4z"/><path fill="#0000af" d="M323.6 368.9l.8.1 1.4.2-.4-.2-.7.1-.7 0-.7-.1z"/><path fill="#0000bf" d="M325.4 369l.7-.1.4.3-.7 0z"/><path fill="#0000cf" d="M326.1 368.9l.7-.2.7-.3.4.7-.7.1-.7 0z"/><path fill="#0000df" d="M327.5 368.4l.7-.3.4.9-.7.1z"/><path fill="#0000ef" d="M328.2 368.1l.8-.4.3 1.2-.7.1z"/><path fill="#0000ff" d="M329 367.7l.7-.5.4 1.5-.8.2z"/><path fill="#0010ff" d="M329.7 367.2l.7-.5.4 1.8-.7.2z"/><path fill="#0020ff" d="M330.4 366.7l.7-.6.4 2.2-.7.2z"/><path fill="#0030ff" d="M331.1 366.1l.7-.6.7-.5.4 3-.7.1-.7.2z"/><path fill="#0040ff" d="M332.5 365l.7-.6.4 3.4-.7.2z"/><path fill="#0050ff" d="M333.2 364.4l.7-.4.4 3.7-.7.1z"/><path fill="#0060ff" d="M333.9 364l.8-.4.3 4.1-.7 0z"/><path fill="#0070ff" d="M334.7 363.6l.7-.3.7-.1.4 4.6-.7-.1-.8 0z"/><path fill="#0080ff" d="M336.1 363.2l.7.1.7.3.7.6.7.7.4 4.6-.7-.6-.7-.5-.7-.4-.7-.2z"/><path fill="#0070ff" d="M338.9 364.9l.7 1 .8 1.1.3 4.1-1.4-1.6z"/><path fill="#0060ff" d="M340.4 367l.7 1.3.4 3.7-.8-.9z"/><path fill="#0050ff" d="M341.1 368.3l.7 1.3.4 3.4-.7-1z"/><path fill="#0040ff" d="M341.8 369.6l.7 1.4.4 3-.7-1z"/><path fill="#0030ff" d="M342.5 371l1.4 2.8.4 2.3-.7-1.1-.7-1z"/><path fill="#0020ff" d="M343.9 373.8l.7 1.4.4 1.9-.7-1z"/><path fill="#0010ff" d="M344.6 375.2l.7 1.4.4 1.5-.7-1z"/><path fill="#0000ff" d="M345.3 376.6l.8 1.4.3 1.2-.7-1.1z"/><path fill="#0000ef" d="M346.1 378l.7 1.2.4 1-.8-1z"/><path fill="#0000df" d="M346.8 379.2l.7 1.2.4.7-.7-.9z"/><path fill="#0000cf" d="M347.9 381.1l1.4 1.8-.4-.3-.7-1-.7-1.2z"/><path fill="#0000bf" d="M349.3 382.9l.7.9-.4-.2-.7-1z"/><path fill="#0000af" d="M350 383.8l.7.8 1.4 1.4-.3.2-.8-.8-1.4-1.8z"/><path fill="#00009f" d="M352.1 386l.8.7.7.7.7.6-.4.2-.7-.6-1.4-1.4z"/><path fill="#00008f" d="M354.3 388l.7.6 1.9 1.4-.4.3-1.9-1.5-.7-.6zM318.5 367.4l1.9.8.7.3.7.2-.4.2-.7-.2-.7-.3-1.9-.8z"/><path fill="#00009f" d="M321.8 368.7l.7.2.8.1-.4.2-.7-.1-.8-.2z"/><path fill="#0000af" d="M323.3 369l.7.1.3 0-.7.1-.7 0z"/><path fill="#0000bf" d="M324.3 369.1l.7-.1.7-.3.4.2-1.4.2z"/><path fill="#0000cf" d="M325.7 368.7l.7-.4.4.4-.7.2z"/><path fill="#0000df" d="M326.4 368.3l.7-.5.4.6-.7.3z"/><path fill="#0000ef" d="M327.1 367.8l.8-.6.3.9-.7.3z"/><path fill="#0000ff" d="M327.9 367.2l.7-.8.4 1.3-.8.4z"/><path fill="#0020ff" d="M328.6 366.4l.7-.8.4 1.6-.7.5z"/><path fill="#0030ff" d="M329.3 365.6l.7-1 .4 2.1-.7.5z"/><path fill="#0040ff" d="M330 364.6l.7-1 .4 2.5-.7.6z"/><path fill="#0060ff" d="M330.7 363.6l.7-1.1.4 3-.7.6z"/><path fill="#0070ff" d="M331.4 362.5l.7-1.1.4 3.6-.7.5z"/><path fill="#008fff" d="M332.1 361.4l.7-1 .4 4-.7.6z"/><path fill="#009fff" d="M332.8 360.4l.8-1 .3 4.6-.7.4z"/><path fill="#00bfff" d="M333.6 359.4l.7-.8.4 5-.8.4z"/><path fill="#00cfff" d="M334.3 358.6l.7-.7.4 5.4-.7.3z"/><path fill="#00dfff" d="M335 357.9l.7-.4.7-.2.4 6-.7-.1-.7.1z"/><path fill="#00efff" d="M336.4 357.3l.7.2.7.7.4 6-.7-.6-.7-.3z"/><path fill="#00dfff" d="M337.8 358.2l.7 1 .8 1.3.3 5.4-.7-1-.7-.7z"/><path fill="#00cfff" d="M339.3 360.5l.7 1.5.4 5-.8-1.1z"/><path fill="#00bfff" d="M340 362l.7 1.7.4 4.6-.7-1.3z"/><path fill="#009fff" d="M340.7 363.7l.7 1.8.4 4.1-.7-1.3z"/><path fill="#008fff" d="M341.4 365.5l.7 1.9.4 3.6-.7-1.4z"/><path fill="#0070ff" d="M342.1 367.4l.7 2 .4 3-.7-1.4z"/><path fill="#0060ff" d="M342.8 369.4l.7 1.9.4 2.5-.7-1.4z"/><path fill="#0040ff" d="M343.5 371.3l.7 1.9.4 2-.7-1.4z"/><path fill="#0030ff" d="M344.2 373.2l.8 1.8.3 1.6-.7-1.4z"/><path fill="#0020ff" d="M345 375l.7 1.7.4 1.3-.8-1.4z"/><path fill="#0000ff" d="M345.7 376.7l.7 1.6.4.9-.7-1.2z"/><path fill="#0000ef" d="M346.8 379.2l.7 1.2-.4-.6-.7-1.5z"/><path fill="#0000df" d="M347.5 380.4l.7 1.2-.4-.4-.7-1.4z"/><path fill="#0000cf" d="M348.2 381.6l.7 1-.4-.2-.7-1.2z"/><path fill="#0000bf" d="M348.9 382.6l.7 1 .7.9-.4.1-.7-1-.7-1.2z"/><path fill="#0000af" d="M350.3 384.5l.7.9.8.8-.4.2-.7-.9-.8-.9z"/><path fill="#00009f" d="M351.8 386.2l1.4 1.4-.4.2-1.4-1.4z"/><path fill="#00008f" d="M353.2 387.6l1.4 1.2 1.9 1.5-.4.2-1.9-1.4-.7-.6-.7-.7zM318.1 367.6l1.9.8.7.3.7.2-.3.3-.8-.3-.7-.2-1.9-.9z"/><path fill="#00009f" d="M321.4 368.9l.8.2.7.1-.4.2-1.4-.2z"/><path fill="#0000af" d="M322.9 369.2l.7 0 .7-.1-.4.1-.7.2-.7 0z"/><path fill="#0000bf" d="M323.9 369.2l.7-.2.4 0-.7.1z"/><path fill="#0000cf" d="M324.6 369l.7-.5.4.2-.7.3z"/><path fill="#0000df" d="M325.3 368.5l.7-.5.4.3-.7.4z"/><path fill="#0000ef" d="M326 368l.8-.8.3.6-.7.5z"/><path fill="#0000ff" d="M326.8 367.2l.7-.9.4.9-.8.6z"/><path fill="#0020ff" d="M327.5 366.3l.7-1.1.4 1.2-.7.8z"/><path fill="#0030ff" d="M328.2 365.2l.7-1.3.4 1.7-.7.8z"/><path fill="#0050ff" d="M328.9 363.9l.7-1.4.4 2.1-.7 1z"/><path fill="#0070ff" d="M329.6 362.5l.7-1.6.4 2.7-.7 1z"/><path fill="#008fff" d="M330.3 360.9l.7-1.7.4 3.3-.7 1.1z"/><path fill="#00bfff" d="M331 359.2l.7-1.7.4 3.9-.7 1.1z"/><path fill="#00dfff" d="M331.7 357.5l.8-1.7.3 4.6-.7 1z"/><path fill="#00ffff" d="M332.5 355.8l.7-1.6.4 5.2-.8 1z"/><path fill="#20ffdf" d="M333.2 354.2l.7-1.5.4 5.9-.7.8z"/><path fill="#40ffbf" d="M333.9 352.7l.7-1.2.4 6.4-.7.7z"/><path fill="#50ffaf" d="M334.6 351.5l.7-.8.4 6.8-.7.4z"/><path fill="#60ff9f" d="M335.3 350.7l.7-.5.4 7.1-.7.2z"/><path fill="#70ff8f" d="M336 350.2l.7.1.7.8.4 7.1-.7-.7-.7-.2z"/><path fill="#60ff9f" d="M337.4 351.1l.8 1.3.3 6.8-.7-1z"/><path fill="#50ffaf" d="M338.2 352.4l.7 1.7.4 6.4-.8-1.3z"/><path fill="#40ffbf" d="M338.9 354.1l.7 2.1.4 5.8-.7-1.5z"/><path fill="#20ffdf" d="M339.6 356.2l.7 2.3.4 5.2-.7-1.7z"/><path fill="#00ffff" d="M340.3 358.5l.7 2.4.4 4.6-.7-1.8z"/><path fill="#00dfff" d="M341 360.9l.7 2.6.4 3.9-.7-1.9z"/><path fill="#00bfff" d="M341.7 363.5l.7 2.6.4 3.3-.7-2z"/><path fill="#008fff" d="M342.4 366.1l.7 2.5.4 2.7-.7-1.9z"/><path fill="#0070ff" d="M343.1 368.6l.8 2.4.3 2.2-.7-1.9z"/><path fill="#0050ff" d="M343.9 371l.7 2.3.4 1.7-.8-1.8z"/><path fill="#0030ff" d="M344.6 373.3l.7 2.2.4 1.2-.7-1.7z"/><path fill="#0020ff" d="M345.7 376.7l.7 1.6-.4-.8-.7-2z"/><path fill="#0000ff" d="M346.4 378.3l.7 1.5-.4-.5-.7-1.8z"/><path fill="#0000ef" d="M347.1 379.8l.7 1.4-.4-.3-.7-1.6z"/><path fill="#0000df" d="M347.8 381.2l.7 1.2-.4-.1-.7-1.4z"/><path fill="#0000cf" d="M348.5 382.4l.7 1.2-.4 0-.7-1.3z"/><path fill="#0000bf" d="M349.2 383.6l.7 1-.3.1-.8-1.1z"/><path fill="#0000af" d="M349.9 384.6l.8.9.7.9-.4.2-.7-.9-.7-1z"/><path fill="#00009f" d="M351.4 386.4l1.4 1.4-.4.3-.7-.8-.7-.7z"/><path fill="#00008f" d="M352.8 387.8l.7.7.7.6 1.9 1.4-.4.2-1.9-1.4-1.4-1.2zM317.7 367.8l1.9.9.7.2.8.3-.4.2-.7-.2-.7-.3-1.9-.9z"/><path fill="#00009f" d="M321.1 369.2l1.4.2-.4.2-1.4-.2z"/><path fill="#0000af" d="M322.5 369.4l.7 0 .7-.2-.4.1-.7.2-.7.1z"/><path fill="#0000bf" d="M323.5 369.3l.7-.4.4.1-.7.2z"/><path fill="#0000cf" d="M324.2 368.9l.8-.5.3.1-.7.5z"/><path fill="#0000df" d="M325 368.4l.7-.7.3.3-.7.5z"/><path fill="#0000ff" d="M325.7 367.7l.7-1 .4.5-.8.8z"/><path fill="#0010ff" d="M326.4 366.7l.7-1.3.4.9-.7.9z"/><path fill="#0030ff" d="M327.1 365.4l.7-1.4.4 1.2-.7 1.1z"/><path fill="#0050ff" d="M327.8 364l.7-1.8.4 1.7-.7 1.3z"/><path fill="#0080ff" d="M328.5 362.2l.7-1.9.4 2.2-.7 1.4z"/><path fill="#00afff" d="M329.2 360.3l.7-2.2.4 2.8-.7 1.6z"/><path fill="#00cfff" d="M329.9 358.1l.8-2.3.3 3.4-.7 1.7z"/><path fill="#00ffff" d="M330.7 355.8l.7-2.4.3 4.1-.7 1.7z"/><path fill="#30ffcf" d="M331.4 353.4l.7-2.5.4 4.9-.8 1.7z"/><path fill="#60ff9f" d="M332.1 350.9l.7-2.3.4 5.6-.7 1.6z"/><path fill="#8fff70" d="M332.8 348.6l.7-2.1.4 6.2-.7 1.5z"/><path fill="#afff50" d="M333.5 346.5l.7-1.8.4 6.8-.7 1.2z"/><path fill="#dfff20" d="M334.2 344.7l.7-1.3.4 7.3-.7.8z"/><path fill="#efff10" d="M334.9 343.4l.7-.8.4 7.6-.7.5z"/><path fill="#ffff00" d="M335.6 342.6l.8 0 .7.9.3 7.6-.7-.8-.7-.1z"/><path fill="#efff10" d="M337.1 343.5l.7 1.6.4 7.3-.8-1.3z"/><path fill="#dfff20" d="M337.8 345.1l.7 2.2.4 6.8-.7-1.7z"/><path fill="#afff50" d="M338.5 347.3l.7 2.7.4 6.2-.7-2.1z"/><path fill="#8fff70" d="M339.2 350l.7 2.9.4 5.6-.7-2.3z"/><path fill="#60ff9f" d="M339.9 352.9l.7 3.2.4 4.8-.7-2.4z"/><path fill="#30ffcf" d="M340.6 356.1l.7 3.3.4 4.1-.7-2.6z"/><path fill="#00ffff" d="M341.3 359.4l.8 3.2.3 3.5-.7-2.6z"/><path fill="#00cfff" d="M342.1 362.6l.7 3.2.3 2.8-.7-2.5z"/><path fill="#00afff" d="M342.8 365.8l.7 3.1.4 2.1-.8-2.4z"/><path fill="#0080ff" d="M343.5 368.9l1.1 4.4-.7-2.3z"/><path fill="#0050ff" d="M344.2 371.7l.7 2.6.4 1.2-.7-2.2z"/><path fill="#0030ff" d="M345.3 375.5l.7 2-.4-.9-.7-2.3z"/><path fill="#0010ff" d="M346 377.5l.7 1.8-.4-.6-.7-2.1z"/><path fill="#0000ff" d="M346.7 379.3l.7 1.6-.4-.4-.7-1.8z"/><path fill="#0000df" d="M347.4 380.9l.7 1.4-.3-.2-.8-1.6z"/><path fill="#0000cf" d="M348.1 382.3l.7 1.3-.3-.1-.7-1.4z"/><path fill="#0000bf" d="M348.8 383.6l.8 1.1-.4.1-.7-1.3z"/><path fill="#0000af" d="M349.6 384.7l.7 1 .7.9-.4.1-.7-.9-.7-1z"/><path fill="#00009f" d="M351 386.6l.7.7.7.8-.4.2-1.4-1.6z"/><path fill="#00008f" d="M352.4 388.1l1.4 1.2 1.9 1.4-.3.2-1.9-1.4-.8-.6-.7-.6zM317.4 368l1.9.9.7.3.7.2-.4.1-1.4-.4-1.9-.9z"/><path fill="#00009f" d="M320.7 369.4l1.4.2-.4.1-.7 0-.7-.2z"/><path fill="#0000af" d="M321.7 369.7l.7-.1.7-.3.4 0-.7.2-.7.1z"/><path fill="#0000bf" d="M323.1 369.3l.8-.4.3 0-.7.4z"/><path fill="#0000cf" d="M323.9 368.9l.7-.7.4.2-.8.5z"/><path fill="#0000ef" d="M324.6 368.2l.7-.9.4.4-.7.7z"/><path fill="#0000ff" d="M325.3 367.3l.7-1.2.4.6-.7 1z"/><path fill="#0020ff" d="M326 366.1l.7-1.5.4.8-.7 1.3z"/><path fill="#0050ff" d="M326.7 364.6l.7-1.8.4 1.2-.7 1.4z"/><path fill="#0070ff" d="M327.4 362.8l.7-2.2.4 1.6-.7 1.8z"/><path fill="#009fff" d="M328.1 360.6l.7-2.4.4 2.1-.7 1.9z"/><path fill="#00dfff" d="M328.8 358.2l.8-2.7.3 2.6-.7 2.2z"/><path fill="#10ffef" d="M329.6 355.5l.7-3 .4 3.3-.8 2.3z"/><path fill="#50ffaf" d="M330.3 352.5l.7-3.1.4 4-.7 2.4z"/><path fill="#8fff70" d="M331 349.4l.7-3.1.4 4.6-.7 2.5z"/><path fill="#bfff40" d="M331.7 346.3l.7-3 .4 5.3-.7 2.3z"/><path fill="#ffff00" d="M332.4 343.3l.7-2.7.4 5.9-.7 2.1z"/><path fill="#ffcf00" d="M333.1 340.6l.7-2.4.4 6.5-.7 1.8z"/><path fill="#ff9f00" d="M333.8 338.2l.7-1.8.4 7-.7 1.3z"/><path fill="#ff8000" d="M334.5 336.4l.8-1 .3 7.2-.7.8z"/><path fill="#ff7000" d="M335.3 335.4l.7-.2.7 1 .4 7.3-.7-.9-.8 0z"/><path fill="#ff8000" d="M336.7 336.2l.7 1.9.4 7-.7-1.6z"/><path fill="#ff9f00" d="M337.4 338.1l.7 2.7.4 6.5-.7-2.2z"/><path fill="#ffcf00" d="M338.1 340.8l.7 3.2.4 6-.7-2.7z"/><path fill="#ffff00" d="M338.8 344l.7 3.6.4 5.3-.7-2.9z"/><path fill="#bfff40" d="M339.5 347.6l.7 3.9.4 4.6-.7-3.2z"/><path fill="#8fff70" d="M340.2 351.5l.8 4 .3 3.9-.7-3.3z"/><path fill="#50ffaf" d="M341 355.5l.7 3.9.4 3.2-.8-3.2z"/><path fill="#10ffef" d="M341.7 359.4l.7 3.8.4 2.6-.7-3.2z"/><path fill="#00dfff" d="M342.4 363.2l.7 3.6.4 2.1-.7-3.1z"/><path fill="#009fff" d="M343.1 366.8l.7 3.3-.3-1.2z"/><path fill="#0070ff" d="M344.2 371.7l.7 2.6-.4-1.2-.7-3z"/><path fill="#0050ff" d="M344.9 374.3l.7 2.3-.4-.8-.7-2.7z"/><path fill="#0020ff" d="M345.6 376.6l.7 2.1-.4-.6-.7-2.3z"/><path fill="#0000ff" d="M346.3 378.7l.7 1.8-.3-.3-.8-2.1z"/><path fill="#0000ef" d="M347 380.5l.8 1.6-.4-.1-.7-1.8z"/><path fill="#0000cf" d="M347.8 382.1l.7 1.4-.4 0-.7-1.5z"/><path fill="#0000bf" d="M348.5 383.5l.7 1.3-.4 0-.7-1.3z"/><path fill="#0000af" d="M349.2 384.8l.7 1 .7.9-.4.2-.7-1-.7-1.1z"/><path fill="#00009f" d="M350.6 386.7l1.4 1.6-.4.1-.7-.7-.7-.8z"/><path fill="#00008f" d="M352 388.3l.7.6.8.6 1.9 1.4-.4.2-1.9-1.4-.7-.6-.8-.7zM317 368.2l1.9.9 1.4.4-.4.2-.7-.2-.7-.3-1.9-.9z"/><path fill="#00009f" d="M320.3 369.5l.7.2.7 0-.4.1-.7 0-.7-.1z"/><path fill="#0000af" d="M321.3 369.8l.7-.2.8-.3.3 0-.7.3-.7.1z"/><path fill="#0000bf" d="M322.8 369.3l.7-.5.4.1-.8.4z"/><path fill="#0000df" d="M323.5 368.8l.7-.8.4.2-.7.7z"/><path fill="#0000ef" d="M324.2 368l.7-1 .4.3-.7.9z"/><path fill="#0010ff" d="M324.9 367l.7-1.4.4.5-.7 1.2z"/><path fill="#0030ff" d="M325.6 365.6l.7-1.7.4.7-.7 1.5z"/><path fill="#0060ff" d="M326.3 363.9l.7-2.1.4 1-.7 1.8z"/><path fill="#008fff" d="M327 361.8l.7-2.5.4 1.3-.7 2.2z"/><path fill="#00cfff" d="M327.7 359.3l.8-2.8.3 1.7-.7 2.4z"/><path fill="#00ffff" d="M328.5 356.5l.7-3.2.4 2.2-.8 2.7z"/><path fill="#50ffaf" d="M329.2 353.3l.7-3.4.4 2.6-.7 3z"/><path fill="#8fff70" d="M329.9 349.9l.7-3.6.4 3.1-.7 3.1z"/><path fill="#dfff20" d="M330.6 346.3l.7-3.6.4 3.6-.7 3.1z"/><path fill="#ffdf00" d="M331.3 342.7l.7-3.6.4 4.2-.7 3z"/><path fill="#ff9f00" d="M332 339.1l.7-3.2.4 4.7-.7 2.7z"/><path fill="#ff6000" d="M332.7 335.9l.7-2.8.4 5.1-.7 2.4z"/><path fill="#ff3000" d="M333.4 333.1l.8-2.2.3 5.5-.7 1.8z"/><path fill="#ff0000" d="M334.2 330.9l.7-1.3.4 5.8-.8 1z"/><path fill="#ef0000" d="M334.9 329.6l.7-.2.7 1.1.4 5.7-.7-1-.7.2z"/><path fill="#ff0000" d="M336.3 330.5l.7 2.1.4 5.5-.7-1.9z"/><path fill="#ff3000" d="M337 332.6l.7 3.1.4 5.1-.7-2.7z"/><path fill="#ff6000" d="M337.7 335.7l.7 3.6.4 4.7-.7-3.2z"/><path fill="#ff9f00" d="M338.4 339.3l.7 4.1.4 4.2-.7-3.6z"/><path fill="#ffdf00" d="M339.1 343.4l.8 4.4.3 3.7-.7-3.9z"/><path fill="#dfff20" d="M339.9 347.8l.7 4.5.4 3.2-.8-4z"/><path fill="#8fff70" d="M340.6 352.3l.7 4.4.4 2.7-.7-3.9z"/><path fill="#50ffaf" d="M341.3 356.7l.7 4.3.4 2.2-.7-3.8z"/><path fill="#00ffff" d="M342.4 363.2l.7 3.6-.4-1.8-.7-4z"/><path fill="#00cfff" d="M343.1 366.8l.7 3.3-.4-1.4-.7-3.7z"/><path fill="#008fff" d="M343.8 370.1l.7 3-.4-1-.7-3.4z"/><path fill="#0060ff" d="M344.5 373.1l.7 2.7-.4-.8-.7-2.9z"/><path fill="#0030ff" d="M345.2 375.8l.7 2.3-.3-.5-.8-2.6z"/><path fill="#0010ff" d="M345.9 378.1l.8 2.1-.4-.3-.7-2.3z"/><path fill="#0000ef" d="M346.7 380.2l.7 1.8-.4-.2-.7-1.9z"/><path fill="#0000df" d="M347.4 382l.7 1.5-.4-.1-.7-1.6z"/><path fill="#0000bf" d="M348.1 383.5l.7 1.3-.4 0-.7-1.4z"/><path fill="#0000af" d="M348.8 384.8l.7 1.1.7 1-.4.1-.7-1-.7-1.2z"/><path fill="#00009f" d="M350.2 386.9l.7.8.7.7-.3.2-.8-.8-.7-.8z"/><path fill="#00008f" d="M351.6 388.4l.8.7.7.6 1.9 1.4-.4.1-1.9-1.4-1.4-1.2zM316.6 368.3l1.9.9.7.3.7.2-.4.1-1.4-.4-1.9-.9z"/><path fill="#00009f" d="M319.9 369.7l.7.1.7 0-.3.1-.8 0-.7-.1z"/><path fill="#0000af" d="M321.3 369.8l.7-.2-.3.1-.7.2z"/><path fill="#0000bf" d="M321.7 369.7l.7-.3.4-.1-.8.3z"/><path fill="#0000cf" d="M322.4 369.4l.7-.6.4 0-.7.5z"/><path fill="#0000df" d="M323.1 368.8l.7-.8.4 0-.7.8z"/><path fill="#0000ff" d="M323.8 368l.7-1.1.4.1-.7 1z"/><path fill="#0020ff" d="M324.5 366.9l.7-1.5.4.2-.7 1.4z"/><path fill="#0040ff" d="M325.2 365.4l.7-1.9.4.4-.7 1.7z"/><path fill="#0070ff" d="M325.9 363.5l.7-2.2.4.5-.7 2.1z"/><path fill="#009fff" d="M326.6 361.3l.8-2.6.3.6-.7 2.5z"/><path fill="#00dfff" d="M327.4 358.7l.7-3 .4.8-.8 2.8z"/><path fill="#20ffdf" d="M328.1 355.7l.7-3.4.4 1-.7 3.2z"/><path fill="#70ff8f" d="M328.8 352.3l.7-3.6.4 1.2-.7 3.4z"/><path fill="#bfff40" d="M329.5 348.7l.7-3.8.4 1.4-.7 3.6z"/><path fill="#ffef00" d="M330.2 344.9l.7-3.9.4 1.7-.7 3.6z"/><path fill="#ff9f00" d="M330.9 341l.7-3.8.4 1.9-.7 3.6z"/><path fill="#ff6000" d="M331.6 337.2l.7-3.4.4 2.1-.7 3.2z"/><path fill="#ff1000" d="M332.3 333.8l.8-3 .3 2.3-.7 2.8z"/><path fill="#df0000" d="M333.1 330.8l.7-2.3.4 2.4-.8 2.2z"/><path fill="#af0000" d="M333.8 328.5l.7-1.4.4 2.5-.7 1.3z"/><path fill="#9f0000" d="M334.5 327.1l.7-.3.7 1.1.4 2.6-.7-1.1-.7.2z"/><path fill="#af0000" d="M335.9 327.9l.7 2.3.4 2.4-.7-2.1z"/><path fill="#df0000" d="M336.6 330.2l.7 3.2.4 2.3-.7-3.1z"/><path fill="#ff1000" d="M337.3 333.4l.7 3.8.4 2.1-.7-3.6z"/><path fill="#ff6000" d="M338 337.2l.8 4.3.3 1.9-.7-4.1z"/><path fill="#ff9f00" d="M339.1 343.4l.8 4.4-.4-1.7-.7-4.6z"/><path fill="#ffef00" d="M339.9 347.8l.7 4.5-.4-1.4-.7-4.8z"/><path fill="#bfff40" d="M340.6 352.3l.7 4.4-.4-1.2-.7-4.6z"/><path fill="#70ff8f" d="M341.3 356.7l.7 4.3-.4-1-.7-4.5z"/><path fill="#20ffdf" d="M342 361l.7 4-.4-.7-.7-4.3z"/><path fill="#00dfff" d="M342.7 365l.7 3.7-.4-.6-.7-3.8z"/><path fill="#009fff" d="M343.4 368.7l.7 3.4-.3-.5-.8-3.5z"/><path fill="#0070ff" d="M344.1 372.1l.7 2.9-.3-.3-.7-3.1z"/><path fill="#0040ff" d="M344.8 375l.8 2.6-.4-.2-.7-2.7z"/><path fill="#0020ff" d="M345.6 377.6l.7 2.3-.4-.2-.7-2.3z"/><path fill="#0000ff" d="M346.3 379.9l.7 1.9-.4-.1-.7-2z"/><path fill="#0000df" d="M347 381.8l.7 1.6-.4 0-.7-1.7z"/><path fill="#0000cf" d="M347.7 383.4l.7 1.4-.4 0-.7-1.4z"/><path fill="#0000bf" d="M348.4 384.8l.7 1.2-.4 0-.7-1.2z"/><path fill="#0000af" d="M349.1 386l.7 1-.4.1-.7-1.1z"/><path fill="#00009f" d="M349.8 387l.7.8.8.8-.4.1-.7-.8-.8-.8z"/><path fill="#00008f" d="M351.3 388.6l1.4 1.2 1.9 1.4-.4.2-1.9-1.4-.7-.6-.7-.7z"/></g><path d="M447.2 342.2L493.3 323.3" stroke="#e8e8e8" stroke-width="1.0" fill="none"/><path d="M493.3 323.3L531.3 346.2" stroke="#e8e8e8" stroke-width="1.0" fill="none"/><path d="M447.2 315.5L493.3 296.6" stroke="#e8e8e8" stroke-width="1.0" fill="none"/><path d="M493.3 296.6L531.3 319.5" stroke="#e8e8e8" stroke-width="1.0" fill="none"/><path d="M493.3 349.9L493.3 296.6" stroke="#e8e8e8" stroke-width="1.0" fill="none"/><path d="M512.3 361.4L512.3 308.1" stroke="#e8e8e8" stroke-width="1.0" fill="none"/><path d="M531.3 372.8L531.3 319.5" stroke="#e8e8e8" stroke-width="1.0" fill="none"/><path d="M447.2 368.8L447.2 315.5" stroke="#7a7a7a" stroke-width="1.0" fill="none"/><path d="M447.2 368.8L485.2 391.7" stroke="#7a7a7a" stroke-width="1.0" fill="none"/><path d="M485.2 391.7L531.3 372.8" stroke="#7a7a7a" stroke-width="1.0" fill="none"/><g shape-rendering="crispEdges" filter="url(#bl)" transform="translate(.013 .017)"><path fill="#00008f" d="M493.3 349.9l12.3 7.4.8.5 1.4.8.7.5.7.4.8.4.7.5.1 0 .2.2.1 0 .2.1.1.1.1 0 .1.1.1 0 .1.1.2.1.1 0 .1.1.1 0 .3.3.2 0 .5.5.2 0 .3.3.1 0 .4.3.8.4.4.3.4.2.3.2.4.3.8.4.4.3.8.4.3.3 12.4 7.4-12.6 5.2-12.4-7.5-.8-.4-.4-.3-.3-.2-.4-.2-.4-.3-.8-.4-.4-.3-.8-.4-.3-.3-.4-.2-.1-.1-.2 0-.2-.2-.1-.2-.2-.2-.1-.2-.2-.1-.1-.1-.1-.2-.2-.2-.1 0-.2-.1-.1 0-.1-.1-.8 0-.1-.1-.1 0-.1-.1-.2 0-.7-.5-1.4-.8-.7-.5-.8-.4-.7-.4-.7-.5-12.3-7.4zM480.7 355.1l12.3 7.4.7.5.7.4.8.4.7.5 1.4.8.7.5.2 0 .1.1.1 0 .1.1.8 0 .1.1.1 0 .2.1.1 0 .2.2.1.2.1.1.2.1.1.2.2.2.1.2.2.2.2 0 .1.1.4.2.3.3.8.4.4.3.8.4.4.3.4.2.3.2.4.3.8.4 12.4 7.5-2 .8-12.4-7.5-.3-.2-.4-.2-.4-.3-.8-.4-.4-.3-.8-.4-.3-.3-.8-.4-.4-.3-.4-.2-.1-.1-.1 0-.5-.5-.1-.2-.1-.1-.2-.4-.2-.1-.4-.4-.7 0-.1.1-.3 0-.1-.1-.1 0-.1-.1-.1 0-.7-.5-.8-.4-.7-.4-.7-.5-1.4-.8-.8-.5-12.3-7.4zM478.7 355.9l12.3 7.4.8.5 1.4.8.7.5.7.4.8.4.7.5.1 0 .1.1.1 0 .1.1.3 0 .1-.1.7 0 .4.4.2.1.2.4.1.1.1.2.5.5.1 0 .1.1.4.2.4.3.8.4.3.3.8.4.4.3.8.4.4.3.4.2.3.2 12.4 7.5-1.9.8-12.4-7.5-.8-.4-.4-.3-.3-.2-.4-.2-.4-.3-.8-.4-.4-.3-.4-.2-.3-.2-.4-.3-.4-.2-.1-.1-.2-.1-.3-.3-.3-.6-.3-.3-.1-.2-.1-.1-.1-.2-.1 0-.2-.1-.3 0-.1.1-.2 0-.2.1-.4 0-.1-.1-.2 0-.7-.5-.7-.4-.7-.5-.7-.4-.8-.4-.7-.4-.7-.5-12.3-7.4zM476.8 356.7l12.3 7.4.7.5.7.4.8.4.7.4.7.5.7.4.7.5.2 0 .1.1.4 0 .2-.1.2 0 .1-.1.3 0 .2.1.1 0 .1.2.1.1.1.2.3.3.3.6.3.3.2.1.1.1.4.2.4.3.3.2.4.2.4.3.8.4.4.3.4.2.3.2.4.3.8.4 12.4 7.5-1.9.8-12.4-7.5-.4-.2-.4-.3-.4-.2-.3-.2-.4-.3-.8-.4-.4-.3-.8-.4-.4-.3-.3-.2-.4-.2-.1-.1-.2-.1-.2-.2-.3-.6-.2-.2-.1-.3-.2-.4-.1-.1-.1-.2-.1 0-.2-.1-.2 0-.2.2-.1 0-.2.1-.1.1-.1 0-.1.1-.1 0-.1-.1-.1 0-.2-.1-.7-.4-.7-.5-1.4-.8-.8-.5-1.4-.8-12.3-7.4zM474.9 357.5l12.3 7.4 1.4.8.8.5 1.4.8.7.5.7.4.2.1.1 0 .1.1.1 0 .1-.1.1 0 .1-.1.2-.1.1 0 .2-.2.2 0 .2.1.1 0 .1.2.1.1.2.4.1.3.2.2.3.6.2.2.2.1.1.1.4.2.3.2.4.3.8.4.4.3.8.4.4.3.3.2.4.2.4.3.4.2 12.4 7.5-1.9.7-12.4-7.4-.4-.2-.3-.3-.4-.3-1.2-.6-.4-.3-.4-.2-.4-.3-.3-.2-1.2-.6-.5-.5-.2-.4-.2-.6-.1-.2-.2-.3-.2-.4-.3-.3-.2 0-.6.6-.2.1-.1.1-.3 0-.1-.1-.8-.4-.7-.5-1.4-.8-.7-.5-.8-.4-.7-.4-12.3-7.5zM473 358.2l12.3 7.5.7.4.8.4.7.5 1.4.8.7.5.8.4.1.1.3 0 .1-.1.2-.1.5-.5-1.8.3-.2.4-.2.1-.2.4-.2.2-.1 0-.2.1-.1-.1-.1 0-1.4-1-.7-.4-.8-.4-.7-.5-.7-.3-.7-.5-12.4-7.4z"/><path fill="#00009f" d="M489.8 368.4l.1 0 1.8-.4-.1.1z"/><path fill="#0000af" d="M491.7 368l.2 0 .3.3-1.8.3-.2-.1-.2-.2-.1.1z"/><path fill="#00009f" d="M492.2 368.3l.1.2-1.8.4-.1-.3z"/><path fill="#00008f" d="M492.3 368.5l.1.2.2.3.1.2.2.6.2.4.5.5 1.2.6.3.2.4.3.4.2.4.3 1.2.6.4.3.3.3.4.2 12.4 7.4-1.9.8-12.3-7.5-.8-.4-.4-.3-.8-.4-.3-.3-.4-.2-.4-.3-.8-.4-.4-.3-.8-.4-.3-.3-.2-.4-.1-.3-.2-.3-.1-.3-.1-.4-.1-.3-.1-.2zM471.1 359l12.4 7.4.7.5.7.3.7.5.8.4.7.4 1.4 1 .1 0 .1.1.2-.1.1 0 .2-.2.2-.4.2-.1-1.9.3-.1.3-.4.8-.2 0-.1.1-.1 0-.1-.1-.7-.5-.7-.4-.8-.4-.7-.4-.7-.5-1.4-.8-12.4-7.5z"/><path fill="#00009f" d="M487.7 369.1l.2-.2 1.8-.3-.1.2z"/><path fill="#0000af" d="M489.7 368.6l.1-.2.1 0 .1-.1.2.2.2.1.1.3.1.2-1.8.3-.1-.3-.2-.3-.1-.2-.1-.1-.1 0-.2.2-.1.2z"/><path fill="#00009f" d="M490.6 369.1l.1.3-1.8.4-.1-.4z"/><path fill="#00008f" d="M490.7 369.4l.1.4.1.3.2.3.1.3.2.4.3.3.8.4.4.3.8.4.4.3.4.2.3.3.8.4.4.3.8.4 12.3 7.5-1.8.7-12.3-7.4-.4-.2-.8-.6-1.2-.6-.3-.3-.4-.2-.4-.3-1.6-.8-.1-.1-.1-.2-.1-.1-.1-.2-.1-.3-.2-.3-.3-1.2zM469.3 359.7l12.4 7.5 1.4.8.7.5.7.4.8.4.7.4.7.5.1.1.1 0 .1-.1.2 0 .4-.8-1.8.3-.1.4-.1.3-.2.4-.2.2-.2 0-.1-.1-.7-.4-.7-.5-.7-.4-.8-.4-.7-.5-1.4-.8-12.4-7.4z"/><path fill="#0000af" d="M485.8 369.7l.2-.3.2-.6 1.8-.1-.1.2-.2.2-.1.3z"/><path fill="#0000bf" d="M488 368.7l.2-.2.1 0 .1.1.1.2.2.3-1.8.1-.1-.3-.1-.2-.2-.2-.1 0-.1.1-.1.2z"/><path fill="#0000af" d="M488.7 369.1l.1.3.2.8-1.8.4-.2-1-.1-.4z"/><path fill="#00008f" d="M489 370.2l.2.8.2.3.1.3.1.2.1.1.1.2.1.1 1.6.8.4.3.4.2.3.3 1.2.6.8.6.4.2 12.3 7.4-1.8.8-12.3-7.5-.4-.2-.8-.6-.4-.2-.3-.2-.8-.4-.8-.6-1.2-.6-.3-.2-.2-.1-.1-.1-.1-.2-.2-.6-.1-.4-.2-.5-.1-.4zM467.5 360.5l12.4 7.4 1.4.8.7.5.8.4.7.4.7.5.7.4.1.1.2 0 .2-.2.2-.4.1-.3-1.7.3-.2.8-.2.2-.1.2-.1.1-.2 0-.7-.5-.8-.5-1.4-.8-.7-.5-.7-.4-.8-.4-12.3-7.4z"/><path fill="#0000af" d="M484 370.4l.1-.4.1-.5 1.8-.1-.2.3-.1.4z"/><path fill="#0000bf" d="M484.2 369.5l.1-.4.1-.3 1.8 0-.2.6z"/><path fill="#0000cf" d="M486.2 368.8l.1-.2.1-.1.1 0 .2.2.1.2.1.3-1.8 0-.1-.4-.1-.3-.1-.1-.1 0-.1.1-.2.3z"/><path fill="#0000bf" d="M486.9 369.2l.1.4.1.5-1.7.1-.1-.5-.2-.5z"/><path fill="#0000af" d="M487.1 370.1l.1.5.1.4-1.7.4-.2-1.2z"/><path fill="#00008f" d="M487.3 371l.2.5.1.4.2.6.1.2.1.1.2.1.3.2 1.2.6.8.6.8.4.3.2.4.2.8.6.4.2 12.3 7.5-1.7.7-12.4-7.5-.3-.2-.8-.6-1.6-.8-.4-.3-.3-.3-1.6-.8-.2-.2-.1-.3-.2-.3-.1-.4-.2-1zM465.8 361.2l12.3 7.4.8.4.7.4.7.5 1.4.8.8.5.7.5.2 0 .1-.1.1-.2.2-.2.1-.4-1.7.4-.2.4-.1.4-.2.4-.2 0-.7-.6-.8-.5-.7-.3-.7-.4-.7-.6-.7-.3-.8-.4-12.3-7.4z"/><path fill="#0000af" d="M482.2 371.2l.1-.5.1-.6 1.7-.1-.2.8z"/><path fill="#0000bf" d="M482.4 370.1l.1-.6 1.7 0-.1.5z"/><path fill="#0000cf" d="M482.5 369.5l.2-1 1.7.3-.1.3-.1.4z"/><path fill="#0000df" d="M484.4 368.8l.2-.3.1-.1.1 0 .1.1.1.3.1.4-1.7-.3-.2-.8-.1-.1-.1 0-.1.2-.2.3z"/><path fill="#0000cf" d="M485.1 369.2l.2.5.1.5-1.7 0-.2-.7-.1-.6z"/><path fill="#0000bf" d="M485.4 370.2l.1.6-1.7.1-.1-.7z"/><path fill="#0000af" d="M485.5 370.8l.1.6.1.5-1.7.4-.2-1.4z"/><path fill="#00008f" d="M485.7 371.9l.1.5.1.4.2.3.1.3.2.2 1.6.8.3.3.4.3 1.6.8.8.6.3.2 12.4 7.5-1.7.7-12.4-7.5-.4-.2-.3-.3-.4-.3-1.6-.8-.8-.6-.3-.2-1.2-.6-.1-.1-.1-.2-.1-.3-.2-.3-.1-.5-.1-.6zM464.1 361.9l12.3 7.4.8.4.7.3.7.6.7.4.7.3.8.5.7.6.2 0 .2-.4.1-.4.2-.4-1.7.3-.1.6-.1.4-.2.3-.1.2-.1.1-.1-.1-1.4-1-.8-.4-.7-.3-.7-.6-.7-.3-.7-.4-12.4-7.4z"/><path fill="#0000af" d="M480.5 371.5l.1-.7 1.7-.1-.1.5z"/><path fill="#0000bf" d="M480.6 370.8l.1-.7 1.7 0-.1.6z"/><path fill="#0000cf" d="M480.7 370.1l.1-.8 1.7.2-.1.6z"/><path fill="#0000df" d="M480.8 369.3l.2-.7.1-.6 1.6.5-.2 1z"/><path fill="#0000ef" d="M481.1 368l.1-.4.1-.3 1.7.7-.1.2-.2.3z"/><path fill="#0000ff" d="M483 368l.1 0 .1.1-1.7-.6-.1-.2-.1 0z"/><path fill="#0000ef" d="M483.2 368.1l.2.8-1.6-.4-.2-.6-.1-.4z"/><path fill="#0000df" d="M483.4 368.9l.1.6.2.7-1.7-.2-.1-.8-.1-.7z"/><path fill="#0000cf" d="M483.7 370.2l.1.7-1.7 0-.1-.9z"/><path fill="#0000bf" d="M483.8 370.9l.1.7-1.7.2-.1-.9z"/><path fill="#0000af" d="M483.9 371.6l.1.7-1.7.3-.1-.8z"/><path fill="#00008f" d="M484 372.3l.1.6.1.5.2.3.1.3.1.2.1.1 1.2.6.3.2.8.6 1.6.8.4.3.3.3.4.2 12.4 7.5-1.7.7-12.3-7.5-.4-.2-.4-.3-.4-.4-.4-.2-.4-.1-.4-.2-.3-.3-.8-.6-.8-.4-.4-.1-.4-.2-.1-.1-.1-.2-.2-.8-.1-.6-.2-.7zM462.4 362.6l12.4 7.4.7.4.7.3.7.6.7.3.8.4 1.4 1 .1.1.1-.1.1-.2.2-.3.1-.4-1.6.3-.2.6-.1.4-.1.2-.1.1-.1 0-.7-.6-.8-.5-1.4-.6-.7-.7-.7-.2-.8-.4-12.3-7.5z"/><path fill="#0000af" d="M478.8 372.4l.1-.7 1.6-.2-.1.6z"/><path fill="#0000bf" d="M478.9 371.7l.1-.9 1.6 0-.1.7z"/><path fill="#0000cf" d="M479 370.8l.1-.9 1.6.2-.1.7z"/><path fill="#0000df" d="M479.1 369.9l.1-1 1.6.4-.1.8z"/><path fill="#0000ef" d="M479.2 368.9l.1-.8 1.7.5-.2.7z"/><path fill="#0000ff" d="M479.3 368.1l.1-.8 1.7.7-.1.6z"/><path fill="#0010ff" d="M481.1 368l.1-.4.1-.3.1 0 .1.2.1.4.2.6-1.7-.8-.1-.7-.1-.5-.1-.2-.1.1-.3.9z"/><path fill="#0000ff" d="M481.8 368.5l.1.7-1.6-.6-.2-.9z"/><path fill="#0000ef" d="M481.9 369.2l.1.8-1.6-.4-.1-1z"/><path fill="#0000df" d="M482 370l.1.9-1.6-.2-.1-1.1z"/><path fill="#0000cf" d="M482.1 370.9l.1.9-1.6 0-.1-1.1z"/><path fill="#0000bf" d="M482.2 371.8l.1.8-1.6.2-.1-1z"/><path fill="#0000af" d="M482.3 372.6l.2.7-1.7.3-.1-.8z"/><path fill="#00008f" d="M482.5 373.3l.1.6.2.8.1.2.1.1.4.2.4.1.8.4.8.6.3.3.4.2.4.1.4.2.4.4.4.3.4.2 12.3 7.5-1.6.6-12.4-7.4-.3-.2-.4-.3-.4-.4-.4-.3-.4 0-.4-.2-.4-.3-.7-.7-.4-.2-.4-.1-.4-.2-.4-.1-.2-.4-.1-.4-.2-.5-.1-.8zM460.8 363.2l12.3 7.5.8.4.7.2.7.7 1.4.6.8.5.7.6.1 0 .1-.1.1-.2.1-.4.2-.6-1.6.2-.1.8-.2.5-.1.3-.1.2-.1 0-1.4-1.2-.8-.3-.7-.3-.7-.7-.7-.2-.7-.4-12.4-7.4z"/><path fill="#0000af" d="M477.2 372.6l.1-.9 1.6 0-.1.7z"/><path fill="#0000bf" d="M477.3 371.7l.1-1 1.6.1-.1.9z"/><path fill="#0000df" d="M477.4 370.7l.1-1.2 1.6.4-.1.9z"/><path fill="#0000ef" d="M477.5 369.5l.1-1.2 1.6.6-.1 1z"/><path fill="#0000ff" d="M477.6 368.3l.1-1.1 1.6.9-.1.8z"/><path fill="#0020ff" d="M477.7 367.2l.2-.9 1.5 1-.1.8z"/><path fill="#0030ff" d="M477.9 366.3l.1-.8.1-.4 1.6 1.3-.3.9z"/><path fill="#0040ff" d="M478.1 365.1l.1-.1.1.2 1.6 1.3-.1-.2-.1.1z"/><path fill="#0030ff" d="M479.9 366.5l.1.5.1.7-1.5-1-.2-.9-.1-.6z"/><path fill="#0020ff" d="M480.1 367.7l.2.9-1.6-.8-.1-1.1z"/><path fill="#0000ff" d="M480.3 368.6l.1 1-1.6-.6-.1-1.2z"/><path fill="#0000ef" d="M480.4 369.6l.1 1.1-1.6-.4-.1-1.3z"/><path fill="#0000df" d="M480.5 370.7l.1 1.1-1.6-.2-.1-1.3z"/><path fill="#0000bf" d="M480.6 371.8l.1 1-1.6 0-.1-1.2z"/><path fill="#0000af" d="M480.7 372.8l.1.8-1.6.3-.1-1.1z"/><path fill="#00008f" d="M480.8 373.6l.1.8.2.5.1.4.2.4.4.1.4.2.4.1.4.2.7.7.4.3.4.2.4 0 .4.3.4.4.4.3.3.2 12.4 7.4-1.6.7-12.3-7.5-.4-.2-.4-.3-.4-.4-.4-.3-.4 0-.4-.2-.4-.3-.3-.4-.4-.3-.4-.2-.8-.2-.4-.2-.1-.1-.1-.3-.1-.5-.1-.6-.2-.9zM459.2 363.9l12.4 7.4.7.4.7.2.7.7.7.3.8.3 1.4 1.2.1 0 .1-.2.1-.3.2-.5-1.6.3-.1.7-.1.4-.1.2-.1 0-.8-.6-.7-.7-1.4-.4-.7-.8-.8-.2-.7-.3-12.3-7.5z"/><path fill="#0000af" d="M475.5 373.7l.1-.9 1.6-.2-.1.8z"/><path fill="#0000bf" d="M475.6 372.8l.1-1.1 1.6 0-.1.9z"/><path fill="#0000cf" d="M475.7 371.7l.2-1.4 1.5.4-.1 1z"/><path fill="#0000ef" d="M475.9 370.3l.1-1.4 1.5.6-.1 1.2z"/><path fill="#0010ff" d="M476 368.9l.1-1.5 1.5.9-.1 1.2z"/><path fill="#0020ff" d="M476.1 367.4l.1-1.4 1.5 1.2-.1 1.1z"/><path fill="#0040ff" d="M476.2 366l.1-1.2 1.6 1.5-.2.9z"/><path fill="#0050ff" d="M476.3 364.8l.1-.9 1.6 1.6-.1.8z"/><path fill="#0060ff" d="M476.4 363.9l.2-.5.1-.2.1.3.1.7 1.5 1.6-.1-.6-.1-.2-.1.1-.1.4z"/><path fill="#0050ff" d="M478.4 365.8l.2.9-1.6-1.4-.1-1.1z"/><path fill="#0040ff" d="M478.6 366.7l.1 1.1-1.6-1.2-.1-1.3z"/><path fill="#0020ff" d="M478.7 367.8l.1 1.2-1.6-.9-.1-1.5z"/><path fill="#0010ff" d="M478.8 369l.1 1.3-1.5-.6-.2-1.6z"/><path fill="#0000ef" d="M478.9 370.3l.1 1.3-1.5-.3-.1-1.6z"/><path fill="#0000cf" d="M479 371.6l.1 1.2-1.5 0-.1-1.5z"/><path fill="#0000bf" d="M479.1 372.8l.1 1.1-1.5.2-.1-1.3z"/><path fill="#0000af" d="M479.2 373.9l.2.9-1.6.3-.1-1z"/><path fill="#00008f" d="M479.4 374.8l.1.6.1.5.1.3.1.1.4.2.8.2.4.2.4.3.3.4.4.3.4.2.4 0 .4.3.4.4.4.3.4.2 12.3 7.5-1.5.6-12.4-7.4-.8-.6-.3-.5-.4-.2-.4 0-.4-.1-.8-.8-.4-.3-.4-.2-.3-.1-.4-.1-.4-.2-.1-.1-.3-.9-.1-.8zM457.7 364.5l12.3 7.5.7.3.8.2.7.8 1.4.4.7.7.8.6.1 0 .1-.2.1-.4.1-.7-1.5.3-.1.8-.1.5-.1.3-.1 0-.8-.7-.7-.6-1.4-.4-.7-.9-.7-.1-.8-.3-12.3-7.5z"/><path fill="#0000af" d="M474 374l.1-1.1 1.5-.1-.1.9z"/><path fill="#0000cf" d="M474.1 372.9l.2-1.5 1.4.3-.1 1.1z"/><path fill="#0000df" d="M474.3 371.4l.1-1.6 1.5.5-.2 1.4z"/><path fill="#0000ff" d="M474.4 369.8l.1-1.8 1.5.9-.1 1.4z"/><path fill="#0020ff" d="M474.5 368l.1-1.8 1.5 1.2-.1 1.5z"/><path fill="#0040ff" d="M474.6 366.2l.1-1.7 1.5 1.5-.1 1.4z"/><path fill="#0060ff" d="M474.7 364.5l.1-1.5 1.5 1.8-.1 1.2z"/><path fill="#0080ff" d="M474.8 363l.2-1.1 1.4 2-.1.9z"/><path fill="#008fff" d="M475 361.9l.1-.7.1-.2.1.4.1.8 1.5 2-.1-.7-.1-.3-.1.2-.2.5z"/><path fill="#0080ff" d="M476.9 364.2l.1 1.1-1.5-1.8-.1-1.3z"/><path fill="#0060ff" d="M477 365.3l.1 1.3-1.5-1.5-.1-1.6z"/><path fill="#0040ff" d="M477.1 366.6l.1 1.5-1.4-1.2-.2-1.8z"/><path fill="#0020ff" d="M477.2 368.1l.2 1.6-1.5-.9-.1-1.9z"/><path fill="#0000ff" d="M477.4 369.7l.1 1.6-1.5-.5-.1-2z"/><path fill="#0000df" d="M477.5 371.3l.1 1.5-1.5-.3-.1-1.7z"/><path fill="#0000cf" d="M477.6 372.8l.1 1.3-1.5 0-.1-1.6z"/><path fill="#0000af" d="M477.7 374.1l.1 1-1.5.3-.1-1.3z"/><path fill="#00008f" d="M477.8 375.1l.1.8.3.9.1.1.4.2.4.1.3.1.4.2.4.3.8.8.4.1.4 0 .4.2.3.5.8.6 12.4 7.4-1.5.6-12.4-7.4-.4-.3-.3-.3-.4-.5-.4-.3-.4.1-.4-.1-1.2-1.2-.3-.2-.4-.1-.4 0-.4-.2-.1-.1-.1-.4-.1-.7-.2-.9zM456.2 365.1l12.3 7.5.8.3.7.1.7.9 1.4.4.7.6.8.7.1 0 .1-.3.1-.5.1-.8-1.4.2-.1 1-.1.6-.1.3-.2.1-.7-.7-.7-.8-.7-.1-.7-.2-.8-.9-.7 0-.7-.4-12.3-7.4z"/><path fill="#0000bf" d="M472.6 374.2l.1-1.4 1.4.1-.1 1.1z"/><path fill="#0000df" d="M472.7 372.8l.1-1.8 1.5.4-.2 1.5z"/><path fill="#0000ff" d="M472.8 371l.1-2 1.5.8-.1 1.6z"/><path fill="#0020ff" d="M472.9 369l.2-2.1 1.4 1.1-.1 1.8z"/><path fill="#0050ff" d="M473.1 366.9l.1-2.2 1.4 1.5-.1 1.8z"/><path fill="#0070ff" d="M473.2 364.7l.1-2.1 1.4 1.9-.1 1.7z"/><path fill="#008fff" d="M473.3 362.6l.1-1.8 1.4 2.2-.1 1.5z"/><path fill="#00afff" d="M473.4 360.8l.1-1.4 1.5 2.5-.2 1.1z"/><path fill="#00bfff" d="M473.5 359.4l.1-.8 1.5 2.6-.1.7z"/><path fill="#00cfff" d="M473.6 358.6l.2-.3.1.4 1.4 2.7-.1-.4-.1.2z"/><path fill="#00bfff" d="M475.3 361.4l.1.8-1.4-2.5-.1-1z"/><path fill="#00afff" d="M475.4 362.2l.1 1.3-1.4-2.3-.1-1.5z"/><path fill="#008fff" d="M475.5 363.5l.1 1.6-1.4-1.9-.1-2z"/><path fill="#0070ff" d="M475.6 365.1l.2 1.8-1.5-1.5-.1-2.2z"/><path fill="#0050ff" d="M475.8 366.9l.1 1.9-1.5-1.1-.1-2.3z"/><path fill="#0020ff" d="M475.9 368.8l.1 2-1.4-.8-.2-2.3z"/><path fill="#0000ff" d="M476 370.8l.1 1.7-1.4-.3-.1-2.2z"/><path fill="#0000df" d="M476.1 372.5l.1 1.6-1.4-.1-.1-1.8z"/><path fill="#0000bf" d="M476.2 374.1l.1 1.3-1.4.2-.1-1.6z"/><path fill="#00008f" d="M476.3 375.4l.2.9.1.7.1.4.1.1.4.2.4 0 .4.1.3.2 1.2 1.2.4.1.4-.1.4.3.4.5.3.3.4.3 12.4 7.4-1.4.6-12.4-7.4-.4-.3-.4-.4-.4-.6-.3-.1-.4.1-.4-.2-.4-.3-.4-.5-.4-.4-.4-.2-.7 0-.4-.2-.3-.6-.1-.8-.1-1.1zM454.8 365.7l12.3 7.4.7.4.7 0 .8.9.7.2.7.1.7.8.7.7.2-.1.1-.3.1-.6-1.4.3-.1.8-.1.4-.1 0-.8-.7-.7-.8-1.4-.2-.7-1.1-.8.1-.7-.3-12.3-7.4z"/><path fill="#0000af" d="M471.1 375.5l.1-1.2 1.4-.1-.1 1z"/><path fill="#0000bf" d="M471.2 374.3l.1-1.7 1.4.2-.1 1.4z"/><path fill="#0000ef" d="M471.3 372.6l.2-2.1 1.3.5-.1 1.8z"/><path fill="#0010ff" d="M471.5 370.5l.1-2.4 1.3.9-.1 2z"/><path fill="#0040ff" d="M471.6 368.1l.1-2.7 1.4 1.5-.2 2.1z"/><path fill="#0070ff" d="M471.7 365.4l.1-2.6 1.4 1.9-.1 2.2z"/><path fill="#009fff" d="M471.8 362.8l.1-2.5 1.4 2.3-.1 2.1z"/><path fill="#00cfff" d="M471.9 360.3l.1-2.2 1.4 2.7-.1 1.8z"/><path fill="#00efff" d="M472 358.1l.1-1.7 1.4 3-.1 1.4z"/><path fill="#00ffff" d="M472.1 356.4l.2-1 1.3 3.2-.1.8z"/><path fill="#10ffef" d="M472.3 355.4l.1-.3.1.4 1.4 3.2-.1-.4-.2.3z"/><path fill="#00ffff" d="M473.9 358.7l.1 1-1.4-3-.1-1.2z"/><path fill="#00efff" d="M474 359.7l.1 1.5-1.4-2.7-.1-1.8z"/><path fill="#00cfff" d="M474.1 361.2l.1 2-1.4-2.4-.1-2.3z"/><path fill="#009fff" d="M474.2 363.2l.1 2.2-1.3-1.9-.2-2.7z"/><path fill="#0070ff" d="M474.3 365.4l.1 2.3-1.3-1.4-.1-2.8z"/><path fill="#0040ff" d="M474.4 367.7l.2 2.3-1.4-1-.1-2.7z"/><path fill="#0010ff" d="M474.6 370l.1 2.2-1.4-.6-.1-2.6z"/><path fill="#0000ef" d="M474.7 372.2l.1 1.8-1.4-.2-.1-2.2z"/><path fill="#0000bf" d="M474.8 374l.1 1.6-1.4.1-.1-1.9z"/><path fill="#0000af" d="M474.9 375.6l.1 1.1-1.4.3-.1-1.3z"/><path fill="#00008f" d="M475 376.7l.1.8.3.6.4.2.7 0 .4.2.4.4.4.5.4.3.4.2.4-.1.3.1.4.6.4.4.4.3 12.4 7.4-1.4.6-12.4-7.5-.4-.2-.3-.4-.4-.7-.4-.2-.4.2-.4-.1-.4-.4-.4-.5-.4-.4-.3-.2-.8 0-.4-.1-.1-.2-.3-1.5zM453.4 366.3l12.3 7.4.7.3.8-.1.7 1.1 1.4.2.7.8.8.7.1 0 .1-.4.1-.8-1.3.3-.1.9-.1.5-.1.1-.8-.9-.7-.8-.7 0-.7-.1-.7-1.2-.8.2-.7-.3-12.3-7.4z"/><path fill="#0000af" d="M469.8 375.8l.1-1.5 1.3 0-.1 1.2z"/><path fill="#0000cf" d="M469.9 374.3l.1-2 1.3.3-.1 1.7z"/><path fill="#0000ff" d="M470 372.3l.2-2.6 1.3.8-.2 2.1z"/><path fill="#0030ff" d="M470.2 369.7l.1-2.9 1.3 1.3-.1 2.4z"/><path fill="#0060ff" d="M470.3 366.8l.1-3.1 1.3 1.7-.1 2.7z"/><path fill="#009fff" d="M470.4 363.7l.1-3.2 1.3 2.3-.1 2.6z"/><path fill="#00cfff" d="M470.5 360.5l.1-3 1.3 2.8-.1 2.5z"/><path fill="#10ffef" d="M470.6 357.5l.1-2.6 1.3 3.2-.1 2.2z"/><path fill="#30ffcf" d="M470.7 354.9l.1-2 1.3 3.5-.1 1.7z"/><path fill="#50ffaf" d="M470.8 352.9l.2-1.2 1.3 3.7-.2 1z"/><path fill="#60ff9f" d="M471 351.7l.1-.4.1.5 1.3 3.7-.1-.4-.1.3z"/><path fill="#50ffaf" d="M472.5 355.5l.1 1.2-1.3-3.5-.1-1.4z"/><path fill="#30ffcf" d="M472.6 356.7l.1 1.8-1.3-3.2-.1-2.1z"/><path fill="#10ffef" d="M472.7 358.5l.1 2.3-1.3-2.7-.1-2.8z"/><path fill="#00cfff" d="M472.8 360.8l.2 2.7-1.3-2.3-.2-3.1z"/><path fill="#009fff" d="M473 363.5l.1 2.8-1.3-1.8-.1-3.3z"/><path fill="#0060ff" d="M473.1 366.3l.1 2.7-1.3-1.2-.1-3.3z"/><path fill="#0030ff" d="M473.2 369l.1 2.6-1.3-.7-.1-3.1z"/><path fill="#0000ff" d="M473.3 371.6l.1 2.2-1.3-.3-.1-2.6z"/><path fill="#0000cf" d="M473.4 373.8l.1 1.9-1.3 0-.1-2.2z"/><path fill="#0000af" d="M473.5 375.7l.1 1.3-1.3.3-.1-1.6z"/><path fill="#00008f" d="M473.6 377l.3 1.5.1.2.4.1.8 0 .3.2.4.4.4.5.4.4.4.1.4-.2.4.2.4.7.3.4.4.2 12.4 7.5-1.3.5-12.4-7.4-.4-.3-.3-.4-.4-.8-.4-.2-.4.3-.4-.1-.4-.4-.4-.6-.4-.4-.3-.2-.4 0-.4.1-.4-.1-.1-.2-.1-.6-.2-1.1zM452.1 366.8l12.3 7.4.7.3.8-.2.7 1.2.7.1.7 0 .7.8.8.9.1-.1.1-.5.1-.9-1.2.2-.1 1.1-.2.6-.1.1-1.4-1.8-1.4 0-.8-1.3-.7.3-.7-.3-12.4-7.4z"/><path fill="#0000bf" d="M468.6 376l.1-1.8 1.2.1-.1 1.5z"/><path fill="#0000df" d="M468.7 374.2l.1-2.4 1.2.5-.1 2z"/><path fill="#0010ff" d="M468.8 371.8l.1-3 1.3.9-.2 2.6z"/><path fill="#0050ff" d="M468.9 368.8l.1-3.4 1.3 1.4-.1 2.9z"/><path fill="#008fff" d="M469 365.4l.2-3.7 1.2 2-.1 3.1z"/><path fill="#00cfff" d="M469.2 361.7l.1-3.8 1.2 2.6-.1 3.2z"/><path fill="#10ffef" d="M469.3 357.9l.1-3.6 1.2 3.2-.1 3z"/><path fill="#50ffaf" d="M469.4 354.3l.1-3 1.2 3.6-.1 2.6z"/><path fill="#80ff80" d="M469.5 351.3l.1-2.4 1.2 4-.1 2z"/><path fill="#9fff60" d="M469.6 348.9l.1-1.5 1.3 4.3-.2 1.2z"/><path fill="#bfff40" d="M469.7 347.4l.1-.5.2.6 1.2 4.3-.1-.5-.1.4z"/><path fill="#9fff60" d="M471.2 351.8l.1 1.4-1.2-4-.1-1.7z"/><path fill="#80ff80" d="M471.3 353.2l.1 2.1-1.2-3.6-.1-2.5z"/><path fill="#50ffaf" d="M471.4 355.3l.1 2.8-1.2-3.2-.1-3.2z"/><path fill="#10ffef" d="M471.5 358.1l.2 3.1-1.3-2.6-.1-3.7z"/><path fill="#00cfff" d="M471.7 361.2l.1 3.3-1.3-2-.1-3.9z"/><path fill="#008fff" d="M471.8 364.5l.1 3.3-1.2-1.5-.2-3.8z"/><path fill="#0050ff" d="M471.9 367.8l.1 3.1-1.2-1-.1-3.6z"/><path fill="#0010ff" d="M472 370.9l.1 2.6-1.2-.5-.1-3.1z"/><path fill="#0000df" d="M472.1 373.5l.1 2.2-1.2-.1-.1-2.6z"/><path fill="#0000bf" d="M472.2 375.7l.1 1.6-1.2.2-.1-1.9z"/><path fill="#00008f" d="M472.3 377.3l.2 1.1.1.6.1.2.4.1.4-.1.4 0 .3.2.4.4.4.6.4.4.4.1.4-.3.4.2.4.8.3.4.4.3 12.4 7.4-1.3.5-12.3-7.4-.4-.3-.4-.5-.4-.8-.4-.2-.3.4-.4-.1-.4-.5-.4-.6-.4-.5-.4-.1-.4.1-.3.1-.4-.1-.2-.2-.1-.7-.1-1.3zM450.8 367.3l12.4 7.4.7.3.7-.3.8 1.3 1.4 0 1.4 1.8.1-.1.2-.6.1-1.1-1.2.1-.1 1.3-.1.7-.1.1-.7-1-.7-.9-.8.1-.7.1-.7-1.5-.7.4-.7-.2-12.4-7.4z"/><path fill="#0000bf" d="M467.4 376.1l.2-2.1 1.1.2-.1 1.8z"/><path fill="#0000ef" d="M467.6 374l.1-2.8 1.1.6-.1 2.4z"/><path fill="#0030ff" d="M467.7 371.2l.1-3.5 1.1 1.1-.1 3z"/><path fill="#0070ff" d="M467.8 367.7l.1-4 1.1 1.7-.1 3.4z"/><path fill="#00bfff" d="M467.9 363.7l.1-4.3 1.2 2.3-.2 3.7z"/><path fill="#10ffef" d="M468 359.4l.1-4.4 1.2 2.9-.1 3.8z"/><path fill="#60ff9f" d="M468.1 355l.1-4.2 1.2 3.5-.1 3.6z"/><path fill="#9fff60" d="M468.2 350.8l.2-3.6 1.1 4.1-.1 3z"/><path fill="#dfff20" d="M468.4 347.2l.1-2.8 1.1 4.5-.1 2.4z"/><path fill="#ffff00" d="M468.5 344.4l.1-1.7 1.1 4.7-.1 1.5z"/><path fill="#ffdf00" d="M468.6 342.7l.1-.6.1.7 1.2 4.7-.2-.6-.1.5z"/><path fill="#ffff00" d="M470 347.5l.1 1.7-1.2-4.5-.1-1.9z"/><path fill="#dfff20" d="M470.1 349.2l.1 2.5-1.1-4.1-.2-2.9z"/><path fill="#9fff60" d="M470.2 351.7l.1 3.2-1.1-3.5-.1-3.8z"/><path fill="#60ff9f" d="M470.3 354.9l.1 3.7-1.1-2.9-.1-4.3z"/><path fill="#10ffef" d="M470.4 358.6l.1 3.9-1.1-2.3-.1-4.5z"/><path fill="#00bfff" d="M470.5 362.5l.2 3.8-1.2-1.6-.1-4.5z"/><path fill="#0070ff" d="M470.7 366.3l.1 3.6-1.2-1.1-.1-4.1z"/><path fill="#0030ff" d="M470.8 369.9l.1 3.1-1.2-.5-.1-3.7z"/><path fill="#0000ef" d="M470.9 373l.1 2.6-1.1-.2-.2-2.9z"/><path fill="#0000bf" d="M471 375.6l.1 1.9-1.1.1-.1-2.2z"/><path fill="#00008f" d="M471.1 377.5l.1 1.3.1.7.2.2.4.1.3-.1.4-.1.4.1.4.5.4.6.4.5.4.1.3-.4.4.2.4.8.4.5.4.3 12.3 7.4-1.1.5-12.3-7.5-.4-.2-.4-.5-.4-1-.4-.1-.4.4-.4 0-.4-.5-.3-.7-.4-.6-.4-.1-.4.1-.4.2-.4 0-.1-.3-.1-.8-.1-1.5zM449.7 367.8l12.4 7.4.7.2.7-.4.7 1.5.7-.1.8-.1.7.9.7 1 .1-.1.1-.7-1 .3-.1.8-.1.2-.8-1.1-.7-1.1-.7.3-.7.1-.7-1.6-.7.5-.8-.2-12.3-7.4z"/><path fill="#0000af" d="M466.3 377.7l.1-1.5 1-.1-.1 1.3z"/><path fill="#0000cf" d="M466.4 376.2l.1-2.4 1.1.2-.2 2.1z"/><path fill="#0000ff" d="M466.5 373.8l.1-3.3 1.1.7-.1 2.8z"/><path fill="#0040ff" d="M466.6 370.5l.2-4 1 1.2-.1 3.5z"/><path fill="#008fff" d="M466.8 366.5l.1-4.6 1 1.8-.1 4z"/><path fill="#00efff" d="M466.9 361.9l.1-5 1 2.5-.1 4.3z"/><path fill="#40ffbf" d="M467 356.9l.1-5.1 1 3.2-.1 4.4z"/><path fill="#9fff60" d="M467.1 351.8l.1-4.7 1 3.7-.1 4.2z"/><path fill="#efff10" d="M467.2 347.1l.1-4.2 1.1 4.3-.2 3.6z"/><path fill="#ffcf00" d="M467.3 342.9l.2-3.2 1 4.7-.1 2.8z"/><path fill="#ff9f00" d="M467.5 339.7l.1-2 1 5-.1 1.7z"/><path fill="#ff8000" d="M467.6 337.7l.1-.6.1.7 1 5-.1-.7-.1.6z"/><path fill="#ff9f00" d="M468.8 342.8l.1 1.9-1-4.7-.1-2.2z"/><path fill="#ffcf00" d="M468.9 344.7l.2 2.9-1.1-4.3-.1-3.3z"/><path fill="#efff10" d="M469.1 347.6l.1 3.8-1.1-3.8-.1-4.3z"/><path fill="#9fff60" d="M469.2 351.4l.1 4.3-1-3.2-.2-4.9z"/><path fill="#40ffbf" d="M469.3 355.7l.1 4.5-1-2.5-.1-5.2z"/><path fill="#00efff" d="M469.4 360.2l.1 4.5-1-1.8-.1-5.2z"/><path fill="#008fff" d="M469.5 364.7l.1 4.1-1-1.2-.1-4.7z"/><path fill="#0040ff" d="M469.6 368.8l.1 3.7-1-.7-.1-4.2z"/><path fill="#0000ff" d="M469.7 372.5l.2 2.9-1.1-.2-.1-3.4z"/><path fill="#0000cf" d="M469.9 375.4l.1 2.2-1 .1-.2-2.5z"/><path fill="#0000af" d="M470 377.6l.1 1.5-1 .3-.1-1.7z"/><path fill="#00008f" d="M470.1 379.1l.1.8.1.3.4 0 .4-.2.4-.1.4.1.4.6.3.7.4.5.4 0 .4-.4.4.1.4 1 .4.5.4.2 12.3 7.5-1 .4-12.4-7.4-.4-.3-.3-.6-.4-1-.4-.2-.4.6-.4 0-.4-.6-.4-.7-.4-.6-.3-.2-.4.3-.4.2-.4 0-.1-.3-.1-.9zM448.7 368.2l12.3 7.4.8.2.7-.5.7 1.6.7-.1.7-.3.7 1.1.8 1.1.1-.2.1-.8-.9.2-.1.9-.1.2-.7-1.1-.8-1.2-1.4.6-.7-1.8-.7.7-.7-.2-12.4-7.4z"/><path fill="#0000af" d="M465.4 377.9l.1-1.7.9 0-.1 1.5z"/><path fill="#0000df" d="M465.5 376.2l.1-2.7.9.3-.1 2.4z"/><path fill="#0010ff" d="M465.6 373.5l.2-3.7.8.7-.1 3.3z"/><path fill="#0060ff" d="M465.8 369.8l.1-4.5.9 1.2-.2 4z"/><path fill="#00bfff" d="M465.9 365.3l.1-5.2.9 1.8-.1 4.6z"/><path fill="#20ffdf" d="M466 360.1l.1-5.6.9 2.4-.1 5z"/><path fill="#80ff80" d="M466.1 354.5l.1-5.8.9 3.1-.1 5.1z"/><path fill="#efff10" d="M466.2 348.7l.1-5.3.9 3.7-.1 4.7z"/><path fill="#ffbf00" d="M466.3 343.4l.2-4.7.8 4.2-.1 4.2z"/><path fill="#ff7000" d="M466.5 338.7l.1-3.6.9 4.6-.2 3.2z"/><path fill="#ff3000" d="M466.6 335.1l.1-2.3.9 4.9-.1 2z"/><path fill="#ff2000" d="M466.7 332.8l.1-.7.1.8.9 4.9-.1-.7-.1.6z"/><path fill="#ff3000" d="M467.8 337.8l.1 2.2-.9-4.7-.1-2.4z"/><path fill="#ff7000" d="M467.9 340l.1 3.3-.9-4.2-.1-3.8z"/><path fill="#ffbf00" d="M468 343.3l.1 4.3-.8-3.7-.2-4.8z"/><path fill="#efff10" d="M468.1 347.6l.2 4.9-.9-3.1-.1-5.5z"/><path fill="#80ff80" d="M468.3 352.5l.1 5.2-.9-2.4-.1-5.9z"/><path fill="#20ffdf" d="M468.4 357.7l.1 5.2-.9-1.8-.1-5.8z"/><path fill="#00bfff" d="M468.5 362.9l.1 4.7-.9-1.2-.1-5.3z"/><path fill="#0060ff" d="M468.6 367.6l.1 4.2-.9-.7-.1-4.7z"/><path fill="#0010ff" d="M468.7 371.8l.1 3.4-.8-.3-.2-3.8z"/><path fill="#0000df" d="M468.8 375.2l.2 2.5-.9 0-.1-2.8z"/><path fill="#0000af" d="M469 377.7l.1 1.7-.9.2-.1-1.9z"/><path fill="#00008f" d="M469.1 379.4l.1.9.1.3.4 0 .4-.2.4-.3.3.2.4.6.4.7.4.6.4 0 .4-.6.4.2.4 1 .3.6.4.3 12.4 7.4-.9.4-12.3-7.5-.4-.2-.4-.6-.4-1.2-.4-.1-.4.7-.4 0-.4-.7-.3-.8-.4-.6-.4-.1-.4.2-.4.4-.4 0-.1-.4-.1-1zM447.8 368.6l12.4 7.4.7.2.7-.7.7 1.8 1.4-.6.8 1.2.7 1.1.1-.2.1-.9-.6.2-.1.9-.1.3-.7-1.2-.8-1.2-1.4.6-.7-1.9-.7.8-.7-.2-12.4-7.4z"/><path fill="#0000af" d="M464.8 378.1l.1-1.9.6 0-.1 1.7z"/><path fill="#0000df" d="M464.9 376.2l.1-3 .6.3-.1 2.7z"/><path fill="#0020ff" d="M465 373.2l.2-3.9.6.5-.2 3.7z"/><path fill="#0070ff" d="M465.2 369.3l.1-4.9.6.9-.1 4.5z"/><path fill="#00cfff" d="M465.3 364.4l.1-5.7.6 1.4-.1 5.2z"/><path fill="#40ffbf" d="M465.4 358.7l.1-6.1.6 1.9-.1 5.6z"/><path fill="#bfff40" d="M465.5 352.6l.1-6.2.6 2.3-.1 5.8z"/><path fill="#ffcf00" d="M465.6 346.4l.1-5.9.6 2.9-.1 5.3z"/><path fill="#ff7000" d="M465.7 340.5l.2-5 .6 3.2-.2 4.7z"/><path fill="#ff2000" d="M465.9 335.5l.1-4 .6 3.6-.1 3.6z"/><path fill="#df0000" d="M466 331.5l.1-2.4.6 3.7-.1 2.3z"/><path fill="#bf0000" d="M466.1 329.1l.1-.8.1.9.6 3.7-.1-.8-.1.7z"/><path fill="#df0000" d="M466.9 332.9l.1 2.4-.6-3.5-.1-2.6z"/><path fill="#ff2000" d="M467 335.3l.1 3.8-.6-3.2-.1-4.1z"/><path fill="#ff7000" d="M467.1 339.1l.2 4.8-.6-2.8-.2-5.2z"/><path fill="#ffcf00" d="M467.3 343.9l.1 5.5-.6-2.3-.1-6z"/><path fill="#bfff40" d="M467.4 349.4l.1 5.9-.6-1.9-.1-6.3z"/><path fill="#40ffbf" d="M467.5 355.3l.1 5.8-.6-1.4-.1-6.3z"/><path fill="#00cfff" d="M467.6 361.1l.1 5.3-.6-.9-.1-5.8z"/><path fill="#0070ff" d="M467.7 366.4l.1 4.7-.6-.6-.1-5z"/><path fill="#0020ff" d="M467.8 371.1l.2 3.8-.6-.3-.2-4.1z"/><path fill="#0000df" d="M468 374.9l.1 2.8-.6 0-.1-3.1z"/><path fill="#0000af" d="M468.1 377.7l.1 1.9-.6.1-.1-2z"/><path fill="#00008f" d="M468.2 379.6l.1 1 .1.4.4 0 .4-.4.4-.2.4.1.4.6.3.8.4.7.4 0 .4-.7.4.1.4 1.2.4.6.4.2 12.3 7.5-.6.2-12.4-7.4-.3-.3-.4-.6-.4-1.3-.4-.1-.4.8-.4 0-.4-.6-.3-.9-.4-.7-.4-.1-.4.3-.4.4-.4 0-.1-.3-.1-1.2z"/></g><path d="M53.6 253.8l1.4 0 .3-.1 2.2 0 .3-.1 1.1 0 .2-.1.9 0 .2-.1.6 0 .3-.1.5 0 .3-.1.3 0 .3-.1.2 0 .6-.2.3 0 .2-.1.3-.1.3 0 .6-.2.2-.1.9-.3.2-.1.3-.1.3-.2.3-.1.2-.2.3-.1.3-.2.3-.1.3-.2.2-.2.9-.6.2-.3.3-.2.3-.3.3-.2.2-.3.9-.9.3-.4.2-.3.9-1.2.2-.4.3-.4.6-1 .2-.5.9-1.5.3-.6.2-.6.3-.6.3-.7.3-.6.2-.7.3-.7.3-.8.3-.7.2-.8.6-1.6.3-.9.2-.8.3-.9.3-1 .3-.9.3-1 .2-1 .3-1 .3-1.1.3-1 .2-1.1.3-1.2.3-1.1.3-1.2.2-1.2.6-2.4.3-1.3.3-1.2.2-1.3.3-1.3.3-1.4.3-1.3.2-1.4.3-1.3.6-2.8.2-1.4.6-2.8.3-1.5.3-1.4.2-1.4.3-1.5.6-2.8.2-1.4.3-1.4.3-1.5.3-1.4.2-1.3.3-1.4.3-1.3.3-1.4.3-1.3.2-1.3.3-1.2.3-1.3.3-1.2.2-1.1.3-1.2.3-1 .3-1.1.2-1 .3-1 .6-1.8.3-.8.2-.7.6-1.4.3-.6.2-.5.3-.5.3-.3.3-.4.2-.2.6-.2.6.2.2.2.3.4.3.3.3.5.2.5.3.6.6 1.4.2.7.3.8.6 1.8.3 1 .2 1 .3 1.1.3 1 .3 1.2.2 1.1.3 1.2.3 1.3.3 1.2.2 1.3.3 1.3.3 1.4.3 1.3.3 1.4.2 1.3.3 1.4.3 1.5.3 1.4.2 1.4.6 2.8.3 1.5.2 1.4.3 1.4.3 1.5.6 2.8.2 1.4.6 2.8.3 1.3.2 1.4.3 1.3.3 1.4.3 1.3.2 1.3.3 1.2.3 1.3.6 2.4.2 1.2.3 1.2.3 1.1.3 1.2.2 1.1.3 1 .3 1.1.3 1 .2 1 .3 1 .3.9.3 1 .3.9.2.8.3.9.6 1.6.2.8.3.7.3.8.3.7.2.7.3.6.3.7.3.6.2.6.3.6.9 1.5.2.5.6 1 .3.4.2.4.9 1.2.2.3.3.4.9.9.2.3.3.2.3.3.3.2.2.3.9.6.2.2.3.2.3.1.3.2.3.1.2.2.3.1.3.2.3.1.2.1.9.3.2.1.6.2.3 0 .3.1.2.1.3 0 .6.2.2 0 .3.1.3 0 .3.1.5 0 .3.1.6 0 .2.1.9 0 .2.1 1.1 0 .3.1 2.2 0 .3.1 1.4 0" stroke="#4ba0dd" stroke-width="1.2" fill="none"/><path d="M53.6 253.7l2.5 0 .3-.1 1.4 0 .2-.1.9 0 .2-.1.9 0 .2-.1.6 0 .3-.1.3 0 .2-.1.6 0 .3-.1.2 0 .3-.1.3 0 .3-.1.2-.1.3 0 .6-.2.3 0 .2-.1.9-.3.2-.1.9-.3.2-.1.6-.2.3-.2.3-.1.2-.1.3-.2.3-.1.3-.2.2-.1.9-.6.2-.2.3-.1.3-.3.6-.4.2-.2.3-.2.3-.3.3-.2.2-.3.3-.3.3-.2.3-.3.2-.3.6-.6.3-.4.3-.3.2-.3.3-.4.3-.3.3-.4.2-.4.9-1.2.2-.4.3-.4.3-.5.3-.4.2-.5.3-.4.9-1.5.2-.5.3-.5.3-.6.3-.5.2-.5.3-.6.3-.5.3-.6.2-.6.3-.5.9-1.8.2-.6.9-1.8.2-.7.9-1.8.2-.7.6-1.2.3-.7.3-.6.2-.6.3-.6.3-.7.3-.6.2-.6.9-1.8.2-.6.3-.5.6-1.2.3-.5.2-.6.9-1.5.2-.5.3-.4.3-.5.3-.4.2-.4.9-1.2.3-.3.2-.3.3-.3.3-.2.5-.5.3-.2.3-.1.3-.2.2 0 .3-.1.6 0 .3.1.2 0 .3.2.3.1.3.2.5.5.3.2.3.3.2.3.3.3.9 1.2.2.4.3.4.3.5.3.4.2.5.9 1.5.2.6.3.5.6 1.2.3.5.2.6.9 1.8.2.6.3.6.3.7.3.6.2.6.3.6.3.7.6 1.2.2.7.9 1.8.2.7.9 1.8.2.6.9 1.8.3.5.2.6.3.6.3.5.3.6.2.5.3.5.3.6.3.5.2.5.9 1.5.3.4.2.5.3.4.3.5.3.4.2.4.9 1.2.2.4.3.4.3.3.3.4.2.3.3.3.3.4.6.6.2.3.3.3.3.2.3.3.2.3.3.2.3.3.3.2.2.2.6.4.3.3.3.1.2.2.9.6.2.1.3.2.3.1.3.2.2.1.3.1.3.2.6.2.2.1.9.3.2.1.9.3.2.1.3 0 .6.2.3 0 .2.1.3.1.3 0 .3.1.2 0 .3.1.6 0 .2.1.3 0 .3.1.6 0 .2.1.9 0 .2.1.9 0 .2.1 1.4 0 .3.1 2.5 0" stroke="#5cad48" stroke-width="1.2" fill="none" stroke-dasharray="3.2 2"/><path d="M53.6 253.3l1.1 0 .3-.1 1.1 0 .3-.1.8 0 .3-.1.8 0 .3-.1.5 0 .3-.1.6 0 .2-.1.6 0 .3-.1.5 0 .3-.1.3 0 .3-.1.5 0 .3-.1.3 0 .2-.1.3 0 .3-.1.3 0 .3-.1.2 0 .3-.1.3 0 .3-.1.2 0 .3-.1.3 0 .3-.1.2 0 .3-.1.3 0 .6-.2.2 0 .3-.1.3 0 .3-.1.2-.1.3 0 .6-.2.2-.1.3 0 .6-.2.3 0 .2-.1.6-.2.3 0 .2-.1.9-.3.2 0 1.2-.4.2-.1.3 0 .6-.2.2-.1.9-.3.2-.1.3 0 .6-.2.2-.1 1.2-.4.2-.1.9-.3.2 0 .9-.3.2-.1 1.2-.4.2-.1.9-.3.2 0 .9-.3.2-.1.6-.2.3 0 .3-.1.2-.1.6-.2.3 0 .2-.1.6-.2.3 0 .2-.1.6-.2.3 0 .3-.1.2 0 .6-.2.3 0 .2-.1.3 0 .3-.1.3 0 .2-.1.3 0 .3-.1.6 0 .2-.1.6 0 .3-.1 3.8 0 .3.1.6 0 .2.1.6 0 .3.1.3 0 .2.1.3 0 .3.1.3 0 .2.1.3 0 .6.2.2 0 .3.1.3 0 .6.2.2.1.3 0 .6.2.2.1.3 0 .6.2.2.1.3.1.3 0 .6.2.2.1.9.3.2 0 .9.3.2.1 1.2.4.2.1.9.3.2 0 .9.3.2.1 1.2.4.2.1.6.2.3 0 .2.1.9.3.2.1.6.2.3 0 .2.1 1.2.4.2 0 .9.3.2.1.3 0 .6.2.2.1.3 0 .6.2.3 0 .2.1.6.2.3 0 .2.1.3.1.3 0 .3.1.2 0 .6.2.3 0 .3.1.2 0 .3.1.3 0 .3.1.2 0 .3.1.3 0 .3.1.2 0 .3.1.3 0 .3.1.3 0 .2.1.3 0 .3.1.5 0 .3.1.3 0 .3.1.5 0 .3.1.6 0 .2.1.6 0 .3.1.5 0 .3.1.8 0 .3.1.8 0 .3.1 1.1 0 .3.1 1.1 0" stroke="#cc3d62" stroke-width="1.0" fill="none" stroke-dasharray="3 1.2 0.8 1.2"/><path d="M53.6 158.6H142.2V253.8H53.6Z" stroke="#858585" stroke-width="1.1" fill="none"/><path d="M75.8 253.8v-1.3M75.8 158.6v1.3M97.9 253.8v-1.3M97.9 158.6v1.3M120 253.8v-1.3M120 158.6v1.3M53.6 206.2h1.3M142.2 206.2h-1.3" stroke="#858585" stroke-width="1" fill="none"/><path d="M184 254.1l32.4 0 .2-.1.6-.4.3-.3.2-.4.9-1.2.2-.3.6-.4.6 0 .2.1.3.2.3.3.3.4.2.3.9 1.2.2.2.6.4.3 0 .2-.5.3-1.3.3-2.2.3-3.3.3-4.4.2-5.6.3-6.6.3-7.5.3-8.3.2-8.7.3-8.9.3-8.6.3-8.1.2-7.2.3-6 .3-4.5.3-2.8.2-.9.3.9.3 2.8.3 4.5.3 6 .2 7.2.3 8.1.3 8.6.3 8.9.2 8.7.3 8.3.3 7.5.3 6.6.2 5.6.3 4.4.3 3.3.3 2.2.3 1.3.2.5.3 0 .6-.4.2-.2.9-1.2.2-.3.3-.4.3-.3.3-.2.2-.1.6 0 .6.4.2.3.9 1.2.2.4.3.3.6.4.2.1 32.4 0" stroke="#8f88bb" stroke-width="1.0" fill="none"/><path d="M184 254.1l32.4 0 .2-.1.6-.4.3-.3.2-.4.9-1.2.2-.3.6-.4.6 0 .2.1.3.2.3.3.3.4.2.3.9 1.2.2.2.6.4.3 0 .2-.5.3-1.3.3-2.2.3-3.3.3-4.4.2-5.6.3-6.6.3-7.5.3-8.3.2-8.7.3-8.9.3-8.6.3-8.1.2-7.2.3-6 .3-4.5.3-2.8.2-.9.3.9.3 2.8.3 4.5.3 6 .2 7.2.3 8.1.3 8.6.3 8.9.2 8.7.3 8.3.3 7.5.3 6.6.2 5.6.3 4.4.3 3.3.3 2.2.3 1.3.2.5.3 0 .6-.4.2-.2.9-1.2.2-.3.3-.4.3-.3.3-.2.2-.1.6 0 .6.4.2.3.9 1.2.2.4.3.3.6.4.2.1 32.4 0" stroke="#d2506f" stroke-width="1.0" fill="none" stroke-dasharray="2.6 1.2 1 1.2"/><path d="M184 158.7H272.5V254.1H184Z" stroke="#858585" stroke-width="1.1" fill="none"/><path d="M206.1 254.1v-1.3M206.1 158.7v1.3M228.2 254.1v-1.3M228.2 158.7v1.3M250.4 254.1v-1.3M250.4 158.7v1.3M184 206.4h1.3M272.5 206.4h-1.3" stroke="#858585" stroke-width="1" fill="none"/><path d="M316.4 254.4l.3 0 .3-.1 2.2 0 .2-.1 1.1 0 .3-.1.9 0 .2-.1.6 0 .3-.1.5 0 .3-.1.3 0 .2-.1.3 0 .3-.1.3 0 .2-.1.3-.1.3 0 .6-.2.2-.1.3-.1.3 0 .3-.1.2-.1.3-.2.6-.2.2-.1.3-.2.6-.2.3-.2.2-.2.3-.1.6-.4.2-.2.3-.2.3-.3.3-.2.2-.3.3-.2.6-.6.2-.3.9-.9.3-.4.2-.4.9-1.2.2-.4.3-.5.3-.4.3-.5.2-.5.3-.6.3-.5.3-.6.2-.5.3-.7.6-1.2.3-.7.2-.7.3-.7.3-.8.3-.7.2-.8.6-1.6.3-.9.2-.9.9-2.7.3-1 .2-1 .3-1 .3-1.1.3-1 .2-1.1.3-1.1.3-1.2.3-1.1.2-1.2.9-3.6.2-1.3.3-1.2.9-3.9.2-1.3.3-1.4.3-1.3.3-1.4.2-1.4.3-1.3.6-2.8.2-1.4.9-4.2.2-1.4.3-1.4.3-1.3.6-2.8.2-1.3.3-1.4.6-2.6.2-1.3.6-2.4.3-1.3.2-1.1.3-1.2.6-2.2.2-1 .6-2 .6-1.8.2-.8.3-.8.6-1.4.2-.6.3-.6.3-.5.3-.4.2-.4.3-.3.3-.2.3-.1.2-.1.6.2.3.2.3.3.2.4.3.4.3.5.3.6.2.6.6 1.4.3.8.2.8.6 1.8.6 2 .2 1 .6 2.2.3 1.2.2 1.1.3 1.3.6 2.4.2 1.3.6 2.6.3 1.4.2 1.3.6 2.8.3 1.3.3 1.4.2 1.4.9 4.2.2 1.4.6 2.8.3 1.3.2 1.4.3 1.4.3 1.3.3 1.4.2 1.3.9 3.9.3 1.2.2 1.3.9 3.6.2 1.2.3 1.1.3 1.2.3 1.1.2 1.1.3 1 .3 1.1.3 1 .2 1 .3 1 .9 2.7.2.9.3.9.6 1.6.2.8.3.7.3.8.3.7.2.7.3.7.6 1.2.3.7.2.5.3.6.3.5.3.6.2.5.3.5.3.4.3.5.2.4.9 1.2.2.4.3.4.9.9.2.3.6.6.3.2.2.3.3.2.3.3.3.2.2.2.6.4.3.1.2.2.3.2.6.2.3.2.2.1.6.2.3.2.2.1.3.1.3 0 .3.1.2.1.6.2.3 0 .2.1.3.1.3 0 .3.1.3 0 .2.1.3 0 .3.1.5 0 .3.1.6 0 .2.1.9 0 .3.1 1.1 0 .2.1 2.2 0 .3.1.3 0" stroke="#4ba0dd" stroke-width="1.2" fill="none"/><path d="M316.4 254.3l1.1 0 .3-.1 1.6 0 .3-.1.8 0 .3-.1.9 0 .2-.1.6 0 .3-.1.5 0 .3-.1.3 0 .2-.1.3 0 .3-.1.3 0 .2-.1.3 0 .6-.2.3 0 .2-.1.3-.1.3 0 .3-.1.2-.1.9-.3.2-.1 1.2-.4.2-.1.3-.2.6-.2.2-.2.3-.1.6-.4.2-.1.9-.6.2-.2 1.2-.8.5-.5.3-.2.3-.3.2-.3.3-.2.6-.6.2-.3.9-.9.2-.4.6-.6.6-.8.2-.3.9-1.2.2-.4.3-.5.6-.8.2-.5.3-.5.3-.4.6-1 .2-.5.9-1.5.2-.5.3-.6.6-1 .2-.6.3-.6.3-.5.3-.6.2-.6.3-.6.3-.5.6-1.2.2-.6.9-1.8.2-.6.9-1.8.2-.6.3-.7.3-.6.3-.5.2-.6 1.2-2.4.2-.5.3-.6.3-.5.3-.6.2-.5.9-1.5.2-.5.3-.5.3-.4.3-.5.2-.4.9-1.2.3-.3.2-.4.6-.6.3-.2.2-.3.9-.6.2-.1.9-.3.5 0 .9.3.2.1.9.6.2.3.3.2.6.6.2.4.3.3.9 1.2.2.4.3.5.3.4.3.5.2.5.9 1.5.2.5.3.6.3.5.3.6.2.5 1.2 2.4.2.6.3.5.3.6.3.7.2.6.9 1.8.2.6.9 1.8.2.6.6 1.2.3.5.3.6.2.6.3.6.3.5.3.6.2.6.6 1 .3.6.2.5.9 1.5.2.5.6 1 .3.4.3.5.2.5.6.8.3.5.2.4.9 1.2.2.3.6.8.6.6.2.4.9.9.2.3.6.6.3.2.2.3.3.3.3.2.5.5 1.2.8.2.2.9.6.2.1.6.4.3.1.2.2.6.2.3.2.2.1 1.2.4.2.1.9.3.2.1.3.1.3 0 .3.1.2.1.3 0 .6.2.2 0 .3.1.3 0 .3.1.3 0 .2.1.3 0 .3.1.5 0 .3.1.6 0 .2.1.9 0 .3.1.8 0 .3.1 1.6 0 .3.1 1.1 0" stroke="#5cad48" stroke-width="1.2" fill="none" stroke-dasharray="3.2 2"/><path d="M316.4 253.8l1.1 0 .3-.1.8 0 .3-.1.8 0 .3-.1.8 0 .3-.1.6 0 .2-.1.6 0 .3-.1.5 0 .3-.1.3 0 .2-.1.6 0 .3-.1.2 0 .3-.1.6 0 .3-.1.2 0 .3-.1.3 0 .3-.1.2 0 .3-.1.3 0 .3-.1.2 0 .3-.1.3 0 .6-.2.2 0 .3-.1.3 0 .3-.1.2-.1.3 0 .6-.2.2 0 .6-.2.3 0 .2-.1.3-.1.3 0 .6-.2.2 0 .9-.3.2-.1.3 0 .6-.2.2-.1.3 0 .6-.2.2-.1.6-.2.3 0 .3-.1.2-.1.9-.3.2-.1.3-.1.3 0 .3-.1.2-.1 1.2-.4.2-.1.6-.2.3 0 .2-.1.9-.3.2-.1.9-.3.2-.1.3 0 .9-.3.2-.1.9-.3.2 0 .9-.3.2-.1.3 0 .6-.2.2-.1.3 0 .9-.3.2 0 .6-.2.3 0 .2-.1.3-.1.3 0 .3-.1.2 0 .3-.1.3 0 .3-.1.2 0 .3-.1.3 0 .3-.1.5 0 .3-.1.6 0 .2-.1 1.1 0 .3-.1 1.7 0 .3.1 1.1 0 .2.1.6 0 .3.1.5 0 .3.1.3 0 .3.1.2 0 .3.1.3 0 .3.1.2 0 .3.1.3 0 .3.1.2.1.3 0 .6.2.2 0 .9.3.3 0 .2.1.6.2.3 0 .2.1.9.3.2 0 .9.3.2.1.9.3.3 0 .2.1.9.3.2.1.9.3.2.1.3 0 .6.2.2.1 1.2.4.2.1.3.1.3 0 .3.1.2.1.9.3.2.1.3.1.3 0 .6.2.2.1.6.2.3 0 .2.1.6.2.3 0 .2.1.9.3.2 0 .6.2.3 0 .3.1.2.1.3 0 .6.2.2 0 .6.2.3 0 .2.1.3.1.3 0 .3.1.2 0 .6.2.3 0 .3.1.2 0 .3.1.3 0 .3.1.2 0 .3.1.3 0 .3.1.2 0 .3.1.6 0 .2.1.3 0 .3.1.6 0 .2.1.3 0 .3.1.5 0 .3.1.6 0 .2.1.6 0 .3.1.8 0 .3.1.8 0 .3.1.8 0 .3.1 1.1 0" stroke="#cc3d62" stroke-width="1.0" fill="none" stroke-dasharray="3 1.2 0.8 1.2"/><path d="M316.4 158.9H404.9V254.4H316.4Z" stroke="#858585" stroke-width="1.1" fill="none"/><path d="M338.5 254.4v-1.3M338.5 158.9v1.3M360.6 254.4v-1.3M360.6 158.9v1.3M382.8 254.4v-1.3M382.8 158.9v1.3M316.4 206.7h1.3M404.9 206.7h-1.3" stroke="#858585" stroke-width="1" fill="none"/><path d="M447.2 255l35 0 .3-.2.3-.6.2-1 .6-2.4.3-1.1.2-.8.3-.4.3 0 .3.4.2.8.3 1.1.6 2.4.2.9.3.7.3.2.3-.4.2-1.5.3-2.6.3-4.1.3-5.6.2-6.9.3-8.3.3-9.3.3-9.9.2-10.1.3-9.8.3-8.9.3-7.6.2-5.7.3-3.6.3-1.2.3 1.2.3 3.6.2 5.7.3 7.6.3 8.9.3 9.8.2 10.1.3 9.9.3 9.3.3 8.3.2 6.9.3 5.6.3 4.1.3 2.6.2 1.5.3.4.3-.2.3-.7.2-.9.6-2.4.3-1.1.2-.8.3-.4.3 0 .3.4.2.8.3 1.1.6 2.4.2 1 .3.6.3.2 35 0" stroke="#8f88bb" stroke-width="1.0" fill="none"/><path d="M447.2 255l35 0 .3-.2.3-.6.2-1 .6-2.4.3-1.1.2-.8.3-.4.3 0 .3.4.2.8.3 1.1.6 2.4.2.9.3.7.3.2.3-.4.2-1.5.3-2.6.3-4.1.3-5.6.2-6.9.3-8.3.3-9.3.3-9.9.2-10.1.3-9.8.3-8.9.3-7.6.2-5.7.3-3.6.3-1.2.3 1.2.3 3.6.2 5.7.3 7.6.3 8.9.3 9.8.2 10.1.3 9.9.3 9.3.3 8.3.2 6.9.3 5.6.3 4.1.3 2.6.2 1.5.3.4.3-.2.3-.7.2-.9.6-2.4.3-1.1.2-.8.3-.4.3 0 .3.4.2.8.3 1.1.6 2.4.2 1 .3.6.3.2 35 0" stroke="#d2506f" stroke-width="1.0" fill="none" stroke-dasharray="2.6 1.2 1 1.2"/><path d="M447.2 159.5H535.4V255H447.2Z" stroke="#858585" stroke-width="1.1" fill="none"/><path d="M469.2 255v-1.3M469.2 159.5v1.3M491.3 255v-1.3M491.3 159.5v1.3M513.4 255v-1.3M513.4 159.5v1.3M447.2 207.2h1.3M535.4 207.2h-1.3" stroke="#858585" stroke-width="1" fill="none"/><path d="M52.3 511.7l1.1 0 .3-.1 1.1 0 .3-.1.8 0 .3-.1.5 0 .3-.1.3 0 .3-.1.5 0 .6-.2.3 0 .2-.1.3 0 .6-.2.3 0 .2-.1.9-.3.2-.1 1.2-.4.2-.1.3-.2.3-.1.3-.2.2-.1.3-.2.3-.1.6-.4.2-.2.9-.6.2-.3.3-.2.3-.3.3-.2.3-.3.2-.3.9-.9.2-.4.3-.3.9-1.2.2-.4.3-.4.3-.5.3-.4.2-.5.9-1.5.3-.6.2-.6.9-1.8.2-.6 1.2-2.8.2-.7.9-2.4.2-.8.6-1.8.3-.8.3-1 .2-.9.3-.9.6-2 .2-1 .3-1.1.3-1 .6-2.2.2-1.1.3-1.1.3-1.2.3-1.1.2-1.2.6-2.4.3-1.3.3-1.2.2-1.2.9-3.9.2-1.3 1.2-5.2.2-1.3.6-2.6.3-1.4.2-1.3 1.2-5.2.2-1.3.3-1.2.3-1.3.3-1.2.2-1.3.3-1.2.3-1.1.3-1.2.3-1.1.2-1.1.6-2.2.3-1 .2-1 .3-1 .3-.9.3-.8.3-.9.2-.8.9-2.1.2-.6.3-.6.3-.5.6-.8.2-.3.3-.3.3-.2.6-.2.2.1.3.1.3.2.3.3.2.3.6.8.3.5.3.6.2.6.9 2.1.2.8.3.9.3.8.3.9.3 1 .2 1 .3 1 .6 2.2.2 1.1.3 1.1.3 1.2.3 1.1.3 1.2.2 1.3.3 1.2.3 1.3.3 1.2.2 1.3 1.2 5.2.2 1.3.3 1.4.6 2.6.2 1.3 1.2 5.2.2 1.3.9 3.9.2 1.2.3 1.2.3 1.3.6 2.4.2 1.2.3 1.1.3 1.2.3 1.1.2 1.1.6 2.2.3 1 .3 1.1.2 1 .6 2 .3.9.2.9.3 1 .3.8.6 1.8.2.8.9 2.4.2.7 1.2 2.8.2.6.9 1.8.2.6.3.6.9 1.5.2.5.3.4.3.5.3.4.2.4.9 1.2.3.3.2.4.9.9.2.3.3.3.3.2.3.3.3.2.2.3.9.6.2.2.6.4.3.1.3.2.2.1.3.2.3.1.3.2.2.1 1.2.4.2.1.9.3.2.1.3 0 .6.2.3 0 .2.1.3 0 .6.2.5 0 .3.1.3 0 .3.1.5 0 .3.1.8 0 .3.1 1.1 0 .3.1 1.1 0" stroke="#4ba0dd" stroke-width="1.2" fill="none"/><path d="M52.3 511.6l1.1 0 .3-.1.8 0 .3-.1.8 0 .3-.1.6 0 .2-.1.6 0 .3-.1.3 0 .2-.1.3 0 .3-.1.3 0 .2-.1.3 0 .6-.2.3 0 .2-.1.3-.1.3 0 .3-.1.2-.1 1.2-.4.2-.1.9-.3.2-.1.3-.1.3-.2.6-.2.2-.2.3-.1.3-.2.3-.1.2-.2.3-.2.3-.1.6-.4.2-.2.9-.6.2-.3.6-.4.3-.3.3-.2.2-.3.3-.2.6-.6.2-.3 1.2-1.2.2-.4.6-.6.3-.4.2-.4.3-.3.9-1.2.2-.4.3-.4.3-.5.3-.4.2-.4.3-.5.3-.4.6-1 .2-.5.3-.4.6-1 .2-.6.9-1.5.3-.6.2-.5.3-.6.3-.5.3-.6.2-.5.9-1.8.3-.5.2-.6.9-1.8.2-.6 1.2-2.4.2-.6.3-.6.3-.5.3-.6.2-.6.6-1.2.3-.5.3-.6.2-.6.3-.5.3-.6.3-.5.2-.5 1.2-2 .2-.5.3-.4.3-.5.3-.4.2-.4.9-1.2.3-.3.2-.4 1.1-1.1 1.2-.8.2-.1.9-.3.5 0 .9.3.2.1 1.2.8 1.1 1.1.2.4.3.3.9 1.2.2.4.3.4.3.5.3.4.2.5 1.2 2 .2.5.3.5.3.6.3.5.2.6.3.6.3.5.6 1.2.2.6.3.6.3.5.3.6.2.6 1.2 2.4.2.6.9 1.8.2.6.3.5.9 1.8.2.5.3.6.3.5.3.6.2.5.3.6.9 1.5.2.6.6 1 .3.4.2.5.6 1 .3.4.3.5.2.4.3.4.3.5.3.4.2.4.9 1.2.3.3.2.4.3.4.6.6.2.4 1.2 1.2.2.3.6.6.3.2.2.3.3.2.3.3.6.4.2.3.9.6.2.2.6.4.3.1.3.2.2.2.3.1.3.2.3.1.2.2.6.2.3.2.3.1.2.1.9.3.2.1 1.2.4.2.1.3.1.3 0 .3.1.2.1.3 0 .6.2.3 0 .2.1.3 0 .3.1.3 0 .2.1.3 0 .3.1.6 0 .2.1.6 0 .3.1.8 0 .3.1.8 0 .3.1 1.1 0" stroke="#5cad48" stroke-width="1.2" fill="none" stroke-dasharray="3.2 2"/><path d="M52.3 510.9l.6 0 .2-.1.6 0 .3-.1.5 0 .3-.1.6 0 .2-.1.6 0 .3-.1.2 0 .3-.1.3 0 .3-.1.5 0 .3-.1.3 0 .3-.1.2 0 .3-.1.3 0 .3-.1.3 0 .2-.1.3 0 .6-.2.2 0 .3-.1.3 0 .6-.2.2 0 .3-.1.3 0 .3-.1.2-.1.3 0 .9-.3.2 0 .9-.3.2 0 .9-.3.3 0 .2-.1.9-.3.2-.1.3 0 .9-.3.2-.1.9-.3.2-.1.3-.1.3 0 .6-.2.2-.1.9-.3.2-.1 1.2-.4.2-.1.9-.3.2-.1.3-.2.9-.3.2-.1.9-.3.2-.1 1.2-.4.2-.1.9-.3.2-.1 1.2-.4.2-.1.9-.3.2-.1 1.2-.4.2-.1.9-.3.2-.1.3-.1.3 0 .6-.2.2-.1.6-.2.3 0 .2-.1.3-.1.3 0 .6-.2.2 0 .6-.2.3 0 .2-.1.3 0 .3-.1.3 0 .3-.1.2 0 .3-.1.6 0 .2-.1.6 0 .3-.1 3.3 0 .3.1.6 0 .2.1.6 0 .3.1.2 0 .3.1.3 0 .3.1.3 0 .2.1.3 0 .6.2.2 0 .6.2.3 0 .3.1.2.1.3 0 .6.2.2.1.6.2.3 0 .3.1.2.1.9.3.2.1 1.2.4.2.1.9.3.2.1 1.2.4.2.1.9.3.2.1 1.2.4.2.1.9.3.2.1.9.3.3.2.2.1.9.3.2.1 1.2.4.2.1.9.3.2.1.6.2.3 0 .3.1.2.1.9.3.2.1.9.3.3 0 .2.1.9.3.2.1.3 0 .9.3.2 0 .9.3.2 0 .9.3.3 0 .2.1.3.1.3 0 .3.1.2 0 .6.2.3 0 .3.1.2 0 .6.2.3 0 .2.1.3 0 .3.1.3 0 .3.1.2 0 .3.1.3 0 .3.1.5 0 .3.1.3 0 .3.1.2 0 .3.1.6 0 .2.1.6 0 .3.1.5 0 .3.1.6 0 .2.1.6 0" stroke="#cc3d62" stroke-width="1.0" fill="none" stroke-dasharray="3 1.2 0.8 1.2"/><path d="M52.3 416.3H141.2V511.9H52.3Z" stroke="#858585" stroke-width="1.1" fill="none"/><path d="M74.5 511.9v-1.3M74.5 416.3v1.3M96.8 511.9v-1.3M96.8 416.3v1.3M119 511.9v-1.3M119 416.3v1.3M52.3 464.1h1.3M141.2 464.1h-1.3" stroke="#858585" stroke-width="1" fill="none"/><path d="M182.6 512.4l32.7 0 .2-.1.3-.1.9-.6.2-.2.9-.6.2-.1.6-.2.3 0 .2.1.6.2.6.4.2.2.9.6.2.2.6.2.3 0 .2-.2.3-.7.3-1.3.3-2 .3-2.8.2-3.4.3-4.1.3-4.5.3-4.9.2-5 .3-4.8.3-4.4.3-3.7.2-2.8.3-1.8.3-.6.3.6.3 1.8.2 2.8.3 3.7.3 4.4.3 4.8.2 5 .3 4.9.3 4.5.3 4.1.2 3.4.3 2.8.3 2 .3 1.3.3.7.2.2.3 0 .6-.2.2-.2.9-.6.2-.2.6-.4.6-.2.2-.1.3 0 .6.2.2.1.9.6.2.2.9.6.3.1.2.1 32.7 0" stroke="#5cad48" stroke-width="1.2" fill="none" stroke-dasharray="3.2 2"/><path d="M182.6 512.4l32.4 0 .3-.1.2-.1.6-.6.3-.4.3-.5.2-.4.9-1.2.2-.2.3-.2.3-.1.3 0 .2.1.3.2.6.6.3.5.2.4.3.4.3.5.3.3.2.4.3.2.6.2.2-.4.3-1.5.3-2.6.3-4.1.3-5.6.2-7 .3-8.3.3-9.4.3-9.9.2-10.2.3-9.8.3-8.9.3-7.6.2-5.8.3-3.6.3-1.2.3 1.2.3 3.6.2 5.8.3 7.6.3 8.9.3 9.8.2 10.2.3 9.9.3 9.4.3 8.3.2 7 .3 5.6.3 4.1.3 2.6.3 1.5.2.4.6-.2.3-.2.2-.4.3-.3.3-.5.3-.4.2-.4.3-.5.6-.6.3-.2.2-.1.3 0 .3.1.3.2.2.2.9 1.2.2.4.3.5.3.4.6.6.2.1.3.1 32.4 0" stroke="#4ba0dd" stroke-width="1.2" fill="none"/><path d="M182.6 512.4l32.7 0 .2-.1.3 0 .9-.3.2-.1.9-.3.2-.1.3 0 .3-.1.3 0 .2.1.3 0 .9.3.2.1.9.3.2.1.3 0 .3.1.3 0 .2-.1.3-.4.3-.6.3-1.1.3-1.4.2-1.7.3-2.1.3-2.3.3-2.5.2-2.5.3-2.5.3-2.2.3-1.9.2-1.5.3-.9.3-.3.3.3.3.9.2 1.5.3 1.9.3 2.2.3 2.5.2 2.5.3 2.5.3 2.3.3 2.1.2 1.7.3 1.4.3 1.1.3.6.3.4.2.1.3 0 .3-.1.3 0 .2-.1.9-.3.2-.1.9-.3.3 0 .2-.1.3 0 .3.1.3 0 .2.1.9.3.2.1.9.3.3 0 .2.1 32.7 0" stroke="#cc3d62" stroke-width="1.0" fill="none" stroke-dasharray="3 1.2 0.8 1.2"/><path d="M182.6 416.5H271.2V512.4H182.6Z" stroke="#858585" stroke-width="1.1" fill="none"/><path d="M204.8 512.4v-1.3M204.8 416.5v1.3M226.9 512.4v-1.3M226.9 416.5v1.3M249 512.4v-1.3M249 416.5v1.3M182.6 464.4h1.3M271.2 464.4h-1.3" stroke="#858585" stroke-width="1" fill="none"/><path d="M315.4 511.3l.3-.1 1.1 0 .3-.1.8 0 .3-.1.5 0 .3-.1.5 0 .3-.1.3 0 .3-.1.2 0 .3-.1.3 0 .3-.1.2-.1.3 0 .6-.2.3 0 .2-.1.9-.3.2-.1.9-.3.2-.2.6-.2.3-.2.2-.1.3-.2.3-.1.3-.2.2-.2.9-.6.2-.2.6-.4 1.7-1.7.2-.3.6-.6.3-.4.2-.4.3-.3.6-.8.2-.5.3-.4.3-.5.3-.4.2-.5.6-1 .3-.6.2-.5.9-1.8.2-.6.3-.7.3-.6.6-1.4.2-.7.3-.8.3-.7.3-.8.2-.8.3-.8.3-.9.3-.8.2-.9.9-2.7.2-1 .9-3 .2-1 .3-1.1.3-1 .3-1.1.2-1.1.3-1.1.3-1.2.3-1.1.2-1.2.3-1.1.9-3.6.2-1.3.6-2.4.3-1.3.2-1.2.6-2.6.3-1.2.2-1.3.6-2.6.3-1.2.2-1.3.3-1.3.3-1.2.3-1.3.2-1.2.3-1.3.6-2.4.2-1.2.6-2.4.6-2.2.2-1.2.3-1 .3-1.1.3-1 .2-1 .3-1 .6-1.8.2-.9.9-2.4.2-.7.3-.7.6-1.2.2-.5.3-.5.6-.8.2-.3.9-.6.5 0 .9.6.2.3.6.8.3.5.2.5.6 1.2.3.7.2.7.9 2.4.2.9.6 1.8.3 1 .2 1 .3 1 .3 1.1.3 1 .2 1.2.6 2.2.6 2.4.2 1.2.6 2.4.3 1.3.2 1.2.3 1.3.3 1.2.3 1.3.2 1.3.3 1.2.6 2.6.2 1.3.3 1.2.6 2.6.2 1.2.3 1.3.6 2.4.2 1.3.9 3.6.3 1.1.2 1.2.3 1.1.3 1.2.3 1.1.2 1.1.3 1.1.3 1 .3 1.1.2 1 .9 3 .2 1 .9 2.7.2.9.3.8.3.9.3.8.2.8.3.8.3.7.3.8.2.7.6 1.4.3.6.3.7.2.6.9 1.8.2.5.3.6.6 1 .2.5.3.4.3.5.3.4.2.5.6.8.3.3.2.4.3.4.6.6.2.3 1.7 1.7.6.4.2.2.9.6.2.2.3.2.3.1.3.2.2.1.3.2.6.2.2.2.9.3.2.1.9.3.2.1.3 0 .6.2.3 0 .2.1.3.1.3 0 .3.1.2 0 .3.1.3 0 .3.1.5 0 .3.1.5 0 .3.1.8 0 .3.1 1.1 0 .3.1" stroke="#4ba0dd" stroke-width="1.2" fill="none"/><path d="M315.4 511.2l.3-.1.8 0 .3-.1.8 0 .3-.1.5 0 .3-.1.3 0 .3-.1.5 0 .3-.1.3 0 .2-.1.3 0 .3-.1.3 0 .2-.1.3-.1.3 0 .6-.2.2 0 .9-.3.2-.1.3 0 .6-.2.2-.1.6-.2.3-.2.2-.1.6-.2.3-.2.2-.1.3-.1.3-.2.3-.1.2-.2.3-.2.3-.1.3-.2.2-.2 1.2-.8.2-.2.9-.6.2-.3.3-.2.3-.3.3-.2.2-.3.9-.9.2-.3.9-.9.2-.3.3-.4.3-.3.3-.4.2-.3 1.2-1.6.2-.4.9-1.2.2-.5.3-.4.3-.5.3-.4.2-.5.9-1.5.2-.5.9-1.5.2-.5.3-.6.6-1 .2-.6.3-.5.6-1.2.2-.5.9-1.8.3-.5.2-.6.9-1.8.2-.6.6-1.2.3-.5.2-.6.9-1.8.2-.6.3-.5.6-1.2.2-.5.3-.6.3-.5.3-.6.2-.5.3-.5.3-.6.6-1 .2-.4.6-1 .3-.4.2-.5.9-1.2.2-.3.3-.4.3-.3.3-.4.2-.3.3-.3.3-.2.5-.5.6-.4.3-.1.2-.2.6-.2 1.1 0 .6.2.2.2.3.1.6.4.5.5.3.2.3.3.2.3.3.4.3.3.3.4.2.3.9 1.2.2.5.3.4.6 1 .2.4.6 1 .3.6.3.5.2.5.3.6.3.5.3.6.2.5.6 1.2.3.5.2.6.9 1.8.2.6.3.5.6 1.2.2.6.9 1.8.2.6.3.5.9 1.8.2.5.6 1.2.3.5.2.6.6 1 .3.6.2.5.9 1.5.2.5.9 1.5.2.5.3.4.3.5.3.4.2.5.9 1.2.2.4 1.2 1.6.2.3.3.4.3.3.3.4.2.3.9.9.2.3.9.9.2.3.3.2.3.3.3.2.2.3.9.6.2.2 1.2.8.2.2.3.2.3.1.3.2.2.2.3.1.3.2.3.1.2.1.3.2.6.2.2.1.3.2.6.2.2.1.6.2.3 0 .2.1.9.3.2 0 .6.2.3 0 .3.1.2.1.3 0 .3.1.3 0 .2.1.3 0 .3.1.5 0 .3.1.3 0 .3.1.5 0 .3.1.8 0 .3.1.8 0 .3.1" stroke="#5cad48" stroke-width="1.2" fill="none" stroke-dasharray="3.2 2"/><path d="M315.4 510.6l.3 0 .3-.1.5 0 .3-.1.8 0 .3-.1.5 0 .3-.1.6 0 .2-.1.3 0 .3-.1.5 0 .3-.1.6 0 .2-.1.3 0 .3-.1.3 0 .3-.1.2 0 .3-.1.6 0 .2-.1.3 0 .3-.1.3 0 .2-.1.3 0 .6-.2.2 0 .3-.1.3 0 .3-.1.2 0 .6-.2.3 0 .2-.1.3 0 .6-.2.2 0 .6-.2.3 0 .3-.1.2-.1.3 0 .6-.2.2 0 .9-.3.2 0 .9-.3.2 0 .9-.3.2-.1.3 0 .6-.2.2-.1.3-.1.3 0 .6-.2.2-.1.6-.2.3 0 .2-.1.9-.3.2-.1.3-.1.3 0 .3-.1.2-.1.9-.3.2-.1.3 0 .6-.2.2-.1.6-.2.3 0 .2-.1 1.2-.4.2 0 .9-.3.2-.1.3 0 .6-.2.2-.1.3-.1.3 0 .3-.1.2-.1.3 0 .6-.2.2 0 .6-.2.3 0 .2-.1.3-.1.3 0 .3-.1.3 0 .2-.1.3-.1.3 0 .3-.1.5 0 .3-.1.3 0 .2-.1.3 0 .3-.1.5 0 .3-.1.8 0 .3-.1 3.9 0 .3.1.8 0 .3.1.5 0 .3.1.3 0 .2.1.3 0 .3.1.5 0 .3.1.3 0 .3.1.2.1.3 0 .3.1.3 0 .3.1.2.1.3 0 .6.2.2 0 .6.2.3 0 .2.1.3.1.3 0 .3.1.2.1.6.2.3 0 .2.1.9.3.2 0 1.2.4.2.1.3 0 .6.2.2.1.6.2.3 0 .2.1.9.3.2.1.3.1.3 0 .3.1.2.1.9.3.2.1.3 0 .6.2.2.1.6.2.3 0 .3.1.2.1.6.2.3 0 .2.1.9.3.2 0 .9.3.2 0 .9.3.2 0 .6.2.3 0 .2.1.3.1.3 0 .6.2.2 0 .6.2.3 0 .2.1.3 0 .6.2.2 0 .3.1.3 0 .3.1.2 0 .6.2.3 0 .2.1.3 0 .3.1.3 0 .2.1.6 0 .3.1.2 0 .3.1.3 0 .3.1.3 0 .2.1.6 0 .3.1.5 0 .3.1.3 0 .2.1.6 0 .3.1.5 0 .3.1.8 0 .3.1.5 0 .3.1.3 0" stroke="#cc3d62" stroke-width="1.0" fill="none" stroke-dasharray="3 1.2 0.8 1.2"/><path d="M315.4 416.7H403.7V511.5H315.4Z" stroke="#858585" stroke-width="1.1" fill="none"/><path d="M337.5 511.5v-1.3M337.5 416.7v1.3M359.5 511.5v-1.3M359.5 416.7v1.3M381.6 511.5v-1.3M381.6 416.7v1.3M315.4 464.1h1.3M403.7 464.1h-1.3" stroke="#858585" stroke-width="1" fill="none"/><path d="M446.9 512.3l29.9 0 .2-.1.6-.4.8-.8.3-.1.3 0 .3.2 1.1 1.1.2.1.3 0 .6-.2.2-.1.3-.2.3-.1.6-.4.2-.2.6-.2.8 0 .3.1.3.2.2.1.9.6.2.1.3.2.3.1.3 0 .3-.1.2-.7.3-1.6.3-2.5.3-3.5.2-4.5.3-5.3.3-5.8.3-6 .2-5.7.3-4.9.3-3.9.3-2.5.3-.8.2.8.3 2.5.3 3.9.3 4.9.2 5.7.3 6 .3 5.8.3 5.3.2 4.5.3 3.5.3 2.5.3 1.6.2.7.3.1.3 0 .3-.1.3-.2.2-.1.9-.6.2-.1.3-.2.3-.1.8 0 .6.2.2.2.6.4.3.1.3.2.2.1.6.2.3 0 .2-.1 1.1-1.1.3-.2.3 0 .3.1.8.8.6.4.2.1 29.9 0" stroke="#5cad48" stroke-width="1.2" fill="none" stroke-dasharray="3.2 2"/><path d="M446.9 512.3l29.9 0 .2-.1.3-.4 1.1-2.2.3-.2.3.1.3.4.2.5.6 1.2.3.4.2.3.3 0 .3-.1.3-.2.2-.3.3-.3.6-.8.3-.3.2-.3.3-.3.3-.2.3-.1.2 0 .9.6.2.4.3.3.3.4.3.3.2.4.6.4.3.1.3-.2.2-1.4.3-3.1.3-5.1.3-7.1.2-9 .3-10.6.3-11.6.3-11.9.2-11.3.3-9.9.3-7.8.3-4.9.3-1.7.2 1.7.3 4.9.3 7.8.3 9.9.2 11.3.3 11.9.3 11.6.3 10.6.2 9 .3 7.1.3 5.1.3 3.1.2 1.4.3.2.3-.1.6-.4.2-.4.3-.3.3-.4.3-.3.2-.4.9-.6.2 0 .3.1.3.2.3.3.2.3.3.3.6.8.3.3.2.3.3.2.3.1.3 0 .2-.3.3-.4.6-1.2.2-.5.3-.4.3-.1.3.2 1.1 2.2.3.4.2.1 29.9 0" stroke="#4ba0dd" stroke-width="1.2" fill="none"/><path d="M446.9 512.3l30.1 0 .3-.1.3-.2.3-.1.3-.2.2-.1.6 0 .3.1.2.1.3.2.6.2.2.1.6 0 .3-.1.2 0 1.2-.4.2-.1.3 0 .3-.1.8 0 .3.1.3 0 .2.1.9.3.2.1.3 0 .3.1.3 0 .3-.1.2-.3.3-.8.3-1.2.3-1.8.2-2.3.3-2.6.3-2.9.3-3 .2-2.8.3-2.5.3-1.9.3-1.3.3-.4.2.4.3 1.3.3 1.9.3 2.5.2 2.8.3 3 .3 2.9.3 2.6.2 2.3.3 1.8.3 1.2.3.8.2.3.3.1.3 0 .3-.1.3 0 .2-.1.9-.3.2-.1.3 0 .3-.1.8 0 .3.1.3 0 .2.1 1.2.4.2 0 .3.1.6 0 .2-.1.6-.2.3-.2.2-.1.3-.1.6 0 .2.1.3.2.3.1.3.2.3.1 30.1 0" stroke="#cc3d62" stroke-width="1.0" fill="none" stroke-dasharray="3 1.2 0.8 1.2"/><path d="M446.9 416.7H535.4V512.3H446.9Z" stroke="#858585" stroke-width="1.1" fill="none"/><path d="M469 512.3v-1.3M469 416.7v1.3M491.1 512.3v-1.3M491.1 416.7v1.3M513.3 512.3v-1.3M513.3 416.7v1.3M446.9 464.5h1.3M535.4 464.5h-1.3" stroke="#858585" stroke-width="1" fill="none"/><defs><linearGradient id="cb" x1="0" y1="0" x2="0" y2="1"><stop offset="0.8%" stop-color="#800000"/><stop offset="5.5%" stop-color="#af0000"/><stop offset="10.2%" stop-color="#df0000"/><stop offset="14.8%" stop-color="#ff1000"/><stop offset="19.5%" stop-color="#ff4000"/><stop offset="24.2%" stop-color="#ff7000"/><stop offset="28.9%" stop-color="#ff9f00"/><stop offset="33.6%" stop-color="#ffcf00"/><stop offset="38.3%" stop-color="#ffff00"/><stop offset="43%" stop-color="#cfff30"/><stop offset="47.7%" stop-color="#9fff60"/><stop offset="52.3%" stop-color="#70ff8f"/><stop offset="57%" stop-color="#40ffbf"/><stop offset="61.7%" stop-color="#10ffef"/><stop offset="66.4%" stop-color="#00dfff"/><stop offset="71.1%" stop-color="#00afff"/><stop offset="75.8%" stop-color="#0080ff"/><stop offset="80.5%" stop-color="#0050ff"/><stop offset="85.2%" stop-color="#0020ff"/><stop offset="89.8%" stop-color="#0000ef"/><stop offset="94.5%" stop-color="#0000bf"/><stop offset="99.2%" stop-color="#00008f"/></linearGradient></defs><rect x="123.1" y="63.2" width="5.7" height="17.7" fill="url(#cb)"/><text x="134.8" y="67.5" font-size="10" text-anchor="middle">1</text><text x="134.7" y="84.2" font-size="10" text-anchor="middle">0</text><text x="43" y="13.1" font-size="12.2" textLength="83.7" lengthAdjust="spacingAndGlyphs">Gaussian pulse of</text><text x="128.8" y="13.1" font-size="12.2" font-style="italic">s</text><text x="133.8" y="14.6" font-size="7.7" textLength="16.2" lengthAdjust="spacingAndGlyphs">MIM</text><text x="183.4" y="13.1" font-size="12.2" textLength="51.7" lengthAdjust="spacingAndGlyphs">ST-MIM of</text><text x="238" y="13.1" font-size="12.2" font-style="italic">s</text><text x="244.1" y="14.6" font-size="7.7" textLength="16.2" lengthAdjust="spacingAndGlyphs">MIM</text><text x="307.1" y="13.1" font-size="12.2" textLength="83.5" lengthAdjust="spacingAndGlyphs">Gaussian pulse of</text><text x="392.4" y="13.1" font-size="12.2" font-style="italic">a</text><text x="398.2" y="14.6" font-size="7.7" textLength="16.2" lengthAdjust="spacingAndGlyphs">MIM</text><text x="449.9" y="13.1" font-size="12.2" textLength="52.2" lengthAdjust="spacingAndGlyphs">ST-MIM of</text><text x="504.4" y="13.1" font-size="12.2" font-style="italic">a</text><text x="510.5" y="14.6" font-size="7.7" textLength="16.2" lengthAdjust="spacingAndGlyphs">MIM</text><text x="27.6" y="31.6" font-size="11">(a)</text><text x="159.8" y="31.6" font-size="11">(b)</text><text x="290.9" y="31.2" font-size="11">(c)</text><text x="425.6" y="31.6" font-size="11">(d)</text><text x="26.5" y="295.9" font-size="11">(e)</text><text x="158.7" y="295.9" font-size="11">(f)</text><text x="289.5" y="295.9" font-size="11">(g)</text><text x="426" y="296.2" font-size="11">(h)</text><text transform="translate(14.3 131.4) rotate(-90)" font-size="12" text-anchor="middle">Lossless Ag</text><text transform="translate(14.3 393) rotate(-90)" font-size="12" text-anchor="middle">Lossy Ag</text><text transform="translate(27.6 81.8) rotate(-90)" font-size="11.5" text-anchor="middle">Intensity (a.u.)</text><text transform="translate(27.6 205.1) rotate(-90)" font-size="11.5" text-anchor="middle">Intensity (a.u.)</text><text transform="translate(27.6 341.3) rotate(-90)" font-size="11.5" text-anchor="middle">Intensity (a.u.)</text><text transform="translate(27.6 463.6) rotate(-90)" font-size="11.5" text-anchor="middle">Intensity (a.u.)</text><text x="43.2" y="57.3" font-size="10" text-anchor="middle">1</text><text x="38.6" y="83.5" font-size="10" text-anchor="middle">0.5</text><text x="43.6" y="110.8" font-size="10" text-anchor="middle">0</text><text x="46.8" y="118.5" font-size="10" text-anchor="middle">−2</text><text x="64" y="128.7" font-size="10" text-anchor="middle">0</text><text x="83.2" y="139.2" font-size="10" text-anchor="middle">2</text><text x="91.9" y="139.2" font-size="10" text-anchor="middle">0</text><text x="143.8" y="122.7" font-size="10" text-anchor="middle">50</text><text x="54.5" y="137.3" font-size="10" text-anchor="middle"><tspan font-style="italic">y</tspan> (μm)</text><text x="107.3" y="134.2" font-size="10"><tspan font-style="italic">z</tspan><tspan font-size="8" dy="2">peak</tspan><tspan dy="-2" dx="1"> (μm)</tspan></text><text x="174.6" y="57.3" font-size="10" text-anchor="middle">1</text><text x="170" y="83.5" font-size="10" text-anchor="middle">0.5</text><text x="174.5" y="109.8" font-size="10" text-anchor="middle">0</text><text x="179" y="119.8" font-size="10" text-anchor="middle">−2</text><text x="196.5" y="129.3" font-size="10" text-anchor="middle">0</text><text x="213.2" y="138.8" font-size="10" text-anchor="middle">2</text><text x="224.5" y="138.8" font-size="10" text-anchor="middle">0</text><text x="272.5" y="122.8" font-size="10" text-anchor="middle">50</text><text x="178" y="137.6" font-size="10" text-anchor="middle"><tspan font-style="italic">y</tspan> (μm)</text><text x="241.9" y="132.6" font-size="10"><tspan font-style="italic">z</tspan><tspan font-size="8" dy="2">peak</tspan><tspan dy="-2" dx="1"> (μm)</tspan></text><text x="307.6" y="57.4" font-size="10" text-anchor="middle">1</text><text x="303" y="83.5" font-size="10" text-anchor="middle">0.5</text><text x="307.2" y="111.2" font-size="10" text-anchor="middle">0</text><text x="310.8" y="119.2" font-size="10" text-anchor="middle">−2</text><text x="328.3" y="129.4" font-size="10" text-anchor="middle">0</text><text x="348.6" y="139.7" font-size="10" text-anchor="middle">2</text><text x="359.5" y="139.7" font-size="10" text-anchor="middle">0</text><text x="404.5" y="122.1" font-size="10" text-anchor="middle">50</text><text x="314.8" y="138.5" font-size="10" text-anchor="middle"><tspan font-style="italic">y</tspan> (μm)</text><text x="371.2" y="134.8" font-size="10"><tspan font-style="italic">z</tspan><tspan font-size="8" dy="2">peak</tspan><tspan dy="-2" dx="1"> (μm)</tspan></text><text x="438.7" y="57.4" font-size="10" text-anchor="middle">1</text><text x="434.1" y="83.5" font-size="10" text-anchor="middle">0.5</text><text x="438.3" y="110.8" font-size="10" text-anchor="middle">0</text><text x="441.9" y="119.4" font-size="10" text-anchor="middle">−2</text><text x="459.4" y="129.7" font-size="10" text-anchor="middle">0</text><text x="479" y="138.3" font-size="10" text-anchor="middle">2</text><text x="489.9" y="140.9" font-size="10" text-anchor="middle">0</text><text x="535.8" y="123.8" font-size="10" text-anchor="middle">50</text><text x="447.4" y="138.6" font-size="10" text-anchor="middle"><tspan font-style="italic">y</tspan> (μm)</text><text x="504.3" y="136.5" font-size="10"><tspan font-style="italic">z</tspan><tspan font-size="8" dy="2">peak</tspan><tspan dy="-2" dx="1"> (μm)</tspan></text><text x="43" y="316.2" font-size="10" text-anchor="middle">1</text><text x="38.4" y="342.4" font-size="10" text-anchor="middle">0.5</text><text x="43.7" y="370.6" font-size="10" text-anchor="middle">0</text><text x="46.9" y="379.1" font-size="10" text-anchor="middle">−2</text><text x="64.7" y="388.9" font-size="10" text-anchor="middle">0</text><text x="84" y="399.8" font-size="10" text-anchor="middle">2</text><text x="94.2" y="400.4" font-size="10" text-anchor="middle">0</text><text x="139.8" y="381.9" font-size="10" text-anchor="middle">20</text><text x="50.7" y="398.5" font-size="10" text-anchor="middle"><tspan font-style="italic">y</tspan> (μm)</text><text x="109.3" y="396.1" font-size="10"><tspan font-style="italic">z</tspan><tspan font-size="8" dy="2">peak</tspan><tspan dy="-2" dx="1"> (μm)</tspan></text><text x="173.8" y="316.1" font-size="10" text-anchor="middle">1</text><text x="169.2" y="342.2" font-size="10" text-anchor="middle">0.5</text><text x="175.4" y="370.2" font-size="10" text-anchor="middle">0</text><text x="179" y="379.2" font-size="10" text-anchor="middle">−2</text><text x="196.9" y="388.8" font-size="10" text-anchor="middle">0</text><text x="216.1" y="400.4" font-size="10" text-anchor="middle">2</text><text x="225.5" y="400.4" font-size="10" text-anchor="middle">0</text><text x="271.2" y="381.9" font-size="10" text-anchor="middle">20</text><text x="182.2" y="398.4" font-size="10" text-anchor="middle"><tspan font-style="italic">y</tspan> (μm)</text><text x="240.6" y="395.5" font-size="10"><tspan font-style="italic">z</tspan><tspan font-size="8" dy="2">peak</tspan><tspan dy="-2" dx="1"> (μm)</tspan></text><text x="307.4" y="316.5" font-size="10" text-anchor="middle">1</text><text x="302.8" y="342.7" font-size="10" text-anchor="middle">0.5</text><text x="307.2" y="370.5" font-size="10" text-anchor="middle">0</text><text x="310.8" y="379.5" font-size="10" text-anchor="middle">−2</text><text x="328.7" y="389" font-size="10" text-anchor="middle">0</text><text x="350.8" y="401" font-size="10" text-anchor="middle">2</text><text x="360.3" y="401" font-size="10" text-anchor="middle">0</text><text x="404.9" y="383.1" font-size="10" text-anchor="middle">20</text><text x="314.5" y="398.6" font-size="10" text-anchor="middle"><tspan font-style="italic">y</tspan> (μm)</text><text x="368.7" y="395" font-size="10"><tspan font-style="italic">z</tspan><tspan font-size="8" dy="2">peak</tspan><tspan dy="-2" dx="1"> (μm)</tspan></text><text x="438.4" y="316.7" font-size="10" text-anchor="middle">1</text><text x="433.8" y="342.9" font-size="10" text-anchor="middle">0.5</text><text x="439" y="371" font-size="10" text-anchor="middle">0</text><text x="442.6" y="379.7" font-size="10" text-anchor="middle">−2</text><text x="460.5" y="389.2" font-size="10" text-anchor="middle">0</text><text x="479.4" y="400.1" font-size="10" text-anchor="middle">2</text><text x="491.4" y="401.2" font-size="10" text-anchor="middle">0</text><text x="536.8" y="383.3" font-size="10" text-anchor="middle">20</text><text x="444.8" y="398.8" font-size="10" text-anchor="middle"><tspan font-style="italic">y</tspan> (μm)</text><text x="501.4" y="395.9" font-size="10"><tspan font-style="italic">z</tspan><tspan font-size="8" dy="2">peak</tspan><tspan dy="-2" dx="1"> (μm)</tspan></text><text x="47.1" y="161.7" font-size="10" text-anchor="end">1</text><text x="47.1" y="207.8" font-size="10" text-anchor="end">0.5</text><text x="47.1" y="255.1" font-size="10" text-anchor="end">0</text><text x="51.4" y="264.5" font-size="10" text-anchor="middle">−2</text><text x="73.5" y="264.5" font-size="10" text-anchor="middle">−1</text><text x="97.9" y="264.5" font-size="10" text-anchor="middle">0</text><text x="120" y="264.5" font-size="10" text-anchor="middle">1</text><text x="142.2" y="264.5" font-size="10" text-anchor="middle">2</text><text x="97.4" y="272.9" font-size="10" text-anchor="middle"><tspan font-style="italic">y</tspan> (μm)</text><text x="59.1" y="169" font-size="8.6"><tspan font-style="italic">z</tspan><tspan font-size="6" dy="1.7">peak</tspan><tspan dy="-1.7"> = 0</tspan></text><text x="59.1" y="202.8" font-size="8.6"><tspan font-style="italic">z</tspan><tspan font-size="6" dy="1.7">peak</tspan><tspan dy="-1.7"> = </tspan><tspan font-style="italic">z</tspan><tspan font-size="6" dy="2.1" font-style="italic">R</tspan><tspan font-size="6" dx="-3.3" dy="-5.8" font-style="italic">s</tspan><tspan font-size="5" dy="2.3">MIM</tspan></text><text x="57.5" y="236.7" font-size="8.6"><tspan font-style="italic">z</tspan><tspan font-size="6" dy="1.7">peak</tspan><tspan dy="-1.7"> = 2</tspan><tspan font-style="italic">z</tspan><tspan font-size="6" dy="2.1" font-style="italic">R</tspan><tspan font-size="6" dx="-3.3" dy="-5.8" font-style="italic">s</tspan><tspan font-size="5" dy="2.3">MIM</tspan></text><text x="177.5" y="161.8" font-size="10" text-anchor="end">1</text><text x="177.5" y="208" font-size="10" text-anchor="end">0.5</text><text x="177.5" y="255.3" font-size="10" text-anchor="end">0</text><text x="181.8" y="264.8" font-size="10" text-anchor="middle">−2</text><text x="203.9" y="264.8" font-size="10" text-anchor="middle">−1</text><text x="228.2" y="264.8" font-size="10" text-anchor="middle">0</text><text x="250.4" y="264.8" font-size="10" text-anchor="middle">1</text><text x="272.5" y="264.8" font-size="10" text-anchor="middle">2</text><text x="229.1" y="274.5" font-size="10" text-anchor="middle"><tspan font-style="italic">y</tspan> (μm)</text><text x="309.9" y="162" font-size="10" text-anchor="end">1</text><text x="309.9" y="208.3" font-size="10" text-anchor="end">0.5</text><text x="309.9" y="255.7" font-size="10" text-anchor="end">0</text><text x="314.1" y="265.1" font-size="10" text-anchor="middle">−2</text><text x="336.3" y="265.1" font-size="10" text-anchor="middle">−1</text><text x="360.6" y="265.1" font-size="10" text-anchor="middle">0</text><text x="382.8" y="265.1" font-size="10" text-anchor="middle">1</text><text x="404.9" y="265.1" font-size="10" text-anchor="middle">2</text><text x="360.8" y="273.4" font-size="10" text-anchor="middle"><tspan font-style="italic">y</tspan> (μm)</text><text x="321.6" y="168.9" font-size="8.6"><tspan font-style="italic">z</tspan><tspan font-size="6" dy="1.7">peak</tspan><tspan dy="-1.7"> = 0</tspan></text><text x="321.6" y="203.6" font-size="8.6"><tspan font-style="italic">z</tspan><tspan font-size="6" dy="1.7">peak</tspan><tspan dy="-1.7"> = </tspan><tspan font-style="italic">z</tspan><tspan font-size="6" dy="2.1" font-style="italic">R</tspan><tspan font-size="6" dx="-3.3" dy="-5.8" font-style="italic">a</tspan><tspan font-size="5" dy="2.3">MIM</tspan></text><text x="318" y="239.1" font-size="8.6"><tspan font-style="italic">z</tspan><tspan font-size="6" dy="1.7">peak</tspan><tspan dy="-1.7"> = 2</tspan><tspan font-style="italic">z</tspan><tspan font-size="6" dy="2.1" font-style="italic">R</tspan><tspan font-size="6" dx="-3.3" dy="-5.8" font-style="italic">a</tspan><tspan font-size="5" dy="2.3">MIM</tspan></text><text x="440.7" y="162.6" font-size="10" text-anchor="end">1</text><text x="440.7" y="208.8" font-size="10" text-anchor="end">0.5</text><text x="440.7" y="256.2" font-size="10" text-anchor="end">0</text><text x="444.9" y="265.7" font-size="10" text-anchor="middle">−2</text><text x="467" y="265.7" font-size="10" text-anchor="middle">−1</text><text x="491.3" y="265.7" font-size="10" text-anchor="middle">0</text><text x="513.4" y="265.7" font-size="10" text-anchor="middle">1</text><text x="535.4" y="265.7" font-size="10" text-anchor="middle">2</text><text x="492.3" y="274" font-size="10" text-anchor="middle"><tspan font-style="italic">y</tspan> (μm)</text><text x="45.8" y="419.4" font-size="10" text-anchor="end">1</text><text x="45.8" y="465.7" font-size="10" text-anchor="end">0.5</text><text x="45.8" y="513.1" font-size="10" text-anchor="end">0</text><text x="50" y="522.5" font-size="10" text-anchor="middle">−2</text><text x="72.3" y="522.5" font-size="10" text-anchor="middle">−1</text><text x="96.8" y="522.5" font-size="10" text-anchor="middle">0</text><text x="119" y="522.5" font-size="10" text-anchor="middle">1</text><text x="141.2" y="522.5" font-size="10" text-anchor="middle">2</text><text x="97.5" y="532" font-size="10" text-anchor="middle"><tspan font-style="italic">y</tspan> (μm)</text><text x="57.9" y="422.3" font-size="8.6"><tspan font-style="italic">z</tspan><tspan font-size="6" dy="1.7">peak</tspan><tspan dy="-1.7"> = 0</tspan></text><text x="56.6" y="460.2" font-size="8.6"><tspan font-style="italic">z</tspan><tspan font-size="6" dy="1.7">peak</tspan><tspan dy="-1.7"> = </tspan><tspan font-style="italic">z</tspan><tspan font-size="6" dy="2.1" font-style="italic">R</tspan><tspan font-size="6" dx="-3.3" dy="-5.8" font-style="italic">s</tspan><tspan font-size="5" dy="2.3">MIM</tspan></text><text x="56.6" y="494.9" font-size="8.6"><tspan font-style="italic">z</tspan><tspan font-size="6" dy="1.7">peak</tspan><tspan dy="-1.7"> = 2</tspan><tspan font-style="italic">z</tspan><tspan font-size="6" dy="2.1" font-style="italic">R</tspan><tspan font-size="6" dx="-3.3" dy="-5.8" font-style="italic">s</tspan><tspan font-size="5" dy="2.3">MIM</tspan></text><text x="176.1" y="419.6" font-size="10" text-anchor="end">1</text><text x="176.1" y="466.1" font-size="10" text-anchor="end">0.5</text><text x="176.1" y="513.6" font-size="10" text-anchor="end">0</text><text x="180.3" y="523" font-size="10" text-anchor="middle">−2</text><text x="202.5" y="523" font-size="10" text-anchor="middle">−1</text><text x="226.9" y="523" font-size="10" text-anchor="middle">0</text><text x="249" y="523" font-size="10" text-anchor="middle">1</text><text x="271.2" y="523" font-size="10" text-anchor="middle">2</text><text x="229.1" y="532.5" font-size="10" text-anchor="middle"><tspan font-style="italic">y</tspan> (μm)</text><text x="308.9" y="419.8" font-size="10" text-anchor="end">1</text><text x="308.9" y="465.7" font-size="10" text-anchor="end">0.5</text><text x="308.9" y="512.8" font-size="10" text-anchor="end">0</text><text x="313.1" y="522.1" font-size="10" text-anchor="middle">−2</text><text x="335.2" y="522.1" font-size="10" text-anchor="middle">−1</text><text x="359.5" y="522.1" font-size="10" text-anchor="middle">0</text><text x="381.6" y="522.1" font-size="10" text-anchor="middle">1</text><text x="403.7" y="522.1" font-size="10" text-anchor="middle">2</text><text x="360.8" y="532" font-size="10" text-anchor="middle"><tspan font-style="italic">y</tspan> (μm)</text><text x="321.7" y="425.9" font-size="8.6"><tspan font-style="italic">z</tspan><tspan font-size="6" dy="1.7">peak</tspan><tspan dy="-1.7"> = 0</tspan></text><text x="319" y="461.4" font-size="8.6"><tspan font-style="italic">z</tspan><tspan font-size="6" dy="1.7">peak</tspan><tspan dy="-1.7"> = </tspan><tspan font-style="italic">z</tspan><tspan font-size="6" dy="2.1" font-style="italic">R</tspan><tspan font-size="6" dx="-3.3" dy="-5.8" font-style="italic">a</tspan><tspan font-size="5" dy="2.3">MIM</tspan></text><text x="317.7" y="498.4" font-size="8.6"><tspan font-style="italic">z</tspan><tspan font-size="6" dy="1.7">peak</tspan><tspan dy="-1.7"> = 2</tspan><tspan font-style="italic">z</tspan><tspan font-size="6" dy="2.1" font-style="italic">R</tspan><tspan font-size="6" dx="-3.3" dy="-5.8" font-style="italic">a</tspan><tspan font-size="5" dy="2.3">MIM</tspan></text><text x="440.4" y="419.8" font-size="10" text-anchor="end">1</text><text x="440.4" y="466.1" font-size="10" text-anchor="end">0.5</text><text x="440.4" y="513.5" font-size="10" text-anchor="end">0</text><text x="444.6" y="522.9" font-size="10" text-anchor="middle">−2</text><text x="466.8" y="522.9" font-size="10" text-anchor="middle">−1</text><text x="491.1" y="522.9" font-size="10" text-anchor="middle">0</text><text x="513.3" y="522.9" font-size="10" text-anchor="middle">1</text><text x="535.4" y="522.9" font-size="10" text-anchor="middle">2</text><text x="492.4" y="531.8" font-size="10" text-anchor="middle"><tspan font-style="italic">y</tspan> (μm)</text></svg></body></html>
